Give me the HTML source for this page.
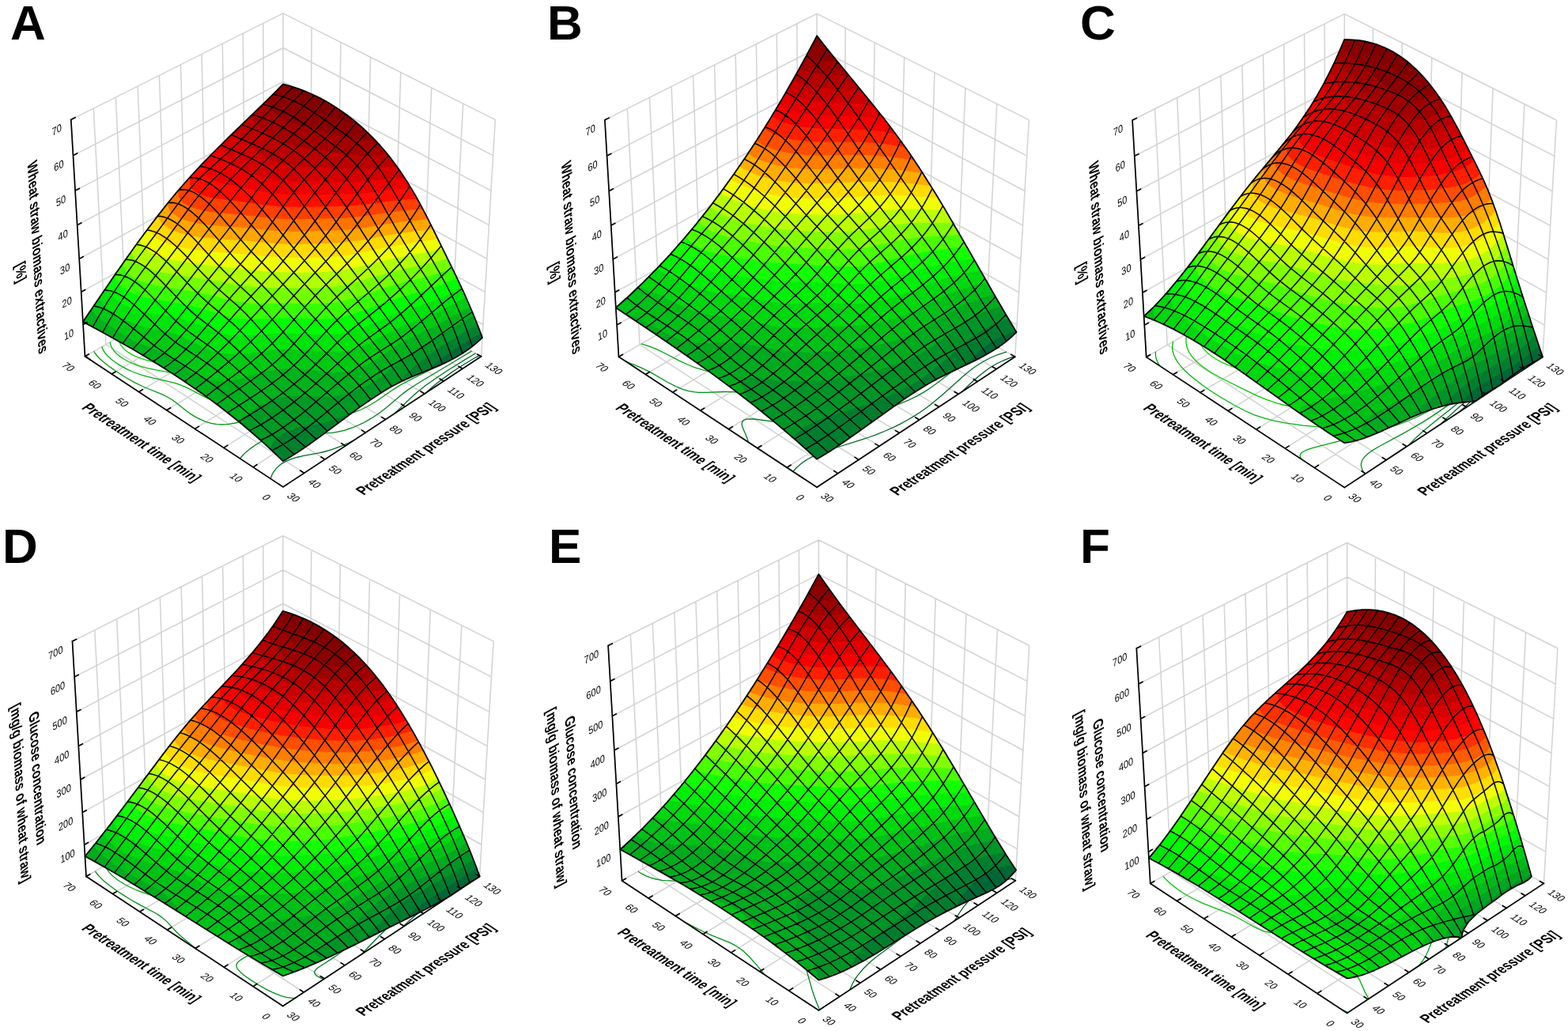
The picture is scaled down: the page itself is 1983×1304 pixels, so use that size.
<!DOCTYPE html><html><head><meta charset="utf-8"><title>Response surface plots</title><style>html,body{margin:0;padding:0;background:#fff}svg{display:block}text{font-family:"Liberation Sans",Arial,sans-serif;fill:#000}</style></head><body><svg xmlns="http://www.w3.org/2000/svg" width="1983" height="1304" viewBox="0 0 1983 1304"><rect width="1983" height="1304" fill="#fff"/><g id="panelA"><path d="M107.5 450.8L89.8 151.3M134 435.5L118.3 137M160.2 420.4L146.4 122.9M186 405.5L174.2 109M211.6 390.7L201.5 95.3M236.7 376.2L228.5 81.8M261.6 361.8L255.1 68.5M286.2 347.7L281.3 55.3M310.4 333.7L307.2 42.3M334.4 319.8L332.8 29.5M358 306.2L358 16.9M608.6 450.8L626.3 151.3M570.8 429L585.6 131M533.7 407.6L545.8 111M497.3 386.6L506.8 91.4M461.5 365.9L468.5 72.2M426.4 345.6L431 53.4M391.9 325.7L394.2 35M358 306.2L358 16.9M107.5 450.8L358 306.2M358 306.2L608.6 450.8M105.1 410.5L358 267M358 267L611 410.5M102.7 369.4L358 227.2M358 227.2L613.4 369.4M100.2 327.4L358 186.7M358 186.7L615.9 327.4M97.7 284.7L358 145.4M358 145.4L618.4 284.7M95.1 241.1L358 103.3M358 103.3L621 241.1M92.5 196.7L358 60.5M358 60.5L623.6 196.7M89.8 151.3L358 16.9M358 16.9L626.3 151.3M358 615.9L107.5 450.8M384.7 598.3L134 435.5M410.9 581L160.2 420.4M436.8 564L186 405.5M462.4 547.2L211.6 390.7M487.6 530.6L236.7 376.2M512.4 514.2L261.6 361.8M537 498L286.2 347.7M561.2 482.1L310.4 333.7M585 466.4L334.4 319.8M608.6 450.8L358 306.2M358 615.9L608.6 450.8M320.1 590.9L570.8 429M282.9 566.4L533.7 407.6M246.4 542.4L497.3 386.6M210.7 518.8L461.5 365.9M175.6 495.7L426.4 345.6M141.2 473.1L391.9 325.7M107.5 450.8L358 306.2" fill="none" stroke="#d2d2d2" stroke-width="1.5"/><g fill="none" stroke-width="1.3"><path d="M606.4 449.6L598.6 453.8L588.7 459.7L579 465.8L569.6 472.1L560.5 478.7L551.6 485.5L545.3 490.8L538.7 496.9" stroke="#00582d"/><path d="M447.9 556.7L441.1 560L431.8 564.2L418.8 568.9L409.6 571.5L403.5 572.9L383.1 576.7L375.3 578.5L368.1 580.7L361.6 583.4L356 586.6L353.5 588.5L349.2 592.6L345.7 597.3L344.3 599.8L342.1 605.4M601.6 446.8L586.8 455.6L567.3 467.8L553 477.2L539 487L530.1 493.9L523.8 499.3L498.7 523.2" stroke="#006d26"/><path d="M116.3 456.6L108.6 450.2M596.6 443.9L572.1 458.8L534.4 481.3L522 489L514.8 493.9L508.1 499.1L488.7 515.4L479.6 522.5L472.2 527.5L467 530.6L458.7 535.2L452.8 538L445.8 540.9L435.3 544.4L427.3 546.2L420.5 547.3L414.5 547.7L403.9 547.8L383.3 546.6L372.6 546.4L363.2 547.1L356.2 548.3L351.3 549.5L344.4 551.8L338 554.5L332.1 557.4L323.9 562.3L316.3 567.6L311.6 571.4L307.3 575.5L303.5 580" stroke="#00821e"/><path d="M591.3 440.9L576.8 449.8L561.5 458.5L545.6 466.9L515.5 482.1L504.8 487.9L494.9 494.2L475.8 507.5L465.5 513.8L456.9 518L447.2 521.6L442.2 523L434.9 524.4L428.7 525.1L422.1 525.3L410.7 524.6L387.5 521.6L378.8 520.8L367.9 520.4L357.9 520.8L349.4 521.7L337.4 524L326.3 526.8L305 533.1L297.5 535L289.4 536.4L285.8 536.8L280.3 537L274.1 536.6L266.9 535.4L260.2 533.4L251.1 529.4L245.6 526.4L240.5 523.1L235.8 519.7L222.4 509L217.7 505.7L212.6 502.5L204.1 498.3L185.7 491L179.8 488.5L171.4 484.4L163.5 480L155.9 475.5L146.3 469.2L139.4 464.4L132.9 459.4L126.8 454.2L123.1 450.5L120 446.5L118.8 444.3" stroke="#009716"/><path d="M585.7 437.6L578.5 442.1L568.4 447.8L552.3 456L538 462.4L508.3 474.8L496.6 479.9L485.6 485.5L466.9 495.8L458.4 500L452.2 502.5L444.5 504.9L437.9 506.3L433.8 506.9L424.8 507.7L419.7 507.8L405 507.2L374 504.8L363.3 504.5L357.7 504.6L349 505.2L340.2 506.1L310.6 510.2L301.6 510.9L296.3 511L291.1 510.8L282.5 510L278.2 509.1L271.4 507.3L262 503.6L240 492.1L234.2 489.4L228.2 486.9L221.7 484.7L214.7 482.8L192.5 477.9L181.9 475.1L175.3 473L166.1 469.5L160.5 466.8L152.6 462.6L145.4 458L141 454.6L137 451.1L133.5 447.3L130.7 443.2L129.7 440.9L128.9 438.5" stroke="#00ac0f"/><path d="M579.9 434.3L572.4 438.6L564.5 442.7L553.3 447.8L544.5 451.5L532.3 456.1L503.7 466L491.3 470.6L482.2 474.3L461.8 483.4L452.7 487.2L442.8 490.5L435.6 492.3L426 493.8L413.8 494.6L403.6 494.6L375.9 493.2L360.2 493L345.8 493.5L315.6 495.8L305.1 496L295.7 495.4L291.5 494.9L283.8 493.4L273.6 490.2L249.4 480.2L243.1 477.9L236.4 475.8L229.3 474L221.9 472.4L198.5 468.2L187.3 465.9L176.9 463.1L170.6 460.9L162.8 457.5L156.8 454.2L152.1 451.1L147.9 447.7L144.3 444L141.5 439.8L139.9 436.1L139.1 432.6" stroke="#00c108"/><path d="M573.8 430.8L560.2 437.3L545.3 443.1L532.5 447.3L495.9 458.3L480 463.9L449.1 475.7L439.1 478.9L431.1 480.8L419.9 482.6L406.6 483.5L395.8 483.5L362.1 482.7L349.2 482.9L324.7 483.9L315.3 483.9L305.1 483.4L300.8 482.9L293 481.5L282.3 478.7L256.3 469.9L245.9 467L231 463.9L195.6 458L184.9 455.4L178.3 453.4L172.2 451.1L166.7 448.4L161.8 445.4L157.6 442.1L154.1 438.3L151.5 434L149.9 429.7L149.3 426.7" stroke="#00d700"/><path d="M567.6 427.2L558.9 430.7L546.4 435L536.4 437.9L508.7 445.1L495.1 448.9L478.8 454.1L446.8 465.1L436.6 468.1L427.8 470.1L417.3 471.7L403.3 472.8L393 472.9L358.3 472.5L327.6 472.7L313.6 472L301.2 470.3L290 467.8L265.6 461.2L254.7 458.7L239.4 455.9L207.7 450.8L196.6 448.5L189.7 446.7L183.3 444.6L177.5 442.1L172.5 439.2L168.1 435.9L164.6 432.2L161.9 428L160.2 423.2L159.7 420.7" stroke="#2ed800"/><path d="M561.3 423.5L551.7 426.6L542.2 429.1L509.4 436.7L495.3 440.1L481.7 443.9L448 454.1L438 456.8L426.8 459.1L418.8 460.3L411.8 461.1L396.2 461.9L381.2 462L345.8 461.5L331.6 460.9L323.1 460.3L305.8 458.2L267.3 451.2L219.9 443.6L208.6 441.4L201.6 439.7L195 437.7L189.1 435.3L183.8 432.6L179.3 429.4L175.6 425.8L172.9 421.7L171.8 419.4L170.3 414.5" stroke="#62d800"/><path d="M554.9 419.8L537.3 423.9L511.2 429L496.5 432.1L482.4 435.4L449 444.1L440.2 446L428.6 448L415 449.7L398.4 450.6L378.2 450.9L358.5 450.5L344.6 449.9L326.9 448.4L262.2 441L235.7 437.2L224.3 435.1L217.1 433.5L210.2 431.7L203.9 429.6L198.2 427.1L193.2 424.2L188.9 421L185.5 417.2L182.9 413L181.2 408.3" stroke="#96d800"/><path d="M548.6 416.2L537.4 418.3L498.9 424.7L484.2 427.7L454.5 434.3L444 436.3L434 437.8L419.1 439.3L400.8 440.3L376.6 440.8L359.9 440.5L341.8 439.3L303.4 435.6L275.1 433.5L263.7 432.4L247.4 430.3L232.3 427.4L222 424.8L215.7 422.6L209.9 420.2L204.8 417.4L200.5 414.2L196.9 410.6L194.2 406.5L192.4 401.8" stroke="#cad800"/><path d="M542.3 412.5L502.3 418L487.1 420.7L453.5 427.2L443.7 428.7L433.3 429.9L414.9 431.1L387.1 432L368.4 432.2L354.3 431.7L341.1 430.7L310.2 427.5L280.1 425.5L267.1 424.5L252.7 422.6L239.9 420L230 417.2L223.9 414.9L218.5 412.3L213.8 409.3L209.8 405.9L206.7 402L205.5 399.9L204.7 397.5L204.1 395" stroke="#d8b900"/><path d="M535.9 408.9L502.7 412.4L490.9 414.2L457.6 420L444.9 421.7L436 422.6L417.9 423.7L380 424.7L365.7 424.8L351.8 424.2L338.8 423L309.5 419.8L270.2 416.7L258.2 415.1L246.7 412.6L240.7 410.9L234.7 408.7L229.3 406L224.6 403L220.8 399.5L219.3 397.6L218.1 395.5L217.1 393.2L216.7 390.9L216.5 387.9" stroke="#d88d00"/><path d="M529.2 405L516.1 405.9L503.4 407.2L491.4 408.7L457.3 414L445.1 415.5L435.1 416.3L421.4 416.9L376.8 418L362.2 417.9L348.7 417.1L336 415.8L307.3 412.3L273.6 408.9L262 407.1L251.6 404.5L245.5 402.3L240.2 399.7L235.8 396.5L233.9 394.8L232.3 392.9L231 390.8L230.1 388.5L229.6 386L229.5 383.7L229.9 380.1" stroke="#d86100"/><path d="M522.2 400.9L508.7 401.7L500.2 402.4L456.6 408.3L444.9 409.5L434.7 410.1L372.8 411.4L358.6 411.1L345.6 410L278 400.5L267.1 398.3L260.6 396.3L257.6 395.2L252.4 392.5L248.5 389.4L246.7 387.3L245 384.3L244 380.4L243.9 377.6L244.7 371.6" stroke="#d83500"/><path d="M514.4 396.5L505.4 396.9L496.8 397.6L460.5 402.2L450.3 403.1L439.5 403.7L371 404.4L360.3 404.1L347.6 402.9L339.8 401.7L328.5 399.6L292.5 391.9L282.4 389.3L276.3 387.1L273.5 385.9L268.9 382.9L267 381.2L265.4 379.3L264.2 377.1L263.4 374.8L262.8 372.4L261.1 362.1" stroke="#d80a00"/><path d="M505.8 391.5L492.8 392.5L461.7 396.1L450.6 396.9L442.2 397.2L430.6 397.1L401.8 396.4L368.4 396.2L359.7 395.6L349.1 394.2L337.1 391.6L324.2 387.6L312.6 382.9L304.9 378.9L300.4 375.8L296.5 372.4L293.3 368.7L284.5 356.9L279.3 351.6" stroke="#c90000"/><path d="M496 385.8L462.8 389.4L452.2 389.9L444.4 389.8L433.5 389.3L405.7 387.2L376.1 385.8L367.7 385L356.4 382.9L349.9 381.1L343.9 378.8L338.6 376.2L331.6 371.7L327.5 368.5L323.7 365L308.1 348.8L298.8 340.4" stroke="#b50000"/><path d="M484.4 379.2L471.9 380.7L461.1 381.4L451.5 381.3L442.9 380.7L431.1 379L405.1 374.1L382.2 370.5L375 369L368.4 367.2L362.3 365L354.3 361.2L347.2 356.9L340.7 352.2L332.8 345.6L325.7 338.6L321.2 332.9L318.9 328.7" stroke="#a00000"/><path d="M469.9 370.8L463.3 371.1L455.5 370.8L450.2 370.3L442.8 368.9L432.6 366.3L414.1 360.8L386.6 353.5L377.1 350.5L371.3 348.3L365.8 345.9L358.3 341.9L351.6 337.4L347.7 334.1L344.3 330.6L341.5 326.7L339.5 322.3L338.4 317.5" stroke="#8c0000"/><path d="M449.3 358.9L442.6 357.3L436.1 355.4L411.7 347.1L391.2 339.4L383 335.8L377.9 333.2L373.2 330.4L368.9 327.3L365.6 324.2L363.7 322.1L361.7 319.2L359.9 316L356.5 307.1" stroke="#780000"/></g><g fill-rule="evenodd" stroke="none"><path d="M358 583.3L344.5 570.4L331.1 558.2L317.8 546.5L304.5 535.3L291.4 524.7L275.7 512.5L262.7 502.9L247.2 491.9L231.9 481.4L216.7 471.5L201.7 462L184.3 451.4L167.1 441.3L150.1 431.7L130.9 421L104.9 406.9L128 372.9L145.9 346.8L161.2 324.9L174 307L186.8 289.7L199.6 272.9L212.3 256.7L222.5 244.3L232.7 232.5L242.9 221.1L253.1 210.1L265.7 197L288.4 174.4L335.8 128.6L348.2 116.4L358 106.4L367.9 109.1L377.8 112.3L387.8 116.2L395.3 119.5L405.4 124.4L413 128.6L423.1 134.7L430.7 139.7L440.9 147.1L448.6 153.2L456.3 159.7L464 166.8L471.7 174.4L479.4 182.6L487.2 191.5L492.3 197.9L500 208L505.1 215.1L510.2 222.7L515.3 230.6L520.4 238.9L525.5 247.5L530.6 256.6L538.1 270.9L545.7 285.8L570.7 336.6L578.2 352.1L585.6 367.9L593 384.5L597.9 396L605.2 414.2L610 427.1L602.8 433.6L598 437.6L593.3 441.2L588.5 444.6L583.7 447.7L574.2 453.3L564.6 458.2L555.1 462.6L523.5 475.4L516.2 478.6L508.8 482L501.3 485.7L496.3 488.3L483.7 495.7L471 503.9L455.6 514.6L442.7 524L408.7 549.4L390.2 562.7L374.2 573.5L366.1 578.5L358 583.3Z" fill="#006836"/><path d="M358 583.3L344.5 570.4L331.1 558.2L317.8 546.5L304.5 535.3L291.4 524.7L275.7 512.5L262.7 502.9L247.2 491.9L231.9 481.4L216.7 471.5L201.7 462L184.3 451.4L167.1 441.3L150.1 431.7L104.9 406.9L145.9 346.8L161.2 324.9L174 307L186.8 289.7L199.6 272.9L212.3 256.7L222.5 244.3L232.7 232.5L242.9 221.1L253.1 210.1L265.7 197L288.4 174.4L335.8 128.6L358 106.4L367.9 109.1L377.8 112.3L387.8 116.2L395.3 119.5L405.4 124.4L413 128.6L423.1 134.7L430.7 139.7L440.9 147.1L448.6 153.2L456.3 159.7L464 166.8L471.7 174.4L479.4 182.6L487.2 191.5L492.3 197.9L500 208L505.1 215.1L515.3 230.6L525.5 247.5L530.6 256.6L538.1 270.9L545.7 285.8L570.7 336.6L583.1 362.6L590.5 378.9L595.5 390.2L602.8 408L608 421.8L600.2 425.9L590.2 431.8L580.5 437.9L571 444.2L561.8 450.7L552.9 457.5L546.5 462.8L539.9 468.8L518.6 477.5L511.2 480.8L503.8 484.4L491.3 491.2L476.1 500.5L465.9 507.4L453.1 516.5L408.7 549.4L392.9 560.8L376.9 571.7L360.7 581.7Z" fill="#00812d"/><path d="M342 568L331.1 558.2L317.8 546.5L304.5 535.3L291.4 524.7L278.3 514.5L265.3 504.8L252.4 495.5L237 484.8L224.3 476.4L209.2 466.7L194.2 457.4L179.4 448.5L147.7 430.3L104.9 406.9L145.9 346.8L161.2 324.9L174 307L186.8 289.7L199.6 272.9L212.3 256.7L222.5 244.3L232.7 232.5L242.9 221.1L253.1 210.1L265.7 197L288.4 174.4L335.8 128.6L358 106.4L367.9 109.1L375.3 111.5L385.3 115.2L392.8 118.3L402.9 123.1L410.4 127.1L420.6 133.1L428.2 138L440.9 147.1L451.2 155.3L458.9 162L464 166.8L474.3 177.1L484.6 188.5L494.9 201.2L505.1 215.1L512.8 226.6L523 243.1L530.6 256.6L538.1 270.9L548.2 290.9L573.2 341.7L583.1 362.6L593 384.5L597.9 396L603.7 410.5L588.7 419.2L571.6 429.8L557.1 439.1L545.2 447.1L533.8 455.5L525.2 462.6L519.1 468.2L505.2 481.6L500 486.4L488.8 492.6L476.1 500.5L463.3 509.2L448.7 519.6L441.8 522.9L432.5 527L425.9 529.5L419.3 531.8L410 534.4L402 536.2L383.3 539.6L375.4 541.3L368.2 543.5L361.7 546.2L356 549.4L353.5 551.2L351.2 553.2L349.1 555.3L347.3 557.5L345.6 560L344.2 562.5L342 567.9Z" fill="#009a24"/><path d="M302.9 533.9L283.5 518.5L265.3 504.8L244.7 490.1L224.3 476.4L199.2 460.4L174.5 445.6L147.7 430.3L113.7 411.6L106 405.2L140.8 354.2L166.3 317.7L189.3 286.3L199.6 272.9L209.8 259.9L222.5 244.3L235.3 229.6L248 215.6L260.7 202.2L283.4 179.3L333.4 131L358 106.4L367.9 109.1L377.8 112.3L387.8 116.2L395.3 119.5L402.9 123.1L410.4 127.1L418 131.5L425.6 136.3L433.3 141.5L440.9 147.1L448.6 153.2L456.3 159.7L464 166.8L469.2 171.8L476.9 179.8L482 185.5L489.7 194.7L494.9 201.2L505.1 215.1L515.3 230.6L525.5 247.5L535.6 266L548.2 290.9L578.2 352.1L590.5 378.9L599.1 399L569.4 416.7L536.3 436L523.7 443.8L516.5 448.6L509.7 453.7L490.2 469.9L480.9 476.9L473.5 481.9L468.2 485L462.7 488L453.9 492.3L446.8 495.2L436.2 498.6L428 500.5L421.2 501.5L415.1 502L404.4 502.1L383.6 500.9L372.7 500.7L363.3 501.4L356.2 502.5L351.2 503.8L344.2 506L337.8 508.6L331.8 511.6L326.2 514.8L318.4 519.9L313.4 523.6L308.8 527.5L304.7 531.7Z" fill="#00b21b"/><path d="M177.9 434.7L169 430.5L158.4 424.7L148.4 418.6L136.7 410.7L127.9 404L121.9 398.8L118.5 395L117 393L115.8 390.8L143.3 350.5L166.3 317.7L186.8 289.7L204.7 266.3L222.5 244.3L237.8 226.7L255.6 207.5L275.8 186.8L293.5 169.5L335.8 128.6L358 106.4L367.9 109.1L375.3 111.5L382.8 114.2L390.3 117.2L397.8 120.6L405.4 124.4L413 128.6L420.6 133.1L428.2 138L435.8 143.4L448.6 153.2L456.3 159.7L461.5 164.4L469.2 171.8L474.3 177.1L482 185.5L487.2 191.5L497.4 204.5L507.7 218.9L515.3 230.6L523 243.1L533.1 261.3L545.7 285.8L573.2 341.7L585.6 367.9L594.2 387.4L579.5 396.2L564.1 404.8L545.2 414.5L520.2 426.8L506.7 434L496.7 440.2L474.8 455L469.6 458.1L464.1 461.1L455.1 465L448.4 467.3L441 469.2L432.7 470.5L424.1 470.9L417.4 470.8L409.7 470.1L391.6 467.8L379.1 466.5L368 466.1L358.1 466.5L349.2 467.5L337.1 469.7L325.9 472.5L304.3 478.7L299.4 479.9L291.5 481.6L284.9 482.4L279.3 482.6L274.4 482.3L270.1 481.8L265.7 480.9L259 479L255.7 477.7L249.7 475L244.1 472.1L239 468.8L234.2 465.4L220.7 454.8L215.8 451.5L210.7 448.4L205.5 445.7L202.2 444.3L180.4 435.8Z" fill="#00cb12"/><path d="M163.2 407L157.5 404.4L149.6 400.2L142.3 395.6L137.8 392.3L133.8 388.9L130.3 385.1L127.4 381L126.3 378.8L125.6 376.4L148.4 343.1L168.9 314.1L186.8 289.7L204.7 266.3L217.4 250.5L230.2 235.4L242.9 221.1L258.1 204.8L280.9 181.8L333.4 131L358 106.4L367.9 109.1L375.3 111.5L382.8 114.2L390.3 117.2L397.8 120.6L405.4 124.4L418 131.5L425.6 136.3L433.3 141.5L446.1 151.1L453.8 157.5L458.9 162L466.6 169.3L471.7 174.4L479.4 182.6L484.6 188.5L494.9 201.2L505.1 215.1L515.3 230.6L523 243.1L533.1 261.3L543.2 280.8L570.7 336.6L580.6 357.3L589.1 375.6L581.7 380L574.1 384.2L560.7 391L549.4 396.3L543.6 398.8L510.5 412.2L498.7 417.3L487.5 422.9L468.5 433.1L459.9 437.2L453.6 439.6L446.8 441.7L439.1 443.4L430.5 444.5L420.7 444.8L410.5 444.6L377.9 442.2L363.1 441.7L353.5 442L344.3 442.7L312.9 446.9L305.3 447.6L295.5 448L290.3 447.9L281.4 447L273.6 445.4L270.1 444.4L263.6 442.1L257.7 439.4L241 430.8L235.3 428L229.4 425.4L223 423.1L216.2 421L212.6 420.1L190 415.3L182.7 413.5L172.6 410.5L163.3 407Z" fill="#00e40a"/><path d="M159.6 386.5L156 384.7L151 381.7L146.4 378.5L142.5 375L139.2 371.2L137.9 369.1L136.8 366.8L136 364.4L135.4 361.9L163.8 321.3L176.6 303.5L189.3 286.3L202.1 269.6L212.3 256.7L225.1 241.3L235.3 229.6L253.1 210.1L273.3 189.3L290.9 171.9L335.8 128.6L358 106.4L367.9 109.1L377.8 112.3L387.8 116.2L395.3 119.5L402.9 123.1L410.4 127.1L423.1 134.7L435.8 143.4L448.6 153.2L456.3 159.7L461.5 164.4L471.7 174.4L479.4 182.6L484.6 188.5L494.9 201.2L505.1 215.1L512.8 226.6L523 243.1L530.6 256.6L538.1 270.9L545.7 285.8L573.2 341.7L583.6 363.6L575.9 367.8L570.6 370.5L562.3 374.4L553.7 378.2L538.4 384L506.2 394.8L493.5 399.4L484.3 403.1L463.6 412.1L454.3 415.8L444.3 419L436.9 420.8L428.7 422.1L419.7 422.9L414.8 423.1L404.3 423L376.2 421.7L361 421.5L345.6 422L320.6 423.9L309.4 424.4L299.3 424.3L290.4 423.4L282.5 421.9L275.5 419.9L265.9 416.3L247.5 408.9L241.1 406.6L234.4 404.5L227.2 402.7L219.6 401.1L195.8 397.1L184.4 394.8L172.9 391.7L167.5 389.8L161.5 387.4Z" fill="#00fd01"/><path d="M170.9 372.3L165.9 370.1L160.6 367.4L155.9 364.2L152 360.7L150.3 358.8L148.9 356.8L147.6 354.7L146.6 352.4L145.9 350L145.5 347.4L166.3 317.7L186.8 289.7L204.7 266.3L220 247.4L230.2 235.4L240.3 223.9L253.1 210.1L265.7 197L288.4 174.4L335.8 128.6L358 106.4L365.4 108.3L372.8 110.6L385.3 115.2L392.8 118.3L400.3 121.9L413 128.6L420.6 133.1L428.2 138L440.9 147.1L453.8 157.5L461.5 164.4L466.6 169.3L474.3 177.1L479.4 182.6L489.7 194.7L500 208L510.2 222.7L520.4 238.9L528 252L535.6 266L543.2 280.8L577.9 351.4L572.4 354.1L564 357.8L549 363.5L538.5 366.9L508.5 375.5L495.2 379.6L482.3 384L457.3 393.4L447.5 396.8L437 399.7L429.4 401.3L421 402.5L411.9 403.2L401.8 403.4L372.4 402.6L359.1 402.5L318.7 403.8L308.7 403.6L299.7 402.7L291.7 401.4L284.4 399.6L277.5 397.5L254.3 390L243.8 387.1L236.4 385.5L228.6 384L200.4 379.6L192.6 378.2L181.6 375.7L171.7 372.6Z" fill="#37ff00"/><path d="M178.7 355.9L173.8 353.8L168.6 351L164.2 347.8L162.3 346L160.6 344.1L159.1 342.1L157.9 340L156.9 337.7L156.2 335.3L155.6 332.8L176.6 303.5L194.4 279.5L212.3 256.7L227.6 238.3L237.8 226.7L248 215.6L268.3 194.4L288.4 174.4L335.8 128.6L358 106.4L365.4 108.3L372.8 110.6L385.3 115.2L392.8 118.3L400.3 121.9L413 128.6L425.6 136.3L438.4 145.2L451.2 155.3L458.9 162L464 166.8L471.7 174.4L476.9 179.8L487.2 191.5L497.4 204.5L507.7 218.9L517.9 234.7L525.5 247.5L533.1 261.3L540.6 275.8L571.9 339.2L563 342.6L550.3 346.9L540.1 349.7L511.8 356.8L498 360.5L481.3 365.6L452 375.4L441.8 378.4L430.8 381L422.8 382.4L414.1 383.4L404.7 383.9L394.7 384.1L357.8 383.7L327 383.8L317.2 383.5L308.3 382.7L300 381.5L292.3 379.9L285 378.2L263.7 372.6L252.6 370.1L240.9 368L208.6 363L196.9 360.9L186.2 358.3L179.7 356.3Z" fill="#74ff00"/><path d="M182.8 337.3L177.4 334.2L173.3 330.9L171.5 329L170 327.1L168.7 325L167.6 322.8L166.7 320.5L166.1 318L179.1 300L191.9 282.9L204.7 266.3L217.4 250.5L227.6 238.3L240.3 223.9L250.5 212.8L263.2 199.6L285.9 176.8L338.3 126.2L358 106.4L367.9 109.1L377.8 112.3L387.8 116.2L395.3 119.5L407.9 125.7L420.6 133.1L433.3 141.5L446.1 151.1L453.8 157.5L458.9 162L469.2 171.8L479.4 182.6L489.7 194.7L500 208L507.7 218.9L517.9 234.7L525.5 247.5L533.1 261.3L540.6 275.8L565.9 326.8L556.1 329.8L546.4 332.3L509.2 340.5L494.9 344L481.1 347.8L454 355.7L439.8 359.4L428.4 361.7L420.2 362.9L411.4 363.8L401.6 364.3L381.7 364.5L340.6 363.9L326.3 363.2L313 361.9L296 359.5L261.2 353.3L224.7 347.8L212.8 345.9L205.2 344.4L198 342.7L191.3 340.7L185.2 338.4Z" fill="#b1ff00"/><path d="M201 324.2L197.1 322.8L191.6 320.2L186.8 317.2L184.7 315.5L181.2 311.9L179.8 309.9L178.6 307.7L177.6 305.5L176.8 303.1L197 276.2L207.2 263.1L217.4 250.5L227.6 238.3L240.3 223.9L250.5 212.8L263.2 199.6L285.9 176.8L338.3 126.2L358 106.4L367.9 109.1L375.3 111.5L382.8 114.2L390.3 117.2L402.9 123.1L410.4 127.1L418 131.5L430.7 139.7L443.5 149.1L451.2 155.3L456.3 159.7L464 166.8L469.2 171.8L479.4 182.6L489.7 194.7L500 208L510.2 222.7L517.9 234.7L525.5 247.5L535.6 266L545.7 285.8L559.7 314.4L552.7 316.1L541.7 318.5L515 323.4L500 326.4L485.5 329.7L457.1 336.8L442.2 340L434.4 341.4L422.6 343L410.6 344L398.8 344.6L378.7 344.8L358.5 344.5L339.6 343.5L321.7 342L259.8 335.1L240.7 332.6L228.7 330.8L217.2 328.6L210 326.9L203.3 325Z" fill="#eeff00"/><path d="M202.3 304.1L198.4 301.8L196.3 300.2L192.6 296.6L191.1 294.6L189.8 292.6L188.8 290.4L188 288L204.7 266.3L217.4 250.5L230.2 235.4L242.9 221.1L258.1 204.8L280.9 181.8L333.4 131L358 106.4L365.4 108.3L372.8 110.6L385.3 115.2L392.8 118.3L400.3 121.9L413 128.6L423.1 134.7L433.3 141.5L443.5 149.1L453.8 157.5L464 166.8L471.7 174.4L482 185.5L489.7 194.7L497.4 204.5L505.1 215.1L512.8 226.6L520.4 238.9L528 252L535.6 266L543.2 280.8L553.7 302.1L542.2 304.1L514.4 308.4L502.7 310.4L487.6 313.3L457.1 319.8L446.3 321.7L438.2 322.9L423.7 324.5L412.1 325.2L397.1 325.8L382.2 326L364.8 325.9L345.9 325L306.2 321.4L269.9 318.7L254.6 317.2L240.4 315.2L232.7 313.8L225.3 312.2L218.4 310.4L211.9 308.4L206 306L203.3 304.7Z" fill="#ffda00"/><path d="M224.6 293.6L220.1 292L214.5 289.5L209.7 286.6L207.5 285L205.6 283.2L203.8 281.4L202.4 279.5L201.2 277.3L200.3 275.1L199.8 272.6L217.4 250.5L227.6 238.3L240.3 223.9L250.5 212.8L263.2 199.6L285.9 176.8L338.3 126.2L358 106.4L367.9 109.1L375.3 111.5L387.8 116.2L400.3 121.9L413 128.6L425.6 136.3L438.4 145.2L448.6 153.2L456.3 159.7L461.5 164.4L471.7 174.4L482 185.5L492.3 197.9L502.5 211.5L510.2 222.7L520.4 238.9L528 252L538.1 270.9L547.6 289.7L514.6 293.9L502.5 295.6L490.8 297.6L459.8 303.3L448.2 305.1L439.8 306.1L427.8 307.2L416.6 307.8L379 308.8L363.8 308.7L349.6 308.1L336.2 307L308.8 304.3L277.9 302.3L264.5 301.3L251.9 299.8L244 298.5L233 296.1L226.3 294.2Z" fill="#ffa600"/><path d="M232.9 277.8L228 275.8L222.8 273.1L218.5 269.9L216.6 268.2L215.1 266.3L213.8 264.2L212.9 262L212.3 259.5L212.2 256.8L227.6 238.3L245.4 218.3L260.7 202.2L275.8 186.8L293.5 169.5L335.8 128.6L358 106.4L370.4 109.8L382.8 114.2L395.3 119.5L405.4 124.4L418 131.5L428.2 138L440.9 147.1L451.2 155.3L461.5 164.4L471.7 174.4L482 185.5L489.7 194.7L500 208L507.7 218.9L517.9 234.7L525.5 247.5L533.1 261.3L541.3 277.2L515.5 279.7L503 281.2L460.7 288L451.3 289.3L441.5 290.3L429.8 291.2L418.8 291.6L375.7 292.7L361 292.6L347.1 291.8L305.8 287.7L276.3 285.7L267.5 284.9L255.1 283.3L247.5 281.9L240.4 280.2L233.9 278.2Z" fill="#ff7300"/><path d="M238.8 260.6L234 258L231.8 256.4L229.9 254.7L228.2 252.8L226.9 250.8L226 248.6L225.4 246.1L225.4 243.4L225.8 240.5L235.3 229.6L245.4 218.3L255.6 207.5L268.3 194.4L288.4 174.4L335.8 128.6L358 106.4L370.4 109.8L382.8 114.2L395.3 119.5L405.4 124.4L415.5 130L425.6 136.3L435.8 143.4L443.5 149.1L453.8 157.5L461.5 164.4L469.2 171.8L476.9 179.8L484.6 188.5L492.3 197.9L500 208L507.7 218.9L515.3 230.6L520.4 238.9L528 252L534.8 264.6L516.8 265.8L504 267.1L460.5 273.3L442.1 275.2L430.7 275.9L419.9 276.2L382.6 277.1L367.2 277.2L357.5 276.9L343.9 275.9L309.2 272L279.4 269.3L266.7 267.9L258.8 266.6L251.5 265L244.9 263L239 260.7Z" fill="#ff3f00"/><path d="M254.7 246.4L251.4 244.9L248.8 243.6L246.5 242.1L244.5 240.4L242.8 238.6L241.5 236.5L240.6 234.3L240.1 231.9L240 229.2L240.8 223.4L245.4 218.3L260.7 202.2L275.8 186.8L293.5 169.5L335.8 128.6L358 106.4L367.9 109.1L377.8 112.3L390.3 117.2L400.3 121.9L410.4 127.1L420.6 133.1L430.7 139.7L440.9 147.1L451.2 155.3L461.5 164.4L471.7 174.4L479.4 182.6L489.7 194.7L497.4 204.5L505.1 215.1L512.8 226.6L520.4 238.9L527.9 251.7L513.9 252.4L505.2 253.2L496.7 254.1L460 258.9L442.2 260.4L425.9 260.9L378.5 261.8L368.3 261.8L358.7 261.5L349.6 260.9L332.6 259L305.5 255.1L275.2 251.3L263.9 249.2L257.2 247.3Z" fill="#ff0c00"/><path d="M279.7 231.5L273.3 229.4L267.9 226.9L265.6 225.4L263.6 223.7L262 221.9L260.8 219.8L259.9 217.6L259.3 215.2L257.6 205.3L280.9 181.8L333.4 131L358 106.4L360.5 107L372.8 110.6L382.8 114.2L395.3 119.5L405.4 124.4L418 131.5L428.2 138L438.4 145.2L448.6 153.2L458.9 162L469.2 171.8L479.4 182.6L487.2 191.5L497.4 204.5L505.1 215.1L512.8 226.6L520.2 238.4L510.8 238.9L501.9 239.5L465.7 243.8L448 245.2L431.9 245.7L406.4 245.7L376.6 246.1L366.3 246L360.4 245.8L351.5 245.1L343.1 244.1L335.1 242.9L304.9 237.1L290.1 234.1L283 232.4Z" fill="#ed0000"/><path d="M321.1 220.3L313.8 217.6L308.1 215.2L302.9 212.6L298.2 209.6L296.1 208L292.4 204.6L289.2 200.9L283.3 193.3L280 189.7L276.3 186.3L293.5 169.5L335.8 128.6L358 106.4L367.9 109.1L375.3 111.5L385.3 115.2L395.3 119.5L405.4 124.4L413 128.6L423.1 134.7L433.3 141.5L443.5 149.1L451.2 155.3L458.9 162L466.6 169.3L474.3 177.1L482 185.5L489.7 194.7L497.4 204.5L505.1 215.1L511.5 224.7L498 225.6L465.7 229.1L459.8 229.6L448.7 230.1L433.4 230.1L403.5 229.4L373.7 229.4L359.7 228.7L355.4 228.2L347.4 227L339.9 225.6L332.8 223.9L322.9 220.9Z" fill="#d50000"/><path d="M338.3 201.2L335.3 199.6L330.5 196.7L324.3 191.9L318.7 186.8L306.1 174.7L296.5 166.6L335.8 128.6L358 106.4L367.9 109.1L377.8 112.3L387.8 116.2L397.8 120.6L405.4 124.4L413 128.6L425.6 136.3L433.3 141.5L440.9 147.1L453.8 157.5L461.5 164.4L466.6 169.3L474.3 177.1L479.4 182.6L489.7 194.7L494.9 201.2L501.6 210.2L467 213.6L456.1 214.1L441.3 213.9L407.7 211.5L381.4 210.4L368.1 209.4L360.1 208.2L352.9 206.6L346.4 204.6L340.5 202.3Z" fill="#bd0000"/><path d="M365.5 182.3L359.6 180.1L351.6 176.3L344.4 172L337.9 167.4L329.8 161L324.4 156L321.1 152.4L319.7 150.6L317.3 146.6L340.8 123.7L358 106.4L367.9 109.1L377.8 112.3L385.3 115.2L392.8 118.3L400.3 121.9L407.9 125.7L415.5 130L423.1 134.7L430.7 139.7L438.4 145.2L446.1 151.1L453.8 157.5L461.5 164.4L466.6 169.3L474.3 177.1L479.4 182.6L489.8 194.8L476.8 196.3L465.5 197L455.5 196.9L446.5 196.2L434.2 194.6L407.1 190L383.2 186.5L372.2 184.2L365.6 182.3Z" fill="#a50000"/><path d="M378.3 158.5L371.9 156.3L363.4 152.8L355.9 148.8L349.2 144.4L345.4 141.1L343.7 139.4L340.8 135.6L339.6 133.6L338.7 131.5L338 129.3L337.6 126.9L358 106.4L370.4 109.8L377.8 112.3L385.3 115.2L397.8 120.6L405.4 124.4L413 128.6L425.6 136.3L438.4 145.2L451.2 155.3L458.9 162L464 166.8L474.9 177.8L468 178.1L459.9 177.8L454.3 177.3L446.5 176L439.3 174.4L416.6 168.2L391.2 162.1L381.2 159.4Z" fill="#8e0000"/><path d="M394.2 139.3L386.9 136.5L381.4 134.1L376.3 131.6L371.6 128.8L367.4 125.7L363.9 122.3L361.8 119.6L360 116.5L356.4 108.1L358 106.4L370.4 109.8L380.3 113.2L390.3 117.2L400.3 121.9L410.4 127.1L418 131.5L428.2 138L435.8 143.4L446.1 151.1L453.6 157.4L446.5 155.9L436.5 153.1L414.2 146.1L395.7 139.8Z" fill="#820000"/></g><path d="M343.8 569.8L352.8 565.2L361.8 559.9L370.7 554.1L379.6 547.8L388.4 541.1L397.2 534.2L429.9 507.3L442.9 496.9L455.7 487.1L466.4 479.6L474.9 473.9L483.3 468.7L491.6 463.9L514.4 451.4L520.6 447.8L528.8 442.6L545.1 431.6L581.4 405.5L597.3 394.5M372.2 574.7L321 529.2L303.4 513.8L286 499.3L270.9 487.6L260.1 479.9L249.5 472.7L238.9 465.8L213.8 450.2L201.3 441.7L195.1 437.1L188.9 432.2L162.2 410.4L154 404.3L148 400L139.9 395L136 392.9L132 391L128.1 389.4L124.2 388.2L118.4 386.9M329.7 556.9L338.7 552.5L343.2 550L349.9 546L361.1 538.7L372.1 530.6L381 523.8L391.9 514.8L433.2 479.4L441.8 472.3L450.3 465.4L458.8 458.9L467.3 452.9L475.7 447.4L498.6 432.8L504.8 428.6L511 424.1L519.3 417.7L527.5 411L554.1 388.6L564.3 380.2L574.3 372.3L584.3 365.1M386.3 565.4L350.6 534.2L308.8 497.1L291.4 482.3L276.4 470.2L263.6 460.6L252.9 453.3L227.8 436.9L221.5 432.5L215.3 427.7L209 422.5L202.8 416.9L175.8 391.2L169.7 385.7L163.5 380.7L159.5 377.6L155.5 374.9L151.4 372.5L147.5 370.5L143.5 369L139.6 367.8L135.7 367.2L131.9 367.1M315.7 544.7L322.5 541.2L329.2 537.5L335.9 533.5L344.8 527.9L351.5 523.4L360.4 517.1L369.2 510.4L377.9 503.5L386.7 496.2L397.6 486.7L406.2 478.9L432.1 455L440.6 447.4L447 442L453.4 437L459.7 432.2L489 411.2L497.4 404.7L507.7 396.1L516 388.9L526.3 379.6L559 348.9L571.2 337.7M400.2 555.6L382.3 539.6L340.3 503.4L296.8 464.2L281.8 451.2L273.3 444.2L266.9 439.4L245.8 424.6L237.4 418.5L231.2 413.6L227 410.1L220.7 404.3L214.5 398.2L189.5 372.7L183.3 366.8L177.2 361.4L173.1 358.2L169 355.3L165 352.8L161 350.8L157 349.1L153.1 348L149.2 347.5L145.3 347.6M301.8 533L313 526.5L324.2 519.7L335.4 512.7L344.2 506.7L353.1 500.5L361.8 493.9L370.6 486.9L377.1 481.4L385.8 473.7L392.3 467.6L401 459.1L424.6 435.2L431.1 429L437.4 423.1L443.8 417.6L450.2 412.4L475.4 392.7L485.8 384.2L498.2 373.4L508.6 364L521 352L533.3 339.2L545.7 325.5L558 311M414.1 545.4L405.2 536.7L394 526.6L382.9 517.2L358.6 497.3L349.8 489.8L341.1 482L328.1 469.8L300 442.1L287.1 430.1L276.5 421.2L251.2 401.8L244.9 396.6L240.7 392.9L230.2 382.8L203.1 354.7L196.9 348.7L190.8 343.2L186.7 339.9L182.6 336.9L178.6 334.3L174.6 332.1L170.6 330.3L166.6 329.1L162.7 328.4L158.8 328.3M287.9 521.9L323.8 498.9L339.2 488.4L348 481.9L354.6 476.9L363.3 469.6L369.8 463.8L376.3 457.7L382.8 451.1L391.5 441.9L413 418.4L421.5 409.5L427.9 403.2L434.3 397.3L442.8 389.8L468 368.5L480.5 357.7L493 346.2L503.3 335.9L513.7 324.7L524.1 312.5L534.4 299.1L540.7 290.4L544.9 284.2M427.9 535.1L419 525.6L414.5 521.3L407.8 515.1L396.7 505.7L376.8 489.9L368 482.7L359.3 475.2L350.6 467.2L344.1 461L337.5 454.4L309.5 424.3L298.8 413.4L294.5 409.4L288.1 403.8L264.9 384.6L254.4 375.3L243.9 365L218.8 338.9L212.6 332.8L206.4 327.1L200.3 322L196.2 318.9L192.1 316.3L188.1 314L184.1 312.1L180.1 310.7L176.2 309.8L172.3 309.4M274.2 511.4L287.7 501.7L318.9 480.5L332.1 470.9L340.8 464.1L347.4 458.6L353.9 452.8L360.4 446.6L366.9 439.9L373.4 432.9L401.4 401L407.8 393.9L416.4 385L422.7 378.7L431.2 370.6L458.6 345.8L469 336L479.4 325.7L489.9 314.8L496.1 307.7L502.3 300.3L508.6 292.3L512.8 286.8L519 278L523.2 271.8L531.6 258.6M441.6 524.8L437.2 519.5L430.5 512.2L426 507.7L419.3 501.5L408.2 492L388.4 476.2L379.6 468.9L370.9 461.2L362.1 453L355.6 446.5L349.1 439.6L321.1 407.7L310.4 396.3L299.7 386.1L276.4 365.7L268 357.9L257.5 347.3L234.5 323.1L228.3 316.8L222.1 311L215.9 305.7L211.8 302.4L205.7 298.3L201.6 295.9L197.6 294L193.6 292.6L189.6 291.6L185.7 291.1M260.5 501.3L271.8 492.7L303 469.6L318.4 457.5L327.1 450.1L333.7 444.3L342.4 436.2L348.9 429.6L355.4 422.8L361.9 415.6L387.7 386L398.4 374.2L411.2 360.9L434.5 337.7L445 327L457.6 313.7L468.1 302.1L476.4 292.3L482.7 284.7L495.2 268.6L501.5 260L507.8 251.1L518.3 235.3M455.2 514.9L450.8 509.2L444.1 501.4L439.7 496.7L433 490L421.9 479.9L402 463.2L393.3 455.5L382.4 445.4L373.7 436.8L367.1 430L360.6 422.8L336.9 395.6L326.2 383.8L315.5 373L292.2 351.5L281.6 341.2L271.1 330.1L250.2 307.1L243.9 300.6L237.7 294.4L231.5 288.8L227.4 285.5L221.2 281L217.1 278.6L213.1 276.5L211.1 275.7L207.1 274.4L203.1 273.6L199.2 273.4M247 491.7L260.5 481.2L273.8 470.4L287.1 459.3L298.2 449.7L309.1 439.7L320.1 429.3L330.9 418.4L339.6 409.3L350.4 397.5L380.5 364.2L416.7 325.5L431.4 308.6L444.1 293.3L456.7 277.5L504.8 214.8M468.7 505.5L464.3 499.5L459.9 493.9L455.4 488.7L448.8 481.3L442.1 474.5L435.5 468L406.9 441.3L398.2 432.6L389.4 423.7L378.6 412.1L350.6 380.7L339.8 369.2L329.2 358.4L305.8 335.9L295.2 325L286.8 315.6L263.7 289L257.4 282.2L251.2 275.9L245 270.2L240.8 266.8L234.7 262.5L230.6 260.2L226.5 258.3L224.5 257.6L220.5 256.6L216.5 256.2L212.6 256.4M233.5 482.5L244.8 473.9L251.5 468.3L258.1 462.6L271.4 450.3L284.6 437.4L297.8 423.9L315.2 405.5L354.1 363.7L379.7 335.7L396.8 316.5L409.5 301.1L422.2 284.7L453.8 242L466.4 225.6L472.6 217.8L478.9 210.3L485.1 203.3L491.3 196.7M482.1 496.7L475.5 487.6L468.9 479.2L462.2 471.3L455.6 463.9L446.8 454.4L427 434L418.3 424.8L374.9 377.5L359.8 361.4L349.1 350.2L327.8 328.6L317.2 317.5L304.5 303.3L279.3 273.5L273 266.5L266.7 260.1L260.5 254.2L254.3 249.2L248.1 245.1L244.1 242.9L240 241.3L238 240.7L234 239.9L230 239.7L226 240.2M220.2 473.7L224.7 470.6L229.2 467.2L238.1 459.8L247 451.7L258 440.6L273.4 424L308.2 384.7L340.6 349.8L351.3 337.9L359.8 328.1L368.4 317.9L385.4 296.7L400.2 277.2L431.9 234.6L440.3 223.6L448.7 213L457.1 202.9L463.3 195.8L471.6 186.9L477.8 180.9M495.4 488.8L491 482.6L484.4 473.6L477.8 465.1L471.2 457L462.4 446.6L438.3 419.1L414.4 391.3L397 372L364.8 337.5L349.8 321.1L330.7 299.5L303.2 267.5L296.9 260.5L290.6 253.8L282.3 245.5L276.1 240L269.8 235.2L263.7 231.1L257.5 228L253.5 226.5L251.4 225.8L247.4 225L245.4 224.8L241.4 224.7L239.4 224.9M207 465.2L211.5 462.3L216 459L220.4 455.4L224.9 451.6L233.7 443.2L242.5 434L249.1 426.7L257.9 416.6L284 385.2L294.8 372.4L329.3 334L337.8 323.8L346.4 312.9L354.9 301.6L384.6 261.3L395.2 247.5L405.8 234.2L418.4 218.8L433.1 201.6L447.7 185.1L464.3 167M508.5 482.1L497.6 466.2L491 457.3L484.4 448.7L430 380.6L423.5 372.8L414.8 362.8L389 334.3L378.2 322.1L367.6 309.2L339.9 275L331.4 265L323 255.7L312.5 245L304.1 237.2L297.8 231.9L293.7 228.7L285.4 222.9L281.3 220.4L277.1 218.1L273 216.1L269 214.4L264.9 213L260.8 211.8L256.8 211L252.8 210.4M193.8 457.1L198.3 454.1L202.8 450.7L207.3 447L213.9 440.9L218.3 436.5L224.9 429.6L235.9 417.1L246.8 403.9L270.6 373.8L279.3 363.2L287.9 352.9L309.4 328L320.1 314.8L326.5 306.4L332.9 297.5L360.6 257.7L367 249.1L375.4 238.3L383.9 228.3L392.3 218.9L400.7 210L421.7 188.2L432.1 177L442.5 165.2L450.8 155M521.5 476.3L517.1 469.3L510.6 459.4L504.1 449.8L497.6 440.7L488.9 428.9L467.1 400.3L445.5 371.4L436.8 360.3L430.4 352.3L404.5 321.8L393.8 308.8L385.3 297.7L361.8 266.2L353.3 255.5L347 248.1L338.5 239.3L330.1 231.5L321.7 224.7L317.5 221.7L311.2 217.5L307.1 214.9L300.9 211.4L290.6 206.2L284.4 203.5L278.3 201L266.1 196.6M180.8 449.3L185.3 445.7L192 439.7L196.4 435.4L203 428.6L214 416.4L227 400.6L266 350.5L293.9 316.2L304.6 302.6L315.3 288L343 247.9L351.4 236.5L357.8 228.6L366.3 219L374.7 210.2L383.1 202L404 182.3L410.3 176.1L416.5 169.7L422.8 162.8L426.9 157.9L433.2 150.1L437.3 144.4M534.3 471.1L527.9 459.5L519.3 445.3L510.6 432.1L499.8 416.6L478.2 386.9L458.7 359.8L450.1 348.1L441.5 336.7L417.9 306.1L409.3 294.8L385.9 262.4L377.4 250.9L371 242.8L364.6 235.3L358.3 228.5L354 224.5L349.8 220.8L345.6 217.3L341.4 214.2L333 208.6L324.6 203.8L316.3 199.6L308 195.9L289.6 188L279.4 183.2M167.9 441.8L176.7 432.2L187.7 419.7L198.6 406.5L211.7 390.2L252.7 336.7L287.1 292.4L297.7 278.2L323.3 243.1L331.8 232L338.1 224.2L346.6 214.6L357.1 203.7L365.6 195.7L388.6 174.5L394.8 168.5L401.1 162.2L407.3 155.6L413.5 148.4L419.8 140.7L423.9 135.2M547.1 465.9L540.8 452.7L536.5 444.5L532.2 436.8L523.7 422.5L515 409.3L508.6 400L484.8 366.7L439.8 301.6L416.3 268.2L407.8 256.4L399.2 245L392.8 236.9L386.5 229.2L378 220L373.7 215.8L369.5 211.9L365.3 208.3L361 205L356.8 202L350.5 197.8L342.1 192.9L331.7 187.7L323.4 183.9L302.8 175L292.7 170.3M155.1 434.5L179 402.2L235.2 328.3L275.9 274.1L293 252.1L305.8 236.4L314.3 226.4L320.6 219.2L333.3 205.7L346 193.2L375.3 165.4L389.9 150.8L400.2 139.5L410.6 127.2M559.7 460.5L553.5 445.4L547.2 431.9L543 423.6L538.8 415.9L534.5 408.6L530.2 401.6L521.6 388.6L500.1 358L485.1 335.7L472.3 316L448.8 278.5L438.2 262.2L431.8 252.9L427.5 247L421.1 238.7L414.7 230.8L410.4 225.8L404 218.8L397.6 212.3L391.3 206.3L387 202.6L380.7 197.3L374.3 192.5L368 188.1L361.7 184L355.4 180.2L349.1 176.8L340.8 172.5L326.3 165.9L305.8 157.6M142.4 427.3L151 413.4L159.6 400.2L168.2 387.6L176.8 375.4L192 355L224.3 312.5L256.3 268.7L264.9 257.5L271.3 249.6L282 237.3L292.6 225.9L303.2 215.3L337 182.3L357.9 161.5L378.7 140.2L397.3 120.4M572.3 454.3L566.2 437.7L560 422.9L553.8 409.6L549.5 401.6L545.3 394L541 386.9L534.6 376.8L511 342L496.1 318.8L485.4 301.4L462.1 261.2L453.6 247.5L449.3 241L445.1 234.9L438.7 226.6L434.4 221.5L428 214.4L421.6 208.1L415.1 202.2L406.6 195.1L398.1 188.3L387.5 180.4L379.1 174.5L370.7 168.9L362.3 163.8L354 159.2L347.7 156L339.5 152.1L333.3 149.6L325.1 146.7L319 144.9M129.8 420.4L138.3 405.3L146.8 391.1L155.4 377.8L166.1 362.1L181.2 341.4L213.4 298.7L241.2 260.5L247.6 252.1L254 244.2L262.5 234.5L271 225.8L279.6 217.8L302.9 196.8L317.6 182.6L332.3 167.7L365.6 133.1L375.9 122.7L384.1 114.7M584.9 447L578.9 429.4L574.8 418.7L570.7 408.9L564.5 395.4L560.3 387.1L556 379.3L547.5 364.9L524.1 328L511.3 307.1L500.7 289L479.6 251.2L471.1 236.8L466.8 230L462.6 223.7L456.2 215L451.9 209.9L445.5 203L439 196.9L432.6 191.4L424.1 184.8L402.8 169.4L392.2 161.8L383.8 156L375.5 150.6L369.2 146.8L362.9 143.4L356.7 140.3L350.5 137.6L344.3 135.3L338.2 133.5L332.1 132.3M117.3 413.6L125.7 398.7L136.4 381.2L147.1 364.8L157.8 349.2L172.8 328.4L198.5 294L221.9 262.1L230.4 251L239 240.5L247.5 230.8L251.7 226.4L258.1 220.1L266.6 212.2L287.8 193.3L302.6 179.2L315.1 166.5L350.4 130L360.7 119.7L371 110M597.4 438L591.4 420.5L587.4 409.8L583.3 399.7L579.2 390.3L575.1 381.3L570.9 372.8L564.6 360.8L556.2 345.6L535 308.7L503.4 252.1L494.9 237.3L488.5 226.8L482.2 216.8L475.8 207.7L471.5 202.1L467.2 197L460.8 190.1L454.4 184L447.9 178.5L441.5 173.6L432.9 167.4L409.6 150.8L396.9 142.2L388.5 136.9L382.3 133.2L376 129.9L369.8 126.9L363.6 124.3L357.4 122.2L351.2 120.6L345.1 119.5" fill="none" stroke="#000" stroke-width="1.5"/><path d="M358 583.3L344.5 570.4L331.1 558.2L317.8 546.5L304.5 535.3L291.4 524.7L275.7 512.5L262.7 502.9L247.2 491.9L231.9 481.4L216.7 471.5L201.7 462L184.3 451.4L167.1 441.3L150.1 431.7L130.9 421L104.9 406.9L128 372.9L145.9 346.8L161.2 324.9L174 307L186.8 289.7L199.6 272.9L212.3 256.7L222.5 244.3L232.7 232.5L242.9 221.1L253.1 210.1L265.7 197L288.4 174.4L335.8 128.6L348.2 116.4L358 106.4L367.9 109.1L377.8 112.3L387.8 116.2L395.3 119.5L405.4 124.4L413 128.6L423.1 134.7L430.7 139.7L440.9 147.1L448.6 153.2L456.3 159.7L464 166.8L471.7 174.4L479.4 182.6L487.2 191.5L492.3 197.9L500 208L505.1 215.1L510.2 222.7L515.3 230.6L520.4 238.9L525.5 247.5L530.6 256.6L538.1 270.9L545.7 285.8L570.7 336.6L578.2 352.1L585.6 367.9L593 384.5L597.9 396L605.2 414.2L610 427.1L602.8 433.6L598 437.6L593.3 441.2L588.5 444.6L583.7 447.7L574.2 453.3L564.6 458.2L555.1 462.6L523.5 475.4L516.2 478.6L508.8 482L501.3 485.7L496.3 488.3L483.7 495.7L471 503.9L455.6 514.6L442.7 524L408.7 549.4L390.2 562.7L374.2 573.5L366.1 578.5L358 583.3Z" fill="none" stroke="#000" stroke-width="1.8" stroke-linejoin="round"/><path d="M107.5 450.8L89.8 151.3M107.5 450.8L358 615.9M358 615.9L608.6 450.8M105.1 410.5L109.9 407.7M102.7 369.4L107.6 366.6M100.2 327.4L105.1 324.7M97.7 284.7L102.7 282M95.1 241.1L100.2 238.5M92.5 196.7L97.6 194M89.8 151.3L95 148.7M358 615.9L362.9 612.7M320.1 590.9L324.9 587.8M282.9 566.4L287.7 563.4M246.4 542.4L251.3 539.4M210.7 518.8L215.5 515.9M175.6 495.7L180.4 492.8M141.2 473.1L146 470.2M107.5 450.8L112.3 448.1M358 615.9L353.2 612.7M384.7 598.3L379.8 595.2M410.9 581L406.1 578M436.8 564L432 560.9M462.4 547.2L457.6 544.1M487.6 530.6L482.8 527.6M512.4 514.2L507.6 511.3M537 498L532.1 495.1M561.2 482.1L556.3 479.2M585 466.4L580.2 463.5M608.6 450.8L603.8 448.1" fill="none" stroke="#000" stroke-width="1.7" stroke-linecap="square"/><g><text transform="matrix(0.8093 -0.4375 0.0589 0.9983 93.39 424.48)" font-size="13.5" text-anchor="end">10</text><text transform="matrix(0.8093 -0.4375 0.0589 0.9983 90.97 383.36)" font-size="13.5" text-anchor="end">20</text><text transform="matrix(0.8093 -0.4375 0.0589 0.9983 88.49 341.44)" font-size="13.5" text-anchor="end">30</text><text transform="matrix(0.8093 -0.4375 0.0589 0.9983 85.97 298.70)" font-size="13.5" text-anchor="end">40</text><text transform="matrix(0.8093 -0.4375 0.0589 0.9983 83.40 255.11)" font-size="13.5" text-anchor="end">50</text><text transform="matrix(0.8093 -0.4375 0.0589 0.9983 80.78 210.66)" font-size="13.5" text-anchor="end">60</text><text transform="matrix(0.8093 -0.4375 0.0589 0.9983 78.10 165.31)" font-size="13.5" text-anchor="end">70</text><text transform="matrix(0.7683 0.5061 -0.8351 0.5501 333.03 631.59)" font-size="13.5" text-anchor="middle">0</text><text transform="matrix(0.7683 0.5061 -0.8351 0.5501 295.09 606.60)" font-size="13.5" text-anchor="middle">10</text><text transform="matrix(0.7683 0.5061 -0.8351 0.5501 257.91 582.10)" font-size="13.5" text-anchor="middle">20</text><text transform="matrix(0.7683 0.5061 -0.8351 0.5501 221.45 558.08)" font-size="13.5" text-anchor="middle">30</text><text transform="matrix(0.7683 0.5061 -0.8351 0.5501 185.69 534.53)" font-size="13.5" text-anchor="middle">40</text><text transform="matrix(0.7683 0.5061 -0.8351 0.5501 150.63 511.43)" font-size="13.5" text-anchor="middle">50</text><text transform="matrix(0.7683 0.5061 -0.8351 0.5501 116.23 488.77)" font-size="13.5" text-anchor="middle">60</text><text transform="matrix(0.7683 0.5061 -0.8351 0.5501 82.47 466.53)" font-size="13.5" text-anchor="middle">70</text><text transform="matrix(0.7683 0.5061 -0.8351 0.5501 361.63 627.89)" font-size="13.5" text-anchor="start">30</text><text transform="matrix(0.7683 0.5061 -0.8351 0.5501 388.26 610.35)" font-size="13.5" text-anchor="start">40</text><text transform="matrix(0.7683 0.5061 -0.8351 0.5501 414.53 593.04)" font-size="13.5" text-anchor="start">50</text><text transform="matrix(0.7683 0.5061 -0.8351 0.5501 440.43 575.98)" font-size="13.5" text-anchor="start">60</text><text transform="matrix(0.7683 0.5061 -0.8351 0.5501 465.98 559.15)" font-size="13.5" text-anchor="start">70</text><text transform="matrix(0.7683 0.5061 -0.8351 0.5501 491.18 542.55)" font-size="13.5" text-anchor="start">80</text><text transform="matrix(0.7683 0.5061 -0.8351 0.5501 516.03 526.17)" font-size="13.5" text-anchor="start">90</text><text transform="matrix(0.7683 0.5061 -0.8351 0.5501 540.56 510.02)" font-size="13.5" text-anchor="start">100</text><text transform="matrix(0.7683 0.5061 -0.8351 0.5501 564.75 494.08)" font-size="13.5" text-anchor="start">110</text><text transform="matrix(0.7683 0.5061 -0.8351 0.5501 588.63 478.35)" font-size="13.5" text-anchor="start">120</text><text transform="matrix(0.7683 0.5061 -0.8351 0.5501 612.19 462.83)" font-size="13.5" text-anchor="start">130</text></g><g font-weight="bold"><text transform="matrix(0.6347 0.4181 -0.8351 0.5501 173.43 563.37)" font-size="20" text-anchor="middle">Pretreatment time [min]</text><text transform="matrix(0.6363 -0.4192 0.8351 0.5501 544.13 571.37)" font-size="20" text-anchor="middle">Pretreatment pressure [PSI]</text><text transform="matrix(0.0453 0.7687 -0.8797 0.4755 41.93 328.57)" font-size="20" text-anchor="middle">Wheat straw biomass extractives</text><text transform="matrix(0.0453 0.7687 -0.8797 0.4755 20.53 347.17)" font-size="20" text-anchor="middle">[%]</text><text x="13" y="50" font-size="62">A</text></g></g><g id="panelB"><path d="M782.5 451.3L764.9 151.7M809.1 435.9L793.4 137.4M835.3 420.8L821.5 123.4M861.1 405.9L849.2 109.5M886.6 391.2L876.6 95.7M911.8 376.6L903.6 82.2M936.7 362.3L930.2 68.9M961.2 348.1L956.4 55.7M985.5 334.1L982.3 42.7M1009.4 320.3L1007.9 29.9M1033.1 306.6L1033.1 17.3M1283.7 451.3L1301.3 151.7M1245.9 429.4L1260.7 131.4M1208.8 408L1220.9 111.4M1172.3 387L1181.9 91.9M1136.6 366.3L1143.6 72.7M1101.5 346.1L1106.1 53.9M1067 326.2L1069.2 35.4M1033.1 306.6L1033.1 17.3M782.5 451.3L1033.1 306.6M1033.1 306.6L1283.7 451.3M780.2 410.9L1033.1 267.5M1033.1 267.5L1286 410.9M777.7 369.8L1033.1 227.7M1033.1 227.7L1288.5 369.8M775.3 327.9L1033.1 187.1M1033.1 187.1L1290.9 327.9M772.7 285.1L1033.1 145.8M1033.1 145.8L1293.5 285.1M770.2 241.5L1033.1 103.8M1033.1 103.8L1296 241.5M767.5 197.1L1033.1 60.9M1033.1 60.9L1298.7 197.1M764.9 151.7L1033.1 17.3M1033.1 17.3L1301.3 151.7M1033.1 616.3L782.5 451.3M1059.7 598.8L809.1 435.9M1086 581.5L835.3 420.8M1111.9 564.4L861.1 405.9M1137.4 547.6L886.6 391.2M1162.6 531L911.8 376.6M1187.5 514.6L936.7 362.3M1212 498.4L961.2 348.1M1236.2 482.5L985.5 334.1M1260.1 466.8L1009.4 320.3M1283.7 451.3L1033.1 306.6M1033.1 616.3L1283.7 451.3M995.2 591.3L1245.9 429.4M958 566.8L1208.8 408M921.5 542.8L1172.3 387M885.8 519.3L1136.6 366.3M850.7 496.2L1101.5 346.1M816.3 473.5L1067 326.2M782.5 451.3L1033.1 306.6" fill="none" stroke="#d2d2d2" stroke-width="1.5"/><g fill="none" stroke-width="1.3"><path d="M1282.9 450.8L1276.5 452.9L1267.6 456.5L1259.5 460.5L1252 465L1245.2 469.9L1236.6 476.7L1226.5 485.8L1216.5 495.5" stroke="#00572d"/><path d="M1273 445.1L1263.3 448.2L1257.2 450.5L1251.6 453L1243.6 457.2L1234 463.3L1227.3 468.3L1218.8 475.2L1192.3 498.9L1177.2 511.5L1170.3 516.7L1163.1 521.7L1155.5 526.6L1147.6 531.3L1139.3 535.8L1130.7 540.1L1118.5 545.5L1109 549.4L1099.1 553L1088.8 556.4L1050 568.5L1039.8 572.1L1030.2 576.2L1021.4 580.7L1013.6 586L1006.8 592L1003 596.5" stroke="#006b27"/><path d="M1263.5 439.6L1253.4 442.4L1244.2 445.8L1235.6 449.6L1225.2 455.2L1217.9 459.8L1208.8 466.3L1186.8 483.3L1177.6 490L1167.8 496.4L1159.8 500.9L1148.4 506.4L1136 511.4L1119.6 517.2L1105.8 521.4L1087.5 526.1L1071.6 529.1L1052.5 531.9L1040.1 533.1L1028.3 534L1017.1 534.6L1006.4 534.8L991.4 534.4L977.7 533.2L953.8 530L948.3 529.8L943.9 530.2L940.6 531.5L938.6 533.6L938.2 536.7L939.2 540.8L943.8 551.2L945.7 556.6L946.3 559.2" stroke="#007e20"/><path d="M1254.1 434.2L1243.7 436.8L1234.1 439.9L1225.1 443.4L1216.6 447.2L1208.7 451.4L1201 455.7L1171.7 474.3L1161.4 480.3L1150.2 485.8L1144.2 488.3L1136.3 491.3L1128 493.9L1117.4 496.9L1106.3 499.4L1094.3 501.8L1082.4 503.7L1069.6 505.3L1056.1 506.5L1042.3 507.4L1028.3 507.9L1018 507.9L1008.2 507.6L999.1 506.9L990.4 505.9L981.2 504.5L947.1 497.9L932.3 496.1L925.2 495.6L916 495.5L893.6 496.3L883.4 496.3L878.8 495.9L870.8 494.6L863.9 492.6L854.9 488.9L844 483.3L823.5 471.4L818.2 468.6L809.8 464.6L797.9 459.8L790.2 456.3" stroke="#009119"/><path d="M1245 428.9L1237.7 430.5L1227.4 433.1L1217.6 436.1L1208.4 439.5L1199.6 443.1L1191.1 446.9L1158.4 463.3L1147 468.5L1141 471L1133 473.8L1124.7 476.4L1117.6 478.3L1110.2 480L1100.3 481.7L1090 483.1L1081.6 484L1064.5 485.1L1014.9 487.5L1005.5 487.5L1000 487.2L991.2 486.4L982.9 485.3L971.3 483L941.4 476.5L929.1 474.4L904.7 471.2L896.9 469.8L889.6 468.1L879.6 465.1L870.5 461.5L859.3 456.3L840.3 446.5L829.6 441.4L820.8 437.8L811 434.8" stroke="#00a412"/><path d="M1236 423.7L1217.5 427.4L1207.1 430L1197.2 432.9L1178.2 439.3L1145.1 452.3L1132.6 456.9L1119.2 460.9L1108.2 463.4L1096.1 465.2L1082.6 466.2L1069.3 466.2L1040.5 465.3L1030.9 465.4L1002.1 466.3L991.3 465.9L978.8 464.4L942.9 457.3L907 451.7L892.4 448.5L879.2 444.5L873.2 442.2L864.5 438.5L856.3 434.5L848.6 430.3L841.2 426L834.4 421.3" stroke="#00b80b"/><path d="M1227 418.6L1215.2 420.3L1203.8 422.3L1192.8 424.5L1178.6 427.8L1158.3 433.5L1122.6 444.8L1108.6 448.4L1101 449.9L1092.7 450.9L1083.7 451.6L1072.6 451.6L1063.1 451.2L1034.9 449.3L999 448.7L983.8 447.8L969.5 446L923.1 439.2L910.4 437.1L900.4 434.9L890.2 432.1L884 430L875.3 426.3L867.6 422.2L863 419.1L858.9 415.7L857.1 413.9L854.2 409.9" stroke="#00cb05"/><path d="M1218.1 413.4L1201.5 415.2L1185.4 417.3L1169.8 419.8L1158.5 421.9L1140.7 426L1109.9 434.6L1103.3 436.2L1095.7 437.7L1087.5 438.7L1078.5 439.3L1063.2 439.1L1031.2 437.1L998.7 435.7L985.3 434.7L972.7 433.3L956.7 431L933.1 427.3L917.9 424.6L907.2 422.1L900.6 420.2L891.6 416.8L886.3 414.2L881.5 411.2L877.5 407.8L874.1 404L871.6 399.8" stroke="#0ed800"/><path d="M1209.2 408.3L1169.6 411L1156.9 412.2L1144.8 413.8L1137.2 415.1L1126.2 417.4L1096 424.8L1082.9 426.9L1076.7 427.5L1069.3 427.8L1052.2 427.3L1002.3 424.5L985 423L965 420.1L953.6 418.1L938.9 415.1L928.3 412.6L918.3 409.9L912 407.7L906.3 405.4L901.1 402.7L896.4 399.7L892.4 396.3L887.2 390.8" stroke="#3ed800"/><path d="M1200.2 403.1L1157.1 403.7L1139.2 404.7L1130.8 405.6L1119 407.3L1084.1 413.8L1077.3 414.7L1068.6 415.4L1059.3 415.7L1049.1 415.6L1005.8 413.4L988.8 411.9L973 409.5L958.5 406.4L941.6 401.9L929.1 397.7L917.8 392.9L910.3 388.7L905.8 385.7L901.5 382.6" stroke="#6dd800"/><path d="M1191 397.8L1154.5 396.5L1134.7 396.4L1116.9 397.4L1075.9 402.1L1058.3 403.3L1044 403.6L1029 403.4L1013.6 402.9L1002.3 402.1L992.1 401L980.4 399.3L969.5 397L956 393.4L946.7 390.3L935 385.7L924.4 380.6L914.7 375" stroke="#9dd800"/><path d="M1181.7 392.4L1142.3 389.4L1131.8 388.9L1121.9 388.8L1103.3 389.4L1063.8 392L1040.9 392.9L1020.4 392.9L1002.6 391.9L993.5 390.8L982.9 389.1L972.2 386.8L962.4 384L953.2 380.8L944.6 377.3L934.1 372.1L926.9 367.9" stroke="#ccd800"/><path d="M1172.1 386.9L1136 382.8L1124.9 382.1L1114.4 381.6L1104.5 381.5L1090.3 381.8L1049.5 383.5L1035.5 383.9L1016.5 383.6L1003.5 382.7L995.4 381.7L984.2 379.7L977.2 378.1L967.5 375.3L958.5 372L950.3 368.3L942.9 364.2L938.4 361.3" stroke="#d8bb00"/><path d="M1162.1 381.1L1142.6 378.2L1130.2 376.7L1118.6 375.5L1107.7 374.9L1097.5 374.5L1082.9 374.6L1046.1 375.7L1031.8 375.9L1015.9 375.3L1003.3 374.2L995.5 373L988.3 371.6L981.4 370L971.9 367L963.4 363.6L958.2 361L953.5 358.1L949.2 355" stroke="#d89300"/><path d="M1151.6 375L1137.8 372.6L1124.7 370.7L1112.7 369.3L1101.5 368.4L1091.1 368L1081.2 367.9L1046.8 368.5L1032.3 368.4L1018.8 367.8L1006.5 366.6L998.9 365.4L991.8 363.9L985.2 362.1L979 360.1L973.4 357.8L968.2 355.2L963.5 352.3L959.5 349.1" stroke="#d86b00"/><path d="M1140.4 368.6L1119.4 364.8L1107 363.2L1095.8 362.2L1080.2 361.6L1048.6 361.7L1034.5 361.4L1021.3 360.7L1009.3 359.3L998.4 357.2L991.9 355.4L985.9 353.3L980.4 350.9L975.5 348.2L971.1 345.1L969.2 343.5" stroke="#d84200"/><path d="M1128.3 361.6L1119.2 359.8L1107.8 357.9L1091.5 356.2L1074.3 355.4L1050.1 355.1L1036.4 354.6L1023.6 353.7L1015.7 352.7L1008.4 351.3L1002.8 350L998.4 348.7L992.5 346.6L984.8 342.8L980.5 339.7L978.5 338.1" stroke="#d81a00"/><path d="M1115.3 354L1101.5 351.6L1089.4 350.2L1073.3 349.2L1042.6 348.2L1031.9 347.4L1022 346.2L1011.3 344L1001.9 341.1L994 337.5L989.4 334.6L987.4 333" stroke="#d20000"/><path d="M1101.4 346L1091.7 344.6L1082.8 343.6L1071.9 342.8L1044.4 341.4L1032.1 340.2L1024.6 339.1L1014.4 336.7L1008.3 334.6L1002.9 332.3L1000.5 330.9L996 328" stroke="#c00000"/><path d="M1086.9 337.7L1075.3 336.5L1046.6 334.5L1038.5 333.7L1030.9 332.6L1023.9 331.1L1017.5 329.3L1011.7 327.1L1004.2 323.3" stroke="#ad0000"/><path d="M1072.3 329.2L1049.1 327.5L1041.1 326.6L1033.7 325.4L1023.5 323.1L1017.5 321L1012.1 318.7" stroke="#9a0000"/><path d="M1057.8 320.9L1046.8 320L1036.1 318.5L1026.5 316.4L1019.7 314.3" stroke="#880000"/><path d="M1044 312.9L1034 311.5L1027.1 310.1" stroke="#760000"/></g><g fill-rule="evenodd" stroke="none"><path d="M1033.1 580.7L1008.9 558.9L995.5 547.3L982.2 536.1L969 525.2L953.3 512.6L940.3 502.5L924.8 490.6L896.7 469.9L864 446.7L829.5 423.1L778.9 389.2L797.4 372.5L813.2 357.4L831.5 338.9L847 322.3L865 301.9L880.3 283.6L895.6 264.4L910.7 244.4L928.3 220L943.4 198.1L958.4 175.2L973.4 151.3L988.3 126.4L1003.2 100.5L1018.2 73.5L1033.1 45.3L1043.1 58.1L1053.1 70.6L1098.3 125.5L1118.6 150.8L1128.7 164.1L1138.8 177.8L1149 192.1L1156.6 203.2L1164.2 214.8L1174.3 230.7L1184.5 247.1L1194.6 263.9L1214.8 298.5L1260.2 377.5L1272.8 399L1285.5 420.1L1278.3 427L1271.1 433L1266.3 436.6L1261.5 439.9L1252 445.8L1242.4 451.1L1232.8 456.1L1198.8 472.4L1186.4 478.6L1173.9 485.5L1158.8 494.7L1146.1 503L1133.3 511.9L1086.5 545.5L1067.9 558.5L1049.3 570.9L1033.1 580.7Z" fill="#006736"/><path d="M1033.1 580.7L1008.9 558.9L982.2 536.1L969 525.2L953.3 512.6L924.8 490.6L896.7 469.9L864 446.7L829.5 423.1L778.9 389.2L797.4 372.5L813.2 357.4L831.5 338.9L847 322.3L865 301.9L880.3 283.6L895.6 264.4L910.7 244.4L928.3 220L943.4 198.1L958.4 175.2L973.4 151.3L988.3 126.4L1003.2 100.5L1018.2 73.5L1033.1 45.3L1053.1 70.6L1098.3 125.5L1116 147.6L1126.2 160.7L1136.3 174.3L1146.5 188.4L1154.1 199.5L1164.2 214.8L1174.3 230.7L1194.6 263.9L1214.8 298.5L1260.2 377.5L1272.8 399L1284.8 418.8L1278.3 420.9L1269.3 424.5L1261.2 428.5L1253.7 433L1246.8 437.8L1238.2 444.6L1228 453.6L1217.9 463.3L1198.8 472.4L1183.9 479.9L1171.4 487L1158.8 494.7L1146.1 503L1133.3 511.9L1086.5 545.5L1067.9 558.5L1051.9 569.2L1035.8 579.2Z" fill="#007e2e"/><path d="M1002.6 553.5L979.6 533.9L955.9 514.7L932.5 496.5L906.9 477.3L881.5 459L854.1 439.9L822.2 418.1L778.9 389.2L797.4 372.5L813.2 357.4L831.5 338.9L847 322.3L865 301.9L880.3 283.6L895.6 264.4L910.7 244.4L928.3 220L943.4 198.1L958.4 175.2L973.4 151.3L988.3 126.4L1003.2 100.5L1018.2 73.5L1033.1 45.3L1053.1 70.6L1098.3 125.5L1116 147.6L1126.2 160.7L1136.3 174.3L1146.5 188.4L1154.1 199.5L1164.2 214.8L1174.3 230.7L1194.6 263.9L1214.8 298.5L1257.7 373.2L1275.4 403.3L1265.5 406.3L1256.5 409.8L1248.3 413.8L1243.2 416.7L1238.4 419.8L1231.5 424.6L1222.8 431.4L1214.5 438.5L1193.9 456.6L1185.3 463.8L1176.4 470.8L1169.3 476L1161.9 480.9L1154.2 485.7L1146 490.3L1134.6 496.1L1125.6 500.3L1116.2 504.2L1106.5 508L1089.4 513.7L1050.1 525.7L1039.9 529.3L1033.3 531.9L1024.1 536.3L1018.5 539.5L1015.9 541.3L1011 545L1006.6 549.1L1004.5 551.2Z" fill="#009526"/><path d="M945.2 506.3L929.9 494.5L912 481L894.2 468L874 453.7L834.4 426.4L778.9 389.2L797.4 372.5L813.2 357.4L831.5 338.9L847 322.3L865 301.9L880.3 283.6L895.6 264.4L910.7 244.4L928.3 220L943.4 198.1L958.4 175.2L973.4 151.3L988.3 126.4L1003.2 100.5L1018.2 73.5L1033.1 45.3L1053.1 70.6L1098.3 125.5L1116 147.6L1126.2 160.7L1136.3 174.3L1146.5 188.4L1154.1 199.5L1164.2 214.8L1174.3 230.7L1194.6 263.9L1212.3 294.1L1266.2 387.9L1256.1 390.7L1246.7 394L1238.1 397.7L1232.7 400.4L1227.6 403.3L1220.2 407.9L1210.9 414.3L1188.7 431.2L1179.4 437.8L1169.4 444.1L1161.4 448.6L1149.8 454L1137.3 459L1120.7 464.7L1106.7 468.9L1096.2 471.7L1088 473.5L1076.2 475.8L1068 477.2L1059.2 478.4L1046.4 479.9L1034.2 481L1022.5 481.7L1006 482.1L990.9 481.8L977 480.6L959.2 478.1L952.8 477.4L947.3 477.2L942.7 477.6L939.4 478.9L937.5 481L937 484L938 488.1L941.6 495.9L944.6 503.8Z" fill="#00ab1e"/><path d="M801 400.4L794.4 397.9L786.6 394.4L778.9 389.2L797.4 372.5L813.2 357.4L831.5 338.9L847 322.3L865 301.9L880.3 283.6L895.6 264.4L910.7 244.4L928.3 220L943.4 198.1L958.4 175.2L973.4 151.3L988.3 126.4L1003.2 100.5L1018.2 73.5L1033.1 45.3L1053.1 70.6L1098.3 125.5L1116 147.6L1133.8 170.8L1143.9 184.8L1151.5 195.8L1161.7 210.9L1171.8 226.7L1192.1 259.7L1212.3 294.1L1257.3 372.6L1246.8 375.2L1237 378.2L1227.9 381.6L1219.3 385.4L1211.2 389.5L1200.9 395.3L1176.3 410.6L1166 416.7L1157.8 420.9L1151.9 423.5L1139.5 428.4L1129.4 431.6L1118.7 434.5L1107.4 437L1095.6 439.3L1087.4 440.6L1074.9 442.3L1062.5 443.5L1050.6 444.4L1037.6 445.1L1027.6 445.4L1017.2 445.4L1006.1 445L994.1 444L985.6 442.8L973.4 440.8L949.9 436.2L941.6 434.9L930.8 433.7L925 433.3L914.3 433.1L886.2 434L881.1 433.9L876.5 433.6L872.3 433L868.4 432.2L861.4 430.3L852.2 426.6L841.2 421L817.8 407.9L812.3 405.2L803.6 401.4Z" fill="#00c216"/><path d="M809.4 363.7L807.3 363.2L823.7 347L841.8 327.9L859.9 307.8L875.2 289.8L890.5 270.9L903.1 254.5L915.8 237.6L928.3 220L943.4 198.1L955.9 179.1L968.4 159.4L980.8 139L995.8 113.6L1008.2 91.6L1020.7 68.9L1033.1 45.3L1043.1 58.1L1055.6 73.7L1095.8 122.4L1113.5 144.4L1131.2 167.4L1141.4 181.3L1149 192.1L1159.1 207L1169.3 222.7L1179.4 238.8L1189.5 255.5L1212.3 294.1L1248.6 357.4L1241.2 358.9L1230.6 361.5L1220.7 364.5L1211.3 367.7L1202.4 371.3L1193.8 375.1L1182.6 380.3L1160.5 391.2L1148.9 396.4L1139.6 400L1133.1 402.2L1126.2 404.2L1119 406L1111.5 407.7L1101.5 409.4L1090.9 410.8L1082.4 411.6L1065.1 412.7L1014.6 415.1L1005 415.1L999.4 414.8L990.5 414L982 412.9L970.2 410.7L948.9 406L939.9 404.3L927.3 402.2L902.5 399L894.6 397.6L887.2 396L877 393L867.7 389.5L856.3 384.3L837.3 374.8L829 370.9L820.3 367.2L810.8 364Z" fill="#00d90e"/><path d="M854.2 353.4L842.5 347.3L835.2 342.9L830.6 339.9L844.4 325.1L857.3 310.7L872.7 292.8L885.4 277.3L898.1 261.1L910.7 244.4L923.3 227.1L935.9 209.1L948.4 190.5L960.9 171.3L973.4 151.3L985.8 130.7L998.3 109.3L1010.7 87.1L1023.1 64.2L1033.1 45.3L1043.1 58.1L1055.6 73.7L1095.8 122.4L1113.5 144.4L1131.2 167.4L1141.4 181.3L1149 192.1L1156.6 203.2L1166.7 218.7L1176.9 234.7L1187 251.3L1207.2 285.4L1239.9 342.2L1228.4 344.3L1217.5 346.6L1207 349.3L1197 352.2L1187.3 355.3L1177.9 358.7L1141 372.6L1131.2 375.8L1124.4 377.8L1113.5 380.4L1103.9 382.1L1092.9 383.4L1083.6 384L1070 384L1041 383.1L1030.8 383.2L1008.3 384L1001.5 384.1L993.1 383.8L984.2 383.1L970.6 380.9L941.2 375.2L908.5 370.4L900.7 369L893.3 367.4L882.8 364.7L873.1 361.5L864.1 357.9L855.7 354.1Z" fill="#00ef06"/><path d="M881.5 338.5L871.9 334.6L866.6 332L861.6 329.1L857.2 325.9L855.2 324.2L851.7 320.6L850.4 318.5L862.4 304.9L875.2 289.8L887.9 274.1L898.1 261.1L910.7 244.4L920.8 230.6L933.4 212.8L943.4 198.1L955.9 179.1L965.9 163.4L978.3 143.1L988.3 126.4L1000.7 104.9L1010.7 87.1L1023.1 64.2L1033.1 45.3L1043.1 58.1L1055.6 73.7L1095.8 122.4L1113.5 144.4L1131.2 167.4L1146.5 188.4L1154.1 199.5L1164.2 214.8L1181.9 242.9L1202.2 276.8L1231.2 327.1L1219.1 328.8L1207.5 330.7L1196.2 332.9L1181.7 336.1L1161 341.6L1127.9 351.8L1114 355.6L1106.4 357.1L1098.3 358.3L1089.5 359.2L1084.8 359.4L1078.5 359.5L1069.3 359.4L1034.9 357.2L1024.2 356.9L998.2 356.6L991.7 356.4L981 355.5L968.1 353.9L912.7 346L904.9 344.7L897.5 343.1L890.5 341.3L883.9 339.3Z" fill="#11ff00"/><path d="M892.9 317L885.4 313.9L880.3 311.2L877.9 309.7L873.8 306.4L872 304.6L869 300.7L867.8 298.6L880.3 283.6L890.5 270.9L900.6 257.8L910.7 244.4L923.3 227.1L933.4 212.8L943.4 198.1L953.4 182.9L963.4 167.3L973.4 151.3L983.3 134.8L993.3 117.9L1003.2 100.5L1013.2 82.6L1033.1 45.3L1043.1 58.1L1055.6 73.7L1095.8 122.4L1111 141.2L1128.7 164.1L1143.9 184.8L1151.5 195.8L1161.7 210.9L1179.4 238.8L1199.6 272.5L1222.5 311.9L1205.5 313.7L1193.1 315.2L1181 316.9L1169.2 318.8L1157.8 320.9L1146.9 323.3L1136.3 326L1115.7 331.6L1104.9 334.2L1097.2 335.6L1093.1 336.2L1084.3 337L1078.5 337.2L1069.4 337.2L1063.5 337L1029.8 335L993.2 333.4L979.3 332.3L958.9 329.7L922.8 324.2L907.8 321.3L900.8 319.5L894.2 317.5Z" fill="#49ff00"/><path d="M911.6 297.1L903 293.8L897.6 291.2L895.2 289.8L892.9 288.3L888.7 285.1L886.8 283.3L883.5 279.7L893 267.7L903.1 254.5L913.2 241L923.3 227.1L933.4 212.8L943.4 198.1L960.9 171.3L970.9 155.4L980.8 139L998.3 109.3L1015.7 78.1L1033.1 45.3L1043.1 58.1L1055.6 73.7L1095.8 122.4L1111 141.2L1126.2 160.7L1141.4 181.3L1156.6 203.2L1164.2 214.8L1174.3 230.7L1192.1 259.7L1213.8 296.7L1173.1 299.3L1160.1 300.5L1151.8 301.5L1143.8 302.7L1132.3 304.8L1103.6 311.5L1092.3 313.8L1084.2 314.9L1079.8 315.3L1070.3 315.7L1054.4 315.4L1006.2 312.8L992.5 311.9L979.5 310.6L963.2 308.3L940.2 304.1L925.6 301L918.6 299.2L912 297.2Z" fill="#81ff00"/><path d="M918.2 273.1L911.9 270.2L906.9 267.5L902.2 264.6L897.8 261.5L915.8 237.6L933.4 212.8L950.9 186.7L965.9 163.4L983.3 134.8L1000.7 104.9L1018.2 73.5L1033.1 45.3L1043.1 58.1L1055.6 73.7L1095.8 122.4L1111 141.2L1126.2 160.7L1138.8 177.8L1154.1 199.5L1169.3 222.7L1187 251.3L1204.9 281.4L1160.6 282.1L1151.2 282.4L1142.2 283L1133.6 283.9L1121.4 285.5L1092.5 290.8L1079.1 292.7L1073.1 293.3L1064.9 293.7L1049.6 293.6L1016.7 292.2L1000.5 291.2L987.5 290L975.2 288.3L960 285.5L945.7 282.2L932.4 278.4L926.2 276.3L920.2 274Z" fill="#b9ff00"/><path d="M936.2 256L929.2 253.2L923.7 250.7L918.5 248.1L911.1 243.9L928.3 220L943.4 198.1L958.4 175.2L973.4 151.3L988.3 126.4L1003.2 100.5L1018.2 73.5L1033.1 45.3L1043.1 58.1L1055.6 73.7L1093.3 119.4L1108.4 138L1121.1 154.1L1133.8 170.8L1149 192.1L1164.2 214.8L1179.4 238.8L1195.9 266.1L1158.2 264.8L1147.8 264.6L1137.8 264.7L1128.4 265.1L1119.4 265.7L1106.6 267L1080.6 269.9L1063.7 271.2L1054.3 271.6L1044.4 271.7L1018.2 271.2L1007.1 270.7L995.1 269.7L986.7 268.7L974.9 266.8L964 264.5L957 262.8L947.2 259.9L937.9 256.7Z" fill="#f0ff00"/><path d="M949 238.8L941.7 236L936.2 233.5L928.3 229.6L923.5 226.9L938.4 205.5L950.9 186.7L965.9 163.4L978.3 143.1L993.3 117.9L1005.7 96.1L1020.7 68.9L1033.1 45.3L1043.1 58.1L1055.6 73.7L1105.9 134.9L1118.6 150.8L1131.2 167.4L1146.5 188.4L1159.1 207L1171.8 226.7L1186.6 250.6L1145.9 247.7L1135.1 247.2L1124.8 247.1L1105.6 247.7L1067.2 250.1L1046 251L1026.2 251.2L1010.6 250.7L1001.6 250.1L993.1 249.2L985.1 248.1L977.4 246.7L970.2 245.1L963.3 243.4L956.8 241.5L950.6 239.4Z" fill="#ffdc00"/><path d="M952.6 219.3L947.5 217.1L942.2 214.5L935.1 210.2L948.4 190.5L960.9 171.3L973.4 151.3L985.8 130.7L998.3 109.3L1010.7 87.1L1023.1 64.2L1033.1 45.3L1043.1 58.1L1055.6 73.7L1105.9 134.9L1126.2 160.7L1138.8 177.8L1151.5 195.8L1164.2 214.8L1177 234.9L1151.7 232.2L1139.6 231.1L1128.1 230.3L1117.3 229.9L1107 229.8L1092.3 230L1050.1 231.7L1035.6 232.1L1020.6 232L1006.8 231.3L994.1 230L986.2 228.7L978.8 227.3L971.8 225.6L965.2 223.8L958.9 221.7L953 219.5Z" fill="#ffad00"/><path d="M958.4 201.1L952.9 198.3L948.3 195.5L946.1 193.9L958.4 175.2L968.4 159.4L980.8 139L990.8 122.2L1003.2 100.5L1013.2 82.6L1033.1 45.3L1053.1 70.6L1100.8 128.6L1113.5 144.4L1123.6 157.4L1136.3 174.3L1146.5 188.4L1156.6 203.2L1167 219.1L1146.7 216.3L1133.8 214.8L1121.8 213.7L1110.5 213.1L1099.9 212.8L1084.8 212.8L1049.9 213.8L1034.4 214L1019.8 213.8L1010.7 213.2L998.1 211.9L990.3 210.6L983 209.2L976.1 207.4L969.7 205.5L960.8 202.2Z" fill="#ff7e00"/><path d="M966.2 184L960.8 181L956.6 178L975.9 147.2L985.8 130.7L995.8 113.6L1015.7 78.1L1033.1 45.3L1053.1 70.6L1098.3 125.5L1118.6 150.8L1128.7 164.1L1138.8 177.8L1149 192.1L1156.4 202.9L1141.9 200.6L1128.4 198.7L1115.8 197.4L1104.3 196.5L1093.4 196.1L1083.1 196L1047.3 196.6L1032.3 196.5L1018.3 196L1009.6 195.2L997.5 193.6L986.6 191.3L976.9 188.5L968.3 185.1Z" fill="#ff4e00"/><path d="M977.6 169.1L973.1 166.8L970.7 165.3L966.6 162.3L983.3 134.8L1000.7 104.9L1018.2 73.5L1033.1 45.3L1043.1 58.1L1055.6 73.7L1095.8 122.4L1113.5 144.4L1131.2 167.4L1144.9 186.3L1123 182.7L1110.1 181.1L1098.3 180.2L1087.4 179.7L1077 179.6L1039.3 179.6L1025.3 179L1016.5 178.3L1004.4 176.8L997 175.3L987 172.7L978.2 169.3Z" fill="#ff1f00"/><path d="M989.7 154.4L985.2 152.5L982.7 151.2L978.2 148.3L976.1 146.8L990.8 122.2L1005.7 96.1L1020.7 68.9L1033.1 45.3L1043.1 58.1L1055.6 73.7L1093.3 119.4L1108.4 138L1121.1 154.1L1132.5 169.2L1124.8 167.7L1110.7 165.6L1104.3 164.9L1092.4 163.9L1076.1 163.2L1041.2 162.7L1031.9 162.3L1023.2 161.6L1011 160.1L1003.7 158.7L996.9 156.9L990.8 154.9Z" fill="#f80000"/><path d="M1001.2 139.5L997.5 138.2L992.2 135.8L987.4 133L985.3 131.5L995.8 113.6L1008.2 91.6L1020.7 68.9L1033.1 45.3L1053.1 70.6L1098.3 125.5L1119.1 151.5L1104.7 149.2L1098.2 148.5L1086.2 147.5L1075.2 146.9L1043 145.9L1029.7 145L1021.5 144L1013.9 142.8L1003.6 140.3Z" fill="#e20000"/><path d="M1012 124.1L1007.1 122.6L1001.5 120.4L998.9 119.1L994.2 116.4L1013.2 82.6L1033.1 45.3L1043.1 58.1L1055.6 73.7L1104.7 133.5L1097.8 132.4L1085.2 131.1L1073.8 130.4L1049.5 129.3L1036.3 128.4L1024.2 126.8L1013.5 124.6Z" fill="#cc0000"/><path d="M1010.6 105.1L1007.9 103.9L1002.7 101.4L1018.2 73.5L1033.1 45.3L1043.1 58.1L1055.6 73.7L1089.7 115L1077.4 113.9L1047.3 112L1034.8 110.8L1027.1 109.5L1020 108L1016.7 107.1L1010.7 105.1Z" fill="#b60000"/><path d="M1023.4 90.8L1016.7 88.8L1011 86.6L1023.1 64.2L1033.1 45.3L1050.6 67.5L1074.3 96.5L1045.7 94.5L1033.7 93L1026.4 91.5Z" fill="#a00000"/><path d="M1026.1 73.9L1019 72L1033.1 45.3L1045.6 61.3L1059.2 78.1L1048.4 77.3L1041.3 76.6L1036.2 75.9L1028.9 74.5Z" fill="#8b0000"/><path d="M1031.2 58.3L1026.8 57.4L1033.1 45.3L1044.6 60L1034.1 58.8Z" fill="#820000"/></g><path d="M1018.9 567.8L1027.9 562.5L1036.9 556.9L1045.8 551.1L1056.9 543.5L1074.5 531L1107.2 507.1L1126.5 493.3L1154.1 473.9L1168.7 464.1L1179.1 457.6L1189.5 451.5L1199.7 445.9L1220 435.4L1230.1 429.9L1238.1 425.3L1246.1 420.3L1254.1 414.5L1260.1 409.6L1266.1 404.1L1272.2 397.9M1047.3 572.1L1031.6 557.9L1018.2 546.2L1002.6 533L989.4 522.2L976.3 511.8L965.4 503.5L954.6 495.6L931 478.8L918.2 469.2L907.6 460.7L884.5 441.3L874 432.9L865.7 426.7L855.4 419.6L822.9 398.5L812.9 391.8L802.9 384.6L792.9 376.7M1004.8 555.3L1016 548.7L1027.2 541.6L1038.4 534.2L1051.6 524.9L1073.6 508.8L1148.6 452.6L1157 446.5L1165.3 440.7L1173.6 435.2L1179.8 431.3L1188 426.4L1214.5 411.2L1222.5 406.2L1230.6 400.8L1238.6 394.8L1244.7 389.7L1248.7 385.9L1252.8 381.9L1258.9 375.2M1061.4 563L1047.9 550.8L1034.5 539L1021.2 527.6L1010.1 518.5L997 507.9L983.9 497.8L973 489.8L947.2 471.3L934.5 461.6L921.7 451L894.3 426.7L883.9 418.2L875.6 411.9L865.3 404.6L834.8 384.3L824.8 377.4L814.7 370L806.7 363.7M990.8 543.3L1002 536.7L1013.2 529.7L1024.4 522.3L1037.6 513L1053 501.6L1070.5 488.2L1098.5 466.2L1134.7 437.4L1149.4 426.1L1157.8 420.1L1166.1 414.4L1198.9 393.3L1207 387.7L1213.1 383.4L1219.2 378.7L1223.2 375.3L1231.3 367.9L1235.4 363.8L1239.5 359.4L1245.6 352.2M1075.3 553.4L1053 533.2L1041.8 523.6L1028.6 512.4L1015.4 501.6L1000.1 489.4L961.2 459.8L948.4 449.7L935.7 439L906.2 413.1L893.7 402.7L881.3 393.1L866.9 382.5L820.5 350.2M976.8 531.6L988.1 525.2L1001.5 516.8L1014.9 507.8L1030.3 496.5L1045.7 484.6L1060.9 472.4L1082.5 454.6L1120.9 422.4L1135.6 410.6L1150.3 399.5L1181.2 377.7L1189.4 371.6L1195.5 366.9L1205.7 358.3L1211.8 352.6L1215.9 348.5L1224.1 339.4L1228.2 334.4L1232.3 329M1089.2 543.5L1066.9 523.3L1042.5 502.2L1020.5 484L962.3 436.3L905.5 388.2L888.9 374.4L872.5 361.5L858.2 351.1L846.2 343.1L840.2 339.4L834.2 336M963 520.3L974.2 514.2L981 510.2L987.7 505.9L1001 496.7L1016.5 485.1L1029.6 474.5L1047.1 460L1070.8 439.5L1107.1 407.9L1121.9 395.4L1136.6 383.6L1163.5 363.1L1175.8 353.2L1182 347.9L1188.1 342.3L1194.3 336.3L1198.4 332L1204.6 325L1208.7 320L1214.9 311.8L1219 305.8M1103 533.6L1087.4 519.1L1069.6 503.3L1019.1 459.6L986.8 431.3L969.7 416.8L942.2 394.3L931.7 385.5L921.3 376.4L898.5 356.1L888.2 347.3L882 342.4L875.9 337.7L869.8 333.4L865.8 330.7L859.7 327.1L855.8 324.9L851.8 323L847.8 321.4M949.2 509.4L953.7 507.3L960.5 503.8L967.2 499.8L973.9 495.6L980.6 491L987.3 486.2L1000.5 475.8L1018.1 460.9L1061.4 422.8L1078.5 407.4L1101.9 386.1L1114.5 374.9L1127.1 364.3L1149.9 345.9L1160.3 337L1166.4 331.4L1172.6 325.4L1178.8 319L1185 312L1191.2 304.2L1195.3 298.7L1201.6 289.5L1205.8 282.9M1116.7 523.7L1092.2 500.9L1037.2 451.5L998.4 415.9L989.8 408.4L981.3 401.1L955.9 380.4L945.4 371.6L935 362.2L910 338.9L899.7 329.7L889.5 321.5L883.4 317.1L879.3 314.5L873.3 311L869.3 309.1L865.3 307.4L861.3 306.1M935.5 498.8L940.1 497L946.9 493.8L951.4 491.4L958.1 487.3L962.5 484.3L969.2 479.4L975.9 474.2L982.5 468.7L995.7 457.1L1026.2 429.1L1052 406.3L1062.7 396.6L1073.4 386.5L1096.7 363.5L1107.2 353.7L1117.7 344.5L1138.5 326.9L1146.7 319.5L1152.9 313.6L1159.1 307.3L1165.3 300.4L1171.6 292.7L1177.8 284.3L1182 278.1L1188.2 267.8L1192.5 260.3M1130.3 513.9L1088.1 474.2L1020.6 411.3L999.2 392L971.7 368.1L961.1 358.8L950.7 349.1L927.7 327.2L915.3 315.9L909.2 310.7L903 305.9L896.9 301.5L892.8 298.8L886.8 295.3L882.8 293.3L878.8 291.6L874.8 290.2M922 488.5L926.5 487L931 485.2L935.6 483L940 480.5L944.5 477.7L949 474.6L957.9 467.8L964.5 462.1L973.3 454.1L1001.7 426.6L1010.4 418.4L1019 410.7L1040.6 392.1L1051.2 382.2L1059.8 373.6L1083.1 348.5L1093.7 337.7L1104.1 327.9L1122.9 311.7L1131.2 304.3L1139.5 296.3L1145.7 289.6L1151.9 282.3L1156.1 277L1160.2 271.2L1164.4 264.9L1168.6 258.1L1172.8 250.7L1179.1 238.4M1143.8 504.6L1088.5 450.6L1068.8 431.7L1051.5 415.4L1021.4 387.9L1006.4 374L985.2 353.8L951.7 321.2L937.1 307.7L928.8 300.5L922.7 295.4L916.5 290.6L910.4 286.2L904.3 282.2L898.2 278.6L892.2 275.5L888.2 273.8M908.5 478.5L913 477.1L917.6 475.3L922.1 473.1L926.6 470.6L931.1 467.7L935.5 464.6L944.4 457.5L951 451.6L959.8 443.2L986 416.7L994.7 408.2L1003.3 400.3L1027 379.6L1037.7 369.5L1042 365.1L1048.4 358.1L1071.7 331.3L1082.2 320L1092.7 309.9L1109.4 295L1117.7 287.4L1126 279.1L1132.3 272.2L1138.5 264.5L1142.7 258.8L1146.8 252.6L1151 245.9L1155.2 238.6L1159.4 230.6L1165.8 217.3M1157.2 495.7L1106.4 443.8L1088.9 426.2L1069.3 407.3L1039.2 379.7L1026.4 367.5L1013.6 354.6L981.9 321.6L971.4 311.1L961 301.2L952.7 293.6L944.4 286.4L936.1 279.6L930 274.9L921.8 269L915.7 264.9L907.6 260L901.6 256.6M895.1 468.7L899.6 467L904.2 465L908.7 462.6L913.2 459.9L917.6 456.9L922.1 453.6L931 446.3L937.6 440.4L946.4 432L981.2 396.7L989.9 388.5L1011.4 368.8L1017.8 362.6L1024.2 356L1034.9 344.2L1056.1 319.1L1066.7 307.2L1070.9 302.8L1077.2 296.5L1096 278.8L1104.3 270.7L1112.6 261.9L1118.9 254.6L1123 249.3L1127.2 243.6L1131.4 237.3L1135.6 230.6L1139.8 223.3L1144 215.3L1148.2 206.6L1152.5 197.1M1170.5 487.5L1130.8 444.4L1106.7 418.9L1095.8 407.8L1085 397L1054.8 368.1L1042 355.5L1029.2 342.1L997.4 307.9L989 299.2L980.7 290.9L970.2 280.9L961.9 273.4L953.6 266.3L945.4 259.6L937.2 253.4L929 247.7L920.9 242.4L914.8 238.8M881.8 459.2L886.3 456.9L890.9 454.3L895.4 451.5L902.1 446.8L906.5 443.5L913.2 438.2L924.2 428.7L935.2 418.4L946.1 407.7L993.7 359.9L1008.7 344.2L1019.4 332.3L1040.6 307.3L1051.1 295.2L1061.7 284L1080.5 265.1L1088.9 256.4L1097.2 247.1L1103.4 239.5L1109.7 231.2L1113.9 225.1L1118 218.7L1122.2 211.8L1126.4 204.3L1130.6 196.2L1134.9 187.5L1139.1 178.1M1183.7 480.1L1170.4 464.3L1155 446.4L1139.7 429.1L1124.4 412.3L1100.5 386.9L1055.4 339.9L1010.9 292.2L992 272.6L981.5 262.2L973.2 254.3L964.9 246.8L956.6 239.8L948.4 233.4L942.3 229L934.2 223.8L928.1 220.4M868.6 449.9L875.4 445.3L882.1 440.4L895.5 430.1L908.7 418.9L924.1 405L939.4 390.3L954.6 374.8L969.6 358.8L986.8 339.8L1033.5 285.9L1042 276.5L1063 253.8L1071.4 244.5L1079.7 234.7L1086 226.9L1092.2 218.5L1096.4 212.6L1102.7 203.2L1106.8 196.4L1113.1 185.4L1117.3 177.5L1121.5 169.1L1125.8 160.2M1196.7 473.4L1183.5 456.2L1170.4 439.9L1157.3 424.3L1139.9 404.3L1081.6 338.6L1068.8 324.4L1056 310.5L1026.3 279.2L996.9 247.2L988.6 238.5L980.3 230.2L972 222.4L965.8 217.1L959.6 212.3L953.5 208L947.4 204.3L941.3 201.2M855.5 440.8L871.2 428.4L886.7 415.4L899.9 403.8L913.1 391.7L926.2 379L937 367.9L947.8 356.2L960.7 341.5L1003.3 291.2L1047.6 239.9L1058.1 227.3L1066.4 216.7L1072.7 208.3L1078.9 199.6L1085.2 190.4L1091.5 180.6L1097.7 170.2L1101.9 162.9L1108.2 151.3L1112.4 143M1209.6 467.2L1200.9 454.9L1192.2 443.1L1183.5 431.7L1174.8 420.7L1159.5 402.2L1124.9 361.3L1094.9 325.2L1084.2 312.7L1075.7 303.1L1048.1 273.5L1037.5 261.8L1001.9 220.2L993.5 211.1L987.3 204.7L981.1 198.8L974.9 193.5L968.7 188.9L964.6 186.3L958.5 183L954.4 181.3M842.5 431.9L858.1 419.1L871.4 407.5L886.8 393.4L900 380.6L913 367.3L926 353.3L938.9 338.8L953.9 321.2L994.3 272.5L1015.4 246.7L1032.2 225.5L1046.9 206.3L1061.5 186.1L1074 167.7L1086.6 147.9L1092.8 137.4L1099.1 126.5M1222.4 461.1L1211.6 445.3L1198.6 427.2L1185.6 409.9L1170.4 390.6L1114.5 321.3L1101.7 305.6L1088.9 290.6L1061.3 259.3L1050.8 246.8L1042.4 236.3L1021.4 209.4L1011 196.5L1004.7 189.3L998.5 182.6L992.2 176.5L988.1 172.9L981.9 168.1L977.8 165.4L973.7 163.1L971.7 162.2L967.6 160.6M829.6 423.2L840.8 414.3L847.4 408.7L854.1 402.7L867.3 390.1L880.4 376.7L897.8 358L917.2 336.1L938.6 311.4L957.8 288.5L972.6 270.1L989.5 248.3L1004.3 228.8L1021.1 205.8L1037.8 182.1L1054.6 157.9L1071.2 132.9L1085.8 110.4M1235.1 454.9L1222.2 435.6L1209.2 417L1194.1 396.1L1179.1 376L1155.4 345.3L1125.5 307.3L1108.5 286.1L1080.9 252.7L1070.3 239.5L1057.7 222.8L1032.5 188.1L1022.1 174.6L1015.8 167.1L1009.6 160.1L1003.4 153.9L999.2 150.2L993 145.5L988.9 142.9L984.8 140.8L980.7 139.2M816.8 414.5L825.7 407.9L830.2 404.3L836.8 398.5L847.8 387.9L858.8 376.5L874 359.6L904.1 324.4L929.8 295L940.5 282.5L949 272L957.4 261.2L965.9 249.9L976.4 235.4L986.9 220.4L1005.8 192.8L1049.7 127.6L1072.6 94.4M1247.7 448.2L1230.6 422.2L1215.6 400L1198.4 375.3L1183.4 354.3L1168.5 333.9L1155.6 316.9L1106.7 254L1089.8 231.8L1075.1 211.5L1047.9 172.1L1041.6 163.4L1035.3 155L1029 147.1L1022.8 139.9L1016.5 133.3L1012.4 129.4L1006.2 124.2L1002 121.3L997.9 118.9L993.8 117M804.1 406L808.6 402.9L813 399.6L821.9 392.1L830.7 383.8L841.6 372.4L848.1 365.2L856.8 355.2L891.2 314.1L921.1 280L929.6 269.8L936 261.8L942.3 253.5L950.7 242L965.4 220.7L982.2 195.3L1015.6 143.4L1030.2 121L1044.8 99.2L1059.4 78.4M1260.3 440.7L1213.4 368.1L1198.5 345.7L1185.7 327L1177.2 314.8L1166.6 300.1L1130.5 251.6L1109.3 222.6L1094.6 201.7L1067.3 161.8L1054.8 144L1048.5 135.5L1042.2 127.5L1036 119.9L1029.7 113L1023.5 106.7L1017.2 101.2L1011 96.6L1006.9 94M791.4 397.6L800.4 390.8L804.8 387.1L811.4 381.2L822.4 370.5L833.3 358.9L846.2 344.1L876.3 308.6L904 276.4L914.6 263.6L923.1 252.8L931.5 241.4L939.9 229.5L950.4 214.1L960.8 198.1L981.7 165.2L1027.5 91.5L1046.2 62.1M1272.9 431.6L1255.9 404.4L1215.7 338.8L1200.9 315.2L1190.3 298.8L1181.8 286L1158.5 252.1L1088.9 153.2L1076.3 135.7L1065.8 121.6L1053.3 105.6L1047 98.1L1040.8 90.9L1030.4 79.8L1024.1 73.8L1020 70.1" fill="none" stroke="#000" stroke-width="1.5"/><path d="M1033.1 580.7L1008.9 558.9L995.5 547.3L982.2 536.1L969 525.2L953.3 512.6L940.3 502.5L924.8 490.6L896.7 469.9L864 446.7L829.5 423.1L778.9 389.2L797.4 372.5L813.2 357.4L831.5 338.9L847 322.3L865 301.9L880.3 283.6L895.6 264.4L910.7 244.4L928.3 220L943.4 198.1L958.4 175.2L973.4 151.3L988.3 126.4L1003.2 100.5L1018.2 73.5L1033.1 45.3L1043.1 58.1L1053.1 70.6L1098.3 125.5L1118.6 150.8L1128.7 164.1L1138.8 177.8L1149 192.1L1156.6 203.2L1164.2 214.8L1174.3 230.7L1184.5 247.1L1194.6 263.9L1214.8 298.5L1260.2 377.5L1272.8 399L1285.5 420.1L1278.3 427L1271.1 433L1266.3 436.6L1261.5 439.9L1252 445.8L1242.4 451.1L1232.8 456.1L1198.8 472.4L1186.4 478.6L1173.9 485.5L1158.8 494.7L1146.1 503L1133.3 511.9L1086.5 545.5L1067.9 558.5L1049.3 570.9L1033.1 580.7Z" fill="none" stroke="#000" stroke-width="1.8" stroke-linejoin="round"/><path d="M782.5 451.3L764.9 151.7M782.5 451.3L1033.1 616.3M1033.1 616.3L1283.7 451.3M780.2 410.9L785 408.2M777.7 369.8L782.6 367.1M775.3 327.9L780.2 325.2M772.7 285.1L777.7 282.5M770.2 241.5L775.2 238.9M767.5 197.1L772.7 194.5M764.9 151.7L770 149.2M1033.1 616.3L1037.9 613.1M995.2 591.3L1000 588.2M958 566.8L962.8 563.8M921.5 542.8L926.3 539.8M885.8 519.3L890.6 516.3M850.7 496.2L855.5 493.3M816.3 473.5L821.1 470.7M782.5 451.3L787.3 448.5M1033.1 616.3L1028.3 613.1M1059.7 598.8L1054.9 595.6M1086 581.5L1081.2 578.4M1111.9 564.4L1107.1 561.4M1137.4 547.6L1132.6 544.6M1162.6 531L1157.8 528M1187.5 514.6L1182.7 511.7M1212 498.4L1207.2 495.6M1236.2 482.5L1231.4 479.7M1260.1 466.8L1255.3 464M1283.7 451.3L1278.9 448.5" fill="none" stroke="#000" stroke-width="1.7" stroke-linecap="square"/><g><text transform="matrix(0.8093 -0.4375 0.0589 0.9983 768.46 424.91)" font-size="13.5" text-anchor="end">10</text><text transform="matrix(0.8093 -0.4375 0.0589 0.9983 766.04 383.79)" font-size="13.5" text-anchor="end">20</text><text transform="matrix(0.8093 -0.4375 0.0589 0.9983 763.56 341.87)" font-size="13.5" text-anchor="end">30</text><text transform="matrix(0.8093 -0.4375 0.0589 0.9983 761.04 299.13)" font-size="13.5" text-anchor="end">40</text><text transform="matrix(0.8093 -0.4375 0.0589 0.9983 758.47 255.54)" font-size="13.5" text-anchor="end">50</text><text transform="matrix(0.8093 -0.4375 0.0589 0.9983 755.85 211.09)" font-size="13.5" text-anchor="end">60</text><text transform="matrix(0.8093 -0.4375 0.0589 0.9983 753.17 165.74)" font-size="13.5" text-anchor="end">70</text><text transform="matrix(0.7683 0.5061 -0.8351 0.5501 1008.10 632.02)" font-size="13.5" text-anchor="middle">0</text><text transform="matrix(0.7683 0.5061 -0.8351 0.5501 970.16 607.03)" font-size="13.5" text-anchor="middle">10</text><text transform="matrix(0.7683 0.5061 -0.8351 0.5501 932.98 582.53)" font-size="13.5" text-anchor="middle">20</text><text transform="matrix(0.7683 0.5061 -0.8351 0.5501 896.52 558.51)" font-size="13.5" text-anchor="middle">30</text><text transform="matrix(0.7683 0.5061 -0.8351 0.5501 860.76 534.96)" font-size="13.5" text-anchor="middle">40</text><text transform="matrix(0.7683 0.5061 -0.8351 0.5501 825.70 511.86)" font-size="13.5" text-anchor="middle">50</text><text transform="matrix(0.7683 0.5061 -0.8351 0.5501 791.30 489.20)" font-size="13.5" text-anchor="middle">60</text><text transform="matrix(0.7683 0.5061 -0.8351 0.5501 757.54 466.96)" font-size="13.5" text-anchor="middle">70</text><text transform="matrix(0.7683 0.5061 -0.8351 0.5501 1036.70 628.32)" font-size="13.5" text-anchor="start">30</text><text transform="matrix(0.7683 0.5061 -0.8351 0.5501 1063.33 610.78)" font-size="13.5" text-anchor="start">40</text><text transform="matrix(0.7683 0.5061 -0.8351 0.5501 1089.60 593.47)" font-size="13.5" text-anchor="start">50</text><text transform="matrix(0.7683 0.5061 -0.8351 0.5501 1115.50 576.41)" font-size="13.5" text-anchor="start">60</text><text transform="matrix(0.7683 0.5061 -0.8351 0.5501 1141.05 559.58)" font-size="13.5" text-anchor="start">70</text><text transform="matrix(0.7683 0.5061 -0.8351 0.5501 1166.25 542.98)" font-size="13.5" text-anchor="start">80</text><text transform="matrix(0.7683 0.5061 -0.8351 0.5501 1191.10 526.60)" font-size="13.5" text-anchor="start">90</text><text transform="matrix(0.7683 0.5061 -0.8351 0.5501 1215.63 510.45)" font-size="13.5" text-anchor="start">100</text><text transform="matrix(0.7683 0.5061 -0.8351 0.5501 1239.82 494.51)" font-size="13.5" text-anchor="start">110</text><text transform="matrix(0.7683 0.5061 -0.8351 0.5501 1263.70 478.78)" font-size="13.5" text-anchor="start">120</text><text transform="matrix(0.7683 0.5061 -0.8351 0.5501 1287.26 463.26)" font-size="13.5" text-anchor="start">130</text></g><g font-weight="bold"><text transform="matrix(0.6347 0.4181 -0.8351 0.5501 848.50 563.80)" font-size="20" text-anchor="middle">Pretreatment time [min]</text><text transform="matrix(0.6363 -0.4192 0.8351 0.5501 1219.20 571.80)" font-size="20" text-anchor="middle">Pretreatment pressure [PSI]</text><text transform="matrix(0.0453 0.7687 -0.8797 0.4755 717.00 329.00)" font-size="20" text-anchor="middle">Wheat straw biomass extractives</text><text transform="matrix(0.0453 0.7687 -0.8797 0.4755 695.60 347.60)" font-size="20" text-anchor="middle">[%]</text><text x="692" y="50" font-size="62">B</text></g></g><g id="panelC"><path d="M1449.7 451.6L1432.1 152M1476.3 436.2L1460.6 137.7M1502.5 421.1L1488.7 123.7M1528.3 406.2L1516.4 109.8M1553.8 391.5L1543.8 96M1579 376.9L1570.8 82.5M1603.9 362.6L1597.4 69.2M1628.4 348.4L1623.6 56M1652.7 334.4L1649.5 43M1676.6 320.6L1675.1 30.2M1700.3 306.9L1700.3 17.6M1950.9 451.6L1968.5 152M1913.1 429.7L1927.9 131.7M1876 408.3L1888.1 111.7M1839.5 387.3L1849.1 92.2M1803.8 366.6L1810.8 73M1768.7 346.4L1773.3 54.2M1734.2 326.5L1736.4 35.7M1700.3 306.9L1700.3 17.6M1449.7 451.6L1700.3 306.9M1700.3 306.9L1950.9 451.6M1447.4 411.2L1700.3 267.8M1700.3 267.8L1953.2 411.2M1444.9 370.1L1700.3 228M1700.3 228L1955.7 370.1M1442.5 328.2L1700.3 187.4M1700.3 187.4L1958.1 328.2M1439.9 285.4L1700.3 146.1M1700.3 146.1L1960.7 285.4M1437.4 241.8L1700.3 104.1M1700.3 104.1L1963.2 241.8M1434.7 197.4L1700.3 61.2M1700.3 61.2L1965.9 197.4M1432.1 152L1700.3 17.6M1700.3 17.6L1968.5 152M1700.3 616.6L1449.7 451.6M1726.9 599.1L1476.3 436.2M1753.2 581.8L1502.5 421.1M1779.1 564.7L1528.3 406.2M1804.6 547.9L1553.8 391.5M1829.8 531.3L1579 376.9M1854.7 514.9L1603.9 362.6M1879.2 498.7L1628.4 348.4M1903.4 482.8L1652.7 334.4M1927.3 467.1L1676.6 320.6M1950.9 451.6L1700.3 306.9M1700.3 616.6L1950.9 451.6M1662.4 591.6L1913.1 429.7M1625.2 567.1L1876 408.3M1588.7 543.1L1839.5 387.3M1553 519.6L1803.8 366.6M1517.9 496.5L1768.7 346.4M1483.5 473.8L1734.2 326.5M1449.7 451.6L1700.3 306.9" fill="none" stroke="#d2d2d2" stroke-width="1.5"/><g fill="none" stroke-width="1.3"><path d="M1945.6 448.5L1931.2 460.6L1924.7 465.5L1917.8 470.4L1900.8 481.3L1875.3 496.4L1868.1 501.3L1863.6 504.8L1857.2 510.2L1846.2 520.5" stroke="#00572d"/><path d="M1940.3 445.4L1935.1 451.2L1929.5 456.6L1921.3 463.5L1914.6 468.5L1907.6 473.3L1897.8 479.5L1869.5 496L1860 502.6L1853.4 507.9L1842.9 517.1L1830.3 528.4L1821.6 536.7" stroke="#006b27"/><path d="M1935 442.4L1930.7 448.4L1927.2 452.4L1921.7 457.9L1915.6 463.2L1906.6 469.7L1897 476L1886.9 482L1865.8 493.8L1860.8 496.9L1853.8 501.9L1813.6 534.1L1800.2 545.1L1789.5 554.7L1781.4 563.2" stroke="#007e20"/><path d="M1929.8 439.4L1927.3 443.7L1924.4 447.8L1921.2 451.8L1917.7 455.6L1913.9 459.2L1909.7 462.7L1900.7 469.3L1893.5 473.9L1885.9 478.4L1864.4 489.8L1856.6 494.3L1846.9 500.9L1830.8 512.9L1821.2 519.6L1808.9 527.9L1798.6 534.4L1777 546.9L1743.1 565.2L1735 570.1L1730.1 573.7L1725.8 577.7L1724 580L1722.5 582.5L1721.6 585.3L1721.3 588.5L1722 591.8L1723.2 594.6L1724.7 597.1L1726.5 599.4" stroke="#009119"/><path d="M1466.7 462.7L1463.9 457.9L1462.1 453.1L1461.4 449.3L1461.4 444.8M1924.7 436.4L1922.4 440.9L1919.7 445.1L1916.8 449.2L1913.6 453L1907.8 458.6L1899.3 465.4L1892.2 470.2L1882 476.1L1873.9 480.4L1857.2 488.6L1851.8 491.5L1844.2 496.1L1822.3 510.8L1811.9 517.1L1801.9 522.5L1792.2 527.2L1780.1 532.5L1767.2 537.5L1753.6 542L1730.3 548.7L1668.1 564.3L1660.7 566.3L1653.7 568.6L1650.5 570L1647.6 571.5L1645.3 573.5L1644.1 576.1L1644.2 577.1L1645.5 580.5" stroke="#00a412"/><path d="M1919.7 433.5L1917.4 438L1915 442.4L1912.1 446.5L1909 450.5L1905.5 454.3L1901.6 457.9L1892.8 464.6L1885.6 469.2L1877.8 473.6L1869.5 477.7L1852 485.5L1846.4 488.2L1838.5 492.7L1817.9 505L1809.6 509.4L1798.9 514.4L1785.6 519.6L1771.8 524.2L1756.8 528.3L1740.8 531.9L1722.3 535.4L1705.6 537.8L1691.8 539.1L1676.6 539.8L1661.6 539.3L1648 538.1L1626.7 535.2L1610.8 532.2L1597.9 528.7L1586.5 524.8L1574.4 519.5L1560.5 512.3L1542.3 501.5L1532.4 495.2L1522.9 488.7L1509.5 478.5L1503.3 473.2L1497.5 467.7L1492.3 461.9L1489.2 457.8L1486.6 453.4L1484.5 448.8L1483.1 443.9L1482.7 441.1L1482.7 438.3L1483 435.3L1483.6 432" stroke="#00b80b"/><path d="M1914.7 430.7L1911.3 437.4L1908.7 441.6L1905.9 445.8L1902.6 449.7L1899 453.5L1895 457L1890.6 460.4L1886 463.5L1878.4 468L1870.2 472.1L1864.5 474.7L1846.1 481.9L1840.2 484.5L1831.7 488.6L1813.9 498L1803.8 502.6L1794.4 506.3L1781.1 510.7L1768.3 514.2L1752.8 517.6L1738.7 520L1725.7 521.7L1712.8 522.8L1697.6 523.1L1683.3 522.4L1674.6 521.4L1662 519.5L1634 514.5L1622.7 512L1615.5 510.1L1602.2 505.6L1590 500.6L1578.5 495.1L1545 478.5L1531.9 471.2L1522.4 464.9L1518.1 461.5L1514 458L1510.3 454.2L1507 450.3L1504.2 446.1L1503 443.9L1501.1 439.2L1500.5 436.7L1499.9 431.2L1500 428.3L1500.5 425.1L1501.4 421.7" stroke="#00cb05"/><path d="M1909.8 427.9L1905.1 436.6L1900.9 442.9L1897.3 447.3L1892.2 452.4L1888 455.8L1881 460.6L1873.3 465L1864.8 468.9L1855.5 472.4L1832.7 480L1823.6 483.7L1809 490.2L1799.6 494.1L1790.1 497.4L1779.5 500.4L1763.8 503.9L1748.3 506.4L1732 507.8L1726.6 508L1716.5 507.9L1702.8 506.8L1686.4 504.3L1663.2 499.6L1645 495L1638.2 492.9L1628.4 489.5L1594.7 476.1L1585.1 472.6L1562.2 465.2L1553 461.7L1547.2 459.1L1541.8 456.4L1536.7 453.5L1529.8 448.7L1524 443.3L1520.8 439.3L1519.4 437.2L1517.2 432.7L1516.4 430.3L1515.4 425.1L1515.4 422.2L1515.6 419.2L1516.2 416L1517.2 412.6" stroke="#0ed800"/><path d="M1905 425.1L1900 433.7L1895.7 439.9L1890.7 445.7L1886.9 449.3L1882.7 452.7L1875.5 457.4L1870.3 460.2L1861.7 464.1L1850.4 467.9L1830.7 472.7L1820.3 475.5L1794.3 484.4L1785.1 487L1777.1 488.9L1768.6 490.4L1757.2 491.8L1746.2 492.3L1736.5 492L1723.4 490.6L1707.3 488L1687.8 484.3L1673.1 480.8L1666.1 478.8L1656.1 475.6L1630.7 466.4L1617.6 462.2L1603.7 458.4L1584.1 454.1L1574.6 451.8L1564.6 448.8L1555.5 445.3L1547.6 441.2L1540.8 436.4L1537 432.7L1535.4 430.8L1532.7 426.5L1530.9 421.8L1530 416.6L1530.1 413.7L1530.4 410.7L1531.1 407.4L1532.1 404" stroke="#3ed800"/><path d="M1900.3 422.4L1894.9 430.7L1890.4 436.8L1885.2 442.5L1881.3 446L1874.5 450.9L1869.5 453.8L1861.4 457.6L1854.8 460L1844.4 462.8L1836.8 464.3L1812.4 467.8L1788.1 472.2L1777 473.9L1769.1 474.6L1763.4 474.8L1753.9 474.6L1741.5 473.8L1726.9 472.5L1714.2 471L1702.1 469.1L1690.7 466.8L1676.6 463L1647 453.5L1633.4 449.6L1622.7 447L1595.9 442.1L1584.9 439.7L1574.7 436.9L1568.5 434.7L1560.2 430.8L1555.5 427.7L1551.5 424.2L1549.8 422.3L1547 418.2L1545.2 413.5L1544.6 411L1544.4 408.3L1544.4 405.4L1544.8 402.3L1546.6 395.6" stroke="#6dd800"/><path d="M1895.4 419.6L1889.7 427.7L1884.9 433.6L1879.5 439.1L1875.3 442.5L1868.2 447.1L1862.8 449.9L1853.7 453.4L1846.9 455.3L1843.3 456.1L1835.4 457.4L1826.7 458.2L1819.7 458.5L1781.4 458.1L1743.8 459.8L1733.5 459.6L1723.5 459L1710.9 457.4L1703.2 456L1695.8 454.3L1682 450.5L1655.5 442.2L1645.4 439.4L1631 436L1597.4 429.4L1587.1 426.6L1578 423.3L1572.7 420.6L1570.3 419.1L1566.1 415.7L1562.8 411.9L1560.4 407.6L1559.6 405.2L1559 402.6L1558.8 399.9L1558.9 397L1559.3 394L1560 390.7L1561.1 387.3" stroke="#9dd800"/><path d="M1890.4 416.7L1884.3 424.6L1879.2 430.2L1873.3 435.5L1868.9 438.8L1861.2 443L1855.4 445.5L1848.9 447.6L1841.6 449.2L1832.4 450.4L1824.2 450.7L1813.4 450.3L1795.3 448.5L1784.5 448L1774.7 448.1L1742.6 449.8L1732.4 449.7L1720 448.7L1708.2 446.7L1697.4 444.1L1687.3 441.2L1661.1 432.9L1651 430L1640.5 427.3L1615.5 421.6L1605.2 418.9L1595.7 415.7L1590 413.3L1584.9 410.5L1580.7 407.2L1577.3 403.4L1574.8 399.1L1574 396.8L1573.5 394.2L1573.3 391.5L1573.4 388.6L1574.5 383.1L1576.1 378.6" stroke="#ccd800"/><path d="M1885.1 413.6L1880.3 419.4L1875 424.9L1869 430.1L1864.4 433.2L1859.2 436L1853.4 438.5L1846.9 440.5L1839.5 442L1830.9 442.9L1824.1 443L1815.6 442.6L1797 441.2L1782.4 440.7L1741 441.8L1728.5 441.3L1718.9 440.1L1707.7 437.8L1697.3 435L1658.2 422.6L1624.6 413.2L1612.1 409L1606.3 406.6L1601.1 403.8L1596.6 400.7L1592.8 397.2L1590 393.2L1588.9 390.9L1588.2 388.5L1587.7 386L1587.6 383.2L1588 380.2L1588.8 376.9L1589.7 374.5L1592.4 369.2" stroke="#d8bb00"/><path d="M1879.4 410.3L1874.2 415.8L1868.4 421.1L1864.1 424.4L1859.4 427.4L1854 430L1847.8 432.2L1844.4 433.1L1837.7 434.4L1831.7 435L1823.1 435.3L1787.3 434.7L1747.1 435L1733.3 434.3L1721.1 432.7L1710.1 430.3L1699.8 427.4L1641.8 408.9L1632.5 405.6L1623.7 402.1L1618.4 399.5L1613.5 396.6L1609.2 393.3L1605.7 389.7L1604.3 387.7L1603.2 385.5L1602.3 383.1L1601.8 380.6L1601.7 377.9L1601.8 376L1602.9 371.5L1605.3 366.3L1609.9 359.1" stroke="#d89300"/><path d="M1872.8 406.5L1867.3 411.8L1863.2 415.2L1858.7 418.3L1853.7 421.1L1847.9 423.6L1844.7 424.6L1841.3 425.5L1833.7 426.9L1820.8 428.1L1802.3 428.8L1783.3 429.3L1761.3 429.3L1747.2 428.8L1738.5 428.1L1730.3 427L1719.1 424.7L1708.7 422L1698.8 419L1651.4 403.1L1642.5 399.7L1634.3 395.9L1629.2 393.1L1624.8 390L1620.9 386.5L1617.9 382.5L1616.8 380.3L1616 378L1615.6 375.4L1615.6 372.6L1616.1 369.5L1616.7 367.4L1618.8 362.3L1621.1 358.2L1626.9 349.3" stroke="#d86b00"/><path d="M1865.4 402.2L1859.5 407.3L1855 410.4L1850.1 413.3L1844.5 415.8L1838.3 417.9L1831.2 419.6L1823.6 420.9L1815.5 421.9L1798.2 423.4L1784.6 424.1L1774.4 424.2L1760.2 423.8L1751.3 423.2L1739 421.7L1731.4 420.2L1720.8 417.7L1710.8 414.7L1701.2 411.6L1673.1 401.9L1661 397.4L1652.5 393.8L1644.7 389.7L1640.1 386.7L1636.1 383.3L1632.8 379.5L1631.6 377.4L1630.6 375.1L1630 372.7L1629.7 370L1629.9 367.1L1630.6 363.9L1632.2 359.3L1641.8 340.7" stroke="#d84200"/><path d="M1857.3 397.5L1851.2 402.5L1846.6 405.5L1838.6 409.5L1832.6 411.7L1826 413.6L1818.8 415.2L1807.1 417L1798.8 418L1788.2 418.7L1777.8 419L1768.2 418.9L1759.2 418.3L1751 417.3L1743.3 416L1732.6 413.5L1722.6 410.6L1710.1 406.2L1685.7 397.3L1671.1 391.4L1663 387.5L1658.1 384.7L1653.7 381.5L1649.9 378L1647.1 374.1L1646 371.8L1645.3 369.4L1644.9 367L1645 363.9L1645.4 360.8L1646.3 357.5L1652 342.5L1653.5 337.7L1654.4 333.4" stroke="#d81a00"/><path d="M1849 392.7L1845.2 396.2L1838.4 400.8L1833.3 403.5L1827.6 405.9L1821.3 408L1814.5 409.8L1804.6 411.6L1795.1 412.8L1786.3 413.5L1776.9 413.7L1771.7 413.6L1763 413L1754.9 411.9L1747.6 410.4L1740.7 408.6L1731 405.5L1716.1 399.6L1693.2 389.9L1684.9 386.1L1679.8 383.4L1674.9 380.5L1670.6 377.3L1666.9 373.7L1664.2 369.8L1663.1 367.4L1662.4 365L1662 362.4L1661.9 359.7L1662.1 356.7L1665.4 339.1L1665.7 333.6L1665.1 327.2" stroke="#d20000"/><path d="M1840.6 387.9L1837 391.5L1832.8 394.7L1828 397.6L1822.7 400.2L1816.7 402.4L1810.2 404.3L1803 405.9L1795.1 407L1786.5 407.8L1781 408L1776.1 407.9L1767.3 407.3L1759.5 406.1L1752.3 404.4L1745.7 402.5L1739.5 400.3L1733.7 397.9L1725.4 394L1712.1 387.3L1702 381.7L1697.2 378.8L1692.8 375.6L1688.8 372.2L1685.5 368.5L1682.9 364.3L1681.1 359.7L1680.3 354.5L1679.6 341.8L1678.8 335.8L1677.3 329.3L1674.4 321.9" stroke="#c00000"/><path d="M1831.7 382.8L1830.2 384.7L1826.5 388.2L1822.2 391.4L1817.2 394.2L1811.5 396.6L1806.7 398.1L1801.7 399.4L1794.1 400.7L1786.9 401.3L1781.8 401.4L1775.2 401.1L1768.8 400.3L1761.6 398.8L1758.1 397.9L1751.8 395.8L1746 393.3L1740.7 390.7L1735.6 387.8L1723.8 380.3L1715.1 373.9L1711.2 370.4L1707.7 366.7L1704.3 362.1L1701.1 356.4L1699.2 351.8L1694.8 339.5L1691.5 332L1686.9 323.8L1682.5 317.2" stroke="#ad0000"/><path d="M1821.7 377L1818.6 380.8L1816.8 382.6L1814.8 384.3L1810.2 387.2L1807.3 388.7L1801.7 390.8L1794.7 392.4L1790.6 393L1785.4 393.2L1780.7 393L1776.6 392.6L1772.7 392L1765.9 390.2L1762.8 389.1L1757.1 386.6L1749.7 382.3L1743.1 377.5L1735 370.6L1729.6 365.2L1726.2 361.5L1721.7 355.6L1705.1 331.7L1697 321.4L1689.7 313" stroke="#9a0000"/><path d="M1809.7 370L1805.9 373.5L1801.5 376.5L1798.9 377.8L1796 379L1792.4 379.9L1786.6 380.5L1782.1 380.3L1778.3 379.7L1774.9 378.7L1769.1 376.4L1764.2 373.5L1759.7 370.4L1753.5 365.4L1745.7 358.5L1734.7 347.9L1696.3 309.2" stroke="#880000"/><path d="M1793.4 360.6L1789.4 361.1L1784.7 361.1L1780.8 360.5L1777.4 359.7L1774.3 358.7L1768.6 356.3L1760.9 352.3L1749.3 344.9L1736.6 335.5L1722.6 324.1L1708.2 311.5" stroke="#760000"/></g><g fill-rule="evenodd" stroke="none"><path d="M1700.3 560.2L1681.4 548.2L1659.9 533.8L1636.1 517.2L1586.7 481.9L1566.3 467.4L1546.1 453.6L1526.1 440.6L1513.8 433L1504 427.2L1494.2 421.7L1484.6 416.6L1475 411.9L1465.5 407.5L1456 403.5L1446.7 400L1457.3 390L1467.8 379L1478.2 367.4L1491.1 351.8L1501.4 338.9L1514.2 322.1L1554.9 266.9L1572.6 243.5L1587.8 224.4L1613.1 194.2L1623.1 181.9L1633.2 169.2L1640.7 159.1L1650.6 144.8L1658.1 133.4L1665.5 121.1L1673 107.9L1680.4 93.6L1687.9 78.3L1695.3 61.7L1700.3 49.9L1710.3 50.3L1717.8 51L1722.9 51.7L1727.9 52.7L1735.6 54.6L1740.7 56.2L1745.8 58L1753.5 61.3L1761.2 65.2L1768.9 69.9L1776.7 75.4L1784.4 81.8L1792.2 89L1800 97.1L1807.7 106.2L1815.5 116.3L1823.2 127.5L1828.4 135.6L1836 148.6L1843.7 162.7L1851.3 177.5L1866.6 207.9L1871.6 218.2L1876.7 228.9L1881.7 240.4L1886.6 252.9L1891.5 266.3L1896.4 280.7L1901.2 295.7L1917.8 349.7L1927.3 379.7L1939.1 416L1950.9 451.2L1943.8 455.9L1927.4 465L1920.3 469.4L1910.7 476.2L1903.5 481.8L1897.4 486.8L1878.5 498.2L1871.4 503.2L1866.8 506.9L1862.2 507.8L1847.7 509.2L1837.9 510.6L1832.9 511.6L1825.5 513.3L1812.9 517L1800.3 521.5L1787.5 526.7L1777.2 531.4L1748.4 544.8L1740.5 548.2L1732.6 551.4L1724.6 554.3L1716.5 556.8L1708.4 558.8L1703 559.8Z" fill="#006736"/><path d="M1700.3 560.2L1681.4 548.2L1659.9 533.8L1636.1 517.2L1566.3 467.4L1546.1 453.6L1526.1 440.6L1513.8 433L1504 427.2L1494.2 421.7L1484.6 416.6L1475 411.9L1465.5 407.5L1456 403.5L1446.7 400L1457.3 390L1467.8 379L1478.2 367.4L1491.1 351.8L1501.4 338.9L1514.2 322.1L1554.9 266.9L1572.6 243.5L1587.8 224.4L1623.1 181.9L1633.2 169.2L1640.7 159.1L1650.6 144.8L1658.1 133.4L1665.5 121.1L1673 107.9L1680.4 93.6L1687.9 78.3L1695.3 61.7L1700.3 49.9L1710.3 50.3L1717.8 51L1727.9 52.7L1735.6 54.6L1740.7 56.2L1745.8 58L1753.5 61.3L1761.2 65.2L1768.9 69.9L1776.7 75.4L1784.4 81.8L1792.2 89L1797.4 94.3L1805.1 103.1L1812.9 112.8L1820.6 123.7L1825.8 131.5L1830.9 139.8L1838.6 153.2L1851.3 177.5L1866.6 207.9L1874.1 223.5L1879.2 234.6L1884.2 246.5L1889.1 259.5L1896.4 280.7L1903.6 303.3L1924.9 372.3L1934.4 401.6L1946.2 437.5L1940.2 442.7L1931.8 449.4L1925.3 454.4L1918.3 459.2L1908.8 465.5L1899.4 471.3L1875.8 485.2L1868.6 490.1L1864.1 493.5L1857.6 499L1853.5 502.7L1846.6 509.3L1837.9 510.6L1828 512.7L1818 515.4L1807.9 518.7L1797.7 522.5L1787.5 526.7L1777.2 531.4L1751.1 543.6L1735.2 550.4L1727.2 553.4L1719.2 556L1711.1 558.2L1703 559.8Z" fill="#007e2e"/><path d="M1700.3 560.2L1681.4 548.2L1659.9 533.8L1636.1 517.2L1566.3 467.4L1546.1 453.6L1526.1 440.6L1513.8 433L1504 427.2L1494.2 421.7L1484.6 416.6L1475 411.9L1465.5 407.5L1456 403.5L1446.7 400L1457.3 390L1467.8 379L1478.2 367.4L1491.1 351.8L1501.4 338.9L1514.2 322.1L1554.9 266.9L1572.6 243.5L1587.8 224.4L1623.1 181.9L1633.2 169.2L1640.7 159.1L1650.6 144.8L1658.1 133.4L1665.5 121.1L1673 107.9L1680.4 93.6L1687.9 78.3L1695.3 61.7L1700.3 49.9L1710.3 50.3L1717.8 51L1727.9 52.7L1735.6 54.6L1740.7 56.2L1745.8 58L1753.5 61.3L1761.2 65.2L1768.9 69.9L1776.7 75.4L1784.4 81.8L1792.2 89L1797.4 94.3L1805.1 103.1L1812.9 112.8L1820.6 123.7L1825.8 131.5L1830.9 139.8L1838.6 153.2L1851.3 177.5L1866.6 207.9L1874.1 223.5L1879.2 234.6L1884.2 246.5L1889.1 259.5L1896.4 280.7L1903.6 303.3L1922.6 364.8L1941.5 423.3L1936.4 428.9L1930.7 434.4L1922.4 441.3L1915.7 446.2L1908.7 451L1898.8 457.1L1870.4 473.5L1865.5 476.7L1860.9 480.1L1854.2 485.4L1841.5 496.4L1829 507.8L1822.2 514.2L1815.5 516.2L1807.9 518.7L1792.6 524.6L1779.8 530.2L1748.4 544.8L1732.6 551.4L1724.6 554.3L1716.5 556.8L1708.4 558.8L1703 559.8Z" fill="#009526"/><path d="M1700.3 560.2L1681.4 548.2L1659.9 533.8L1636.1 517.2L1566.3 467.4L1546.1 453.6L1526.1 440.6L1513.8 433L1504 427.2L1494.2 421.7L1484.6 416.6L1475 411.9L1465.5 407.5L1456 403.5L1446.7 400L1457.3 390L1467.8 379L1478.2 367.4L1491.1 351.8L1501.4 338.9L1514.2 322.1L1554.9 266.9L1572.6 243.5L1587.8 224.4L1623.1 181.9L1633.2 169.2L1640.7 159.1L1650.6 144.8L1658.1 133.4L1665.5 121.1L1673 107.9L1680.4 93.6L1687.9 78.3L1695.3 61.7L1700.3 49.9L1710.3 50.3L1717.8 51L1727.9 52.7L1735.6 54.6L1743.2 57L1750.9 60.1L1758.6 63.8L1766.3 68.3L1774.1 73.5L1781.8 79.6L1789.6 86.5L1794.8 91.6L1802.5 100L1810.3 109.5L1818.1 119.9L1823.2 127.5L1830.9 139.8L1836 148.6L1841.2 157.9L1848.8 172.5L1871.6 218.2L1879.2 234.6L1884.2 246.5L1891.5 266.3L1898.8 288.1L1920.2 357.3L1936.8 409.1L1932.5 415L1929 419L1923.4 424.5L1917.3 429.7L1910.6 434.6L1901 440.9L1888.4 448.4L1867.1 460.1L1862.1 463.2L1855 468.2L1848.2 473.4L1816.8 498.3L1801 511.1L1790.2 520.7L1786.1 524.7L1782 529.1L1748.4 544.8L1732.6 551.4L1724.6 554.3L1716.5 556.8L1708.4 558.8L1703 559.8Z" fill="#00ab1e"/><path d="M1700.3 560.2L1681.4 548.2L1659.9 533.8L1636.1 517.2L1566.3 467.4L1546.1 453.6L1526.1 440.6L1513.8 433L1504 427.2L1494.2 421.7L1484.6 416.6L1475 411.9L1465.5 407.5L1456 403.5L1446.7 400L1457.3 390L1467.8 379L1478.2 367.4L1491.1 351.8L1501.4 338.9L1514.2 322.1L1554.9 266.9L1572.6 243.5L1587.8 224.4L1623.1 181.9L1633.2 169.2L1640.7 159.1L1650.6 144.8L1658.1 133.4L1665.5 121.1L1673 107.9L1680.4 93.6L1687.9 78.3L1695.3 61.7L1700.3 49.9L1710.3 50.3L1717.8 51L1727.9 52.7L1735.6 54.6L1743.2 57L1750.9 60.1L1758.6 63.8L1766.3 68.3L1774.1 73.5L1781.8 79.6L1789.6 86.5L1794.8 91.6L1802.5 100L1807.7 106.2L1815.5 116.3L1820.6 123.7L1828.4 135.6L1833.5 144.1L1838.6 153.2L1846.3 167.5L1856.4 187.5L1871.6 218.2L1876.7 228.9L1881.7 240.4L1889.1 259.5L1896.4 280.7L1903.6 303.3L1920.2 357.3L1932.2 394.9L1929.6 399.1L1926.7 403.2L1923.5 407.1L1920 410.9L1916.1 414.5L1911.9 417.9L1902.9 424.4L1895.6 429.1L1887.9 433.5L1879.9 437.9L1866.1 444.8L1858.2 449.3L1848.5 455.8L1832.2 467.7L1822.6 474.4L1810 482.6L1799.6 489.1L1788.9 495.3L1777.9 501.5L1743.5 519.6L1738 522.8L1732.8 526.3L1728.1 530L1726 532.1L1724.2 534.3L1722.8 536.8L1721.8 539.5L1721.6 542.8L1722.2 546.1L1723.4 548.8L1725 551.2L1726.8 553.5L1719.2 556L1713.8 557.5L1708.4 558.8L1703 559.8Z" fill="#00c216"/><path d="M1644.7 523.2L1568.8 469.2L1548.6 455.3L1531.1 443.8L1511.3 431.5L1494.2 421.7L1477.4 413L1463.6 406.7L1460.8 401.9L1459.7 399.6L1458.9 397.2L1458.2 393.4L1458.1 391.9L1458.3 389L1467.8 379L1475.6 370.3L1485.9 358.2L1496.2 345.4L1514.2 322.1L1554.9 266.9L1572.6 243.5L1587.8 224.4L1623.1 181.9L1633.2 169.2L1643.2 155.6L1650.6 144.8L1658.1 133.4L1665.5 121.1L1673 107.9L1680.4 93.6L1687.9 78.3L1695.3 61.7L1700.3 49.9L1710.3 50.3L1720.3 51.3L1730.5 53.3L1740.7 56.2L1745.8 58L1750.9 60.1L1758.6 63.8L1766.3 68.3L1774.1 73.5L1781.8 79.6L1789.6 86.5L1797.4 94.3L1805.1 103.1L1812.9 112.8L1820.6 123.7L1828.4 135.6L1836 148.6L1841.2 157.9L1848.8 172.5L1871.6 218.2L1879.2 234.6L1886.6 252.9L1891.5 266.3L1898.8 288.1L1917.8 349.7L1927.6 380.7L1926.5 382.9L1924 387.2L1921.9 390.3L1919.6 393.3L1916.3 397.2L1912.6 400.8L1908.5 404.3L1904.2 407.7L1899.6 410.9L1892.2 415.5L1884.5 419.9L1876.3 424.1L1859.3 432.2L1853.9 435.1L1846.2 439.7L1829 451L1821.4 455.8L1810.7 461.9L1802.3 466.3L1790.5 471.8L1777.9 477L1764.7 481.8L1750.8 486.2L1736.3 490.3L1721.8 494.1L1667.6 507.2L1660.2 509.2L1653.1 511.5L1649.8 512.8L1646.9 514.3L1644.6 516.3L1643.3 518.9L1643.4 519.8L1644.3 522.6Z" fill="#00d90e"/><path d="M1568.7 449.6L1561 445.7L1550.1 439.7L1539.7 433.6L1527.2 425.7L1517.7 419.3L1510.8 414.3L1502.2 407.4L1496.2 402L1490.7 396.4L1487.4 392.4L1484.5 388.3L1482.1 383.9L1480.3 379.2L1479.7 376.6L1479.3 374L1479.3 370.1L1479.5 368.2L1480.2 365L1493.7 348.6L1509.1 328.9L1521.8 311.8L1557.4 263.5L1572.6 243.5L1587.8 224.4L1615.6 191.1L1625.6 178.8L1635.7 165.9L1645.6 152.1L1653.1 141.1L1660.6 129.4L1668 116.8L1675.5 103.2L1682.9 88.7L1687.9 78.3L1695.3 61.7L1700.3 49.9L1707.8 50.1L1715.3 50.7L1722.9 51.7L1730.5 53.3L1738.1 55.3L1743.2 57L1750.9 60.1L1756 62.5L1763.8 66.7L1768.9 69.9L1774.1 73.5L1779.2 77.5L1784.4 81.8L1789.6 86.5L1794.8 91.6L1800 97.1L1805.1 103.1L1810.3 109.5L1815.5 116.3L1820.6 123.7L1825.8 131.5L1830.9 139.8L1838.6 153.2L1848.8 172.5L1869.1 213L1876.7 228.9L1884.2 246.5L1889.1 259.5L1896.4 280.7L1903.6 303.3L1923.1 366.5L1919.6 373.1L1917 377.2L1913.9 381.3L1908.7 387L1904.8 390.5L1898.2 395.5L1893.5 398.6L1885.9 403.1L1875.1 408.7L1854.4 417.7L1848.8 420.4L1840.7 424.8L1825.2 434L1819.8 437L1811.4 441.3L1802.6 445.4L1790 450.4L1780 453.8L1769.4 457L1757.7 460L1746.9 462.4L1733.8 465.1L1719.2 467.6L1705.7 469.4L1693.2 470.6L1681.6 471.2L1671 471.3L1661 470.9L1647.1 469.7L1633.9 468.1L1621.3 466.1L1609.3 463.8L1598.2 461L1587.9 457.7L1578.4 454L1569.4 449.9Z" fill="#00ef06"/><path d="M1548.3 402.4L1534 395.1L1526.3 390.7L1521.5 387.5L1516.9 384.3L1512.6 380.9L1508.6 377.3L1505.1 373.6L1502 369.6L1499.4 365.3L1497.4 360.6L1496.8 358.2L1496.4 355.6L1496.2 352.8L1496.4 349.9L1496.9 346.8L1497.7 343.5L1516.7 318.7L1554.9 266.9L1570.1 246.7L1587.8 224.4L1615.6 191.1L1625.6 178.8L1638.2 162.5L1648.1 148.5L1655.6 137.3L1663.1 125.3L1670.5 112.4L1675.5 103.2L1682.9 88.7L1687.9 78.3L1695.3 61.7L1700.3 49.9L1707.8 50.1L1715.3 50.7L1722.9 51.7L1727.9 52.7L1735.6 54.6L1740.7 56.2L1748.3 59L1753.5 61.3L1761.2 65.2L1766.3 68.3L1771.5 71.7L1776.7 75.4L1784.4 81.8L1789.6 86.5L1794.8 91.6L1800 97.1L1805.1 103.1L1810.3 109.5L1815.5 116.3L1820.6 123.7L1825.8 131.5L1830.9 139.8L1836 148.6L1841.2 157.9L1853.9 182.5L1866.6 207.9L1874.1 223.5L1881.7 240.4L1889.1 259.5L1894 273.4L1898.8 288.1L1918.6 352.3L1915.2 358.8L1911.2 365.1L1908.1 369.1L1904.6 372.9L1898.6 378.2L1894.2 381.5L1886.9 386.1L1879 390.4L1870.5 394.4L1845.8 403.9L1834.2 409.2L1817.6 417.8L1811.8 420.5L1802.6 424.4L1792.9 427.9L1778.4 432.3L1764.1 435.7L1746.4 439.1L1732.6 441.2L1719.9 442.5L1708.2 443.2L1697.5 443.3L1687.7 442.9L1678.5 442.1L1665.5 440.4L1644.8 437.1L1628.9 434L1617.5 431.4L1610.4 429.4L1603.6 427.3L1597.1 424.9L1590.9 422.4L1582 418.4L1550.6 403.4Z" fill="#11ff00"/><path d="M1541.9 367.8L1538.4 366.1L1533.2 363.2L1526.2 358.5L1522.1 355L1520.3 353.2L1517 349.3L1515.6 347.3L1513.3 342.9L1512.5 340.5L1511.9 338L1511.5 335.4L1511.5 332.6L1511.8 329.6L1512.4 326.5L1513.4 323.1L1554.9 266.9L1572.6 243.5L1587.8 224.4L1615.6 191.1L1625.6 178.8L1638.2 162.5L1648.1 148.5L1655.6 137.3L1663.1 125.3L1670.5 112.4L1675.5 103.2L1682.9 88.7L1687.9 78.3L1695.3 61.7L1700.3 49.9L1707.8 50.1L1715.3 50.7L1722.9 51.7L1727.9 52.7L1735.6 54.6L1740.7 56.2L1748.3 59L1753.5 61.3L1761.2 65.2L1766.3 68.3L1771.5 71.7L1776.7 75.4L1784.4 81.8L1789.6 86.5L1794.8 91.6L1800 97.1L1805.1 103.1L1810.3 109.5L1815.5 116.3L1820.6 123.7L1825.8 131.5L1830.9 139.8L1836 148.6L1841.2 157.9L1853.9 182.5L1866.6 207.9L1874.1 223.5L1879.2 234.6L1884.2 246.5L1891.5 266.3L1896.4 280.7L1901.2 295.7L1914.2 338.1L1910.7 344.6L1908 348.8L1903.6 354.8L1900.1 358.6L1896.2 362.1L1892 365.5L1887.3 368.7L1879.7 373.1L1874.2 375.8L1865.3 379.6L1854.5 383.3L1842 387L1835.5 389.2L1826.2 392.8L1805.2 401.8L1798.7 404.1L1788.5 407.4L1781.2 409.3L1772.9 411.3L1757.9 414L1744.7 415.7L1732.7 416.6L1727.2 416.8L1716.8 416.7L1707.3 416.1L1698.5 415.1L1686.1 413.1L1670.1 410.1L1658.6 407.7L1647.4 405L1636.8 402L1630.1 399.8L1620.5 396.3L1592.4 385.4L1582.7 382.1L1559.3 374.7L1549.9 371.3L1544 368.8Z" fill="#49ff00"/><path d="M1550.8 343.1L1543.9 339.6L1539.2 336.6L1537 334.9L1533.2 331.4L1531.5 329.4L1528.8 325.3L1527.7 323.1L1526.9 320.7L1526.3 318.2L1526 315.6L1526 312.8L1526.4 309.8L1527.1 306.6L1528.2 303.2L1554.9 266.9L1572.6 243.5L1587.8 224.4L1615.6 191.1L1625.6 178.8L1638.2 162.5L1648.1 148.5L1655.6 137.3L1663.1 125.3L1670.5 112.4L1675.5 103.2L1682.9 88.7L1687.9 78.3L1695.3 61.7L1700.3 49.9L1707.8 50.1L1715.3 50.7L1722.9 51.7L1727.9 52.7L1735.6 54.6L1740.7 56.2L1748.3 59L1753.5 61.3L1761.2 65.2L1766.3 68.3L1771.5 71.7L1776.7 75.4L1781.8 79.6L1787 84.1L1792.2 89L1797.4 94.3L1802.5 100L1807.7 106.2L1812.9 112.8L1818.1 119.9L1823.2 127.5L1828.4 135.6L1833.5 144.1L1838.6 153.2L1851.3 177.5L1866.6 207.9L1874.1 223.5L1881.7 240.4L1889.1 259.5L1894 273.4L1898.8 288.1L1909.9 323.9L1906.1 330.2L1903.4 334.3L1898.8 340.3L1895.3 344.1L1891.4 347.6L1887 350.9L1882.3 354L1877.1 356.9L1871.5 359.6L1865.6 362L1854.1 365.8L1845.4 367.9L1833.9 370.5L1823.2 373.3L1813.1 376.4L1796.7 381.9L1787.2 384.5L1779 386.4L1771.6 387.7L1764.8 388.6L1752.8 389.6L1747.4 389.7L1737.4 389.5L1724 388.1L1699.4 384.1L1679.9 380.2L1668.8 377.5L1658.4 374.5L1629 364.4L1615.6 360.2L1601.4 356.5L1581.3 352.3L1571.6 350.1L1561.3 347.1L1552.1 343.7Z" fill="#81ff00"/><path d="M1564.9 321.7L1559.2 319.3L1556.5 317.9L1551.7 314.9L1547.6 311.5L1545.9 309.7L1544.3 307.7L1543 305.6L1541.9 303.4L1541.1 301.1L1540.6 298.6L1540.3 295.9L1540.4 293.1L1540.8 290.1L1541.5 287L1542.6 283.6L1562.5 256.7L1577.7 237L1590.4 221.3L1618.1 188.1L1630.7 172.4L1640.7 159.1L1650.6 144.8L1658.1 133.4L1665.5 121.1L1673 107.9L1678 98.5L1685.4 83.5L1690.4 72.9L1700.3 49.9L1707.8 50.1L1712.8 50.5L1720.3 51.3L1725.4 52.2L1733 53.9L1738.1 55.3L1743.2 57L1748.3 59L1756 62.5L1761.2 65.2L1766.3 68.3L1771.5 71.7L1776.7 75.4L1781.8 79.6L1787 84.1L1792.2 89L1797.4 94.3L1802.5 100L1807.7 106.2L1812.9 112.8L1818.1 119.9L1823.2 127.5L1830.9 139.8L1836 148.6L1843.7 162.7L1851.3 177.5L1864 202.8L1871.6 218.2L1876.7 228.9L1884.2 246.5L1889.1 259.5L1894 273.4L1898.8 288.1L1905.5 309.7L1901.5 315.8L1897 321.8L1893.8 325.7L1890.2 329.3L1886.1 332.8L1879.2 337.5L1874 340.4L1868.3 343L1862.2 345.3L1855.5 347.4L1852 348.3L1846.3 349.6L1839.1 350.8L1815.4 354L1783.4 359.5L1774.7 360.4L1765.5 360.9L1759.8 360.9L1748.5 360.4L1727.7 358.7L1710.3 356.6L1702.1 355.4L1694.2 353.9L1686.7 352.2L1676 349.4L1645.6 340.1L1631.7 336.3L1620.6 333.8L1593.2 328.9L1581.8 326.7L1571.3 323.9L1565 321.7Z" fill="#b9ff00"/><path d="M1580.2 301.1L1574.4 299L1571.6 297.7L1566.5 294.9L1562.2 291.6L1560.4 289.8L1558.8 287.9L1557.4 285.9L1556.3 283.7L1555.5 281.3L1555 278.9L1554.7 276.2L1554.8 273.4L1555.2 270.5L1556 267.3L1557.1 263.9L1570.1 246.7L1582.8 230.6L1615.6 191.1L1628.2 175.6L1640.7 159.1L1650.6 144.8L1658.1 133.4L1665.5 121.1L1673 107.9L1678 98.5L1685.4 83.5L1690.4 72.9L1700.3 49.9L1707.8 50.1L1712.8 50.5L1722.9 51.7L1733 53.9L1738.1 55.3L1743.2 57L1748.3 59L1753.5 61.3L1758.6 63.8L1763.8 66.7L1768.9 69.9L1774.1 73.5L1779.2 77.5L1784.4 81.8L1789.6 86.5L1794.8 91.6L1800 97.1L1805.1 103.1L1810.3 109.5L1815.5 116.3L1823.2 127.5L1828.4 135.6L1833.5 144.1L1843.7 162.7L1856.4 187.5L1874.1 223.5L1881.7 240.4L1886.6 252.9L1894 273.4L1901.1 295.4L1896.7 301.3L1893.6 305.2L1890.3 309L1886.7 312.6L1882.6 316.1L1880.4 317.7L1875.7 320.8L1870.4 323.6L1864.6 326.1L1858.2 328.3L1854.8 329.3L1847.9 330.9L1840.8 332L1834.5 332.7L1823.2 333.3L1812.8 333.3L1794.1 333L1783.8 333L1776.9 333.1L1750.1 334.4L1739.9 334.5L1728.7 334.1L1715.4 332.8L1703.2 330.8L1692 328.3L1681.4 325.5L1653.6 317.3L1640.2 313.8L1627.7 311.1L1601.9 306.4L1594.4 304.9L1587.2 303.2L1580.5 301.2Z" fill="#f0ff00"/><path d="M1597.2 281.6L1589.3 278.9L1583.8 276.3L1581.3 274.9L1576.9 271.7L1575 269.9L1573.4 268.1L1572 266L1570.9 263.9L1570 261.6L1569.5 259.1L1569.3 256.5L1569.4 253.7L1569.9 250.7L1570.8 247.4L1572.3 243.9L1587.8 224.4L1615.6 191.1L1628.2 175.6L1640.7 159.1L1648.1 148.5L1653.1 141.1L1660.6 129.4L1665.5 121.1L1673 107.9L1678 98.5L1685.4 83.5L1690.4 72.9L1700.3 49.9L1710.3 50.3L1720.3 51.3L1730.5 53.3L1740.7 56.2L1745.8 58L1750.9 60.1L1756 62.5L1761.2 65.2L1766.3 68.3L1771.5 71.7L1776.7 75.4L1781.8 79.6L1787 84.1L1792.2 89L1800 97.1L1805.1 103.1L1810.3 109.5L1818.1 119.9L1823.2 127.5L1828.4 135.6L1833.5 144.1L1838.6 153.2L1848.8 172.5L1869.1 213L1876.7 228.9L1884.2 246.5L1889.1 259.5L1896.5 280.9L1890.1 288.5L1886.7 292.3L1883 295.8L1876.6 300.8L1871.8 303.8L1869.2 305.2L1866.4 306.5L1860.4 308.9L1857.1 309.9L1850 311.8L1843 313L1837.7 313.5L1828.1 313.9L1816.3 313.5L1798.6 311.9L1788.9 311.4L1777.1 311.4L1750 312.9L1739.3 313.1L1729.6 312.8L1725 312.5L1716.4 311.5L1704.6 309.3L1693.8 306.6L1659.8 296.6L1648.1 293.5L1639.5 291.4L1612.8 285.7L1598.8 282.1Z" fill="#ffdc00"/><path d="M1607.2 261L1600.3 258.1L1595.3 255.3L1593 253.8L1589.1 250.4L1587.5 248.5L1586.2 246.5L1585.1 244.3L1584.4 242L1583.9 239.5L1583.8 236.8L1584.3 233.2L1585 230.7L1585.9 228.4L1588.8 223.3L1618.1 188.1L1633.2 169.2L1645.6 152.1L1655.6 137.3L1663.1 125.3L1668 116.8L1678 98.5L1685.4 83.5L1690.4 72.9L1700.3 49.9L1707.8 50.1L1712.8 50.5L1722.9 51.7L1730.5 53.3L1735.6 54.6L1740.7 56.2L1745.8 58L1750.9 60.1L1756 62.5L1761.2 65.2L1766.3 68.3L1771.5 71.7L1776.7 75.4L1784.4 81.8L1789.6 86.5L1794.8 91.6L1802.5 100L1810.3 109.5L1818.1 119.9L1823.2 127.5L1828.4 135.6L1836 148.6L1846.3 167.5L1856.4 187.5L1869.1 213L1876.7 228.9L1884.2 246.5L1891.5 266.2L1886.5 271.8L1881 277.1L1877 280.5L1872.5 283.7L1867.5 286.6L1861.8 289.1L1855.5 291.3L1848.3 293L1839.4 294.3L1830.6 294.7L1819.6 294.4L1800.3 292.9L1785.6 292.5L1775.2 292.6L1753 293.5L1742.5 293.6L1732.7 293.3L1723.8 292.5L1715.6 291.2L1704.3 288.8L1690.3 285L1656.8 275L1622 265.8L1615.4 263.9L1609 261.8Z" fill="#ffad00"/><path d="M1624.5 244.8L1618.1 242.1L1612.7 239.5L1610.3 238L1605.9 234.9L1602.2 231.4L1600.8 229.4L1599.6 227.3L1598.7 225.1L1598.2 222.6L1598.1 220L1598.2 218.2L1599.3 213.9L1601.8 208.8L1606 202.7L1625.6 178.8L1633.2 169.2L1640.7 159.1L1650.6 144.8L1660.6 129.4L1670.5 112.4L1680.4 93.6L1690.4 72.9L1700.3 49.9L1707.8 50.1L1712.8 50.5L1722.9 51.7L1730.5 53.3L1735.6 54.6L1740.7 56.2L1745.8 58L1750.9 60.1L1756 62.5L1763.8 66.7L1768.9 69.9L1774.1 73.5L1781.8 79.6L1787 84.1L1792.2 89L1800 97.1L1807.7 106.2L1815.5 116.3L1823.2 127.5L1830.9 139.8L1838.6 153.2L1846.3 167.5L1864 202.8L1874.1 223.5L1879.2 234.6L1886 251.2L1882.5 254.8L1876.7 260L1872.5 263.3L1867.9 266.3L1862.6 269.1L1856.6 271.4L1849.8 273.3L1845.9 274L1837.5 275.1L1827.8 275.4L1790.6 274.9L1748.8 275.2L1739.1 274.8L1730.1 274.1L1721.8 272.9L1710.4 270.6L1703.3 268.8L1693 265.9L1669.7 258.7L1642.9 250.9L1633.1 247.8L1626.9 245.7Z" fill="#ff7e00"/><path d="M1631.6 225.6L1626.4 222.9L1621.8 219.9L1617.8 216.5L1616.1 214.7L1614.7 212.8L1613.6 210.6L1613.1 209.3L1612.3 205.9L1612.3 203.2L1612.7 200.6L1613.9 196.9L1616.6 191.5L1620.9 185.2L1624 180.8L1638.2 162.5L1648.1 148.5L1658.1 133.4L1665.5 121.1L1675.5 103.2L1682.9 88.7L1692.8 67.4L1700.3 49.9L1707.8 50.1L1715.3 50.7L1722.9 51.7L1730.5 53.3L1738.1 55.3L1745.8 58L1753.5 61.3L1758.6 63.8L1766.3 68.3L1774.1 73.5L1781.8 79.6L1789.6 86.5L1797.4 94.3L1805.1 103.1L1812.9 112.8L1818.1 119.9L1825.8 131.5L1830.9 139.8L1836 148.6L1843.7 162.7L1853.9 182.5L1869.1 213L1874.1 223.5L1879.7 235.8L1875.9 239.3L1871.9 242.6L1867.4 245.7L1862.5 248.6L1856.9 251.1L1853.8 252.2L1847 254.1L1843.2 254.8L1839.1 255.4L1830.3 256.3L1820.9 256.8L1801.5 257.5L1773.9 257.9L1753.9 257.5L1740 256.6L1731.5 255.5L1719.9 253.4L1709 250.8L1695.4 246.8L1652.6 233.6L1640.2 229.2L1631.6 225.6Z" fill="#ff4e00"/><path d="M1660.1 215.5L1653.3 212.9L1647.7 210.5L1639.9 206.4L1635.4 203.4L1633.4 201.7L1631.6 199.9L1630 198.1L1628.7 196L1627.7 193.9L1627 191.5L1626.8 188.4L1627 186.1L1627.7 183.1L1628.9 179.7L1630.7 176.1L1636.6 166.1L1639.4 160.9L1648.1 148.5L1655.6 137.3L1663.1 125.3L1670.5 112.4L1678 98.5L1685.4 83.5L1692.8 67.4L1700.3 49.9L1707.8 50.1L1712.8 50.5L1722.9 51.7L1733 53.9L1738.1 55.3L1743.2 57L1748.3 59L1753.5 61.3L1761.2 65.2L1768.9 69.9L1776.7 75.4L1784.4 81.8L1792.2 89L1800 97.1L1807.7 106.2L1815.5 116.3L1823.2 127.5L1830.9 139.8L1836 148.6L1841.2 157.9L1848.8 172.5L1872.4 219.8L1868.4 223.1L1864 226.3L1859.1 229.1L1856.5 230.5L1850.7 232.9L1847.5 234L1840.6 235.8L1832.9 237.2L1824.7 238.3L1807 239.9L1788 240.8L1772.5 240.9L1758.1 240.3L1749.1 239.6L1736.7 237.8L1725.3 235.5L1714.7 232.8L1704.6 229.9L1671.9 219.5L1662.4 216.3Z" fill="#ff1f00"/><path d="M1669 197.3L1661.3 193.9L1656.2 191.1L1651.6 188.1L1647.7 184.8L1646 182.9L1644.6 181L1643.6 178.8L1642.8 176.5L1642.4 174L1642.5 171.5L1643 168.4L1643.9 165.2L1645.2 161.8L1649 153.1L1650.7 148.6L1651.5 146.3L1652.4 142.2L1658.1 133.4L1665.5 121.1L1673 107.9L1678 98.5L1685.4 83.5L1690.4 72.9L1700.3 49.9L1707.8 50.1L1712.8 50.5L1720.3 51.3L1725.4 52.2L1733 53.9L1738.1 55.3L1743.2 57L1748.3 59L1756 62.5L1763.8 66.7L1771.5 71.7L1779.2 77.5L1787 84.1L1794.8 91.6L1802.5 100L1807.7 106.2L1815.5 116.3L1820.6 123.7L1828.4 135.6L1833.5 144.1L1838.6 153.2L1846.3 167.5L1864.4 203.4L1858 208.2L1853.2 211.1L1850.6 212.4L1844.9 214.9L1841.8 216L1835.2 218L1831.7 218.8L1820.2 221L1812 222.1L1803.3 223L1794.1 223.6L1786.7 223.9L1771.3 223.9L1761.9 223.3L1749.2 221.8L1741.4 220.4L1730.5 217.8L1720.3 214.9L1710.5 211.8L1681.9 202.1L1669.8 197.6Z" fill="#f80000"/><path d="M1691.3 183.5L1684.2 180.6L1678.8 178L1671.4 173.7L1667.2 170.5L1665.4 168.8L1663.8 166.9L1662.5 165.1L1661.4 162.8L1660.6 160.5L1660.2 158.3L1660.1 155.4L1660.3 152.6L1660.8 149.7L1662.9 140.7L1663.8 135.8L1664.1 130.6L1664 127.9L1663.5 124.5L1673 107.9L1682.9 88.7L1692.8 67.4L1700.3 49.9L1707.8 50.1L1712.8 50.5L1720.3 51.3L1725.4 52.2L1733 53.9L1738.1 55.3L1743.2 57L1748.3 59L1756 62.5L1763.8 66.7L1771.5 71.7L1776.7 75.4L1784.4 81.8L1792.2 89L1800 97.1L1805.1 103.1L1812.9 112.8L1818.1 119.9L1825.8 131.5L1830.9 139.8L1836 148.6L1841.2 157.9L1856.1 186.9L1854.2 188.6L1849.9 191.7L1845.1 194.6L1842.5 195.9L1839.7 197.2L1833.7 199.5L1827.2 201.5L1816.2 203.9L1804 205.6L1791 206.7L1780.3 206.9L1770.5 206.6L1761.7 205.7L1753.6 204.5L1742.6 202L1735.8 200.1L1726.1 196.9L1692.8 184.2Z" fill="#e20000"/><path d="M1718.1 172.2L1704.7 165.8L1699.5 163L1694.7 160.1L1690.3 157.1L1688.2 155.4L1684.7 151.9L1683.2 149.9L1682 147.9L1681 145.7L1680.2 143.5L1679.6 141.1L1679 136.1L1678.7 129.3L1678.3 123.7L1677.1 117.8L1676.1 114.6L1674.9 111.3L1673.1 107.7L1680.4 93.6L1687.9 78.3L1695.3 61.7L1700.3 49.9L1707.8 50.1L1715.3 50.7L1722.9 51.7L1727.9 52.7L1735.6 54.6L1740.7 56.2L1748.3 59L1753.5 61.3L1761.2 65.2L1766.3 68.3L1774.1 73.5L1779.2 77.5L1787 84.1L1792.2 89L1797.4 94.3L1802.5 100L1810.3 109.5L1815.5 116.3L1820.6 123.7L1825.8 131.5L1830.9 139.8L1836 148.6L1847.7 170.3L1843.9 173.7L1841.8 175.3L1837.1 178.2L1831.8 180.8L1828.9 182L1822.6 184.1L1815.7 185.9L1804.1 188L1795.5 188.9L1785.1 189.4L1775.2 189.1L1766.5 188.2L1758.6 186.8L1751.4 185.1L1741.5 182.1L1735.4 179.8L1726.6 176.1L1718.2 172.3Z" fill="#cc0000"/><path d="M1753.5 165.3L1745.6 162.1L1740.1 159.5L1734.9 156.8L1727.4 152.5L1720.3 148.1L1715.9 145L1711.8 141.7L1708.1 138.2L1705 134.5L1703.6 132.5L1701.2 128.4L1699.2 124.1L1694.5 112.5L1691.1 105.4L1688.9 101.6L1686.3 97.6L1681.6 91.4L1690.4 72.9L1700.3 49.9L1707.8 50.1L1712.8 50.5L1722.9 51.7L1733 53.9L1738.1 55.3L1743.2 57L1750.9 60.1L1756 62.5L1763.8 66.7L1768.9 69.9L1776.7 75.4L1781.8 79.6L1789.6 86.5L1794.8 91.6L1802.5 100L1807.7 106.2L1812.9 112.8L1818.1 119.9L1823.2 127.5L1828.4 135.6L1833.5 144.1L1838.7 153.4L1835.2 156.9L1831.1 160.1L1826.2 162.9L1823.5 164.1L1820.6 165.3L1814.2 167.4L1810.8 168.3L1803.2 169.8L1797.4 170.5L1791.5 170.9L1786.1 171L1776.7 170.5L1772.5 170L1764.8 168.6L1754.6 165.7Z" fill="#b60000"/><path d="M1770.8 148.5L1766.3 147.2L1760.3 144.9L1752.4 140.8L1747.7 137.8L1741.1 133.1L1733.1 126.5L1729.4 123L1724.4 117.5L1719.9 111.9L1709.1 97.6L1701.3 88.4L1696.8 83.4L1689.1 75.6L1695.3 61.7L1700.3 49.9L1710.3 50.3L1717.8 51L1725.4 52.2L1733 53.9L1740.7 56.2L1745.8 58L1753.5 61.3L1758.6 63.8L1766.3 68.3L1771.5 71.7L1779.2 77.5L1784.4 81.8L1792.2 89L1797.4 94.3L1802.5 100L1807.7 106.2L1812.9 112.8L1818.1 119.9L1823.2 127.5L1828.5 135.8L1825.3 139.4L1823.4 141.1L1818.9 144.1L1813.6 146.7L1810.6 147.8L1803.9 149.7L1795.8 150.9L1790.1 151.1L1785.2 151L1780.8 150.5L1773.1 149.1Z" fill="#a00000"/><path d="M1781.9 125.9L1776.1 124.2L1770.4 121.8L1763.2 117.4L1754.5 111.1L1742.4 101.3L1696 60.1L1700.3 49.9L1707.8 50.1L1715.3 50.7L1722.9 51.7L1730.5 53.3L1738.1 55.3L1743.2 57L1748.3 59L1753.5 61.3L1761.2 65.2L1766.3 68.3L1771.5 71.7L1776.7 75.4L1781.8 79.6L1787 84.1L1792.2 89L1797.4 94.3L1802.5 100L1807.7 106.2L1816 117.1L1812.1 120.3L1809.9 121.8L1807.4 123.2L1804.7 124.4L1801.6 125.5L1797.8 126.4L1791.7 127L1786.9 126.7L1782.8 126.2Z" fill="#8b0000"/><path d="M1781.8 95.1L1775.7 93.2L1767.2 89.6L1759.5 85.6L1752.3 81.4L1745.4 77L1732.3 68.1L1721.9 60.5L1708.7 50.2L1715.3 50.7L1722.9 51.7L1730.5 53.3L1735.6 54.6L1743.2 57L1748.3 59L1756 62.5L1761.2 65.2L1768.9 69.9L1774.1 73.5L1779.2 77.5L1784.4 81.8L1792.2 89L1799.1 96.1L1794.9 96.6L1789.9 96.5L1785.7 96L1782.1 95.2Z" fill="#820000"/></g><path d="M1686 551.2L1692.8 549.7L1699.6 547.7L1706.3 545.3L1713 542.6L1719.7 539.5L1728.5 535L1735.2 531.3L1743.9 526.1L1752.7 520.5L1761.4 514.7L1800.1 487.7L1808.6 482L1817.1 476.5L1825.5 471.3L1831.7 467.8L1838 464.6L1850.4 458.7L1854.5 456.5L1858.6 454L1862.7 451L1866.9 447.6L1881.4 433.6L1889.6 426.3L1893.7 423.2L1897.7 420.3L1903.7 416.7L1907.7 414.9L1911.7 413.5L1915.6 412.5L1919.5 412.1L1923.3 412L1927.2 412.3L1932.8 413.1L1938.5 414.1M1714.5 557.3L1705.5 551.1L1696.5 544.7L1687.6 538L1676.4 529.4L1663.1 518.7L1610.8 475.7L1589.3 458.6L1574.4 447.5L1555.5 434.4L1534.7 420.7L1520.3 411.6L1508.1 404.4L1498 399L1488 394.4L1482 392L1478.1 390.6L1472.2 388.9L1468.3 387.9L1460.6 386.6M1671.9 541.9L1678.7 539.8L1685.5 537.3L1692.2 534.3L1701.1 529.7L1707.8 525.9L1716.7 520.2L1725.5 514.1L1734.3 507.5L1745.2 498.8L1758.3 487.6L1794.9 454.6L1809.9 441.7L1820.4 433.4L1837.2 421.4L1841.4 418.3L1845.6 414.9L1849.7 411.1L1853.9 406.8L1866.5 392.7L1872.8 386.2L1876.9 382.3L1881.1 378.8L1887.2 374.4L1891.3 372L1893.3 371L1897.3 369.5L1901.2 368.6L1905.2 368.4L1909.1 368.7L1911 369.1L1914.8 370.2L1920.5 372.6L1926.1 375.8M1728.6 552.9L1721.9 547.8L1712.9 540.7L1697.3 527.5L1683.9 515.5L1661.9 494.8L1650.9 484.7L1637.8 473.1L1620.5 458.1L1609.8 449L1601.2 442.1L1592.7 435.6L1584.2 429.4L1532.1 393.5L1521.9 387L1511.7 381.3L1505.7 378.4L1501.7 376.7L1495.7 374.5L1491.8 373.4L1485.9 372.2L1482 371.7L1478.2 371.6L1474.3 371.7M1657.8 532.4L1664.6 529.6L1671.4 526.3L1678.1 522.6L1687.1 517.1L1696 510.9L1704.8 504.1L1713.7 496.8L1722.5 489.1L1733.4 478.9L1744.3 468.3L1779 433.2L1794 418.4L1804.7 408.7L1823.7 392.7L1827.9 389L1832.1 385L1836.4 380.6L1840.6 375.7L1853.3 359.7L1859.6 352.3L1863.8 347.7L1868 343.6L1874.2 338.2L1878.3 335.3L1880.4 334L1884.4 332L1888.4 330.6L1890.4 330.1L1894.4 329.7L1898.3 330L1900.3 330.3L1904.1 331.4L1907.9 332.9L1913.6 336M1742.6 547.3L1735.9 541.6L1729.1 535.7L1722.4 529.5L1713.5 521L1700.2 507.5L1673.7 479.9L1667.1 473.4L1658.4 465.1L1645.3 453.2L1630.2 440L1619.5 431L1608.8 422.6L1598.2 414.8L1570.8 395.6L1541.8 373.9L1533.6 368.3L1525.4 363.4L1519.3 360.2L1515.3 358.5L1509.3 356.4L1505.4 355.4L1499.5 354.6L1495.6 354.5L1491.8 354.9L1488 355.7M1643.9 522.7L1650.7 519.1L1657.4 515L1664.2 510.5L1673.1 504L1679.8 498.6L1688.7 490.9L1697.5 482.8L1706.3 474.3L1723.9 456.4L1760.8 417L1775.9 401.4L1788.8 388.9L1807.9 371.6L1816.4 363.3L1822.8 356.1L1827 350.7L1841.9 330.1L1850.4 319.1L1854.6 314.2L1858.8 309.6L1865.1 303.6L1869.2 300.3L1871.3 298.9L1875.4 296.5L1879.4 294.7L1883.4 293.6L1887.4 293.1L1891.4 293.2L1895.3 293.7L1897.2 294.1L1901.1 295.3M1756.5 541.1L1745.3 530.1L1731.9 516L1718.6 501.2L1692.1 470.8L1685.5 463.7L1678.9 456.9L1670.2 448.4L1657.1 436.6L1644.1 425.4L1631.2 414.8L1618.4 405.1L1597.3 390L1586.8 382.3L1578.4 375.7L1559.6 360.3L1551.4 353.8L1543.2 347.9L1537 344.1L1531 340.9L1526.9 339.2L1520.9 337.4L1517 336.6L1513.1 336.4L1509.2 336.6L1505.3 337.4L1501.5 338.7M1630 512.9L1639.1 506.9L1643.6 503.6L1650.3 498.4L1661.5 488.9L1668.1 482.7L1674.8 476.4L1683.6 467.5L1694.6 456L1736.1 411.1L1755.6 390.5L1770.7 375.4L1792 355.1L1798.4 348.7L1804.8 341.6L1811.2 333.4L1817.6 324.1L1832.6 301.5L1841.1 289.6L1845.3 284.1L1849.5 279.1L1855.8 272.3L1860 268.5L1864.1 265.3L1868.2 262.7L1872.3 260.6L1876.4 259.1L1880.4 258.1L1884.4 257.5L1888.3 257.4M1770.2 534.6L1761.3 524.3L1750.2 511.1L1736.8 494.8L1712.6 464.4L1706 456.4L1699.4 448.9L1692.8 442L1684.1 433.4L1673.2 423.6L1660.2 412.5L1649.4 403.7L1640.8 397L1613.2 377L1602.7 369L1592.2 360.3L1573.4 343.5L1565 336.4L1556.8 330L1550.6 325.8L1544.5 322.4L1540.5 320.6L1536.5 319.2L1534.5 318.7L1530.5 318L1526.6 317.9L1522.7 318.3L1518.8 319.3L1515 321M1616.3 503L1625.3 496.1L1634.3 488.5L1645.4 478.3L1656.5 467.4L1674.2 449L1707.1 413.3L1726.6 392.5L1750.4 367.9L1776.1 342.1L1784.6 332.9L1791 325.2L1797.4 316.3L1803.8 306.3L1821 278.4L1829.6 265.4L1833.8 259.4L1838.1 253.7L1842.3 248.5L1846.5 243.8L1850.7 239.7L1852.7 237.8L1856.9 234.5L1861 231.8L1863.1 230.6L1867.1 228.5L1871.2 226.9L1875.2 225.8M1783.8 528.3L1741.8 470.5L1730.8 455.7L1724.2 447.1L1715.4 436.4L1708.8 429.1L1702.3 422.5L1693.5 414.5L1678.3 401.4L1663.2 389.1L1652.5 380.9L1629.1 363.6L1616.4 353.6L1605.9 344.4L1587 326.5L1578.7 318.9L1570.4 312L1564.2 307.6L1558.1 303.9L1554 302L1550 300.6L1548 300L1544 299.4L1540 299.3L1536.1 299.8L1532.2 301L1528.4 302.9M1602.6 493.2L1611.6 485.3L1622.8 474.9L1633.9 464L1647.2 450.4L1691.1 403.5L1725.8 366.7L1738.8 352.7L1755.9 333.4L1762.3 326L1768.7 318.2L1775.2 309.8L1779.4 303.6L1783.7 297L1788 289.8L1803.1 263.4L1811.7 248.9L1820.2 235.6L1824.5 229.5L1828.7 223.9L1833 218.7L1837.2 214.2L1841.4 210.2L1845.5 206.8L1849.7 204L1853.8 201.7L1857.8 199.8L1861.9 198.5M1797.3 522.7L1786.3 504.1L1773.1 483.1L1759.9 463.2L1746.8 444.2L1738 432.3L1729.2 421.4L1722.6 414.2L1718.2 409.8L1713.8 405.6L1702.9 396L1679.1 376.1L1668.4 367.5L1644.9 349.5L1632.2 339.2L1625.8 333.6L1619.5 327.7L1600.6 309.1L1592.3 301.2L1584 294L1577.8 289.4L1571.6 285.7L1567.5 283.7L1563.5 282.2L1561.5 281.6L1557.5 280.9L1553.5 280.9L1549.6 281.4L1545.7 282.7L1541.8 284.7M1589 483.5L1602.5 470.2L1615.8 456.7L1631.3 440.7L1651.2 419.9L1694.8 373.4L1705.6 361.4L1716.4 348.8L1727.2 335.4L1740.1 318.4L1750.8 303.7L1759.4 291L1765.8 280.7L1770.1 273.3L1789.6 237.3L1798.2 222.1L1806.8 208.2L1813.2 199L1817.4 193.5L1821.6 188.6L1825.8 184.3L1830 180.7L1834.2 177.7L1838.3 175.4L1842.4 173.6L1844.5 172.9L1848.5 172M1810.7 517.7L1802 499.7L1793.3 483L1784.6 467.6L1773.6 449.6L1762.6 432.9L1756.1 423.5L1751.7 417.5L1747.3 411.9L1742.9 406.7L1738.5 401.8L1734.1 397.3L1725.4 389.2L1688.5 357.2L1679.9 349.9L1656.4 330.6L1645.8 321.5L1635.2 311.7L1616.3 292.8L1607.9 284.7L1599.6 277.3L1593.3 272.4L1587.2 268.4L1583.1 266.2L1579 264.5L1577 263.8L1572.9 262.9L1568.9 262.6L1566.9 262.6L1563 263.2L1559 264.5L1555.2 266.6M1575.5 473.9L1597.8 450.2L1644.2 401.9L1663.8 381.1L1672.5 371.7L1681.2 362L1687.7 354.4L1694.2 346.5L1704.9 332.4L1713.6 320L1726.5 300.3L1739.4 279.6L1748 264.9L1754.4 253.2L1771.7 219.6L1780.3 203.4L1788.9 188.6L1793.2 181.8L1797.5 175.5L1803.9 167.1L1808.1 162.3L1812.4 158.1L1816.6 154.6L1820.7 151.8L1824.9 149.7L1829 148.1L1831 147.6L1835.1 146.9M1823.9 513.7L1817.5 497.3L1813.2 487.2L1808.9 477.5L1804.6 468.4L1800.3 459.8L1791.6 443.7L1782.8 429L1776.3 418.7L1771.9 412.3L1765.3 403.2L1760.9 397.5L1756.6 392.3L1752.2 387.5L1747.8 383L1743.4 378.9L1723.8 361.2L1702.1 340.3L1693.5 332.3L1665.7 307.5L1655.1 297.8L1646.6 289.6L1629.8 272.7L1623.5 266.7L1617.2 261.1L1610.9 256L1604.7 251.7L1598.6 248.2L1594.5 246.4L1592.4 245.7L1588.4 244.7L1584.3 244.2L1582.3 244.2L1578.3 244.7L1574.4 245.8L1572.4 246.6L1568.5 248.8M1562.1 464.6L1573.3 452L1586.6 437.6L1632.9 389.5L1650.3 370.9L1659 361.2L1665.5 353.7L1672 345.8L1678.4 337.5L1687.1 325.6L1693.5 316L1702.1 302.2L1712.8 283.9L1723.6 264.9L1734.3 245.2L1743 228.7L1758 198.9L1764.5 186.8L1773.1 171.7L1779.6 161.5L1786 152.4L1790.2 146.9L1794.5 142.1L1796.6 139.9L1800.8 136L1805 132.7L1807.1 131.3L1811.3 128.8L1815.4 126.9L1817.5 126.2L1821.6 125.1M1836.9 510.7L1830.7 491.5L1826.5 479.7L1822.3 468.7L1815.8 453.6L1811.5 444.3L1807.2 435.6L1802.9 427.4L1798.5 419.6L1792 408.8L1787.6 401.9L1781.1 392.4L1776.7 386.6L1772.3 381.2L1767.9 376.1L1761.4 369.3L1748.2 356.8L1739.5 348.1L1730.9 338.7L1711.4 316.8L1704.9 309.9L1698.5 303.4L1687.8 293L1666.5 272.9L1645.3 252.3L1636.9 244.6L1630.6 239.4L1626.4 236.2L1622.3 233.4L1616.1 229.8L1612 227.9L1609.9 227.2L1605.8 226L1603.8 225.7L1599.7 225.3L1597.7 225.4L1593.7 226L1591.7 226.5L1587.7 228.1L1585.8 229.1L1581.8 231.8M1548.9 455.5L1560 442.7L1573.3 428.1L1586.5 414.1L1615.1 384.5L1632.5 365.7L1641.2 356L1647.7 348.3L1654.2 340.4L1660.7 332L1669.3 320L1675.7 310.3L1682.1 299.9L1688.6 288.9L1699.3 269.6L1714.3 241.8L1727.2 217.4L1740.1 192.6L1746.5 180.5L1755.1 165.5L1763.7 151.7L1770.1 142.4L1774.4 136.7L1780.7 129L1785 124.4L1789.2 120.3L1795.5 114.9L1801.8 110.4L1808 106.5M1849.8 508.9L1845.8 493.9L1839.6 473.4L1835.5 461L1829.1 444.3L1824.9 434.1L1818.5 420.3L1812 407.8L1805.5 396.5L1801.1 389.5L1796.8 382.9L1792.4 376.7L1788 371L1783.6 365.6L1779.3 360.7L1764 345L1759.6 340.2L1755.3 335.2L1746.6 324.3L1727.1 298.3L1720.7 290.1L1716.4 284.9L1707.8 275.4L1699.2 266.6L1688.5 256.2L1663 232.2L1654.5 224.7L1648.2 219.6L1641.9 215.2L1637.8 212.6L1631.5 209.4L1627.4 207.8L1625.3 207.2L1621.2 206.4L1619.2 206.1L1615.1 206.1L1611.1 206.6L1609 207.1L1605 208.7L1601.1 210.9L1599.1 212.2L1595.2 215.5M1535.7 446.7L1546.7 433.8L1557.8 421.5L1571.1 407.2L1599.6 377L1617 357.9L1625.7 347.9L1634.3 337.4L1640.8 329.2L1647.2 320.5L1653.7 311.3L1660.1 301.6L1664.4 294.7L1670.8 283.8L1679.4 268.4L1705 220.7L1724.3 185.6L1735 167L1743.6 153.2L1750 143.6L1756.4 134.5L1762.7 126.1L1767 120.8L1771.2 115.8L1777.6 108.7L1783.9 101.9L1794.4 91.2M1862.6 507.8L1858.6 490.9L1854.6 475.3L1850.6 461.1L1844.4 441.9L1840.2 430.4L1833.9 414.9L1827.5 401.2L1821 388.9L1816.7 381.3L1812.3 374.2L1808 367.6L1801.4 358.5L1797.1 352.9L1792.7 347.7L1777.4 330.6L1773.1 325.2L1768.8 319.4L1760.1 306.7L1745 282.8L1738.6 273L1732.1 263.9L1725.6 255.7L1717 245.9L1708.4 237.2L1697.7 227.1L1680.7 211.9L1672.2 204.9L1663.7 198.6L1657.4 194.5L1651.2 191.2L1644.9 188.8L1640.8 187.7L1638.7 187.4L1634.6 187.1L1632.5 187.1L1628.5 187.6L1624.4 188.7L1622.4 189.5L1618.4 191.5L1614.4 194.3L1612.4 195.9L1608.4 199.7M1522.6 438.4L1533.6 425.3L1544.7 412.7L1584.2 368.9L1601.5 349L1610.2 338.7L1618.8 328.1L1625.3 319.7L1631.8 311L1638.2 301.9L1642.5 295.5L1648.9 285.4L1653.1 278.3L1661.7 263.3L1683 224.2L1693.7 205.2L1708.6 179.8L1719.3 162.7L1727.8 149.9L1738.4 134.8L1749 120.7L1770.2 93.3L1776.5 84.7L1780.7 78.7M1874.7 500.9L1869.5 476.9L1865.6 460.7L1861.6 446L1857.5 432.5L1853.4 420.1L1847.1 403.6L1842.9 393.6L1836.5 380.1L1832.2 371.8L1827.9 364L1823.6 356.7L1817 346.7L1812.7 340.6L1808.3 334.8L1795.3 318.8L1790.9 313.3L1784.4 304L1780.1 297.3L1775.8 290L1758.6 259.5L1752.1 248.7L1745.7 238.8L1739.2 230.2L1732.7 222.6L1728.4 218L1724.1 213.8L1715.5 206.1L1704.8 197.3L1692 187.5L1683.5 181.6L1679.3 179L1675.1 176.6L1670.9 174.5L1666.7 172.7L1660.4 170.7L1656.2 169.8L1654.1 169.6L1650 169.4L1647.9 169.5L1643.8 170.1L1641.8 170.6L1637.7 172L1635.7 172.9L1631.7 175.2L1627.6 178.1L1625.6 179.8L1621.7 183.7M1509.6 430.5L1529.4 406.6L1568.8 360.2L1586.1 339.3L1603.4 317.8L1612 306.5L1618.5 297.7L1629.2 282.1L1637.7 268.6L1646.2 254.1L1665.3 219.9L1673.9 205.1L1682.4 191L1690.9 177.6L1701.5 161.7L1710 149.8L1718.5 138.5L1737.6 113.5L1748.1 99.1L1754.5 89.9L1758.7 83.3L1762.9 76.3L1767.1 68.8M1887.7 492.6L1884.4 475.3L1880.6 457.5L1876.7 441.2L1874.7 433.6L1870.7 419.3L1866.6 406.3L1860.4 388.7L1856.2 378.1L1849.9 363.7L1845.6 354.8L1841.3 346.5L1837 338.7L1830.5 327.8L1826.2 321.2L1821.9 314.9L1808.8 297.5L1804.5 291.4L1798 281.4L1793.7 274L1789.4 266.1L1774.4 237.3L1767.9 225.6L1761.5 215.1L1755 206L1748.5 198.3L1742 191.8L1735.5 186.2L1729 181.3L1722.6 177L1716.1 172.8L1703.3 165.2L1696.9 161.8L1692.7 159.8L1688.5 158L1684.3 156.4L1680 155.1L1675.9 154.2L1669.6 153.3L1663.4 153.3L1659.2 153.8L1657.2 154.3L1653.1 155.4L1651 156.2L1646.9 158.1L1644.9 159.2L1640.9 161.9L1638.9 163.4L1634.9 166.9M1496.8 423.1L1542.7 365.8L1568.7 332.9L1592.4 302.2L1600.9 290.7L1607.4 281.8L1618 266.1L1626.6 252.7L1654.2 205.8L1660.5 195.4L1666.9 185.5L1675.4 173.1L1686 158.5L1694.5 147.6L1717.8 118.7L1724.1 110.3L1730.4 101.5L1736.7 92L1743 81.5L1749.4 69.9L1753.6 61.3M1900.9 483.9L1897.3 464.2L1893.5 446L1889.7 429.3L1883.7 406.7L1879.7 393.1L1873.6 374.7L1869.4 363.5L1863.2 348L1858.9 338.5L1854.7 329.4L1850.4 320.9L1844 309L1839.7 301.6L1835.4 294.7L1820.2 272.3L1813.7 261.9L1809.4 254.2L1805.1 246.1L1790.2 216.1L1783.7 203.8L1777.3 192.7L1775.1 189.3L1770.8 183.2L1768.6 180.5L1764.3 175.5L1762.1 173.2L1757.7 169.1L1751.2 163.9L1744.7 159.7L1736.1 154.9L1727.5 150.8L1721 147.9L1710.4 143.6L1701.9 140.8L1697.6 139.8L1693.4 138.9L1687.1 138L1682.9 137.8L1678.8 137.8L1672.5 138.4L1666.3 139.7L1660.2 141.9L1654.1 144.8L1648 148.7M1484.1 416.4L1503.7 391.5L1527.6 360.3L1579.3 291.4L1594.2 270.9L1602.8 258.8L1611.3 246L1617.6 236L1634.6 208.5L1643.1 195.2L1651.6 182.6L1657.9 173.8L1664.3 165.4L1672.8 154.9L1693.9 129.9L1700.2 122.2L1706.5 114L1710.7 108.3L1714.9 102.3L1719.1 95.9L1723.3 89.1L1727.5 81.7L1733.8 69.6L1740.1 56M1913.6 474L1910 454.8L1906.3 436.9L1902.5 420.3L1896.6 397.5L1890.6 377.1L1884.5 358.6L1878.3 341.7L1872.1 326L1865.8 311.3L1861.6 302.1L1857.3 293.3L1853 285.1L1846.6 273.6L1833.7 252.4L1827.2 241.2L1818.7 224.8L1805.9 198.4L1799.4 185.7L1793 174.1L1788.7 167.3L1786.5 164.2L1782.2 158.6L1780 156.1L1775.6 151.6L1773.5 149.6L1769.1 146L1762.6 141.6L1756.1 138.1L1747.4 134.4L1736.6 130.3L1725.9 126.9L1717.3 124.7L1708.8 123L1700.4 122L1692 121.8L1687.9 121.9L1683.7 122.3L1679.5 122.9L1675.4 123.7L1671.3 124.7L1667.2 126.1L1661.1 128.5M1471.5 410.2L1480.2 399.6L1488.9 388.6L1506.2 366L1521.3 345.6L1553.5 301.4L1579.2 266.5L1596.2 242.6L1623.7 201.5L1632.2 189.4L1638.5 180.7L1644.9 172.5L1651.2 164.7L1680.7 130L1687 122.1L1693.3 113.7L1699.5 104.5L1703.7 98L1707.9 91L1712.1 83.5L1716.3 75.5L1720.4 66.8L1726.7 52.5M1926.2 465.7L1922.5 447.9L1916.9 423L1911.1 400.2L1905.2 379.3L1899.2 359.8L1893.2 341.7L1885 318.8L1878.7 302.7L1872.5 287.4L1868.3 277.8L1864.1 268.8L1859.8 260.2L1855.5 252.1L1844.8 232.8L1838.4 220.7L1832 207.8L1819.3 181.3L1812.9 168.7L1806.4 157.2L1802.1 150.4L1799.9 147.3L1795.6 141.7L1793.4 139.2L1789.1 134.6L1784.7 130.7L1778.2 125.8L1771.7 121.8L1765.1 118.6L1756.5 115.1L1747.8 112L1737.1 108.7L1728.5 106.7L1717.9 104.8L1709.5 103.8L1699 103.4L1690.7 103.6L1682.4 104.4L1674.2 105.7M1459 404.7L1467.8 394.9L1476.5 384.7L1485.1 374L1495.9 360.1L1515.3 334.2L1547.3 290.2L1610.9 203.3L1619.3 192.2L1627.8 181.6L1659.3 143.5L1665.6 135.5L1671.8 127.1L1678.1 118.1L1684.3 108.5L1690.6 98.1L1694.7 90.6L1701 78.5L1705.1 69.8L1709.3 60.5L1713.5 50.5M1938.5 459L1932.9 436.1L1927.2 414.5L1921.3 393.8L1913.5 367.6L1905.5 342.5L1895.4 312.2L1887.3 288.9L1881.1 272.5L1876.9 262.2L1872.7 252.5L1868.5 243.4L1864.3 234.7L1851.6 209.6L1834.6 174.8L1828.2 162.2L1821.8 150.4L1815.4 139.9L1811 133.7L1804.5 125.5L1800.2 120.7L1793.7 114.4L1787.2 109.1L1780.6 104.6L1772 99.4L1763.3 95L1754.7 91.2L1746.1 88.1L1737.6 85.5L1726.9 83L1718.5 81.5L1708 80.3L1697.6 79.7L1687.2 79.7" fill="none" stroke="#000" stroke-width="1.5"/><path d="M1700.3 560.2L1681.4 548.2L1659.9 533.8L1636.1 517.2L1586.7 481.9L1566.3 467.4L1546.1 453.6L1526.1 440.6L1513.8 433L1504 427.2L1494.2 421.7L1484.6 416.6L1475 411.9L1465.5 407.5L1456 403.5L1446.7 400L1457.3 390L1467.8 379L1478.2 367.4L1491.1 351.8L1501.4 338.9L1514.2 322.1L1554.9 266.9L1572.6 243.5L1587.8 224.4L1613.1 194.2L1623.1 181.9L1633.2 169.2L1640.7 159.1L1650.6 144.8L1658.1 133.4L1665.5 121.1L1673 107.9L1680.4 93.6L1687.9 78.3L1695.3 61.7L1700.3 49.9L1710.3 50.3L1717.8 51L1722.9 51.7L1727.9 52.7L1735.6 54.6L1740.7 56.2L1745.8 58L1753.5 61.3L1761.2 65.2L1768.9 69.9L1776.7 75.4L1784.4 81.8L1792.2 89L1800 97.1L1807.7 106.2L1815.5 116.3L1823.2 127.5L1828.4 135.6L1836 148.6L1843.7 162.7L1851.3 177.5L1866.6 207.9L1871.6 218.2L1876.7 228.9L1881.7 240.4L1886.6 252.9L1891.5 266.3L1896.4 280.7L1901.2 295.7L1917.8 349.7L1927.3 379.7L1939.1 416L1950.9 451.2L1943.8 455.9L1927.4 465L1920.3 469.4L1910.7 476.2L1903.5 481.8L1897.4 486.8L1878.5 498.2L1871.4 503.2L1866.8 506.9L1862.2 507.8L1847.7 509.2L1837.9 510.6L1832.9 511.6L1825.5 513.3L1812.9 517L1800.3 521.5L1787.5 526.7L1777.2 531.4L1748.4 544.8L1740.5 548.2L1732.6 551.4L1724.6 554.3L1716.5 556.8L1708.4 558.8L1703 559.8Z" fill="none" stroke="#000" stroke-width="1.8" stroke-linejoin="round"/><path d="M1449.7 451.6L1432.1 152M1449.7 451.6L1700.3 616.6M1700.3 616.6L1950.9 451.6M1447.4 411.2L1452.2 408.5M1444.9 370.1L1449.8 367.4M1442.5 328.2L1447.4 325.5M1439.9 285.4L1444.9 282.8M1437.4 241.8L1442.4 239.2M1434.7 197.4L1439.9 194.8M1432.1 152L1437.2 149.5M1700.3 616.6L1705.1 613.4M1662.4 591.6L1667.2 588.5M1625.2 567.1L1630 564.1M1588.7 543.1L1593.5 540.1M1553 519.6L1557.8 516.6M1517.9 496.5L1522.7 493.6M1483.5 473.8L1488.3 471M1449.7 451.6L1454.5 448.8M1700.3 616.6L1695.5 613.4M1726.9 599.1L1722.1 595.9M1753.2 581.8L1748.4 578.7M1779.1 564.7L1774.3 561.7M1804.6 547.9L1799.8 544.9M1829.8 531.3L1825 528.3M1854.7 514.9L1849.9 512M1879.2 498.7L1874.4 495.9M1903.4 482.8L1898.6 480M1927.3 467.1L1922.5 464.3M1950.9 451.6L1946.1 448.8" fill="none" stroke="#000" stroke-width="1.7" stroke-linecap="square"/><g><text transform="matrix(0.8093 -0.4375 0.0589 0.9983 1435.66 425.21)" font-size="13.5" text-anchor="end">10</text><text transform="matrix(0.8093 -0.4375 0.0589 0.9983 1433.24 384.09)" font-size="13.5" text-anchor="end">20</text><text transform="matrix(0.8093 -0.4375 0.0589 0.9983 1430.76 342.17)" font-size="13.5" text-anchor="end">30</text><text transform="matrix(0.8093 -0.4375 0.0589 0.9983 1428.24 299.43)" font-size="13.5" text-anchor="end">40</text><text transform="matrix(0.8093 -0.4375 0.0589 0.9983 1425.67 255.84)" font-size="13.5" text-anchor="end">50</text><text transform="matrix(0.8093 -0.4375 0.0589 0.9983 1423.05 211.39)" font-size="13.5" text-anchor="end">60</text><text transform="matrix(0.8093 -0.4375 0.0589 0.9983 1420.37 166.04)" font-size="13.5" text-anchor="end">70</text><text transform="matrix(0.7683 0.5061 -0.8351 0.5501 1675.30 632.32)" font-size="13.5" text-anchor="middle">0</text><text transform="matrix(0.7683 0.5061 -0.8351 0.5501 1637.36 607.33)" font-size="13.5" text-anchor="middle">10</text><text transform="matrix(0.7683 0.5061 -0.8351 0.5501 1600.18 582.83)" font-size="13.5" text-anchor="middle">20</text><text transform="matrix(0.7683 0.5061 -0.8351 0.5501 1563.72 558.81)" font-size="13.5" text-anchor="middle">30</text><text transform="matrix(0.7683 0.5061 -0.8351 0.5501 1527.96 535.26)" font-size="13.5" text-anchor="middle">40</text><text transform="matrix(0.7683 0.5061 -0.8351 0.5501 1492.90 512.16)" font-size="13.5" text-anchor="middle">50</text><text transform="matrix(0.7683 0.5061 -0.8351 0.5501 1458.50 489.50)" font-size="13.5" text-anchor="middle">60</text><text transform="matrix(0.7683 0.5061 -0.8351 0.5501 1424.74 467.26)" font-size="13.5" text-anchor="middle">70</text><text transform="matrix(0.7683 0.5061 -0.8351 0.5501 1703.90 628.62)" font-size="13.5" text-anchor="start">30</text><text transform="matrix(0.7683 0.5061 -0.8351 0.5501 1730.53 611.08)" font-size="13.5" text-anchor="start">40</text><text transform="matrix(0.7683 0.5061 -0.8351 0.5501 1756.80 593.77)" font-size="13.5" text-anchor="start">50</text><text transform="matrix(0.7683 0.5061 -0.8351 0.5501 1782.70 576.71)" font-size="13.5" text-anchor="start">60</text><text transform="matrix(0.7683 0.5061 -0.8351 0.5501 1808.25 559.88)" font-size="13.5" text-anchor="start">70</text><text transform="matrix(0.7683 0.5061 -0.8351 0.5501 1833.45 543.28)" font-size="13.5" text-anchor="start">80</text><text transform="matrix(0.7683 0.5061 -0.8351 0.5501 1858.30 526.90)" font-size="13.5" text-anchor="start">90</text><text transform="matrix(0.7683 0.5061 -0.8351 0.5501 1882.83 510.75)" font-size="13.5" text-anchor="start">100</text><text transform="matrix(0.7683 0.5061 -0.8351 0.5501 1907.02 494.81)" font-size="13.5" text-anchor="start">110</text><text transform="matrix(0.7683 0.5061 -0.8351 0.5501 1930.90 479.08)" font-size="13.5" text-anchor="start">120</text><text transform="matrix(0.7683 0.5061 -0.8351 0.5501 1954.46 463.56)" font-size="13.5" text-anchor="start">130</text></g><g font-weight="bold"><text transform="matrix(0.6347 0.4181 -0.8351 0.5501 1515.70 564.10)" font-size="20" text-anchor="middle">Pretreatment time [min]</text><text transform="matrix(0.6363 -0.4192 0.8351 0.5501 1886.40 572.10)" font-size="20" text-anchor="middle">Pretreatment pressure [PSI]</text><text transform="matrix(0.0453 0.7687 -0.8797 0.4755 1384.20 329.30)" font-size="20" text-anchor="middle">Wheat straw biomass extractives</text><text transform="matrix(0.0453 0.7687 -0.8797 0.4755 1362.80 347.90)" font-size="20" text-anchor="middle">[%]</text><text x="1366" y="50" font-size="62">C</text></g></g><g id="panelD"><path d="M109 1108.5L91.5 811.1M135.3 1093.3L119.8 796.9M161.3 1078.3L147.7 782.9M187 1063.5L175.2 769.1M212.3 1048.9L202.4 755.5M237.4 1034.4L229.2 742.1M262.1 1020.2L255.6 728.8M286.4 1006.1L281.7 715.8M310.5 992.2L307.4 702.9M334.3 978.5L332.8 690.2M357.8 964.9L357.8 677.6M606.6 1108.5L624.1 811.1M569.1 1086.9L583.8 790.9M532.2 1065.6L544.3 771.1M496.1 1044.7L505.5 751.7M460.6 1024.2L467.5 732.6M425.7 1004.1L430.3 713.9M391.4 984.3L393.7 695.6M357.8 964.9L357.8 677.6M109 1108.5L357.8 964.9M357.8 964.9L606.6 1108.5M106.6 1068.5L357.8 926.1M357.8 926.1L609 1068.5M104.2 1027.6L357.8 886.5M357.8 886.5L611.4 1027.6M101.8 986L357.8 846.2M357.8 846.2L613.8 986M99.3 943.6L357.8 805.2M357.8 805.2L616.3 943.6M96.7 900.3L357.8 763.5M357.8 763.5L618.9 900.3M94.1 856.2L357.8 720.9M357.8 720.9L621.5 856.2M91.5 811.1L357.8 677.6M357.8 677.6L624.1 811.1M357.8 1272.5L109 1108.5M384.2 1255L135.3 1093.3M410.3 1237.8L161.3 1078.3M436 1220.9L187 1063.5M461.4 1204.2L212.3 1048.9M486.4 1187.7L237.4 1034.4M511.1 1171.4L262.1 1020.2M535.5 1155.4L286.4 1006.1M559.5 1139.6L310.5 992.2M583.2 1124L334.3 978.5M606.6 1108.5L357.8 964.9M357.8 1272.5L606.6 1108.5M320.1 1247.6L569.1 1086.9M283.2 1223.3L532.2 1065.6M247 1199.5L496.1 1044.7M211.5 1176.1L460.6 1024.2M176.7 1153.1L425.7 1004.1M142.5 1130.6L391.4 984.3M109 1108.5L357.8 964.9" fill="none" stroke="#d2d2d2" stroke-width="1.5"/><g fill="none" stroke-width="1.3"><path d="M602.3 1106.1L554.8 1136.8L535.9 1149.6L529.1 1154.7L522.7 1159.9L516.5 1165.4L509 1172.8" stroke="#00572d"/><path d="M597.8 1103.5L586.2 1111.2L571.8 1120.2L554.3 1130.6L520.8 1149.6L513.3 1154.3L506.3 1159.3L497.6 1166.3L489.5 1173.8L470.1 1193.5L457.5 1206.8" stroke="#006b27"/><path d="M593 1100.7L586.3 1105.4L579.3 1110L561.9 1120.3L543.3 1130L512.1 1144.4L503.8 1148.5L493.3 1154.5L488.3 1157.6L481.3 1162.6L470.2 1171.4L446.8 1191.9L435.7 1201.1L423.8 1209.9L403.1 1223.2L400.8 1225L398.8 1227.1L397.8 1228.9L397.7 1229.7L398.3 1231.9L400.4 1234L403.1 1235.7L409 1238.7" stroke="#007e20"/><path d="M249 1200.8L235.7 1190L229.3 1184.5L223.2 1178.7L211 1165.6L206 1161.3L201.4 1157.9L196.4 1154.8L174.9 1143.4L164.6 1137.5L157.3 1132.9L147.8 1126.7L138.9 1120.2L130.5 1113.4L125 1107.9L121.8 1104L120.5 1101.9M588.1 1097.8L581.5 1102.6L574.4 1107.2L567 1111.6L556.6 1117.2L545.6 1122.5L537 1126.2L525 1131L497.3 1141.6L482.7 1148L474.4 1152.2L466.3 1156.6L432.4 1176.5L424 1180.9L415 1184.9L405 1188.3L397.6 1190.1L387.3 1191.9L355.7 1196.2L346.9 1197.9L336.5 1200.5L326 1203.7L316.3 1207.5L307.5 1211.9L302.5 1215.4L300.4 1217.5L299.1 1220L299 1221.8L299.4 1223.6L299.8 1224.6L301.5 1226.9L305.6 1231L310.2 1234.7L317.8 1239.9L325.7 1245L334 1249.9L342.9 1254.4L349.1 1257.2L355.9 1259.7L362.1 1261.3L368 1262.2L372.9 1262.5" stroke="#009119"/><path d="M582.9 1094.9L574.1 1101.2L564.3 1107.1L553.7 1112.5L542.4 1117.6L533.4 1121.2L524 1124.5L481.8 1138.3L469.3 1143L438.7 1155.2L428.4 1159L418.2 1162.3L409.3 1164.7L401.5 1166.4L393.1 1167.9L384.7 1169.1L371.4 1170.4L328.9 1173.5L312.4 1174.3L302.6 1174L293.8 1173.1L286.1 1171.6L279.1 1169.5L272.9 1167.1L267.1 1164.4L243.3 1151L235 1146.8L229.1 1144.2L216.5 1139.7L186.1 1130.7L176.7 1127.4L170.8 1125L162.4 1121L157.2 1118.2L150 1113.7L145.6 1110.4L141.6 1107L138 1103.2L135.1 1099.2L133.1 1094.6" stroke="#00a412"/><path d="M577.6 1091.8L568.7 1098.1L558.8 1103.9L547.8 1109.1L532.9 1115L523.4 1118.2L513.5 1121.2L479.2 1130.7L447.6 1140.2L435.1 1143.7L424.3 1146.3L414.6 1148.3L404.9 1150L392.2 1151.5L383 1152.3L369.3 1153.1L355.8 1153.5L340.5 1153.5L325.9 1153.2L312.3 1152.2L303.8 1151.1L292.2 1148.9L278.2 1145.1L252.3 1136.3L239 1132.2L228.5 1129.4L199.9 1122.6L186.4 1118.7L177.1 1115.3L168.6 1111.5L161.1 1107.2L156.6 1104L152.6 1100.5L149.3 1096.7L146.7 1092.5L145.1 1087.7" stroke="#00b80b"/><path d="M572.2 1088.7L565.5 1093.4L555.6 1099.1L544.6 1104.3L532.6 1108.9L520.3 1112.9L506 1116.8L455 1129L430.1 1134.5L418.1 1136.5L405.4 1138.2L392.7 1139.3L378.9 1140.1L366.5 1140.5L354.1 1140.4L337.3 1139.8L323.9 1138.7L311.3 1137.2L300.7 1135.4L284.7 1131.9L249.1 1123L212.4 1115.1L201.8 1112.5L195.1 1110.6L185.7 1107.3L179.9 1104.9L172.1 1100.7L167.6 1097.6L163.7 1094.1L160.5 1090.2L158.1 1085.9L156.6 1081.1" stroke="#00cb05"/><path d="M566.7 1085.5L559.9 1090.1L552.3 1094.4L544.1 1098.2L535.3 1101.8L525.9 1105L515.9 1107.9L503.1 1111.1L487.8 1114.5L444.2 1123.1L430.7 1125.4L417.9 1127.1L405.2 1128.4L389 1129.5L373.1 1130L358.3 1129.9L346.3 1129.3L335.5 1128.4L322.9 1127L310.8 1125.1L295.4 1122.3L261.8 1115.4L227.9 1108.8L217.1 1106.4L206.7 1103.7L197.1 1100.6L191.2 1098.3L183.3 1094.2L178.7 1091.1L174.8 1087.6L171.7 1083.7L169.3 1079.4L167.8 1074.6" stroke="#0ed800"/><path d="M561.1 1082.3L556.5 1085.3L548.9 1089.5L540.7 1093.3L531.8 1096.8L522.2 1099.9L512 1102.7L501.4 1105.2L486.7 1108.3L453.6 1114.1L435.8 1116.6L422 1118.2L405.8 1119.6L392 1120.4L378 1120.7L363.3 1120.5L351.2 1119.9L340.9 1118.9L320.6 1116.1L243.5 1102.5L228.7 1099.5L218.2 1096.9L208.5 1093.9L202.6 1091.6L194.6 1087.6L190 1084.5L186.1 1081.1L182.9 1077.2L180.5 1072.9L178.9 1068.2" stroke="#3ed800"/><path d="M555.4 1079L548 1083.3L541.6 1086.4L534.2 1089.5L524.9 1092.8L515 1095.7L504.5 1098.2L481.2 1102.9L466.7 1105.2L450.6 1107.5L424.9 1110.2L408.2 1111.3L393.1 1111.9L378.4 1112L367.5 1111.8L349.7 1110.5L333.4 1108.3L291 1100.8L250.9 1094.5L236.9 1091.7L226.6 1089.1L217.1 1086L211.3 1083.6L206.1 1080.9L201.5 1077.8L197.5 1074.4L194.2 1070.7L191.6 1066.5L189.8 1061.9" stroke="#6dd800"/><path d="M549.5 1075.6L544.2 1078.5L536.3 1082.2L527.4 1085.6L519 1088.2L510.4 1090.6L500.4 1092.9L488.2 1095.3L474.7 1097.5L462 1099.3L449.8 1100.8L438.2 1101.8L421.6 1102.9L405.7 1103.5L390.5 1103.7L380.7 1103.6L368.9 1103.1L353.8 1101.9L337.7 1099.6L299.6 1092.6L256.7 1085.8L245.7 1083.6L235.4 1081L229.1 1078.9L223.2 1076.6L217.9 1074L213.2 1071L209.1 1067.7L205.7 1064L202.9 1060L200.8 1055.6" stroke="#9dd800"/><path d="M543.4 1072.1L538.1 1074.7L529.6 1078.3L520.4 1081.5L513.8 1083.4L503.4 1086L492.5 1088.2L481.1 1090.2L468.6 1092.1L456.4 1093.5L444.9 1094.5L423.3 1095.6L408.1 1095.9L393.4 1095.8L379.2 1095.4L370.2 1094.8L357.4 1093.6L341.5 1091.2L303.9 1084.2L265.8 1077.5L255 1075.2L248.1 1073.5L241.7 1071.5L235.7 1069.3L230.2 1066.8L225.4 1063.9L221.1 1060.7L217.4 1057.2L214.4 1053.3L211.9 1049.1" stroke="#ccd800"/><path d="M537.1 1068.4L531.5 1070.9L522.7 1074.3L516.4 1076.3L506.3 1079L495.6 1081.4L484.4 1083.5L472.7 1085.3L462.6 1086.5L445.4 1088L424.3 1088.7L409.8 1088.7L395.6 1088.3L373.1 1087L356.4 1085.2L337 1082L278.1 1070.3L267.5 1067.8L257.5 1065.1L251.3 1063L245.5 1060.7L240.2 1058.1L235.4 1055.2L231.3 1052L227.7 1048.4L224.8 1044.5L223.5 1042.4" stroke="#d8bb00"/><path d="M530.6 1064.7L521.8 1068.1L515.5 1070.1L509 1072L498.6 1074.5L480.1 1078L468.7 1079.6L459.9 1080.6L440.5 1081.9L420.4 1082.1L397.2 1081.3L375.3 1079.6L354.9 1077.1L343.4 1075.2L328.5 1072.3L296.2 1065.3L282.5 1061.9L272.7 1059L263.5 1055.9L257.8 1053.5L252.5 1050.9L247.7 1048L243.5 1044.9L239.9 1041.3L237 1037.4L235.9 1035.3" stroke="#d89300"/><path d="M523.8 1060.7L517.8 1062.9L508.2 1065.8L501.4 1067.6L490.8 1069.9L481.4 1071.7L471.7 1073.1L455.1 1074.9L445.9 1075.5L435.6 1075.8L416.3 1075.6L393.9 1074.3L372.8 1072.2L360.8 1070.6L349.3 1068.7L323.6 1063.5L309.6 1060.2L299.5 1057.6L289.8 1054.7L280.5 1051.6L274.7 1049.3L269.3 1046.8L264.2 1044.1L259.7 1041.1L255.8 1037.7L252.5 1034L250.6 1030.8L249.4 1027.5" stroke="#d86b00"/><path d="M516.7 1056.6L510.5 1058.7L500.6 1061.4L490.2 1063.9L482.8 1065.3L474.8 1066.6L463.2 1068.1L445.9 1069.4L426.6 1069.6L407.7 1068.8L386.4 1066.9L366.3 1064.2L343.8 1060.2L322.6 1055.4L312.6 1052.7L303 1049.7L294 1046.5L288.3 1044.1L283 1041.6L278.1 1038.8L273.7 1035.7L270 1032.3L267.8 1029.5L266 1026.2L265.2 1023.9L264.8 1021.8L264.7 1018.7" stroke="#d84200"/><path d="M509.1 1052.3L499.5 1055.1L492.8 1056.9L482.1 1059.2L475 1060.4L458.5 1062.4L440.9 1063.4L421.6 1063.3L403.9 1062.1L383.4 1059.8L364.2 1056.7L342.6 1052.2L332.3 1049.6L322.5 1046.8L313.2 1043.7L307.4 1041.4L301.9 1039L296.7 1036.3L292.1 1033.4L288 1030.2L284.7 1026.5L283.3 1024.5L281.4 1020.3L280.8 1017.6L280.6 1014.1L281 1009.2" stroke="#d81a00"/><path d="M501 1047.6L491.4 1050.4L484.5 1052.1L469.8 1054.8L461.9 1055.9L453.5 1056.6L436.2 1057.3L417.6 1056.8L408.8 1056.1L396.9 1054.8L377.2 1051.8L359.3 1048L342.5 1043.5L333.1 1040.5L327.1 1038.3L321.4 1036L316.1 1033.4L311.3 1030.6L307 1027.5L305.1 1025.8L301.9 1022.1L300.5 1020.1L299 1016.5L298.1 1013.1L297.7 1010.6L297.2 999.9" stroke="#d20000"/><path d="M492.3 1042.5L486 1044.5L479.2 1046.2L472.1 1047.7L464.5 1048.9L456.5 1049.9L447.9 1050.5L432.2 1050.8L423 1050.5L414.3 1049.9L398.1 1048L383.1 1045.3L376.1 1043.7L366 1041L353.5 1037L342 1032.4L336.8 1029.8L332 1026.9L327.7 1023.8L325.8 1022.1L322.5 1018.4L320.2 1014.9L318.9 1012.2L317.3 1007.5L314.6 997.4L312 991.3" stroke="#c00000"/><path d="M482.6 1036.9L476.3 1038.9L469.5 1040.6L458.3 1042.5L445.8 1043.6L431.6 1043.8L416.2 1042.9L404.2 1041.3L396.8 1040L389.8 1038.4L376.9 1034.5L368.1 1031.1L360.2 1027.3L353.2 1022.9L347.2 1017.9L344 1014.2L341.2 1010.2L338.9 1006L334.7 997.4L331.1 991.2L328.3 987.4L325 983.8" stroke="#ad0000"/><path d="M471.5 1030.5L468.4 1031.6L461.9 1033.3L454.6 1034.7L442.2 1035.9L432.4 1036L422 1035.3L411.6 1034L400.9 1031.7L391.5 1028.7L383.2 1025L378.2 1022.3L373.7 1019.3L369.6 1016L366 1012.5L362.8 1008.7L353.3 995.1L348.7 989.2L343.8 983.9L336.2 977.3" stroke="#9a0000"/><path d="M458.1 1022.8L451.6 1024.6L444.1 1025.8L435.3 1026.3L429.3 1026.1L421.2 1025.3L413.9 1023.8L407.5 1022L401.7 1019.7L394.1 1015.7L389.7 1012.6L385.6 1009.3L380.2 1004.1L370.1 993.3L363.2 986.3L355.9 979.6L346 971.7" stroke="#880000"/><path d="M440.1 1012.4L436.1 1012.9L432 1013L427.7 1012.7L423.9 1012.1L418.1 1010.7L414.1 1009.4L406.1 1005.7L399.1 1001.4L392.6 996.8L354.6 966.7" stroke="#760000"/></g><g fill-rule="evenodd" stroke="none"><path d="M357.8 1234.4L331.1 1218.8L299.6 1199.7L271.2 1182L205.8 1141L171.5 1119.9L154.7 1109.8L138 1100L121.5 1090.6L107.5 1083L122.9 1064L140.8 1041.1L158.5 1017.7L204 956.9L216.5 940.5L226.6 927.9L239.1 912.8L251.7 898.5L264.2 885L299 848.3L308.8 837.4L318.7 826.1L328.5 814.1L338.3 801.4L348 787.7L357.8 772.8L367.6 775.9L374.9 778.6L384.8 782.6L392.3 786.1L402.2 791.4L409.7 795.8L417.3 800.7L424.8 806L432.4 811.8L439.9 818.2L447.5 825.1L455.1 832.5L462.7 840.6L470.3 849.2L477.9 858.5L485.5 868.4L493.1 879L500.7 890.2L508.2 902L515.8 914.4L523.3 927.4L530.8 940.9L538.3 954.9L545.8 969.4L553.2 984.4L563.1 1005.1L572.9 1026.4L582.6 1048.4L589.9 1065.4L594.7 1077.1L601.9 1095.5L606.6 1108.4L604.9 1109.7L594.6 1116L585.2 1122.2L568 1134L552.4 1142.8L535.6 1151.5L489.3 1174.5L444.1 1197.1L418.4 1209.5L402.8 1216.6L387.1 1223.3L373.8 1228.6L360.5 1233.5Z" fill="#006736"/><path d="M357.8 1234.4L331.1 1218.8L299.6 1199.7L205.8 1141L171.5 1119.9L138 1100L121.5 1090.6L107.5 1083L122.9 1064L140.8 1041.1L158.5 1017.7L204 956.9L216.5 940.5L226.6 927.9L239.1 912.8L251.7 898.5L264.2 885L299 848.3L308.8 837.4L318.7 826.1L328.5 814.1L338.3 801.4L348 787.7L357.8 772.8L367.6 775.9L374.9 778.6L384.8 782.6L392.3 786.1L402.2 791.4L409.7 795.8L417.3 800.7L424.8 806L432.4 811.8L439.9 818.2L447.5 825.1L455.1 832.5L462.7 840.6L470.3 849.2L477.9 858.5L483 865.1L488 871.9L495.6 882.7L503.2 894.1L510.8 906.1L518.3 918.7L525.8 931.8L533.3 945.5L540.8 959.6L548.2 974.3L558.1 994.6L575.3 1031.9L589.9 1065.4L597.1 1083.1L602.8 1097.9L555.1 1128.6L536.3 1141.4L529.5 1146.5L523 1151.7L516.8 1157.2L509.3 1164.6L441.5 1198.4L415.8 1210.7L400.2 1217.8L387.1 1223.3L373.8 1228.6L360.5 1233.5Z" fill="#007e2e"/><path d="M357.8 1234.4L331.1 1218.8L299.6 1199.7L205.8 1141L171.5 1119.9L138 1100L121.5 1090.6L107.5 1083L122.9 1064L140.8 1041.1L158.5 1017.7L204 956.9L216.5 940.5L226.6 927.9L239.1 912.8L251.7 898.5L264.2 885L299 848.3L308.8 837.4L318.7 826.1L328.5 814.1L338.3 801.4L348 787.7L357.8 772.8L367.6 775.9L374.9 778.6L384.8 782.6L392.3 786.1L399.7 790L407.2 794.3L414.7 799L422.3 804.2L429.8 809.8L437.4 816L445 822.7L452.6 830L460.2 837.8L467.8 846.3L475.4 855.4L480.5 861.8L485.5 868.4L493.1 879L500.7 890.2L508.2 902L515.8 914.4L523.3 927.4L530.8 940.9L538.3 954.9L553.2 984.4L560.6 999.8L570.4 1021L580.2 1042.8L587.5 1059.6L598.7 1087.2L587.1 1094.9L572.6 1103.9L555.1 1114.2L521.4 1133.2L513.9 1137.9L506.9 1142.8L498.1 1149.9L490 1157.4L470.5 1177L457.9 1190.2L426.2 1205.8L402.8 1216.6L381.8 1225.5L371.2 1229.6L360.5 1233.5Z" fill="#009526"/><path d="M357.8 1234.4L331.1 1218.8L299.6 1199.7L205.8 1141L171.5 1119.9L138 1100L121.5 1090.6L107.5 1083L122.9 1064L140.8 1041.1L158.5 1017.7L204 956.9L216.5 940.5L226.6 927.9L239.1 912.8L251.7 898.5L264.2 885L299 848.3L308.8 837.4L318.7 826.1L328.5 814.1L338.3 801.4L348 787.7L357.8 772.8L367.6 775.9L374.9 778.6L384.8 782.6L392.3 786.1L399.7 790L407.2 794.3L414.7 799L422.3 804.2L429.8 809.8L437.4 816L445 822.7L452.6 830L460.2 837.8L467.8 846.3L475.4 855.4L480.5 861.8L485.5 868.4L493.1 879L500.7 890.2L508.2 902L520.8 923L528.3 936.3L535.8 950.1L543.3 964.5L550.7 979.3L565.5 1010.3L582.6 1048.4L594.4 1076.3L587.6 1081L578.2 1087.1L570.7 1091.5L560.5 1097.2L549.8 1102.7L541.6 1106.7L513 1119.8L504.6 1123.9L496.7 1128.3L486.7 1134.5L479.7 1139.6L473 1144.9L445.1 1168.9L433.9 1178L424.2 1185L403.4 1198.2L401.1 1200.1L399 1202.1L398 1203.9L397.9 1204.7L398.6 1206.9L400.7 1209L403.4 1210.7L409.4 1213.7L397.6 1218.9L384.4 1224.4L371.2 1229.6L360.5 1233.5Z" fill="#00ab1e"/><path d="M357.8 1234.4L333.8 1220.4L310.1 1206.1L284.1 1190.1L248.1 1167.6L234.7 1156.9L226.2 1149.5L220.3 1143.7L209.8 1132.6L204.8 1128.3L200.2 1124.9L195.1 1121.8L173.5 1110.5L163.1 1104.7L155.7 1100.1L146.2 1093.9L137.1 1087.4L128.8 1080.7L123.2 1075.3L120 1071.4L118.7 1069.3L130.6 1054.3L145.9 1034.5L204 956.9L216.5 940.5L226.6 927.9L239.1 912.8L251.7 898.5L264.2 885L299 848.3L308.8 837.4L318.7 826.1L328.5 814.1L338.3 801.4L348 787.7L357.8 772.8L367.6 775.9L374.9 778.6L384.8 782.6L392.3 786.1L399.7 790L407.2 794.3L414.7 799L422.3 804.2L429.8 809.8L437.4 816L445 822.7L450.1 827.5L457.7 835.2L465.3 843.4L472.9 852.3L477.9 858.5L483 865.1L490.6 875.4L503.2 894.1L515.8 914.4L523.3 927.4L530.8 940.9L543.3 964.5L558.1 994.6L575.3 1031.9L589.8 1065.2L583.2 1070L576.1 1074.5L568.6 1078.9L558.1 1084.4L547.1 1089.7L535.4 1094.7L498.4 1108.7L492.3 1111.2L483.6 1115.1L475.3 1119.3L467.2 1123.6L432.9 1143.4L424.5 1147.7L415.5 1151.7L408.9 1154.1L405.4 1155.1L401.8 1156.1L394.5 1157.6L385.7 1159L359.9 1162.4L347.7 1164.5L340 1166.3L329.2 1169.3L319.1 1172.9L309.9 1177.1L304.5 1180.3L302 1182.1L300 1184.2L298.6 1186.7L298.5 1188.5L298.9 1190.3L301 1193.5L303 1195.6L306.1 1198.3L309.9 1201.2L320.1 1208.2L331 1214.8L336.7 1217.9L342.7 1220.9L352.4 1225L359.6 1227.2L363.7 1228.1L368.1 1228.7L373 1228.9L360.5 1233.5Z" fill="#00c216"/><path d="M162.9 1081.2L155.3 1077.2L150.3 1074.3L145.7 1071.1L141.4 1067.8L137.6 1064.3L134.4 1060.4L131.8 1056.2L130.9 1053.9L153.5 1024.4L196.4 966.9L214 943.8L231.6 921.7L246.7 904.1L261.7 887.7L299 848.3L308.8 837.4L318.7 826.1L328.5 814.1L338.3 801.4L348 787.7L357.8 772.8L367.6 775.9L374.9 778.6L384.8 782.6L392.3 786.1L404.7 792.8L412.2 797.4L417.3 800.7L424.8 806L429.8 809.8L437.4 816L442.5 820.4L450.1 827.5L455.1 832.5L465.3 843.4L472.9 852.3L477.9 858.5L488 871.9L498.2 886.4L510.8 906.1L523.3 927.4L535.8 950.1L545.8 969.4L558.1 994.6L570.4 1021L585.1 1054.1L580.7 1057.3L576.1 1060.4L566.3 1066.2L555.6 1071.6L544.2 1076.6L535.1 1080.1L525.7 1083.5L492.7 1093.9L483 1097.2L470.4 1101.8L441 1113.4L433.1 1116.3L423.2 1119.6L412.7 1122.6L405.3 1124.4L397.5 1125.9L388 1127.3L371.5 1129L328.7 1132.1L312 1132.8L302 1132.6L293.2 1131.7L289.1 1131L281.8 1129.2L275.1 1127L266.2 1123L242.1 1109.7L233.7 1105.6L227.8 1103L221.6 1100.7L215.1 1098.5L191.1 1091.7L181.2 1088.6L171.9 1085.2L163.2 1081.4Z" fill="#00d90e"/><path d="M164.7 1061.4L161.2 1059.5L156.4 1056.5L152.2 1053.2L150.2 1051.4L146.9 1047.6L145.5 1045.6L144.3 1043.5L143.3 1041.2L142.6 1038.7L158.5 1017.7L206.5 953.6L221.6 934.2L236.6 915.7L244.2 907L254.2 895.8L299 848.3L308.8 837.4L318.7 826.1L328.5 814.1L338.3 801.4L348 787.7L357.8 772.8L367.6 775.9L377.4 779.5L387.3 783.7L394.8 787.3L407.2 794.3L414.7 799L419.8 802.4L427.3 807.9L432.4 811.8L442.5 820.4L450.1 827.5L455.1 832.5L465.3 843.4L472.9 852.3L477.9 858.5L488 871.9L498.2 886.4L510.8 906.1L520.8 923L533.3 945.5L543.3 964.5L555.7 989.5L568 1015.7L580.2 1042.8L575.8 1046L568.7 1050.5L561.1 1054.7L552.9 1058.6L544.8 1062.1L538.1 1064.6L528.6 1067.9L518.7 1070.9L477.2 1082.3L443.1 1092.3L432.4 1095.1L425.1 1096.8L413.5 1099.1L401.6 1100.9L389.1 1102.3L374.2 1103.3L350.6 1103.9L335.3 1103.8L325.5 1103.5L316.2 1103L307.4 1102.1L295.2 1100.2L287.7 1098.5L277.2 1095.6L251 1086.9L237.6 1082.8L227 1080L201.5 1074.1L187.7 1070.4L181.2 1068.3L175 1066.1L166.4 1062.3Z" fill="#00ef06"/><path d="M185.8 1050.8L177.5 1047.4L172.1 1044.8L167.3 1041.8L163 1038.5L159.4 1034.9L156.5 1030.9L155.4 1028.7L154.5 1026.3L153.9 1023.9L204 956.9L216.5 940.5L229.1 924.8L239.1 912.8L251.7 898.5L264.2 885L299 848.3L308.8 837.4L318.7 826.1L328.5 814.1L338.3 801.4L348 787.7L357.8 772.8L365.1 775.1L372.5 777.6L379.9 780.5L387.3 783.7L399.7 790L407.2 794.3L414.7 799L422.3 804.2L427.3 807.9L434.9 813.9L439.9 818.2L447.5 825.1L452.6 830L460.2 837.8L465.3 843.4L472.9 852.3L477.9 858.5L488 871.9L493.1 879L500.7 890.2L513.3 910.2L525.8 931.8L538.3 954.9L550.7 979.3L563.1 1005.1L575.1 1031.4L570.7 1034.6L563.5 1039L558.3 1041.7L550 1045.6L541.2 1049.2L532.4 1052.3L522.5 1055.3L513.5 1057.8L496.8 1061.9L456.4 1071.3L433 1076.3L423.2 1078L410.8 1079.8L397.7 1081.1L382.7 1082.1L371.8 1082.5L361.4 1082.6L341.7 1082.2L323.5 1080.9L314.8 1079.9L306.6 1078.7L298.7 1077.4L287.3 1075L247.7 1065.4L206.7 1056.7L196.2 1054L186.4 1051Z" fill="#11ff00"/><path d="M192.3 1034L188.6 1032.6L183.1 1030L178.2 1027.1L173.9 1023.8L170.3 1020.2L167.5 1016.1L166.4 1013.9L165.6 1011.6L164.9 1009.2L204 956.9L216.5 940.5L229.1 924.8L239.1 912.8L251.7 898.5L264.2 885L299 848.3L308.8 837.4L318.7 826.1L328.5 814.1L338.3 801.4L348 787.7L357.8 772.8L367.6 775.9L374.9 778.6L382.4 781.6L389.8 784.9L402.2 791.4L409.7 795.8L414.7 799L422.3 804.2L427.3 807.9L434.9 813.9L439.9 818.2L447.5 825.1L452.6 830L460.2 837.8L465.3 843.4L475.4 855.4L485.5 868.4L490.6 875.4L498.2 886.4L508.2 902L520.8 923L533.3 945.5L545.8 969.4L558.1 994.6L569.9 1020L565.4 1023L558 1027.3L552.7 1030L544.1 1033.7L534.9 1037.1L528.5 1039.2L518.4 1042L507.8 1044.7L493.1 1047.9L474.8 1051.6L452.8 1055.8L435.6 1058.8L425.2 1060.3L410.4 1061.9L396.9 1063L384 1063.7L368.3 1063.9L358.3 1063.8L348.8 1063.4L330.8 1061.9L314.1 1059.7L294.4 1056.3L260.3 1049.5L222.2 1042.2L207.8 1038.9L201 1037L194.6 1034.9Z" fill="#49ff00"/><path d="M197.3 1016.6L194.3 1015.1L189.3 1012.2L185 1009L183.1 1007.3L179.9 1003.5L178.5 1001.4L177.4 999.2L175.8 994.6L204 956.9L224.1 931L239.1 912.8L251.7 898.5L264.2 885L299 848.3L308.8 837.4L318.7 826.1L328.5 814.1L338.3 801.4L348 787.7L357.8 772.8L365.1 775.1L372.5 777.6L384.8 782.6L397.2 788.6L404.7 792.8L409.7 795.8L417.3 800.7L422.3 804.2L432.4 811.8L439.9 818.2L445 822.7L455.1 832.5L462.7 840.6L467.8 846.3L477.9 858.5L488 871.9L498.2 886.4L508.2 902L520.8 923L530.8 940.9L543.3 964.5L553.2 984.4L564.6 1008.4L559.9 1011.4L552.3 1015.6L543.9 1019.3L537.9 1021.6L531.6 1023.8L521.7 1026.7L513.5 1028.8L503.9 1031L490.4 1033.8L476 1036.4L455.3 1039.8L442 1041.7L429.3 1043.2L417.1 1044.4L399.9 1045.7L387.8 1046.2L378.4 1046.3L368.3 1046.3L354 1045.7L340.6 1044.6L323.9 1042.4L249 1029.7L233.9 1027L222.8 1024.6L215.8 1022.9L205.9 1019.9L199.8 1017.6Z" fill="#81ff00"/><path d="M215.7 1004.2L211.3 1002.6L205.7 1000.1L200.7 997.3L196.3 994.1L192.6 990.6L191.1 988.7L188.5 984.6L186.6 980.1L204 956.9L216.5 940.5L229.1 924.8L239.1 912.8L249.2 901.3L259.2 890.3L291.5 856.2L303.9 842.9L313.8 831.8L323.6 820.2L333.4 807.9L340.7 798L350.5 784.1L357.8 772.8L370 776.8L377.4 779.5L384.8 782.6L397.2 788.6L404.7 792.8L409.7 795.8L417.3 800.7L422.3 804.2L429.8 809.8L434.9 813.9L445 822.7L452.6 830L457.7 835.2L467.8 846.3L475.4 855.4L480.5 861.8L490.6 875.4L500.7 890.2L513.3 910.2L523.3 927.4L535.8 950.1L548.2 974.3L559.2 996.8L554.3 999.7L546.3 1003.7L540.6 1006.1L534.5 1008.3L528.2 1010.4L518.1 1013.3L507.4 1015.8L498 1017.7L483.6 1020.3L470 1022.5L456.8 1024.3L444.2 1025.8L432.1 1027L420.4 1027.9L409.2 1028.6L392.9 1029.2L377.5 1029.3L363 1028.9L349.5 1027.8L337 1026.3L324.9 1024.4L289.7 1018.3L257.6 1013.5L245.8 1011.6L231 1008.6L224 1006.8L217.5 1004.8Z" fill="#b9ff00"/><path d="M217.1 984.6L212.5 982.1L210.1 980.6L208 979.1L204.1 975.6L201 971.8L198.5 967.7L197.5 965.5L211.5 947L221.6 934.2L231.6 921.7L241.6 909.8L259.2 890.3L301.4 845.6L311.3 834.6L321.1 823.2L330.9 811L340.7 798L350.5 784.1L357.8 772.8L367.6 775.9L377.4 779.5L387.3 783.7L394.8 787.3L407.2 794.3L417.3 800.7L427.3 807.9L437.4 816L447.5 825.1L457.7 835.2L467.8 846.3L475.4 855.4L483 865.1L493.1 879L503.2 894.1L513.3 910.2L523.3 927.4L533.3 945.5L543.3 964.5L553.6 985.1L548.4 987.8L543 990.4L534.1 993.9L527.8 996L521.2 997.9L510.8 1000.5L499.7 1002.9L491 1004.5L470.7 1007.6L457.9 1009.2L445.8 1010.4L434.2 1011.3L417.5 1012.2L406.8 1012.5L391.2 1012.7L376.4 1012.5L362.4 1011.7L349.5 1010.4L337.3 1008.7L302.1 1002.5L262.4 996.5L247 993.8L236.2 991.3L229.5 989.5L223.3 987.3L217.6 984.9Z" fill="#f0ff00"/><path d="M231.5 970L224.7 966.7L220 963.8L217.9 962.2L216 960.5L212.5 956.9L211.1 954.9L208.6 950.8L224.1 931L239.1 912.8L251.7 898.5L264.2 885L299 848.3L308.8 837.4L318.7 826.1L328.5 814.1L338.3 801.4L348 787.7L357.8 772.8L370 776.8L382.4 781.6L394.8 787.3L404.7 792.8L412.2 797.4L417.3 800.7L427.3 807.9L437.4 816L447.5 825.1L457.7 835.2L467.8 846.3L477.9 858.5L488 871.9L498.2 886.4L508.2 902L518.3 918.7L528.3 936.3L538.3 954.9L547.7 973.3L542.3 975.8L533.6 979.4L527.4 981.5L520.8 983.4L514 985.2L503.2 987.7L484.3 991L463.5 993.8L452.7 994.8L441.2 995.7L419.6 996.5L399.2 996.6L384.5 996.3L370.5 995.6L357.4 994.3L345.1 992.7L333.3 990.7L302 985L271.3 980L259.9 977.9L252.6 976.4L245.6 974.7L239 972.7L232.9 970.6Z" fill="#ffdc00"/><path d="M244 954.2L237.2 951.2L232.4 948.4L230.2 946.8L226.2 943.5L224.5 941.7L221.5 937.9L220.2 935.9L234.1 918.7L249.2 901.3L264.2 885L299 848.3L308.8 837.4L318.7 826.1L328.5 814.1L338.3 801.4L348 787.7L357.8 772.8L370 776.8L379.9 780.5L392.3 786.1L402.2 791.4L409.7 795.8L414.7 799L424.8 806L434.9 813.9L445 822.7L455.1 832.5L465.3 843.4L475.4 855.4L483 865.1L493.1 879L503.2 894.1L513.3 910.2L523.3 927.4L533.3 945.5L541.6 961.3L536 963.7L530 965.9L523.7 968L513.6 970.8L499.1 973.9L491.5 975.3L479.7 977.2L471.5 978.3L459.2 979.5L442.1 980.7L426.2 981.1L406.2 981L387.1 980.3L373.5 979.4L360.5 978.2L344.3 975.9L328.8 973.1L283.5 964.6L272.4 962.3L258.3 959L251.8 957L245.6 954.9Z" fill="#ffad00"/><path d="M258.1 939.5L249.6 935.8L244.7 933L242.5 931.4L238.5 928.2L236.7 926.4L233.8 922.6L232.6 920.5L244.2 907L254.2 895.8L299 848.3L308.8 837.4L318.7 826.1L328.5 814.1L338.3 801.4L348 787.7L357.8 772.8L367.6 775.9L374.9 778.6L387.3 783.7L397.2 788.6L404.7 792.8L409.7 795.8L419.8 802.4L429.8 809.8L439.9 818.2L450.1 827.5L460.2 837.8L470.3 849.2L480.5 861.8L488 871.9L498.2 886.4L505.7 898L515.8 914.4L525.8 931.8L535.3 949.2L529.3 951.4L523.1 953.5L509.6 957.1L495 960.2L479.4 962.7L465.5 964.4L448.2 965.7L432.2 966.2L412.4 966L393.7 965.1L375.8 963.8L363 962.4L346.9 960.1L323.9 955.9L294.5 949.8L283.9 947.3L273.7 944.6L267.1 942.7L260.9 940.6Z" fill="#ff7e00"/><path d="M276.1 927.1L269.5 924.5L264.1 922L259.1 919.2L254.8 916.1L251.1 912.7L249.5 910.9L247.5 907.7L246.3 904.5L261.7 887.7L299 848.3L308.8 837.4L318.7 826.1L328.5 814.1L338.3 801.4L348 787.7L357.8 772.8L365.1 775.1L372.5 777.6L384.8 782.6L394.8 787.3L404.7 792.8L414.7 799L424.8 806L434.9 813.9L445 822.7L455.1 832.5L465.3 843.4L472.9 852.3L483 865.1L490.6 875.4L498.2 886.4L508.2 902L518.3 918.7L528.6 936.8L515.9 940.9L505.6 943.5L490.9 946.5L475.1 948.9L462.4 950.3L448.5 951.2L432.7 951.5L418 951.3L399.4 950.3L381.8 948.9L364.9 947L349 944.6L326.3 940.3L308.2 936.4L291.1 931.9L278.3 927.9Z" fill="#ff4e00"/><path d="M278.9 908.8L275.6 907L271.2 904L267.3 900.7L265.7 898.9L264.3 896.9L263.2 894.8L262.4 892.6L261.9 890.1L261.8 887.5L299 848.3L311.3 834.6L321.1 823.2L330.9 811L340.7 798L350.5 784.1L357.8 772.8L367.6 775.9L377.4 779.5L387.3 783.7L397.2 788.6L407.2 794.3L414.7 799L422.3 804.2L429.8 809.8L439.9 818.2L447.5 825.1L455.1 832.5L462.7 840.6L470.3 849.2L477.9 858.5L485.5 868.4L493.1 879L500.7 890.2L508.2 902L521.6 924.3L508.5 928.1L494.3 931.4L478.9 934L466.5 935.5L453.2 936.5L438.1 937L423.3 936.8L409.3 936.2L391.5 934.8L374.7 932.8L354.8 929.9L335.9 926.3L318.1 922.3L304.6 918.6L292 914.5L286.2 912.2L280.7 909.7Z" fill="#ff1f00"/><path d="M303.5 900.2L297.3 897.4L292.3 894.8L289.9 893.3L285.7 890.2L282.3 886.6L280.9 884.7L279.7 882.6L278.9 880.4L278.3 878L278.1 874.6L278.5 869.9L294 853.6L303.9 842.9L313.8 831.8L323.6 820.2L333.4 807.9L340.7 798L350.5 784.1L357.8 772.8L367.6 775.9L377.4 779.5L387.3 783.7L397.2 788.6L407.2 794.3L414.7 799L424.8 806L432.4 811.8L442.5 820.4L450.1 827.5L460.2 837.8L467.8 846.3L475.4 855.4L483 865.1L490.6 875.4L498.2 886.4L505.7 898L514.1 911.5L500.8 915.2L490 917.5L478.4 919.5L466.1 921L454.4 922L443.6 922.4L433.4 922.5L419 922L405.5 921.1L388.4 919.4L376.1 917.8L360.6 915.2L342.1 911.5L328.1 908.1L314.9 904.3L305.7 901.1Z" fill="#f80000"/><path d="M321.7 887.9L314.7 884.8L309.7 882.1L307.4 880.6L303.3 877.4L299.9 873.8L298.6 871.9L297.5 869.8L296.6 867.5L296.1 865.2L295.5 860.2L295.2 852.4L303.9 842.9L313.8 831.8L323.6 820.2L330.9 811L338.3 801.4L345.6 791.2L352.9 780.4L357.8 772.8L370 776.8L379.9 780.5L389.8 784.9L397.2 788.6L407.2 794.3L414.7 799L424.8 806L432.4 811.8L439.9 818.2L447.5 825.1L455.1 832.5L462.7 840.6L470.3 849.2L477.9 858.5L485.5 868.4L493.1 879L500.7 890.2L506 898.5L496.1 901.2L485.3 903.6L473.7 905.5L465.5 906.5L455 907.3L444.1 907.8L432.7 907.8L419.7 907.3L406.4 906.3L393.8 904.9L381.8 903.2L370.3 901.2L355.8 898.1L345.3 895.5L332.2 891.7L323.1 888.4Z" fill="#e20000"/><path d="M350.5 878.7L341.5 875.2L333.5 871.4L328.8 868.5L326.6 866.9L322.8 863.6L319.8 859.9L317.5 855.7L315.8 851.3L313 841.5L311.6 838L310.4 835.7L323.6 820.2L335.8 804.7L348 787.7L357.8 772.8L367.6 775.9L377.4 779.5L387.3 783.7L397.2 788.6L404.7 792.8L414.7 799L422.3 804.2L429.8 809.8L437.4 816L445 822.7L452.6 830L460.2 837.8L467.8 846.3L475.4 855.4L483 865.1L490.6 875.4L497.2 885L490.7 886.9L480.1 889.3L472.4 890.6L464.3 891.6L455.7 892.4L446.5 892.9L439.9 893L430.1 892.9L420.8 892.4L412 891.7L403.6 890.8L391.6 889.1L380.4 886.9L373.2 885.3L363 882.6L353.3 879.7Z" fill="#cc0000"/><path d="M360.8 862L355.3 859L350.8 856L346.8 852.7L343.4 849.2L342 847.3L339.4 843.3L334.4 834L331.4 829L328.7 825.2L323.8 820L333.4 807.9L340.7 798L350.5 784.1L357.8 772.8L367.6 775.9L374.9 778.6L384.8 782.6L392.3 786.1L404.7 792.8L412.2 797.4L417.3 800.7L424.8 806L429.8 809.8L437.4 816L442.5 820.4L450.1 827.5L455.1 832.5L465.3 843.4L475.4 855.4L480.5 861.8L487.4 871L480.9 872.9L473.9 874.5L466.3 875.8L458.1 876.8L449.2 877.4L441.9 877.7L432 877.6L423.5 877.1L414.2 876.3L406 875.2L398.3 873.9L391 872.4L384.1 870.7L377.6 868.7L368.5 865.4L362.9 863Z" fill="#b60000"/><path d="M392.5 854.3L384.2 851L379 848.3L374.3 845.4L370.1 842.3L366.4 838.9L363 835.3L360 831.6L353.1 822.2L348.4 816.6L343.2 811.5L339.4 808.3L335.4 805.2L340.7 798L348 787.7L357.8 772.8L367.6 775.9L374.9 778.6L382.4 781.6L389.8 784.9L402.2 791.4L409.7 795.8L414.7 799L422.3 804.2L427.3 807.9L434.9 813.9L439.9 818.2L447.5 825.1L452.6 830L460.2 837.8L465.3 843.4L476.1 856.2L473 857.2L466.1 858.9L458.5 860.2L451.3 861L445.6 861.3L435.4 861.4L424.6 860.8L413.8 859.5L402.7 857.3L392.9 854.4Z" fill="#a00000"/><path d="M412.5 840.2L406.5 838.3L400.8 836L395.6 833.3L388.9 828.9L384.9 825.7L381.1 822.3L372 813.2L363.4 805.2L355.8 798.8L345.5 791.3L352.9 780.4L357.8 772.8L360.2 773.6L367.6 775.9L374.9 778.6L387.3 783.7L394.8 787.3L402.2 791.4L409.7 795.8L414.7 799L422.3 804.2L427.3 807.9L434.9 813.9L439.9 818.2L450.1 827.5L455.1 832.5L462.3 840.2L455.6 841.9L451.8 842.6L447.8 843.1L438.6 843.5L432.4 843.4L423.9 842.5L420 841.9L412.8 840.3Z" fill="#8b0000"/><path d="M420.7 819.9L416.6 818.7L410.9 816.4L405.7 813.8L398.6 809.6L385.6 800.6L356.5 779.5L354.5 778L357.8 772.8L367.6 775.9L374.9 778.6L384.8 782.6L392.3 786.1L402.2 791.4L409.7 795.8L417.3 800.7L424.8 806L434.9 813.9L443.7 821.6L439.6 822L434.7 822.1L428.8 821.6L423.2 820.6Z" fill="#820000"/></g><path d="M343.7 1226.2L348.2 1225.4L352.6 1224.4L357.1 1223.1L361.5 1221.6L370.4 1218L374.8 1215.9L381.3 1212.6L387.9 1209L396.6 1203.8L428.9 1183.3L443.7 1174.4L460.6 1164.9L491.6 1148.2L503.9 1141.1L514.1 1134.6L526.3 1125.9L536.4 1118L562.6 1097.1L574.5 1088.1L584.3 1081.3L590.2 1077.7L594.1 1075.5M371.9 1229.4L362.9 1225.4L354.1 1220.8L345.2 1215.6L336.4 1210L321.1 1199.2L288.7 1174.8L273.7 1164.1L263.1 1156.9L250.5 1148.8L217.3 1128.7L202.9 1119.5L190.7 1110.9L162.3 1089.7L154.3 1084.1L148.4 1080.1L140.4 1075.2L134.6 1072L126.8 1068.5L121 1066.4M329.7 1218L334.2 1217.3L338.7 1216.3L343.1 1215L347.6 1213.4L352 1211.6L356.4 1209.6L360.8 1207.3L367.4 1203.6L373.9 1199.5L382.7 1193.7L412.9 1171.8L425.7 1162.9L442.6 1152.1L473.9 1132.9L486.2 1124.8L492.4 1120.5L498.6 1115.7L508.8 1107.1L519.1 1097.7L545.5 1072.2L551.6 1066.7L557.6 1061.5L563.6 1056.7L569.6 1052.4L575.5 1048.6L581.3 1045.5M385.8 1223.9L381.4 1222L376.9 1220L368 1215.3L359.2 1209.8L350.4 1203.7L343.8 1198.8L335.1 1192L300.5 1163.4L291.9 1156.7L283.4 1150.4L272.8 1143L262.3 1135.9L235.3 1119L227 1113.7L220.8 1109.5L214.7 1105L202.4 1095.1L175.9 1072.6L167.8 1066.2L161.8 1061.9L153.9 1056.9L148 1053.7L144.1 1052L140.2 1050.7L134.5 1049.3M315.8 1209.6L320.3 1208.6L324.8 1207.3L329.3 1205.8L333.7 1204L338.1 1201.9L344.8 1198.5L349.2 1195.9L355.7 1191.8L362.3 1187.3L371 1181L401.2 1157.7L411.9 1149.7L424.6 1140.6L451.9 1121.5L466.5 1110.8L472.7 1105.9L478.9 1100.8L485.1 1095.4L491.3 1089.5L503.7 1077L530.4 1048.6L538.5 1040.4L544.6 1034.6L550.6 1029.3L556.6 1024.5L562.6 1020.3L568.5 1016.8M399.7 1218L393 1214.5L384.1 1209.3L377.5 1205L368.6 1198.8L362.1 1193.8L353.3 1186.7L314.4 1153.4L305.8 1146.4L297.3 1139.7L288.8 1133.3L278.2 1125.6L246.9 1104.2L234.5 1095.1L228.3 1090.1L220.1 1083L197.6 1062.2L189.4 1055L183.3 1049.9L177.3 1045.2L173.3 1042.4L169.3 1039.8L165.4 1037.5L161.4 1035.6L157.5 1034L153.6 1032.8L149.8 1032.1L147.9 1031.9M302.1 1201.2L306.6 1199.6L311 1197.8L315.5 1195.8L322.1 1192.5L326.6 1190L333.2 1186.1L339.8 1181.8L346.3 1177.3L357.2 1169.3L368.1 1160.9L391.7 1142L423.6 1116.8L440.4 1103.1L450.8 1094.2L459.2 1086.8L467.5 1078.9L473.7 1072.7L479.9 1066.1L488.2 1057.1L517.1 1024.5L525.3 1015.7L531.4 1009.4L537.5 1003.6L543.6 998.2L549.6 993.4L555.5 989.2M413.4 1211.8L404.5 1205.8L395.6 1199.5L380.2 1187.7L364.9 1175L328.1 1143.1L311 1128.7L292 1113.5L262.7 1091.2L250.2 1081.3L241.9 1074.2L235.7 1068.5L207 1040.9L198.8 1033.7L192.8 1028.7L188.7 1025.7L184.7 1023L180.7 1020.6L176.8 1018.5L172.8 1016.8L168.9 1015.5L165.1 1014.6L161.2 1014.2M288.4 1192.8L299.6 1186.8L312.9 1178.9L326.1 1170.1L339.2 1160.7L354.4 1149L371.6 1135L393 1116.9L410 1102L420.5 1092.3L431 1082.3L441.5 1071.9L449.8 1063.4L458.2 1054.4L466.5 1045.1L499.7 1006.3L514.1 990.1L522.3 981.4L528.4 975.4L536.5 967.9L542.5 963M427 1205.4L382.9 1168.1L312 1106.2L276.2 1075.9L265.8 1066.9L257.5 1059.4L251.3 1053.5L230.7 1033L222.5 1025.1L216.3 1019.5L210.2 1014.2L204.2 1009.5L200.1 1006.6L194.1 1002.9L190.2 1000.8L186.2 999L182.3 997.7L178.4 996.8L174.5 996.3M274.8 1184.3L292.6 1172.4L308.1 1161.7L323.4 1150.5L336.5 1140.5L349.4 1130L362.3 1119L373 1109.4L385.8 1097.4L396.4 1086.9L407 1076.1L419.6 1062.8L430.1 1051.3L440.6 1039.5L448.9 1029.8L486.4 984.5L500.8 967.5L509 958.4L515.2 951.9L523.3 943.8L529.4 938.2M440.5 1198.9L429.4 1187.6L418.4 1177.2L405.3 1165.3L355.4 1120.8L312.9 1081.2L281.4 1052.4L266.9 1038.4L240 1011.6L233.8 1005.8L227.7 1000.3L221.6 995.2L215.5 990.7L209.5 986.7L205.5 984.4L199.6 981.5L195.6 980.1L191.7 979.1L187.8 978.4M261.4 1175.9L305.5 1142.6L316.4 1134.1L325.1 1127.1L335.9 1118L346.6 1108.4L355.2 1100.2L365.9 1089.6L376.5 1078.4L387.1 1066.9L399.8 1052.8L412.4 1038.3L425 1023.5L435.5 1010.7L471 965.8L485.5 948L493.7 938.4L501.9 929.3L510.1 920.9L516.2 915.1M453.8 1192.2L447.2 1184.6L440.7 1177.3L427.5 1164L412.2 1149.3L381.9 1121L369 1108.7L358.2 1098.1L324.3 1064L286.5 1027.8L259.6 1000.9L247.2 989L241.1 983.6L235 978.5L228.9 973.9L222.9 969.8L216.9 966.3L210.9 963.6L205 961.6L201.1 960.7M248 1167.5L289.9 1133.9L300.8 1125L309.5 1117.6L320.3 1107.9L328.9 1099.8L337.5 1091.3L346 1082.3L358.8 1068.3L371.5 1053.7L392.7 1028.9L407.4 1011.1L415.8 1000.6L424.2 989.9L461.8 940L470.1 929.4L476.3 921.8L484.5 912.2L490.7 905.5L496.8 899.3L502.9 893.7M467.1 1185.6L462.7 1180.1L456.2 1172.2L449.6 1164.8L443 1157.8L427.8 1142L397.5 1111.3L384.6 1098.1L339.8 1050.3L327.2 1037.5L297.9 1009.1L268.8 980.3L260.6 972.6L252.4 965.4L244.3 958.9L238.2 954.6L232.2 950.8L226.2 947.6L220.2 945.2L214.3 943.4M234.7 1159.1L254.7 1142.8L267.8 1131.8L278.8 1122.3L289.6 1112.6L300.4 1102.5L309.1 1094L319.8 1082.9L328.4 1073.5L339 1061.4L353.9 1043.7L381.4 1010.2L396.1 991.8L404.5 980.9L412.9 969.6L446.3 923.1L454.7 912.1L460.9 904.2L469.2 894.3L475.3 887.5L483.5 879.4L489.6 874.1M480.3 1179L469.4 1165.1L462.8 1157.4L454.1 1147.4L402.2 1089.7L359.6 1040.9L349 1029.5L336.3 1016.5L284.2 965.5L273.9 955.9L265.7 948.8L259.6 943.9L255.6 940.9L249.5 936.7L245.4 934.3L239.4 931.1L235.4 929.3L231.5 927.9L227.5 926.7M221.6 1150.9L234.9 1140.2L245.9 1130.9L256.8 1121.2L267.7 1111L278.5 1100.4L289.3 1089.3L300.1 1077.7L310.8 1065.6L323.6 1050.5L338.4 1032.2L363.8 1000.3L378.5 981.3L386.9 970.1L395.3 958.6L430.9 907.7L439.3 896.4L445.5 888.3L453.8 878.3L462 869.2L466.1 865.2L470.2 861.4L476.3 856.5M493.3 1172.5L484.6 1161L475.9 1150.1L385.7 1039.8L375.1 1027.2L366.6 1017.5L358.1 1008.3L349.7 999.4L335 984.5L303.7 953.5L291.3 941.8L281.1 933L274.9 928.1L268.8 923.7L262.7 919.9L258.7 917.6L252.7 914.7L248.7 913.1L244.7 911.8L240.7 910.9M208.5 1142.7L217.4 1136L226.2 1128.8L235 1121L245.9 1110.6L256.7 1099.6L267.5 1087.9L278.2 1075.8L291.1 1060.8L308.2 1040.2L323 1021.7L337.8 1002.8L354.7 980.5L367.3 963.4L377.8 948.6L405 909L415.5 894L423.8 882.6L430.1 874.5L438.4 864.4L446.6 855.3L450.7 851.2L454.8 847.4L458.9 843.9L463 840.9M506.3 1166.1L495.5 1151.4L467.4 1114.4L431 1065.4L409.6 1037.4L394.8 1018.8L382 1003.5L369.3 989L356.7 975.2L337.8 955.4L319.1 936.6L306.6 925.1L300.4 919.8L294.3 914.9L288.1 910.4L284.1 907.7L278 904.1L273.9 902L267.9 899.4L263.9 898L257.9 896.6L253.9 896.1M195.5 1134.6L202.2 1129.8L211 1122.6L217.6 1116.7L226.3 1108.2L235 1099.2L243.6 1089.7L252.2 1079.8L263 1067L303.4 1017L316.1 1000.8L326.7 986.9L339.3 969.6L351.9 951.9L385.5 903.1L395.9 888.2L404.3 876.7L412.6 865.7L422.9 853L431.2 843.8L437.4 837.6L441.5 833.8L445.6 830.3L449.7 827.1M519.1 1159.8L508.4 1144.2L484.8 1110.4L448.5 1057.2L437.8 1042.1L427.2 1027.5L412.3 1007.9L395.3 986.6L378.4 966.5L363.7 949.9L349 934.1L340.6 925.6L334.4 919.5L328.1 913.7L321.9 908.3L315.7 903.2L309.5 898.6L303.4 894.4L297.2 890.7L291.1 887.7L287.1 886L281 883.9L277 883L271 882.1L267.1 881.9M182.6 1126.7L187.1 1123.3L193.7 1117.7L200.3 1111.7L206.8 1105.3L213.3 1098.4L222 1088.8L228.4 1081.3L237 1070.9L269 1030.5L294.5 998.8L309.3 979.6L317.7 968.1L326.1 956.3L357.6 910.8L370.1 892.9L382.6 875.8L393 862.1L405.5 846.8L415.8 835.1L426.1 824.5L432.3 818.7L436.3 815.1M531.8 1153.5L516.9 1129.3L472.3 1059L457.4 1036.2L444.6 1017.5L429.8 996.8L412.8 974.4L393.8 950.6L385.3 940.5L376.9 930.7L368.5 921.5L362.2 914.9L355.9 908.6L349.7 902.7L343.4 897.2L337.2 892.1L331 887.4L324.8 883.1L318.6 879.4L312.5 876.1L306.3 873.4L302.3 871.9L296.2 870.1L290.2 868.9L284.2 868.2L280.2 868.2M169.9 1118.9L178.7 1110.8L189.5 1099.6L200.4 1087.5L213.3 1072L226.1 1055.7L253.8 1020L281.4 985.7L294.1 969.5L306.7 952.2L331.9 916.1L342.3 901.4L352.8 887.3L363.2 873.7L377.7 855.6L392.2 838.5L406.7 822.3L423.1 804.7M544.5 1147L538.2 1134.9L529.8 1119.5L521.3 1104.7L510.8 1086.6L487.5 1047.7L476.9 1030.7L466.3 1014.1L457.8 1001.2L449.3 988.7L440.9 976.6L430.3 961.9L419.7 947.7L411.2 936.8L402.8 926.2L394.3 916.1L388 909L381.7 902.2L375.4 895.9L369.1 890L362.9 884.6L356.6 879.7L350.4 875.3L344.1 871.2L337.9 867.7L331.8 864.6L325.6 861.9L319.5 859.6L313.4 857.7L307.3 856.3L301.2 855.2L293.2 854.4M157.2 1111.3L163.7 1104.2L172.4 1094.4L187.5 1076.2L202.5 1057.1L238.7 1009.9L276.8 962.4L289.4 945.7L320.9 901.8L327.1 893.4L335.5 882.8L343.8 872.6L352.1 862.9L391.4 818.3L401.7 806.1L409.9 795.9M557 1140.2L550.9 1126.4L544.6 1113.3L538.4 1100.8L532.1 1088.8L521.6 1069.5L511.1 1050.8L502.7 1036.3L492.1 1018.6L481.5 1001.5L468.9 981.6L458.3 965.4L447.7 949.8L437.1 934.8L428.7 923.3L420.2 912.3L411.8 901.9L405.4 894.6L399.1 887.8L392.8 881.4L388.6 877.5L384.4 873.9L378.1 868.9L371.8 864.5L365.6 860.6L359.3 857.1L353.1 854.1L346.9 851.4L338.7 848.4L332.6 846.5L324.4 844.2L316.3 842.4L306.2 840.3M144.6 1103.9L155.4 1090.4L168.3 1073.8L208.8 1020.2L223.7 1000.9L234.3 987.5L257.5 958.9L268.1 945.6L276.5 934.5L299.5 903.3L309.9 889.7L318.3 879.6L326.6 870L334.9 861L359.8 834.6L372.1 820.8L378.3 813.4L384.4 805.6L390.6 797.3L396.7 788.4M569.5 1132.9L565.5 1122.7L559.4 1107.9L553.2 1094L547 1080.9L538.7 1064.3L530.3 1048.3L522 1032.8L513.6 1017.9L503 999.9L490.4 979L475.6 955.3L465.1 938.8L454.5 923L446.1 910.9L437.6 899.5L429.2 888.7L422.8 881.2L416.5 874.2L410.2 867.8L405.9 863.9L401.7 860.3L395.4 855.4L391.2 852.5L384.9 848.6L380.8 846.3L374.5 843.2L368.3 840.5L362 838.2L351.7 834.8L329.3 828.5L319.2 825.5M132.1 1096.7L179.1 1033.1L204.5 999.4L221.5 977.8L255.2 935.8L286.6 895.4L297 882.8L307.4 871.1L317.8 860.2L340.6 837.3L348.8 828.5L355 821.6L363.2 811.7L369.3 803.6L377.5 791.8L383.7 782.1M581.6 1124.6L576 1108.9L571.9 1098.5L565.9 1083.7L559.7 1069.8L553.5 1056.6L545.3 1039.7L536.9 1023.5L528.6 1007.9L518.1 989.2L507.6 971.1L492.9 946.5L480.3 926L471.8 912.8L463.4 900.2L455 888.3L446.5 877.2L440.2 869.5L433.8 862.3L427.5 855.7L423.3 851.7L416.9 846.1L412.7 842.8L408.5 839.8L402.2 835.8L398 833.4L391.7 830.3L387.5 828.4L381.3 825.9L370.9 822.3L344.3 814.1L338.2 811.9L332.1 809.5M119.8 1089.7L160.2 1034.9L187.7 998.1L208.8 970.6L234.1 938.8L261.3 905.1L271.8 892.6L280.1 883.1L286.3 876.2L294.7 867.4L325.7 836L333.9 827.2L340.1 820.1L348.2 810.1L356.4 799.1L364.6 787L370.7 777M594 1116.4L588.4 1100.4L584.4 1089.8L578.4 1074.6L572.3 1060.3L564.1 1042.1L555.9 1024.7L547.6 1008L539.3 991.8L531 976.2L520.5 957.5L508 935.7L497.5 918.1L489.1 904.7L480.6 891.8L472.2 879.6L463.8 868.2L457.4 860.3L451.1 852.9L444.7 846.1L440.5 841.8L434.2 835.9L430 832.3L423.6 827.3L417.3 822.9L411 819.1L404.7 815.6L398.4 812.5L392.2 809.8L379.7 804.9L355.1 796.1L345 792.1" fill="none" stroke="#000" stroke-width="1.5"/><path d="M357.8 1234.4L331.1 1218.8L299.6 1199.7L271.2 1182L205.8 1141L171.5 1119.9L154.7 1109.8L138 1100L121.5 1090.6L107.5 1083L122.9 1064L140.8 1041.1L158.5 1017.7L204 956.9L216.5 940.5L226.6 927.9L239.1 912.8L251.7 898.5L264.2 885L299 848.3L308.8 837.4L318.7 826.1L328.5 814.1L338.3 801.4L348 787.7L357.8 772.8L367.6 775.9L374.9 778.6L384.8 782.6L392.3 786.1L402.2 791.4L409.7 795.8L417.3 800.7L424.8 806L432.4 811.8L439.9 818.2L447.5 825.1L455.1 832.5L462.7 840.6L470.3 849.2L477.9 858.5L485.5 868.4L493.1 879L500.7 890.2L508.2 902L515.8 914.4L523.3 927.4L530.8 940.9L538.3 954.9L545.8 969.4L553.2 984.4L563.1 1005.1L572.9 1026.4L582.6 1048.4L589.9 1065.4L594.7 1077.1L601.9 1095.5L606.6 1108.4L604.9 1109.7L594.6 1116L585.2 1122.2L568 1134L552.4 1142.8L535.6 1151.5L489.3 1174.5L444.1 1197.1L418.4 1209.5L402.8 1216.6L387.1 1223.3L373.8 1228.6L360.5 1233.5Z" fill="none" stroke="#000" stroke-width="1.8" stroke-linejoin="round"/><path d="M109 1108.5L91.5 811.1M109 1108.5L357.8 1272.5M357.8 1272.5L606.6 1108.5M106.6 1068.5L111.4 1065.7M104.2 1027.6L109.1 1024.9M101.8 986L106.7 983.3M99.3 943.6L104.2 940.9M96.7 900.3L101.7 897.7M94.1 856.2L99.2 853.6M91.5 811.1L96.6 808.6M357.8 1272.5L362.6 1269.3M320.1 1247.6L324.9 1244.5M283.2 1223.3L288 1220.3M247 1199.5L251.8 1196.5M211.5 1176.1L216.3 1173.2M176.7 1153.1L181.5 1150.3M142.5 1130.6L147.3 1127.8M109 1108.5L113.8 1105.8M357.8 1272.5L353 1269.3M384.2 1255L379.5 1251.9M410.3 1237.8L405.5 1234.8M436 1220.9L431.3 1217.9M461.4 1204.2L456.6 1201.2M486.4 1187.7L481.7 1184.8M511.1 1171.4L506.3 1168.5M535.5 1155.4L530.7 1152.5M559.5 1139.6L554.7 1136.8M583.2 1124L578.4 1121.2M606.6 1108.5L601.8 1105.8" fill="none" stroke="#000" stroke-width="1.7" stroke-linecap="square"/><g><text transform="matrix(0.8093 -0.4375 0.0589 0.9983 94.93 1082.48)" font-size="13.5" text-anchor="end">100</text><text transform="matrix(0.8093 -0.4375 0.0589 0.9983 92.52 1041.64)" font-size="13.5" text-anchor="end">200</text><text transform="matrix(0.8093 -0.4375 0.0589 0.9983 90.07 1000.02)" font-size="13.5" text-anchor="end">300</text><text transform="matrix(0.8093 -0.4375 0.0589 0.9983 87.56 957.58)" font-size="13.5" text-anchor="end">400</text><text transform="matrix(0.8093 -0.4375 0.0589 0.9983 85.01 914.30)" font-size="13.5" text-anchor="end">500</text><text transform="matrix(0.8093 -0.4375 0.0589 0.9983 82.41 870.15)" font-size="13.5" text-anchor="end">600</text><text transform="matrix(0.8093 -0.4375 0.0589 0.9983 79.75 825.12)" font-size="13.5" text-anchor="end">700</text><text transform="matrix(0.7683 0.5061 -0.8351 0.5501 332.80 1288.15)" font-size="13.5" text-anchor="middle">0</text><text transform="matrix(0.7683 0.5061 -0.8351 0.5501 295.13 1263.34)" font-size="13.5" text-anchor="middle">10</text><text transform="matrix(0.7683 0.5061 -0.8351 0.5501 258.20 1239.01)" font-size="13.5" text-anchor="middle">20</text><text transform="matrix(0.7683 0.5061 -0.8351 0.5501 222.00 1215.16)" font-size="13.5" text-anchor="middle">30</text><text transform="matrix(0.7683 0.5061 -0.8351 0.5501 186.50 1191.77)" font-size="13.5" text-anchor="middle">40</text><text transform="matrix(0.7683 0.5061 -0.8351 0.5501 151.67 1168.83)" font-size="13.5" text-anchor="middle">50</text><text transform="matrix(0.7683 0.5061 -0.8351 0.5501 117.51 1146.33)" font-size="13.5" text-anchor="middle">60</text><text transform="matrix(0.7683 0.5061 -0.8351 0.5501 84.00 1124.25)" font-size="13.5" text-anchor="middle">70</text><text transform="matrix(0.7683 0.5061 -0.8351 0.5501 361.40 1284.45)" font-size="13.5" text-anchor="start">30</text><text transform="matrix(0.7683 0.5061 -0.8351 0.5501 387.85 1267.03)" font-size="13.5" text-anchor="start">40</text><text transform="matrix(0.7683 0.5061 -0.8351 0.5501 413.93 1249.85)" font-size="13.5" text-anchor="start">50</text><text transform="matrix(0.7683 0.5061 -0.8351 0.5501 439.65 1232.90)" font-size="13.5" text-anchor="start">60</text><text transform="matrix(0.7683 0.5061 -0.8351 0.5501 465.02 1216.19)" font-size="13.5" text-anchor="start">70</text><text transform="matrix(0.7683 0.5061 -0.8351 0.5501 490.04 1199.71)" font-size="13.5" text-anchor="start">80</text><text transform="matrix(0.7683 0.5061 -0.8351 0.5501 514.72 1183.45)" font-size="13.5" text-anchor="start">90</text><text transform="matrix(0.7683 0.5061 -0.8351 0.5501 539.07 1167.41)" font-size="13.5" text-anchor="start">100</text><text transform="matrix(0.7683 0.5061 -0.8351 0.5501 563.10 1151.58)" font-size="13.5" text-anchor="start">110</text><text transform="matrix(0.7683 0.5061 -0.8351 0.5501 586.81 1135.96)" font-size="13.5" text-anchor="start">120</text><text transform="matrix(0.7683 0.5061 -0.8351 0.5501 610.20 1120.55)" font-size="13.5" text-anchor="start">130</text></g><g font-weight="bold"><text transform="matrix(0.6347 0.4181 -0.8351 0.5501 173.20 1222.10)" font-size="20" text-anchor="middle">Pretreatment time [min]</text><text transform="matrix(0.6363 -0.4192 0.8351 0.5501 543.90 1230.10)" font-size="20" text-anchor="middle">Pretreatment pressure [PSI]</text><text transform="matrix(0.0453 0.7687 -0.8797 0.4755 41.70 987.30)" font-size="20" text-anchor="middle">Glucose concentration</text><text transform="matrix(0.0453 0.7687 -0.8797 0.4755 20.30 1005.90)" font-size="20" text-anchor="middle">[mg/g biomass of wheat straw]</text><text x="3" y="712" font-size="62">D</text></g></g><g id="panelE"><path d="M786.6 1113.9L769.1 816.5M812.9 1098.7L797.4 802.3M838.9 1083.7L825.3 788.3M864.6 1068.9L852.8 774.5M889.9 1054.3L880 760.9M915 1039.8L906.8 747.5M939.7 1025.6L933.2 734.2M964 1011.5L959.3 721.2M988.1 997.6L985 708.3M1011.9 983.9L1010.4 695.6M1035.4 970.3L1035.4 683M1284.2 1113.9L1301.7 816.5M1246.7 1092.3L1261.4 796.3M1209.8 1071L1221.9 776.5M1173.7 1050.1L1183.1 757.1M1138.2 1029.6L1145.1 738M1103.3 1009.5L1107.9 719.3M1069 989.7L1071.3 701M1035.4 970.3L1035.4 683M786.6 1113.9L1035.4 970.3M1035.4 970.3L1284.2 1113.9M784.2 1073.9L1035.4 931.5M1035.4 931.5L1286.6 1073.9M781.8 1033L1035.4 891.9M1035.4 891.9L1289 1033M779.4 991.4L1035.4 851.6M1035.4 851.6L1291.4 991.4M776.9 949L1035.4 810.6M1035.4 810.6L1293.9 949M774.3 905.7L1035.4 768.9M1035.4 768.9L1296.5 905.7M771.7 861.6L1035.4 726.3M1035.4 726.3L1299.1 861.6M769.1 816.5L1035.4 683M1035.4 683L1301.7 816.5M1035.4 1277.9L786.6 1113.9M1061.8 1260.4L812.9 1098.7M1087.9 1243.2L838.9 1083.7M1113.6 1226.3L864.6 1068.9M1139 1209.6L889.9 1054.3M1164 1193.1L915 1039.8M1188.7 1176.8L939.7 1025.6M1213.1 1160.8L964 1011.5M1237.1 1145L988.1 997.6M1260.8 1129.4L1011.9 983.9M1284.2 1113.9L1035.4 970.3M1035.4 1277.9L1284.2 1113.9M997.7 1253L1246.7 1092.3M960.8 1228.7L1209.8 1071M924.6 1204.9L1173.7 1050.1M889.1 1181.5L1138.2 1029.6M854.3 1158.5L1103.3 1009.5M820.1 1136L1069 989.7M786.6 1113.9L1035.4 970.3" fill="none" stroke="#d2d2d2" stroke-width="1.5"/><g fill="none" stroke-width="1.3"><path d="M1279.8 1111.4L1268.3 1113.4L1258.3 1116.2L1249.5 1119.8L1244.3 1122.6L1239.6 1125.7L1235.2 1129L1231.3 1132.6L1227.6 1136.4L1222.5 1142.3L1218.5 1147.2L1214.1 1153.5L1207.1 1164.7" stroke="#00572d"/><path d="M1269.1 1105.2L1261.1 1106.3L1250.2 1108.6L1240.4 1111.6L1231.6 1115.2L1223.5 1119.2L1216.1 1123.7L1206.8 1130L1195.5 1138.2L1186.7 1145L1178.3 1152.1L1154.3 1174.5L1145.8 1181.9L1134.5 1190.8L1108.7 1210.1L1101.9 1215.6L1097.6 1219.5L1091.5 1225.5L1084.3 1234.2L1081.1 1238.9L1078.3 1243.8L1075.9 1249L1074.8 1251.9" stroke="#006b27"/><path d="M1259 1099.4L1247 1101L1236 1103.3L1225.9 1106.1L1213.5 1110.4L1202 1115.4L1162.6 1133.5L1126.4 1151.3L1117.5 1155.1L1107.6 1158.4L1103.7 1159.3L1096.2 1160.7L1084.4 1161.9L1073.8 1162.2L1048.8 1162L1038.3 1162.6L1030.4 1164L1026.9 1165L1020.6 1167.5L1015.4 1170.6L1013.1 1172.5L1011.2 1174.5L1009.5 1176.6L1008.2 1179L1007.1 1181.6L1006.6 1184.5L1006.4 1187.7L1006.9 1191.6L1007.7 1195.2L1009.1 1199.4L1015.8 1215.5L1018.8 1223.6L1021.4 1231.9L1026.9 1251.4L1029.8 1260.2L1033.3 1269.4L1036.5 1277.1" stroke="#007e20"/><path d="M866 1166.3L889.8 1178.5L901.5 1183.7L923.3 1192.4L929 1195.3L934.1 1198.5L941 1203.8L947.2 1209.7L956.6 1220.1L967.2 1232.9M1249.4 1093.9L1241 1094.7L1229.3 1096.5L1221.9 1098L1211.4 1100.5L1198.1 1104.3L1165.9 1114.6L1124 1127.2L1108.7 1131.3L1097.5 1133.6L1086.4 1135.1L1075.9 1135.8L1065.9 1135.8L1041.1 1135.2L1029.6 1135.1L1015.5 1135.7L986.8 1137.7L977 1137.5L972.6 1137.2L964.6 1135.9L954 1133.2L931.4 1125.6L921.3 1122.7L910.6 1120.1L899.2 1118L890.5 1116.7L878.7 1115.6L841.7 1113.7L837.5 1113.3L829.8 1112L823 1110.1L817 1107.8L811.7 1105.2L807 1102.2" stroke="#009119"/><path d="M1240.1 1088.5L1231.5 1089.2L1219.2 1090.7L1200.1 1093.9L1185.6 1097L1155.7 1104L1121.2 1111.7L1102.9 1115.3L1094.5 1116.6L1086.1 1117.5L1077.1 1118.1L1068.2 1118.3L1057 1118.1L1024.8 1116.6L987.3 1115.9L978.3 1115.4L969.7 1114.6L959.5 1113.2L950 1111.5L915.6 1104.3L901.5 1101.6L886.3 1099.2L858.1 1095.5L846.6 1093.6L839.4 1092L829.7 1089.1" stroke="#00a412"/><path d="M1230.9 1083.2L1209.2 1084.8L1196.8 1086.2L1180.9 1088.4L1157.7 1092.1L1108.7 1101.2L1097 1103.1L1088.7 1104L1080.2 1104.7L1065.4 1105L1050.9 1104.4L1016.2 1102.1L984.2 1100.7L972.9 1099.9L961.5 1098.6L941.2 1095.5L898.5 1087.2L859.3 1080.5L848.6 1078.2" stroke="#00b80b"/><path d="M1221.9 1078L1194.6 1079.2L1164.3 1081.5L1151.8 1082.9L1139.8 1084.5L1103.3 1090.3L1090.6 1092.1L1079.2 1093.1L1064.1 1093.3L1050.3 1092.6L1016.4 1090.2L983.6 1088.3L970.5 1087.3L960.8 1086.2L948.2 1084.4L934.9 1082.2L865.1 1068.6" stroke="#00cb05"/><path d="M1212.8 1072.7L1174.3 1073.1L1151.2 1073.8L1142.4 1074.4L1129.8 1075.7L1097.8 1080L1085.4 1081.3L1072 1082.1L1058 1081.9L982.2 1077.4L961 1075.4L949.1 1073.8L933.9 1071.2L879.9 1060.1" stroke="#0ed800"/><path d="M1203.6 1067.4L1162.3 1066.1L1142.7 1066L1124.7 1066.9L1092.1 1070L1075.7 1071.1L1059 1071.4L1038.2 1070.6L988.1 1068L970.9 1066.6L958.7 1065.2L947 1063.5L932.1 1060.8L917.9 1057.8L893.6 1052.2" stroke="#3ed800"/><path d="M1194.3 1062L1155.5 1059.3L1134.8 1058.6L1116.2 1059L1082.2 1061.2L1062.7 1061.9L1048 1061.8L1033.2 1061.5L1001.4 1060.1L975.7 1058.1L963.5 1056.7L951.8 1055L940.6 1053L929.9 1050.8L906.3 1044.9" stroke="#6dd800"/><path d="M1184.8 1056.5L1149.4 1052.9L1138.3 1052.1L1127.9 1051.7L1108.7 1051.8L1072.7 1053.4L1049.3 1053.9L1026.9 1053.6L1004.6 1052.4L979.3 1050.2L959.7 1047.5L948.6 1045.5L938 1043.2L927.9 1040.7L918.2 1038" stroke="#9dd800"/><path d="M1175 1050.9L1143.9 1046.9L1132.4 1045.8L1121.7 1045.2L1102.2 1045.1L1061.4 1046.7L1042.7 1047L1024 1046.6L1006.6 1045.5L986 1043.4L974.3 1041.8L963.1 1039.9L945.5 1036.1L929.5 1031.5" stroke="#ccd800"/><path d="M1165 1045.1L1138.9 1041.2L1127.1 1039.9L1113.7 1039.1L1094.5 1039L1058.3 1040.6L1043.3 1040.9L1026.9 1040.5L1011.8 1039.5L991.7 1037.2L973 1034.1L955.8 1030.1L946.2 1027.3L940.2 1025.3" stroke="#d8bb00"/><path d="M1154.5 1039.1L1140.7 1036.7L1128 1034.9L1117.5 1033.9L1108.7 1033.4L1091.7 1033.3L1058.3 1034.8L1043.4 1035.1L1026.8 1034.7L1012.3 1033.6L996.6 1031.5L978.5 1028L971.8 1026.4L962.2 1023.6L950.5 1019.3" stroke="#d89300"/><path d="M1143.5 1032.7L1132.3 1030.7L1123.3 1029.4L1116.5 1028.6L1106.5 1027.9L1098.8 1027.7L1089.1 1027.8L1057.9 1029.3L1043 1029.6L1029.2 1029.2L1016.5 1028.2L1001 1026.1L993.8 1024.7L983.6 1022.3L971.2 1018.4L965.5 1016.1L960.3 1013.6" stroke="#d86b00"/><path d="M1131.9 1026L1125 1024.8L1115.5 1023.5L1101.9 1022.5L1087.6 1022.5L1061 1023.8L1047.3 1024.2L1033.4 1023.9L1020.6 1023L1012.7 1022L1005.3 1020.8L998.3 1019.3L991.6 1017.6L985.4 1015.6L979.7 1013.5L974.4 1011L969.8 1008.2" stroke="#d84200"/><path d="M1119.8 1019L1107.5 1017.5L1097.1 1016.9L1087.7 1017L1061.4 1018.3L1046.9 1018.7L1033.2 1018.4L1021.6 1017.4L1009.6 1015.5L1002.8 1013.9L996.4 1012L990.6 1009.9L985.4 1007.4L980.9 1004.5L978.9 1002.9" stroke="#d81a00"/><path d="M1107.3 1011.8L1097.8 1011.2L1088.2 1011.2L1061.3 1012.7L1046.9 1013.2L1037.7 1013L1025.2 1011.9L1013.8 1009.9L1007.5 1008.3L1001.5 1006.3L996.2 1003.9L993.7 1002.6L989.5 999.5L987.7 997.8" stroke="#d20000"/><path d="M1094.5 1004.4L1084.7 1004.8L1064.8 1006.5L1052.3 1007.1L1042.3 1007.2L1030.1 1006.3L1019.1 1004.4L1009.7 1001.5L1004.4 999.1L1002.1 997.7L998 994.6L996.3 992.9" stroke="#c00000"/><path d="M1081.8 997.1L1066.8 999.3L1054.5 1000.4L1044.4 1000.6L1034.8 1000L1028.6 999.1L1024.7 998.3L1020.5 997.1L1015.6 995.4L1010.6 992.8L1008.4 991.4L1004.6 988.1" stroke="#ad0000"/><path d="M1069.3 989.9L1062.7 991.5L1053 992.8L1043.1 993.1L1036.2 992.5L1027.9 990.9L1022 988.9L1016.9 986.4L1012.6 983.4" stroke="#9a0000"/><path d="M1057.3 982.9L1053.9 983.7L1048.6 984.4L1043.6 984.6L1039.2 984.4L1035.4 983.9L1028.7 982.3L1025.7 981.3L1020.5 978.9" stroke="#880000"/><path d="M1045.9 976.3L1041.4 976.5L1036.1 976.1L1031.4 975.3L1028.1 974.5" stroke="#760000"/></g><g fill-rule="evenodd" stroke="none"><path d="M1035.4 1239.6L1024.7 1230.5L1011.3 1219.6L998.1 1209.1L984.9 1199L971.8 1189.3L956.2 1178.1L943.3 1169.2L928 1158.9L912.8 1149L897.7 1139.5L882.8 1130.4L865.5 1120.1L831.6 1100.6L784.3 1074.3L797.4 1062.5L813 1047.4L828.4 1031.4L843.8 1014.5L859.1 996.7L874.2 978L889.3 958.6L906.8 934.9L921.8 913.7L939.2 888L954 865.2L971.3 837.6L986.1 813.2L1003.4 783.7L1018.2 757.6L1035.4 726.2L1050.2 747.3L1065 767.6L1079.9 787.3L1112.3 829.8L1129.8 853.3L1144.8 874.2L1159.9 896.2L1174.9 919.2L1192.4 947.3L1212.4 980.5L1244.8 1035.8L1257.3 1056.8L1272.4 1081.2L1285 1100.5L1282.6 1103.4L1277.8 1108.6L1275.4 1111L1270.7 1115.2L1263.6 1120.4L1256.5 1124.7L1247.1 1129.4L1225.8 1138.9L1211.4 1145.6L1196.8 1152.9L1182.1 1160.7L1172.2 1166.3L1159.7 1173.7L1119.2 1199.1L1106.4 1206.9L1093.5 1214.5L1080.4 1221.5L1067.3 1227.9L1056.8 1232.5L1046.1 1236.4L1035.4 1239.6Z" fill="#006736"/><path d="M1035.4 1239.6L1011.3 1219.6L998.1 1209.1L984.9 1199L971.8 1189.3L956.2 1178.1L943.3 1169.2L928 1158.9L912.8 1149L897.7 1139.5L865.5 1120.1L831.6 1100.6L784.3 1074.3L797.4 1062.5L813 1047.4L828.4 1031.4L843.8 1014.5L859.1 996.7L874.2 978L889.3 958.6L906.8 934.9L921.8 913.7L939.2 888L954 865.2L971.3 837.6L986.1 813.2L1003.4 783.7L1018.2 757.6L1035.4 726.2L1050.2 747.3L1065 767.6L1112.3 829.8L1129.8 853.3L1144.8 874.2L1159.9 896.2L1177.4 923.2L1194.9 951.4L1212.4 980.5L1254.8 1052.7L1267.4 1073.2L1280.8 1094.2L1272.9 1095.4L1265.7 1097L1262.4 1097.9L1259.2 1099L1253.2 1101.3L1250.4 1102.6L1245.2 1105.4L1240.4 1108.4L1236.1 1111.8L1232.1 1115.3L1226.6 1121L1221.6 1127L1216.9 1133.2L1212.5 1139.6L1207.8 1147.3L1189.5 1156.7L1169.7 1167.7L1152.2 1178.3L1109 1205.4L1096.1 1213L1085.7 1218.8L1072.6 1225.5L1059.4 1231.4L1048.8 1235.5L1038.1 1238.9Z" fill="#007e2e"/><path d="M1035.4 1239.6L1011.3 1219.6L998.1 1209.1L984.9 1199L971.8 1189.3L956.2 1178.1L943.3 1169.2L928 1158.9L912.8 1149L897.7 1139.5L865.5 1120.1L831.6 1100.6L784.3 1074.3L797.4 1062.5L813 1047.4L828.4 1031.4L843.8 1014.5L859.1 996.7L874.2 978L889.3 958.6L906.8 934.9L921.8 913.7L939.2 888L954 865.2L971.3 837.6L986.1 813.2L1003.4 783.7L1018.2 757.6L1035.4 726.2L1050.2 747.3L1065 767.6L1112.3 829.8L1129.8 853.3L1144.8 874.2L1159.9 896.2L1177.4 923.2L1197.4 955.5L1214.9 984.7L1252.3 1048.5L1270.6 1078.3L1262.5 1079.4L1255.1 1080.9L1248.1 1082.6L1238.6 1085.8L1232.8 1088.2L1224.7 1092.2L1217.3 1096.7L1207.9 1103L1194.3 1112.8L1183.4 1121.4L1173.1 1130.4L1155.1 1147.3L1146.5 1154.6L1135.2 1163.4L1109.2 1182.6L1102.4 1188.1L1098 1192L1091.9 1198L1088.2 1202.2L1084.6 1206.7L1081.4 1211.3L1078.6 1216.2L1076.2 1221.4L1075.1 1224.3L1064.7 1229.1L1056.8 1232.5L1046.1 1236.4L1038.1 1238.9Z" fill="#009526"/><path d="M1035.4 1239.6L1011.3 1219.6L998.1 1209.1L984.9 1199L971.8 1189.3L956.2 1178.1L943.3 1169.2L928 1158.9L912.8 1149L897.7 1139.5L865.5 1120.1L831.6 1100.6L784.3 1074.3L797.4 1062.5L813 1047.4L828.4 1031.4L843.8 1014.5L859.1 996.7L874.2 978L889.3 958.6L906.8 934.9L921.8 913.7L939.2 888L954 865.2L971.3 837.6L986.1 813.2L1003.4 783.7L1018.2 757.6L1035.4 726.2L1050.2 747.3L1065 767.6L1112.3 829.8L1129.8 853.3L1144.8 874.2L1157.4 892.4L1167.4 907.6L1177.4 923.2L1197.4 955.5L1212.4 980.5L1244.8 1035.8L1261 1062.8L1248.8 1064.4L1237.7 1066.6L1227.6 1069.4L1221.2 1071.5L1215.1 1073.7L1203.5 1078.6L1163.7 1096.7L1127.2 1114.3L1118.2 1118.1L1113.4 1119.7L1108.2 1121.3L1100.8 1123L1096.8 1123.7L1090.6 1124.4L1084.8 1124.9L1074.2 1125.1L1052.5 1124.8L1043.4 1125.1L1038.4 1125.6L1030.4 1127L1026.8 1127.9L1023.5 1129.1L1020.5 1130.4L1017.7 1131.9L1015.2 1133.5L1012.9 1135.3L1011 1137.3L1009.3 1139.5L1007.9 1141.8L1006.9 1144.4L1006.3 1147.3L1006.2 1150.5L1006.6 1154.4L1007.5 1157.9L1008.9 1162L1015.6 1178.1L1018.6 1186.1L1021.3 1194.4L1026.8 1213.8L1029.7 1222.5L1033.2 1231.7L1036.5 1239.3Z" fill="#00ab1e"/><path d="M966.4 1185.4L943.3 1169.2L917.8 1152.2L892.7 1136.4L864.1 1119.2L879.5 1127.2L888.1 1131.4L900 1136.6L919 1143.9L925 1146.5L930.4 1149.6L933 1151.2L937.7 1154.7L942.1 1158.4L946.2 1162.3L953.8 1170.5L964.8 1183.3ZM814.7 1061.4L809.2 1058.7L804.5 1055.8L818.1 1042.1L831 1028.6L843.8 1014.5L859.1 996.7L871.7 981.2L886.8 961.9L901.8 941.7L916.8 920.8L931.7 899.1L946.6 876.7L961.4 853.5L976.3 829.6L991 804.8L1005.8 779.4L1020.6 753.2L1035.4 726.2L1050.2 747.3L1065 767.6L1112.3 829.8L1129.8 853.3L1144.8 874.2L1157.4 892.4L1174.9 919.2L1194.9 951.4L1214.9 984.7L1251.8 1047.5L1243.3 1048.4L1231.4 1050.1L1224 1051.6L1213.3 1054L1199.8 1057.8L1172.9 1066.3L1153.5 1072.2L1124.9 1080.5L1109.5 1084.6L1102.1 1086.2L1093.2 1087.6L1085.6 1088.5L1076.3 1089L1066.3 1089.1L1039.7 1088.4L1029.6 1088.4L1015.2 1088.9L991.8 1090.7L986.3 1090.9L977.7 1090.8L971.9 1090.4L963.8 1089.2L957.2 1087.6L949.8 1085.4L933.5 1080L923.5 1077L912.9 1074.3L902.1 1072.1L888.9 1070.2L877 1069L866 1068.4L848.6 1067.8L835.3 1066.8L827.5 1065.5L820.6 1063.6L817.5 1062.5Z" fill="#00c216"/><path d="M832.7 1034.8L827 1032.9L841.3 1017.3L856.5 999.7L869.2 984.3L884.3 965.2L899.3 945.2L914.3 924.4L929.2 902.8L944.1 880.5L966.4 845.6L988.6 809L1010.8 770.7L1023.1 748.7L1035.4 726.2L1050.2 747.3L1065 767.6L1112.3 829.8L1127.3 849.9L1142.3 870.7L1154.9 888.7L1172.4 915.3L1192.4 947.3L1212.4 980.5L1242.8 1032.4L1234.1 1033.1L1221.7 1034.5L1213.8 1035.7L1202.3 1037.7L1187.6 1040.8L1157.3 1047.7L1122.3 1055.3L1103.8 1058.9L1095.3 1060.2L1086.8 1061.1L1077.6 1061.7L1068.7 1061.8L1057.3 1061.6L1024.6 1060.2L986.7 1059.5L977.5 1059L968.8 1058.2L958.5 1056.8L948.8 1055.1L914 1048L899.7 1045.3L886.3 1043.2L851.8 1038.7L840.4 1036.6L833.4 1035Z" fill="#00d90e"/><path d="M847.8 1012.8L845.7 1012.3L856.5 999.7L869.2 984.3L881.8 968.4L894.3 951.9L906.8 934.9L919.3 917.3L931.7 899.1L944.1 880.5L966.4 845.6L988.6 809L1010.8 770.7L1023.1 748.7L1035.4 726.2L1050.2 747.3L1065 767.6L1112.3 829.8L1127.3 849.9L1139.8 867.1L1152.4 885.1L1169.9 911.4L1189.9 943.2L1209.9 976.3L1234 1017.3L1224.9 1017.8L1211.9 1018.9L1199.3 1020.3L1183.1 1022.4L1159.6 1026.1L1109.8 1035L1097.9 1036.9L1089.5 1037.8L1080.9 1038.5L1065.9 1038.8L1051.2 1038.2L1015.9 1036L982 1034.5L972 1033.7L960.3 1032.5L952.2 1031.4L939.7 1029.4L896.4 1021.3L860.4 1015.3L849.2 1013.1Z" fill="#00ef06"/><path d="M867.9 994.2L862 993.1L874.2 978L884.3 965.2L904.3 938.3L924.3 910.1L934.2 895.5L946.6 876.7L968.8 841.6L991 804.8L1013.2 766.4L1035.4 726.2L1050.2 747.3L1065 767.6L1112.3 829.8L1127.3 849.9L1139.8 867.1L1152.4 885.1L1167.4 907.6L1184.9 935.1L1204.9 967.9L1225.2 1002.3L1197.4 1003.5L1179.6 1004.7L1166.6 1005.8L1153.9 1007.1L1141.6 1008.6L1104.5 1014.4L1091.6 1016.2L1080 1017.1L1071.6 1017.4L1064.6 1017.3L1050.6 1016.7L1016.1 1014.3L982.6 1012.4L971.6 1011.6L960.9 1010.5L948.6 1008.9L933.1 1006.4L869.5 994.5Z" fill="#11ff00"/><path d="M883.9 976.1L876.8 974.8L894.3 951.9L914.3 924.4L934.2 895.5L954 865.2L973.8 833.6L993.5 800.7L1013.2 766.4L1035.4 726.2L1047.7 743.8L1060.1 760.9L1075 780.8L1122.3 843.1L1137.3 863.6L1149.8 881.4L1164.9 903.8L1179.9 927.1L1197.4 955.5L1216.3 987.2L1177.1 987.5L1153.5 988.3L1144.5 988.9L1131.7 990.1L1099.1 994.3L1086.4 995.6L1072.7 996.4L1058.4 996.2L1017.6 993.8L981.1 991.8L972.3 991.1L959.5 989.8L947.4 988.2L931.9 985.7L917 982.8L884.2 976.2Z" fill="#49ff00"/><path d="M894.8 958.1L890.4 957.1L909.3 931.4L926.8 906.5L944.1 880.5L961.4 853.5L978.7 825.5L998.4 792.2L1015.7 762L1035.4 726.2L1047.7 743.8L1062.6 764.2L1119.8 839.8L1132.3 856.7L1144.8 874.2L1159.9 896.2L1174.9 919.2L1189.9 943.2L1207.4 972L1165.1 970.7L1145.1 970.6L1135.7 971L1126.7 971.5L1093.4 974.6L1078.9 975.6L1064.6 975.9L1054.4 975.8L1043.7 975.4L987 972.6L973.8 971.7L961 970.4L948.9 968.8L933.5 966.3L918.8 963.4L897.5 958.7Z" fill="#81ff00"/><path d="M907.4 941.1L903.1 940L919.3 917.3L936.7 891.7L951.5 869.1L968.8 841.6L983.7 817.3L1000.9 788L1018.2 757.6L1035.4 726.2L1047.7 743.8L1062.6 764.2L1077.4 784L1117.3 836.4L1129.8 853.3L1142.3 870.7L1154.9 888.7L1169.9 911.4L1182.4 931.1L1198.2 956.8L1158.5 954.1L1147.6 953.6L1137.3 953.4L1127.5 953.5L1118.2 953.8L1083.3 956L1063.3 956.6L1053.4 956.6L1037.9 956.4L1005.2 955.1L991.6 954.3L978.5 953.3L965.8 952L953.7 950.5L934.6 947.2L923.8 945L909.9 941.7Z" fill="#b9ff00"/><path d="M921.6 925.1L915.1 923.3L929.2 902.8L944.1 880.5L959 857.4L973.8 833.6L988.6 809L1003.4 783.7L1018.2 757.6L1035.4 726.2L1047.7 743.8L1062.6 764.2L1077.4 784L1117.3 836.4L1139.8 867.1L1152.4 885.1L1162.4 900L1174.9 919.2L1188.8 941.4L1152.5 937.8L1141.1 937.1L1130.4 936.6L1120.3 936.6L1110.6 936.7L1073.7 938.4L1049.7 938.8L1026.7 938.5L1003.8 937.4L982 935.6L969.6 934.2L957.7 932.6L950 931.3L939 929.2L921.6 925.1Z" fill="#f0ff00"/><path d="M927.8 907.4L926.4 907L941.6 884.3L956.5 861.3L971.3 837.6L988.6 809L1010.8 770.7L1023.1 748.7L1035.4 726.2L1047.7 743.8L1062.6 764.2L1077.4 784L1114.8 833.1L1137.3 863.6L1147.3 877.8L1157.4 892.4L1167.4 907.6L1179.1 925.9L1147 921.9L1135.2 920.9L1124.2 920.4L1113.9 920.1L1104.1 920.2L1062.2 921.8L1047.8 922.1L1028.3 921.9L1010.1 920.9L997.1 919.9L984.6 918.6L964.8 915.8L957.3 914.5L946.4 912.2L939.5 910.6L929.6 907.9Z" fill="#ffdc00"/><path d="M945.7 893.5L937.2 890.9L949.1 872.9L961.4 853.5L973.8 833.6L986.1 813.2L998.4 792.2L1010.8 770.7L1023.1 748.7L1035.4 726.2L1050.2 747.3L1065 767.6L1114.8 833.1L1132.3 856.7L1142.3 870.7L1152.4 885.1L1169 910.1L1148.6 907.1L1135.9 905.7L1124.2 904.7L1113.5 904.3L1103.4 904.2L1093.7 904.3L1061.4 905.7L1047.1 906L1029.1 905.8L1015.4 905.1L1006.8 904.4L994.3 903L978.6 900.7L967.4 898.7L960.2 897.2L946.7 893.8Z" fill="#ffad00"/><path d="M955.4 877.9L947.6 875.1L968.8 841.6L991 804.8L1013.2 766.4L1035.4 726.2L1050.2 747.3L1065 767.6L1112.3 829.8L1129.8 853.3L1144.8 874.2L1158.5 894.2L1144.3 891.9L1131.1 890.1L1125.1 889.5L1113.8 888.8L1103.3 888.5L1093.6 888.6L1059.1 890L1043.6 890.3L1029.2 890.1L1015.8 889.3L999.2 887.4L983.9 885L969.7 881.9L956.6 878.3Z" fill="#ff7e00"/><path d="M967.8 863.7L963 861.9L957.6 859.5L976.3 829.6L996 796.4L1015.7 762L1035.4 726.2L1047.7 743.8L1060.1 760.9L1075 780.8L1119.8 839.8L1134.8 860.2L1147.4 877.9L1133.1 875.5L1126.5 874.7L1120.3 874L1109 873.3L1098.7 873.1L1091 873.2L1061.6 874.5L1047.4 874.9L1033.7 874.7L1020.1 874L1007.6 872.7L999.8 871.5L992.3 870.2L981.7 867.9L975.1 866.1L968.9 864.1Z" fill="#ff4e00"/><path d="M983.1 851.1L974.8 848.1L969.6 845.5L967.3 844.1L983.7 817.3L1000.9 788L1018.2 757.6L1035.4 726.2L1047.7 743.8L1062.6 764.2L1077.4 784L1114.8 833.1L1135.6 861.3L1121.8 859.2L1115.6 858.5L1104.4 857.9L1089.6 857.9L1062 859.1L1047.8 859.5L1038 859.4L1028.8 859L1015.9 857.9L1004.1 856.2L993.4 854L983.5 851.3Z" fill="#ff1f00"/><path d="M985.1 833.9L981 831.9L976.6 828.9L991 804.8L1005.8 779.4L1020.6 753.2L1035.4 726.2L1050.2 747.3L1065 767.6L1123.2 844.4L1116.5 843.4L1110.5 842.9L1099.6 842.4L1085.1 842.6L1052.5 844L1038.1 844L1028.6 843.5L1016.2 842.2L1004.9 840.2L994.9 837.6L988.8 835.6L986 834.4Z" fill="#f80000"/><path d="M1003.6 823.1L997.2 820.8L992 818.4L987.6 815.5L985.7 813.8L998.4 792.2L1010.8 770.7L1023.1 748.7L1035.4 726.2L1047.7 743.8L1062.6 764.2L1077.4 784L1110.3 827.2L1104.5 826.8L1094.2 826.5L1085.2 826.8L1057.6 828.3L1047.3 828.5L1038 828.3L1028.9 827.7L1020.7 826.8L1013.2 825.5L1006.3 823.9Z" fill="#e20000"/><path d="M1005.8 806.1L1003 804.8L998.3 802.1L996.3 800.6L994.5 798.9L1015.7 762L1035.4 726.2L1047.7 743.8L1060.1 760.9L1075 780.8L1097.2 809.9L1086.9 810.3L1066.1 811.8L1057.2 812.3L1048 812.6L1042.6 812.5L1034 812L1025.8 811.2L1018.3 809.8L1014.9 809L1008.6 807.1Z" fill="#cc0000"/><path d="M1019.7 792.7L1014.7 791L1009.4 788.6L1007.1 787.2L1003.1 784.1L1018.2 757.6L1035.4 726.2L1045.3 740.3L1057.6 757.5L1084 792.6L1072.3 794.3L1064.1 795.2L1055.4 795.8L1049.8 796L1040.6 795.9L1035.8 795.5L1027.8 794.5L1020.8 793Z" fill="#b60000"/><path d="M1029 776.8L1024.3 775.6L1018.6 773.4L1016 772.2L1011.5 769.4L1035.4 726.2L1052.7 750.7L1071 775.5L1067.6 776.3L1060.2 777.6L1051.8 778.4L1047.2 778.5L1042 778.4L1036.2 778L1031.1 777.2Z" fill="#a00000"/><path d="M1026.8 757.5L1022.4 755.9L1019.7 754.8L1035.4 726.2L1045.3 740.3L1058.4 758.6L1054.8 759.3L1050.9 759.8L1044 760.1L1039.4 759.9L1035.3 759.5L1028.3 758Z" fill="#8b0000"/><path d="M1028.7 740.5L1027.7 740.3L1035.4 726.2L1046.4 742L1039.1 742L1034.9 741.6L1031.2 741Z" fill="#820000"/></g><path d="M1021.3 1227.7L1032.5 1224.3L1039.1 1221.8L1045.8 1219.1L1059 1213.1L1072.1 1206.3L1082.9 1200.3L1095.8 1192.6L1144.6 1162.2L1165.3 1149.7L1189.9 1136L1230 1114.8L1237.9 1110.4L1243.8 1106.7L1247.8 1104L1251.7 1101L1255.7 1097.7L1259.7 1094L1263.7 1089.8L1267.7 1085.2L1271.7 1080.1M1049.5 1235.2L1038.3 1225.7L1025 1214.6L1014 1205.7L1000.8 1195.3L976.9 1177.2L964 1167.9L951.1 1158.8L936.3 1148.8L927.8 1143.5L921.5 1139.8L911.1 1134.1L884.3 1120.1L878.2 1116.6L870.1 1111.6L861.9 1106.3L853.8 1100.7L825.7 1080.3L815.8 1073.3L805.9 1066.7L798.1 1061.8M1007.3 1216.3L1014 1214.3L1020.7 1211.9L1027.4 1209.4L1036.2 1205.7L1042.8 1202.7L1051.6 1198.4L1060.3 1193.9L1069 1189.1L1079.8 1182.8L1092.6 1174.9L1130.7 1150.2L1145.3 1141L1190.3 1114L1214.4 1099.2L1222.4 1094L1228.4 1089.8L1234.4 1085.1L1238.4 1081.6L1244.4 1075.9L1248.4 1071.5L1254.5 1064.2L1258.5 1058.8M1063.4 1229.7L1043.4 1212.6L1021.4 1194.9L997.4 1176.6L965.2 1152.9L950.3 1142.5L937.7 1134.5L927.2 1128.7L906.6 1118.4L898.4 1114.1L892.3 1110.5L884.1 1105.2L876 1099.4L865.8 1091.5L837.6 1068.2L827.6 1060.2L819.6 1054.1L811.7 1048.6M993.3 1205.4L1000.1 1203.2L1009 1200L1017.9 1196.5L1026.7 1192.7L1035.5 1188.7L1044.3 1184.4L1052.9 1179.8L1061.6 1175L1072.3 1168.6L1083 1161.8L1093.7 1154.7L1127.4 1131.5L1168.6 1104.7L1182.8 1095L1199 1083.5L1209 1075.9L1217 1069.2L1225.1 1061.7L1231.1 1055.2L1235.2 1050.5L1239.2 1045.3L1245.4 1036.7M1077.3 1223.2L1068.4 1215.4L1059.5 1207.9L1050.7 1200.7L1039.7 1192L1022.2 1178.8L972.7 1142L964.3 1135.8L953.7 1128.6L945.3 1123.4L937 1118.7L918.4 1108.8L910.2 1104L904.1 1100.1L895.9 1094.3L887.7 1088L879.6 1081.3L869.5 1072.5L843.2 1049.3L833.3 1040.9L825.3 1034.7M979.5 1194.9L995.2 1189.3L1008.5 1184L1021.7 1178.3L1032.7 1173.1L1045.7 1166.3L1056.4 1160.1L1067.1 1153.2L1077.8 1145.9L1111.6 1120.9L1142.7 1099.1L1155 1090.3L1171.3 1077.7L1189.6 1062.8L1197.7 1055.7L1203.7 1049.9L1209.8 1043.7L1213.8 1039.1L1219.9 1031.7L1224 1026.4L1228.1 1020.6L1232.2 1014.3M1091 1215.9L1084.3 1209.9L1075.5 1202.4L1060 1190.1L1044.7 1178.5L1007.9 1151.6L971.7 1123.8L963.3 1117.8L957 1113.6L932.2 1098.3L923.9 1093L917.8 1088.7L909.6 1082.6L901.4 1076L891.2 1067.2L881.1 1058.1L852.8 1032.2L838.8 1020M965.8 1184.9L988.2 1176.3L1001.4 1171L1014.6 1165.2L1025.5 1159.9L1036.3 1154.1L1047.1 1147.6L1055.6 1141.9L1066.3 1134.1L1097.9 1108.9L1129.1 1085.2L1141.5 1075.5L1157.9 1061.7L1174.2 1047L1182.3 1039.2L1188.4 1032.9L1194.5 1026.2L1198.6 1021.3L1204.7 1013.5L1208.8 1007.8L1215 998.6L1219.1 991.8M1104.6 1208L1098 1202L1091.3 1196.3L1084.7 1190.9L1075.9 1184L1062.7 1174.2L1034.5 1154L1023.7 1146.1L1010.9 1136.1L987.5 1117.1L977 1108.8L966.5 1101L939.6 1081.9L931.3 1075.7L925.2 1070.8L912.9 1060.5L900.7 1049.7L852.2 1004.7M952.2 1175.2L981.2 1163.6L992.2 1159L1003.2 1154.2L1014.1 1148.8L1024.9 1142.9L1035.6 1136.2L1044.2 1130.2L1054.8 1121.9L1063.3 1114.9L1086.5 1095.2L1113.6 1072.6L1126 1062L1136.2 1052.9L1144.5 1045.4L1152.6 1037.6L1160.8 1029.6L1166.9 1023.3L1173.1 1016.6L1179.2 1009.5L1185.3 1001.7L1191.5 993.2L1195.6 987L1201.8 977L1206 969.7M1118.2 1199.7L1111.5 1193.7L1104.9 1188.1L1098.2 1182.6L1089.4 1175.8L1076.3 1166L1043.8 1142.6L1028.8 1131.1L1016 1120.6L986.4 1095.5L946.9 1063.4L930.4 1049.3L912.1 1032.7L891.8 1013.8L865.6 988.8M938.6 1166L967.7 1153.7L980.9 1148L994 1141.7L1004.9 1136L1015.7 1129.6L1026.4 1122.4L1037.1 1114.4L1047.7 1105.6L1058.3 1096.3L1070.9 1084.9L1120.8 1038.6L1137.3 1022.8L1145.4 1014.5L1151.6 1008L1157.7 1001.1L1163.9 993.7L1170 985.6L1174.1 979.8L1180.3 970.3L1184.5 963.4L1188.6 955.9L1192.8 947.9M1131.6 1191.3L1120.5 1181.5L1107.3 1170.6L1091.9 1158.8L1063.7 1137.9L1050.8 1128.1L1038 1117.8L1023.1 1105.2L976.9 1064.2L950 1039.8L919.3 1011L878.9 972.1M925.2 1157L949.8 1146.3L965.3 1139.1L978.4 1132.4L991.5 1125.2L998 1121.2L1004.4 1117L1015.1 1109.5L1021.5 1104.6L1027.9 1099.4L1040.6 1088.4L1049.1 1080.6L1059.6 1070.4L1095.1 1034.4L1121.9 1008L1134.2 995.2L1142.4 986.1L1148.5 978.5L1152.7 973.1L1158.8 964.3L1163 957.9L1167.1 951L1171.3 943.5L1175.4 935.4L1179.6 926.7M1144.9 1182.9L1131.7 1171.2L1116.3 1158.4L1101 1146.2L1068.5 1120.7L1055.7 1110.4L1040.8 1097.8L1025.9 1084.6L1009.1 1069.1L990.3 1051.1L971.6 1032.8L920.4 982.1L892.1 954.9M911.9 1148.4L920.9 1144.7L929.8 1140.8L945.4 1133.4L954.2 1128.8L960.7 1125.1L969.5 1120L976 1116L984.6 1110.3L991.1 1105.8L1003.9 1096.2L1012.5 1089.4L1018.8 1084L1031.5 1072.4L1039.9 1064.1L1048.3 1055.4L1083.8 1016.6L1108.6 991.2L1116.8 982.6L1125.1 973.5L1131.2 966.1L1137.4 958L1141.5 952.2L1145.6 945.9L1149.7 939.2L1153.9 931.9L1158.1 924L1162.2 915.4L1166.5 906.2M1158.2 1174.6L1144.9 1163L1129.5 1149.8L1081.8 1109.7L1066.9 1096.9L1049.9 1081.9L1035.1 1068.3L1018.3 1052.1L1001.6 1035.2L984.9 1018L949.9 981.1L933.6 964.3L919.4 950.2L905.3 937M898.6 1140.1L905.4 1137.8L912.2 1135.3L918.9 1132.4L925.5 1129.2L932.2 1125.8L938.8 1122.1L945.3 1118.1L954.1 1112.4L962.7 1106.4L971.4 1100L980 1093.4L988.5 1086.4L997.1 1079.2L1005.6 1071.7L1014 1063.9L1020.4 1057.7L1028.8 1049L1037.2 1039.8L1064.3 1008.4L1072.6 999.1L1101.6 967.8L1109.8 958.4L1118 948.2L1124.2 939.8L1128.3 933.7L1132.4 927.2L1136.6 920.2L1140.7 912.7L1144.9 904.6L1149.1 895.9L1153.3 886.4M1171.3 1166.8L1116.6 1118.2L1090.8 1094.9L1069.5 1075.1L1050.5 1056.7L1029.4 1035.7L1008.6 1013.9L994.1 998.1L961.1 961.4L946.7 946L932.5 931.6L924.4 924L918.4 918.6M885.5 1132L890.1 1131.1L896.8 1129.2L901.3 1127.6L908 1124.9L914.7 1121.6L921.3 1117.8L927.9 1113.7L934.4 1109.2L940.9 1104.4L949.6 1097.6L958.2 1090.4L966.8 1082.9L979.6 1071.3L990.2 1061.4L998.7 1053.1L1007.1 1044.6L1015.6 1035.6L1026 1023.8L1057.3 986.8L1082.2 958L1094.6 943L1102.8 932.4L1109 923.8L1113.1 917.7L1119.3 907.8L1123.4 900.8L1127.6 893.3L1131.7 885.3L1135.9 876.7L1140.1 867.5M1184.3 1159.5L1153.6 1131.4L1129.8 1109L1108.3 1088.3L1089.1 1069L1034.3 1011.6L1019.7 996L1005.2 979.7L972.2 941.1L957.8 925.1L949.7 916.5L943.6 910.5L937.5 904.8L931.5 899.5M872.5 1124.2L877.1 1123.7L883.9 1122.3L888.4 1120.9L895 1118.3L899.5 1116.1L906.1 1112.4L912.7 1108.2L919.2 1103.4L925.7 1098.2L932.2 1092.7L938.7 1086.9L947.3 1078.8L972.8 1053.3L983.4 1042.4L994 1031.2L1002.4 1021.9L1012.9 1009.9L1033.8 984.8L1062.8 948.7L1073.2 935.3L1083.5 921.5L1089.7 912.9L1095.9 903.9L1102 894.4L1106.2 887.7L1112.4 877.1L1116.5 869.7L1122.7 857.8L1126.9 849.3M1197.2 1152.7L1173.1 1129.8L1151.4 1108.6L1132.1 1089L1115 1071L1102.2 1056.9L1070.5 1020.9L1039.1 986.9L1028.7 975.2L1016.3 960.4L985.3 922L977.1 912.2L970.9 905.2L962.8 896.4L956.7 890.4L950.6 884.8L944.5 879.9M859.6 1116.6L864.2 1116.2L868.7 1115.4L873.2 1114.3L879.9 1111.8L884.4 1109.7L891 1106L897.6 1101.7L904.1 1096.8L910.6 1091.4L917.1 1085.6L923.5 1079.4L930 1073L938.5 1064.1L951.3 1050.4L974.6 1024.8L993.5 1003L1012.3 980.3L1029 959L1045.6 936.6L1055.9 922L1066.2 907.1L1076.6 891.9L1084.8 879.4L1099.3 856.5L1107.5 842.6L1113.8 831.7M1210 1146.3L1188.2 1124.5L1168.7 1104.4L1151.5 1086.1L1134.4 1067.1L1119.5 1049.8L1083.7 1006.6L1054.3 973.3L1041.8 958.5L1029.4 942.6L1000.4 903.8L992.2 893.4L986 886L977.8 876.9L971.7 870.8L967.7 867.2L963.6 863.9L957.5 859.7M846.8 1109.2L851.4 1108.5L855.9 1107.4L860.4 1105.9L867.1 1103.1L871.5 1100.8L878.1 1096.8L882.5 1093.8L889 1088.9L893.4 1085.3L899.9 1079.5L906.3 1073.3L912.8 1066.8L919.2 1060.1L927.7 1050.7L946.8 1028.9L967.8 1003.9L986.7 980.9L1001.3 962.2L1013.8 945.3L1022.1 933.4L1032.5 917.9L1063.5 869.7L1078 847.6L1090.3 829.2L1100.6 814.4M1222.6 1140.3L1207.4 1124.3L1192.3 1107.7L1177.2 1090.8L1160.1 1071L1136.8 1042.9L1098.8 995.7L1069.5 960.1L1061.2 949.6L1052.9 938.6L1042.5 923.8L1023.8 896.3L1015.6 884.4L1007.3 873.2L999.1 862.9L995 858.2L990.9 853.9L984.7 848.1L980.7 844.8L976.6 842.1L972.6 839.8L970.5 838.9M834.1 1102L838.6 1100.6L843.1 1099L847.6 1097L854.3 1093.6L858.7 1091L865.3 1086.6L869.7 1083.4L876.2 1078.2L880.5 1074.4L887 1068.5L893.4 1062.2L899.9 1055.6L912.6 1041.6L929.6 1021.7L946.4 1000.9L967.4 974.2L982 955L992.4 940.7L1002.8 925.5L1011.1 912.5L1019.4 899L1044.2 857.7L1052.5 844.4L1058.7 834.9L1067 822.9L1073.1 814.4L1081.4 804.2L1087.5 797.3M1235.2 1134.7L1224.3 1122.5L1213.6 1110L1200.7 1094.5L1187.9 1078.7L1139.1 1017.1L1099.3 966.1L1086.7 949.8L1076.3 935.7L1068 923.7L1059.7 911L1039 877.9L1030.7 865L1022.4 852.9L1014.2 841.9L1010.1 837L1006 832.5L1001.8 828.5L997.8 825L993.7 822.1L989.6 819.7L985.5 818.1L983.5 817.5M821.5 1094.9L826 1092.8L832.7 1089.2L837.1 1086.6L843.7 1082.2L848.1 1079.1L854.7 1074.1L865.5 1065L876.3 1054.9L882.8 1048.4L889.2 1041.6L901.9 1027.3L916.7 1009.5L933.5 988L954.4 960.1L969 940L981.5 921.8L989.8 908.9L998.1 895.3L1024.9 848.2L1033.2 834.1L1041.5 820.8L1047.7 811.4L1055.9 800L1062.1 792.4L1068.3 785.7L1074.4 780.1M1247.6 1129.2L1232.6 1110.8L1217.6 1091.4L1171 1028.5L1124.8 967.7L1114.3 953.7L1103.9 939.3L1093.5 924.4L1083.1 908.6L1072.8 891.8L1054.1 860.2L1045.9 846.6L1037.6 833.7L1033.4 827.7L1029.3 822.1L1025.2 816.9L1021.1 812.1L1016.9 807.8L1012.8 804L1008.7 800.9L1004.6 798.4L1000.6 796.6L996.5 795.6M809 1088L820.1 1080.5L826.7 1075.6L833.3 1070.5L839.8 1065.1L846.3 1059.4L852.8 1053.5L859.3 1047.4L870 1036.5L882.8 1022.6L895.5 1007.7L908.1 991.9L924.9 969.6L943.6 943.6L956.1 925.7L968.5 906.9L976.8 893.6L985.1 879.6L1009.9 835.2L1018.1 820.7L1026.4 806.9L1034.6 794.1L1038.8 788.1L1042.9 782.5L1049.1 774.9L1055.2 768.2L1061.4 762.6M1260 1122.7L1247.2 1105.8L1234.5 1088L1221.8 1069.7L1194.4 1029.4L1179.7 1008.2L1167.1 990.7L1135.7 947.9L1125.2 933.1L1116.9 921.1L1104.5 902.2L1094.1 885.7L1085.8 871.9L1067.2 840.1L1058.9 826.4L1050.6 813.5L1044.4 804.6L1038.2 796.4L1034.1 791.5L1030 787L1025.9 783L1021.7 779.6L1017.6 776.8L1013.5 774.5L1009.5 773M796.6 1081.1L811.9 1068.4L825 1056.8L838 1044.6L850.9 1031.6L863.7 1017.8L876.4 1003.2L889 987.7L901.6 971.3L914.1 954.2L928.7 933.7L941.2 915.6L951.5 900L961.9 883.6L970.1 869.9L978.4 855.7L1005.1 808.6L1013.4 794.6L1019.6 784.6L1027.8 771.8L1034 762.9L1042.2 752L1048.4 744.7M1272.4 1113.7L1259.7 1095.5L1247.1 1076.5L1234.5 1056.8L1205.2 1010.2L1188.5 984.5L1173.8 962.8L1138.3 911.4L1117.5 880.3L1105.1 861L1078.1 818.2L1069.9 805.4L1063.7 796.3L1057.5 787.5L1051.3 779.2L1045.1 771.5L1040.9 766.8L1034.7 760.3L1030.6 756.4L1026.5 752.9L1022.4 749.9" fill="none" stroke="#000" stroke-width="1.5"/><path d="M1035.4 1239.6L1024.7 1230.5L1011.3 1219.6L998.1 1209.1L984.9 1199L971.8 1189.3L956.2 1178.1L943.3 1169.2L928 1158.9L912.8 1149L897.7 1139.5L882.8 1130.4L865.5 1120.1L831.6 1100.6L784.3 1074.3L797.4 1062.5L813 1047.4L828.4 1031.4L843.8 1014.5L859.1 996.7L874.2 978L889.3 958.6L906.8 934.9L921.8 913.7L939.2 888L954 865.2L971.3 837.6L986.1 813.2L1003.4 783.7L1018.2 757.6L1035.4 726.2L1050.2 747.3L1065 767.6L1079.9 787.3L1112.3 829.8L1129.8 853.3L1144.8 874.2L1159.9 896.2L1174.9 919.2L1192.4 947.3L1212.4 980.5L1244.8 1035.8L1257.3 1056.8L1272.4 1081.2L1285 1100.5L1282.6 1103.4L1277.8 1108.6L1275.4 1111L1270.7 1115.2L1263.6 1120.4L1256.5 1124.7L1247.1 1129.4L1225.8 1138.9L1211.4 1145.6L1196.8 1152.9L1182.1 1160.7L1172.2 1166.3L1159.7 1173.7L1119.2 1199.1L1106.4 1206.9L1093.5 1214.5L1080.4 1221.5L1067.3 1227.9L1056.8 1232.5L1046.1 1236.4L1035.4 1239.6Z" fill="none" stroke="#000" stroke-width="1.8" stroke-linejoin="round"/><path d="M786.6 1113.9L769.1 816.5M786.6 1113.9L1035.4 1277.9M1035.4 1277.9L1284.2 1113.9M784.2 1073.9L789 1071.1M781.8 1033L786.7 1030.3M779.4 991.4L784.3 988.7M776.9 949L781.8 946.3M774.3 905.7L779.3 903.1M771.7 861.6L776.8 859M769.1 816.5L774.2 814M1035.4 1277.9L1040.2 1274.7M997.7 1253L1002.5 1249.9M960.8 1228.7L965.6 1225.7M924.6 1204.9L929.4 1201.9M889.1 1181.5L893.9 1178.6M854.3 1158.5L859.1 1155.7M820.1 1136L824.9 1133.2M786.6 1113.9L791.4 1111.2M1035.4 1277.9L1030.6 1274.7M1061.8 1260.4L1057.1 1257.3M1087.9 1243.2L1083.1 1240.2M1113.6 1226.3L1108.9 1223.3M1139 1209.6L1134.2 1206.6M1164 1193.1L1159.3 1190.2M1188.7 1176.8L1183.9 1173.9M1213.1 1160.8L1208.3 1157.9M1237.1 1145L1232.3 1142.2M1260.8 1129.4L1256 1126.6M1284.2 1113.9L1279.4 1111.2" fill="none" stroke="#000" stroke-width="1.7" stroke-linecap="square"/><g><text transform="matrix(0.8093 -0.4375 0.0589 0.9983 772.53 1087.88)" font-size="13.5" text-anchor="end">100</text><text transform="matrix(0.8093 -0.4375 0.0589 0.9983 770.12 1047.04)" font-size="13.5" text-anchor="end">200</text><text transform="matrix(0.8093 -0.4375 0.0589 0.9983 767.67 1005.42)" font-size="13.5" text-anchor="end">300</text><text transform="matrix(0.8093 -0.4375 0.0589 0.9983 765.16 962.98)" font-size="13.5" text-anchor="end">400</text><text transform="matrix(0.8093 -0.4375 0.0589 0.9983 762.61 919.70)" font-size="13.5" text-anchor="end">500</text><text transform="matrix(0.8093 -0.4375 0.0589 0.9983 760.01 875.55)" font-size="13.5" text-anchor="end">600</text><text transform="matrix(0.8093 -0.4375 0.0589 0.9983 757.35 830.52)" font-size="13.5" text-anchor="end">700</text><text transform="matrix(0.7683 0.5061 -0.8351 0.5501 1010.40 1293.55)" font-size="13.5" text-anchor="middle">0</text><text transform="matrix(0.7683 0.5061 -0.8351 0.5501 972.73 1268.74)" font-size="13.5" text-anchor="middle">10</text><text transform="matrix(0.7683 0.5061 -0.8351 0.5501 935.80 1244.41)" font-size="13.5" text-anchor="middle">20</text><text transform="matrix(0.7683 0.5061 -0.8351 0.5501 899.60 1220.56)" font-size="13.5" text-anchor="middle">30</text><text transform="matrix(0.7683 0.5061 -0.8351 0.5501 864.10 1197.17)" font-size="13.5" text-anchor="middle">40</text><text transform="matrix(0.7683 0.5061 -0.8351 0.5501 829.27 1174.23)" font-size="13.5" text-anchor="middle">50</text><text transform="matrix(0.7683 0.5061 -0.8351 0.5501 795.11 1151.73)" font-size="13.5" text-anchor="middle">60</text><text transform="matrix(0.7683 0.5061 -0.8351 0.5501 761.60 1129.65)" font-size="13.5" text-anchor="middle">70</text><text transform="matrix(0.7683 0.5061 -0.8351 0.5501 1039.00 1289.85)" font-size="13.5" text-anchor="start">30</text><text transform="matrix(0.7683 0.5061 -0.8351 0.5501 1065.45 1272.43)" font-size="13.5" text-anchor="start">40</text><text transform="matrix(0.7683 0.5061 -0.8351 0.5501 1091.53 1255.25)" font-size="13.5" text-anchor="start">50</text><text transform="matrix(0.7683 0.5061 -0.8351 0.5501 1117.25 1238.30)" font-size="13.5" text-anchor="start">60</text><text transform="matrix(0.7683 0.5061 -0.8351 0.5501 1142.62 1221.59)" font-size="13.5" text-anchor="start">70</text><text transform="matrix(0.7683 0.5061 -0.8351 0.5501 1167.64 1205.11)" font-size="13.5" text-anchor="start">80</text><text transform="matrix(0.7683 0.5061 -0.8351 0.5501 1192.32 1188.85)" font-size="13.5" text-anchor="start">90</text><text transform="matrix(0.7683 0.5061 -0.8351 0.5501 1216.67 1172.81)" font-size="13.5" text-anchor="start">100</text><text transform="matrix(0.7683 0.5061 -0.8351 0.5501 1240.70 1156.98)" font-size="13.5" text-anchor="start">110</text><text transform="matrix(0.7683 0.5061 -0.8351 0.5501 1264.41 1141.36)" font-size="13.5" text-anchor="start">120</text><text transform="matrix(0.7683 0.5061 -0.8351 0.5501 1287.80 1125.95)" font-size="13.5" text-anchor="start">130</text></g><g font-weight="bold"><text transform="matrix(0.6347 0.4181 -0.8351 0.5501 850.80 1227.50)" font-size="20" text-anchor="middle">Pretreatment time [min]</text><text transform="matrix(0.6363 -0.4192 0.8351 0.5501 1221.50 1235.50)" font-size="20" text-anchor="middle">Pretreatment pressure [PSI]</text><text transform="matrix(0.0453 0.7687 -0.8797 0.4755 719.30 992.70)" font-size="20" text-anchor="middle">Glucose concentration</text><text transform="matrix(0.0453 0.7687 -0.8797 0.4755 697.90 1011.30)" font-size="20" text-anchor="middle">[mg/g biomass of wheat straw]</text><text x="694" y="712" font-size="62">E</text></g></g><g id="panelF"><path d="M1454.8 1117.4L1437.3 820M1481.1 1102.2L1465.6 805.8M1507.1 1087.2L1493.5 791.8M1532.8 1072.4L1521 778M1558.1 1057.8L1548.2 764.4M1583.2 1043.3L1575 751M1607.9 1029.1L1601.4 737.7M1632.2 1015L1627.5 724.7M1656.3 1001.1L1653.2 711.8M1680.1 987.4L1678.6 699.1M1703.6 973.8L1703.6 686.5M1952.4 1117.4L1969.9 820M1914.9 1095.8L1929.6 799.8M1878 1074.5L1890.1 780M1841.9 1053.6L1851.3 760.6M1806.4 1033.1L1813.3 741.5M1771.5 1013L1776.1 722.8M1737.2 993.2L1739.5 704.5M1703.6 973.8L1703.6 686.5M1454.8 1117.4L1703.6 973.8M1703.6 973.8L1952.4 1117.4M1452.4 1077.4L1703.6 935M1703.6 935L1954.8 1077.4M1450 1036.5L1703.6 895.4M1703.6 895.4L1957.2 1036.5M1447.6 994.9L1703.6 855.1M1703.6 855.1L1959.6 994.9M1445.1 952.5L1703.6 814.1M1703.6 814.1L1962.1 952.5M1442.5 909.2L1703.6 772.4M1703.6 772.4L1964.7 909.2M1439.9 865.1L1703.6 729.8M1703.6 729.8L1967.3 865.1M1437.3 820L1703.6 686.5M1703.6 686.5L1969.9 820M1703.6 1281.4L1454.8 1117.4M1730 1263.9L1481.1 1102.2M1756.1 1246.7L1507.1 1087.2M1781.8 1229.8L1532.8 1072.4M1807.2 1213.1L1558.1 1057.8M1832.2 1196.6L1583.2 1043.3M1856.9 1180.3L1607.9 1029.1M1881.3 1164.3L1632.2 1015M1905.3 1148.5L1656.3 1001.1M1929 1132.9L1680.1 987.4M1952.4 1117.4L1703.6 973.8M1703.6 1281.4L1952.4 1117.4M1665.9 1256.5L1914.9 1095.8M1629 1232.2L1878 1074.5M1592.8 1208.4L1841.9 1053.6M1557.3 1185L1806.4 1033.1M1522.5 1162L1771.5 1013M1488.3 1139.5L1737.2 993.2M1454.8 1117.4L1703.6 973.8" fill="none" stroke="#d2d2d2" stroke-width="1.5"/><g fill="none" stroke-width="1.3"><path d="M1935.6 1107.7L1934.1 1109.7L1932.2 1111.5L1927.6 1114.6L1925.1 1116L1916.5 1119.7L1908.8 1124L1901.7 1128.6L1890.8 1136.9L1881.6 1143.4L1866 1155.2L1863.9 1156.9L1856.1 1164.4L1854.4 1166.5L1849.9 1173L1848.6 1175.3L1847.5 1177.7L1845.9 1183L1844.6 1188.5" stroke="#007a21"/><path d="M1931.8 1105.5L1930.3 1107.6L1928.5 1109.4L1923.9 1112.5L1921.4 1113.9L1912.8 1117.6L1905.2 1121.8L1898.1 1126.4L1887.1 1134.8L1880.1 1139.5L1861.7 1152.6L1848.4 1162.8L1840.6 1170.4L1837.5 1174.7L1834.7 1179.3L1833.2 1182.5L1831.7 1186.8L1828.3 1199.2" stroke="#008c1b"/><path d="M1927.8 1103.3L1926.5 1105.4L1924.8 1107.2L1922.6 1108.8L1917.7 1111.8L1909.2 1115.4L1901.5 1119.7L1892.1 1125.9L1883.4 1132.6L1864.6 1145.3L1851.8 1152.7L1841.2 1158.5L1836.1 1161.6L1831.3 1164.8L1824.8 1170.1L1819.1 1176L1814.6 1182.6L1812.1 1187.4L1806.1 1202.7L1803.1 1209L1799.5 1214.8L1793.6 1222.1" stroke="#009e15"/><path d="M1455.7 1118L1455 1117.3M1923.8 1101L1922.7 1103.1L1921 1105L1918.9 1106.7L1914.1 1109.6L1905.5 1113.3L1897.8 1117.5L1888.4 1123.7L1879.7 1130.3L1862.8 1141.2L1854.7 1145.3L1836.3 1152.5L1827.4 1156.3L1819 1160.4L1811.2 1164.9L1801.4 1171.4L1780.6 1186.9L1771 1193.7L1763.3 1198.6L1757.6 1201.4L1754.3 1202.6L1750.2 1203.3L1744.2 1202.8L1741.5 1202L1738.4 1200.7L1725.5 1194.2L1717.6 1190.9L1710.8 1188.8L1704.9 1187.7L1697.7 1187.3L1694.5 1187.6L1690.6 1188.3L1687.3 1189.5L1684.6 1191L1682.3 1192.9L1680.7 1195.1L1679.8 1198.6L1680.2 1201.7L1681.2 1204.3L1682.6 1206.7L1686.2 1211L1690.3 1214.9L1697.4 1220.4L1709.9 1229.1L1714.4 1232.9L1716.4 1235L1718.2 1237.3L1719.6 1239.7L1726.2 1254.6L1729.1 1259.9L1731.2 1263.2" stroke="#00af0e"/><path d="M1695.1 1275.8L1704.8 1280.5M1919.8 1098.6L1918.7 1100.8L1917.2 1102.8L1912.8 1106L1910.3 1107.5L1901.8 1111.2L1894.1 1115.4L1884.7 1121.5L1875.9 1128.1L1863.6 1135.7L1858.2 1138.4L1850.5 1141.5L1828.6 1147.8L1818.8 1151.1L1809.5 1154.6L1785.4 1164.7L1779 1167L1772.7 1168.8L1765.3 1170.3L1760 1170.9L1753.7 1171.2L1748.7 1171.1L1738.4 1170.2L1715.3 1166.5L1705 1165.2L1693.9 1164.6L1684.1 1164.8L1675.3 1165.7L1663.2 1167.7L1651.9 1170.2L1630.4 1176L1623 1177.8L1614.8 1179.1L1610.1 1179.3L1604.4 1179L1599.9 1178.1L1593.4 1175.9L1584.9 1171.7L1566.5 1161.2L1558.1 1157.1L1549.2 1153.4L1524.7 1143.9L1518.8 1141.4L1510.5 1137.5L1500.1 1131.7L1492.9 1127.2L1488.4 1124L1482 1119L1478 1115.5L1474.2 1111.9L1470.8 1108.2" stroke="#00c108"/><path d="M1915.7 1096.3L1914.7 1098.5L1913.2 1100.5L1909 1103.8L1906.6 1105.3L1898.1 1109L1890.4 1113.2L1880.9 1119.3L1872 1125.8L1861.9 1131.7L1856.3 1134.3L1849.9 1136.5L1846.5 1137.4L1828 1141.4L1817.2 1144L1806.9 1146.9L1786.7 1153.1L1776.2 1155.9L1771 1157L1764.4 1158L1758.4 1158.5L1753.1 1158.7L1745 1158.5L1739.2 1158.1L1707.9 1154.3L1690.5 1152.9L1675 1152.7L1644.2 1154L1634 1154.1L1629.2 1153.9L1620.5 1153.1L1608.7 1151L1594.8 1147.2L1542.5 1130.3L1529.8 1126L1520.7 1122.6L1509.4 1117.5L1499.2 1111.9L1492.3 1107.2L1484.2 1100.5" stroke="#00d301"/><path d="M1911.5 1093.8L1910.6 1096.2L1909.2 1098.2L1907.3 1100L1905.2 1101.6L1902.8 1103.1L1894.4 1106.8L1886.7 1111L1877.2 1117.1L1870.5 1122L1865.5 1124.9L1860.1 1127.6L1854.3 1130.1L1851 1131.2L1843.9 1132.9L1812.8 1138.3L1785.5 1144.5L1775.9 1146.4L1763.6 1148.2L1754.5 1148.8L1749.6 1148.8L1743.6 1148.7L1732.8 1147.9L1701.9 1144.3L1690 1143.1L1673.2 1142L1650.2 1141L1636.8 1140L1624.4 1138.4L1612.9 1136.2L1598.8 1132.6L1581.9 1127.8L1552.4 1118.6L1533.5 1112.1L1521.7 1107.4L1513.4 1103.6L1505.7 1099.5L1496.3 1093.5" stroke="#1ed800"/><path d="M1907.3 1091.4L1906.4 1093.7L1905.1 1095.9L1903.4 1097.7L1898.9 1100.8L1890.6 1104.6L1882.9 1108.8L1863.9 1121L1858.4 1123.7L1852.2 1125.9L1847.9 1127L1840.9 1128.3L1812.5 1132.1L1775.2 1138.2L1760 1139.8L1747.3 1140L1738 1139.6L1728 1138.7L1690.3 1133.9L1644.9 1129L1628.7 1126.6L1613.9 1123.7L1599.6 1120.1L1586.1 1116.3L1566.5 1110.2L1550.7 1105L1538.3 1100.6L1526.5 1096L1515.4 1091L1507.6 1087" stroke="#4ad800"/><path d="M1903 1088.9L1902.1 1091.3L1900.9 1093.4L1899.2 1095.3L1895 1098.5L1886.8 1102.4L1879.1 1106.6L1862.2 1117.1L1856.5 1119.6L1852.4 1120.9L1846.3 1122.4L1838.1 1123.7L1808.5 1126.7L1777.6 1130.4L1761.7 1131.6L1750.4 1131.8L1735.6 1131L1715.4 1128.6L1639.6 1117L1628 1115L1616.4 1112.7L1606.1 1110.3L1595.8 1107.5L1569.7 1099.5L1541.8 1089.9L1529.9 1085.4L1518.4 1080.7" stroke="#76d800"/><path d="M1898.6 1086.4L1897.7 1088.7L1896.5 1090.9L1894.9 1092.8L1890.9 1096.2L1882.9 1100.1L1875.2 1104.3L1860.2 1113L1854.4 1115.4L1851 1116.4L1841.8 1118.1L1829.9 1119.4L1773.2 1123.7L1762.7 1124.1L1752.8 1124L1743.6 1123.5L1734.8 1122.8L1722.3 1121.3L1710.4 1119.4L1630.2 1104.7L1615.5 1101.7L1598 1097.4L1581.6 1092.6L1556.4 1084.3L1529.1 1074.5" stroke="#a2d800"/><path d="M1894 1083.7L1891.9 1088.2L1890.2 1090.4L1886.6 1093.6L1866 1104.7L1858 1108.7L1854.1 1110.3L1848.4 1111.9L1840.7 1113.2L1833.5 1114L1811.4 1115.4L1773.9 1117.1L1763.9 1117.1L1754.4 1116.8L1736.9 1115.3L1724.6 1113.7L1712.9 1111.7L1697.8 1108.8L1655.1 1099.8L1616.7 1092.2L1599.4 1087.9L1585 1083.7L1567.3 1077.9L1539.9 1068.3" stroke="#ced800"/><path d="M1889.3 1081L1887.1 1085.4L1885.6 1087.4L1881.9 1090.9L1879.5 1092.4L1861.3 1101.9L1855.5 1104.3L1849 1106.4L1843.6 1107.5L1837.3 1108.4L1828.9 1109.1L1815.1 1109.9L1783.7 1110.9L1769 1110.8L1759.7 1110.4L1750.8 1109.8L1738.2 1108.3L1726.2 1106.6L1714.7 1104.5L1692.6 1099.9L1656.5 1091.5L1617.2 1083.1L1602.8 1079.5L1587.1 1074.9L1571.7 1069.6L1551.1 1061.8" stroke="#d8bc00"/><path d="M1884.4 1078.2L1882 1082.5L1880.5 1084.4L1876.8 1088L1874.5 1089.5L1866.9 1093.7L1858.7 1097.5L1852.6 1099.7L1845.8 1101.6L1838.2 1102.9L1829.8 1103.8L1807.2 1105.1L1793 1105.4L1782.5 1105.4L1764 1104.7L1751.1 1103.5L1738.8 1101.9L1727.1 1100L1712 1097.1L1694 1093.1L1659.9 1084.5L1620.8 1075.2L1604 1070.7L1588.4 1065.6L1573.9 1059.9L1563.2 1054.9" stroke="#d89700"/><path d="M1879.3 1075.2L1876.7 1079.4L1873.2 1083.1L1871.3 1084.8L1866.5 1087.7L1861.3 1090.4L1855.6 1092.8L1849.3 1094.9L1842.3 1096.6L1834.6 1097.9L1826.3 1098.8L1813.1 1099.8L1800.6 1100.3L1790.5 1100.4L1781 1100.2L1763.1 1099L1750.7 1097.6L1738.9 1095.7L1723.7 1093L1709 1089.9L1684.6 1083.9L1631 1069.1L1611.7 1063.4L1602.5 1060.2L1596.7 1057.9L1591.2 1055.4L1586.1 1052.8L1581.4 1049.9L1577.2 1046.8" stroke="#d87200"/><path d="M1873.9 1072.1L1871 1076.1L1869.3 1077.9L1865.3 1081.3L1861.9 1083.4L1857.8 1085.5L1852.1 1087.9L1845.7 1089.9L1838.7 1091.6L1831.1 1092.9L1823 1093.9L1810.1 1095L1801 1095.5L1791.3 1095.6L1781 1095.3L1770.4 1094.6L1762 1093.6L1750 1091.9L1734.8 1089.2L1716.6 1085.3L1702.5 1081.9L1689 1078.3L1672.6 1073.4L1653.5 1067.4L1638 1062.2L1628.9 1058.9L1620.2 1055.5L1612.1 1051.7L1607.2 1049L1602.8 1045.9L1599.1 1042.5L1597.5 1040.3L1596.5 1038.4L1595.7 1036.1" stroke="#d84d00"/><path d="M1868.1 1068.8L1865.1 1072.7L1861.2 1076.1L1859.1 1077.7L1854.1 1080.5L1848.4 1082.9L1842.2 1085L1835.3 1086.7L1824.1 1088.7L1815.9 1089.8L1806.4 1090.5L1795.9 1090.9L1786.3 1090.8L1777.2 1090.3L1768.7 1089.5L1760.7 1088.4L1749.2 1086.4L1734.5 1083.3L1716.9 1079.1L1703.3 1075.5L1690.2 1071.6L1674.6 1066.4L1662.6 1062L1651.1 1057.3L1640.3 1052.2L1632.9 1048L1628.5 1045L1624.7 1041.6L1621.6 1037.8L1620.5 1035.6L1619.7 1033.4L1619.3 1030.2L1619.5 1027.9L1620.1 1024.9L1621.4 1021.3" stroke="#d82800"/><path d="M1862 1065.3L1858.9 1069.1L1855 1072.5L1850.2 1075.4L1841.9 1079.1L1832.1 1082L1825 1083.5L1815.2 1085L1804.6 1086L1795.3 1086.3L1785.2 1086.1L1775.4 1085.4L1767.2 1084.4L1759.5 1083.1L1748.5 1080.8L1734.5 1077.4L1721 1073.7L1707.8 1069.8L1695.3 1065.7L1686.3 1062.3L1674.9 1057.6L1666.8 1053.7L1659.4 1049.5L1652.7 1044.9L1648.8 1041.6L1645.6 1037.8L1643.2 1033.6L1642 1029.4L1641.7 1026.1L1642.3 1021L1643.5 1016.7L1645.6 1011.6L1648.5 1005.6" stroke="#d80300"/><path d="M1855.4 1061.4L1854.1 1063.5L1852.5 1065.4L1848.6 1068.8L1843.9 1071.7L1835.4 1075.3L1826.5 1077.9L1818.3 1079.6L1806.8 1081.1L1797.2 1081.6L1787.2 1081.5L1777.8 1080.8L1769.7 1079.8L1762.2 1078.4L1751.6 1075.9L1741.5 1073.1L1728.6 1069.1L1716.1 1064.8L1707.1 1061.5L1698.5 1057.9L1690.3 1054.1L1685.2 1051.4L1678.1 1047L1673.9 1043.8L1670.1 1040.3L1667 1036.5L1664.5 1032.4L1662.8 1027.7L1662.3 1024.4L1662.1 1019.8L1662.5 1016L1663.4 1010.7L1665.1 1004.2L1668.3 994.2" stroke="#c90000"/><path d="M1848.2 1057.3L1847.1 1059.5L1845.7 1061.5L1842 1065L1837.4 1067.9L1832 1070.4L1825 1072.8L1815.4 1075L1807.5 1076.1L1798.8 1076.7L1789.3 1076.8L1780.5 1076.1L1772.5 1075L1765.2 1073.5L1758.3 1071.8L1748.5 1068.8L1739.3 1065.5L1727.7 1060.8L1719.4 1057L1711.4 1053.1L1704 1048.8L1699.4 1045.8L1695.2 1042.6L1691.4 1039.1L1688.2 1035.4L1685.4 1031.3L1684.2 1028.9L1682.5 1024.6L1681.4 1019.7L1680.8 1014.4L1680.6 1009L1680.9 1003.3L1682.5 986" stroke="#b80000"/><path d="M1840.1 1052.6L1839.5 1055L1838.3 1057.2L1836.9 1059.1L1835 1060.9L1833 1062.5L1828 1065.3L1822.2 1067.6L1815.6 1069.4L1808.9 1070.7L1802.9 1071.4L1795.1 1071.7L1788 1071.5L1783.7 1071.2L1775.8 1070L1768.7 1068.4L1761.8 1066.4L1753 1063.1L1744.6 1059.4L1739.3 1056.7L1731.9 1052.4L1724.9 1047.9L1720.6 1044.7L1716.5 1041.4L1711.5 1036.6L1707.8 1032.2L1705.1 1028.2L1702.7 1023.9L1700.8 1019.5L1699.2 1014.8L1697.9 1010L1696 1000L1693.5 979.6" stroke="#a60000"/><path d="M1830.8 1047.2L1830.7 1050L1830 1052.4L1828.8 1054.5L1827.6 1056.1L1825.3 1058.1L1823.1 1059.6L1817.8 1062.1L1811.4 1064.1L1803.9 1065.4L1797.1 1065.9L1792.2 1065.9L1787.8 1065.6L1780 1064.5L1773.1 1062.7L1766.8 1060.6L1761.2 1058.1L1756 1055.4L1751.2 1052.5L1746.8 1049.3L1742.7 1045.9L1737 1040.6L1730.1 1033.2L1726.3 1028.3L1722.8 1023.3L1716.8 1012.8L1712.7 1004.1L1709.2 995L1704.3 979.6L1702.5 974.5" stroke="#950000"/><path d="M1819.4 1040.7L1819.9 1043.7L1819.7 1046.4L1819 1048.8L1817.8 1050.9L1816.1 1052.7L1813.9 1054.3L1811.4 1055.6L1808.5 1056.8L1805.2 1057.7L1801.5 1058.3L1797.2 1058.6L1792.2 1058.5L1786 1057.8L1779.3 1056L1776 1054.7L1770.9 1052.2L1768.4 1050.8L1764 1047.6L1758.3 1042.3L1752.4 1035.2L1738.1 1017.1L1730.9 1007.3L1725.6 999.3L1720.9 991L1715.9 980.9" stroke="#840000"/><path d="M1804 1031.8L1803.6 1037.1L1803 1039.5L1801.9 1041.7L1801 1042.7L1800.2 1043.5L1797.9 1044.6L1793.5 1045.2L1792.2 1045.1L1788.6 1044.4L1785.6 1043.3L1783 1041.9L1780.8 1040.3L1777 1036.8L1766.7 1025.7L1746.7 1006.4L1740.1 999.1L1734.1 991.4" stroke="#730000"/></g><g fill-rule="evenodd" stroke="none"><path d="M1703.6 1237.4L1676.9 1221.9L1647.9 1204.2L1619.4 1186.3L1551.3 1142.9L1517 1121.6L1500.1 1111.5L1483.4 1101.9L1466.9 1092.7L1452.9 1085.3L1460.6 1076.1L1468.3 1066.5L1476 1056.3L1483.6 1045.8L1491.2 1035L1501.3 1020.1L1534.1 970.5L1546.6 951.9L1559.2 934.4L1566.8 924.5L1571.8 918.3L1581.9 906.7L1587 901.3L1594.6 893.6L1607.2 881.7L1634.7 857.2L1644.7 848.1L1654.6 838.4L1664.4 828.1L1674.3 816.7L1679.2 810.5L1684.1 804L1688.9 797.1L1693.8 789.8L1698.7 782.1L1703.6 773.8L1713.4 772.1L1718.3 771.6L1723.3 771.2L1730.7 771.1L1735.7 771.4L1740.8 771.9L1748.3 773.1L1755.9 775L1763.5 777.6L1771.1 780.9L1778.8 784.9L1786.4 789.8L1794.1 795.6L1801.8 802.2L1806.9 807.2L1814.6 815.4L1822.2 824.7L1829.9 834.9L1835 842.4L1842.6 854.5L1847.6 863.2L1852.7 872.4L1860.2 887.2L1867.7 903.1L1872.6 914.3L1880 932.1L1884.9 944.6L1889.7 957.6L1897 978L1901.7 992.1L1908.8 1014.1L1915.9 1036.7L1922.9 1059.8L1929.8 1083.4L1936.8 1108.5L1935.3 1110.4L1933.4 1112.2L1928.7 1115.2L1926.2 1116.7L1917.6 1120.4L1910 1124.7L1902.9 1129.3L1900.6 1130.9L1892 1137.6L1882.8 1144.1L1867.3 1155.9L1865.3 1157.8L1857.7 1165.3L1854.7 1169.7L1850.7 1176.5L1849.8 1179.1L1848.2 1186.1L1844.7 1185.3L1842.3 1185L1839.9 1184.9L1835 1185.2L1830.1 1185.9L1825.2 1187L1820.2 1188.4L1815.2 1190L1805.2 1194L1795.1 1198.7L1784.9 1203.8L1756.5 1218.7L1746 1223.8L1738.2 1227.3L1730.3 1230.5L1722.3 1233.3L1714.3 1235.5L1706.3 1237Z" fill="#009027"/><path d="M1703.6 1237.4L1676.9 1221.9L1647.9 1204.2L1619.4 1186.3L1551.3 1142.9L1517 1121.6L1500.1 1111.5L1483.4 1101.9L1466.9 1092.7L1452.9 1085.3L1460.6 1076.1L1468.3 1066.5L1476 1056.3L1483.6 1045.8L1501.3 1020.1L1534.1 970.5L1546.6 951.9L1559.2 934.4L1566.8 924.5L1571.8 918.3L1581.9 906.7L1594.6 893.6L1607.2 881.7L1634.7 857.2L1644.7 848.1L1654.6 838.4L1664.4 828.1L1674.3 816.7L1684.1 804L1693.8 789.8L1698.7 782.1L1703.6 773.8L1713.4 772.1L1723.3 771.2L1730.7 771.1L1735.7 771.4L1740.8 771.9L1748.3 773.1L1755.9 775L1763.5 777.6L1771.1 780.9L1778.8 784.9L1786.4 789.8L1794.1 795.6L1801.8 802.2L1806.9 807.2L1814.6 815.4L1822.2 824.7L1829.9 834.9L1835 842.4L1842.6 854.5L1847.6 863.2L1852.7 872.4L1860.2 887.2L1867.7 903.1L1872.6 914.3L1880 932.1L1884.9 944.6L1889.7 957.6L1897 978L1908.8 1014.1L1922.9 1059.8L1935.8 1104.6L1934.3 1106.6L1932.4 1108.4L1927.7 1111.5L1925.2 1112.9L1916.6 1116.6L1909 1120.9L1901.9 1125.5L1899.6 1127.1L1891 1133.8L1881.7 1140.2L1866.1 1152L1864.1 1153.8L1856.2 1161.3L1854.5 1163.3L1850 1169.8L1848.7 1172.1L1847.6 1174.6L1846 1179.8L1844.7 1185.3L1842.3 1185L1837.5 1185L1830.1 1185.9L1822.7 1187.7L1812.7 1190.9L1805.2 1194L1795.1 1198.7L1784.9 1203.8L1756.5 1218.7L1746 1223.8L1738.2 1227.3L1730.3 1230.5L1722.3 1233.3L1714.3 1235.5L1706.3 1237Z" fill="#00a520"/><path d="M1703.6 1237.4L1676.9 1221.9L1647.9 1204.2L1619.4 1186.3L1551.3 1142.9L1517 1121.6L1500.1 1111.5L1483.4 1101.9L1466.9 1092.7L1452.9 1085.3L1460.6 1076.1L1468.3 1066.5L1476 1056.3L1483.6 1045.8L1501.3 1020.1L1534.1 970.5L1546.6 951.9L1559.2 934.4L1566.8 924.5L1571.8 918.3L1581.9 906.7L1594.6 893.6L1607.2 881.7L1634.7 857.2L1644.7 848.1L1654.6 838.4L1664.4 828.1L1674.3 816.7L1684.1 804L1693.8 789.8L1698.7 782.1L1703.6 773.8L1713.4 772.1L1723.3 771.2L1730.7 771.1L1738.2 771.6L1745.8 772.6L1753.3 774.3L1760.9 776.6L1768.6 779.7L1776.2 783.5L1783.9 788.1L1791.5 793.6L1799.2 799.9L1804.3 804.7L1812 812.6L1819.7 821.5L1827.3 831.4L1832.4 838.6L1840.1 850.3L1845.1 858.8L1850.2 867.7L1857.7 882.1L1865.2 897.6L1870.2 908.6L1877.6 926L1882.5 938.3L1892.2 964.2L1897 978L1904.1 999.3L1911.2 1021.5L1918.2 1044.4L1932.4 1092.8L1931 1094.8L1929.2 1096.6L1924.6 1099.7L1922.1 1101.1L1913.5 1104.8L1905.8 1109L1898.6 1113.7L1896.3 1115.2L1887.7 1121.9L1880.6 1126.7L1869.2 1134.8L1862.2 1139.7L1850.9 1148.2L1848.8 1149.9L1844.8 1153.7L1841 1157.5L1837.9 1161.8L1835.2 1166.4L1833.6 1169.5L1832.1 1173.9L1828.7 1186.2L1822.7 1187.7L1817.7 1189.2L1810.2 1191.9L1802.7 1195.1L1787.4 1202.5L1753.9 1220L1743.4 1225L1735.5 1228.4L1727.6 1231.5L1719.7 1234L1711.7 1236.1L1706.3 1237Z" fill="#00ba19"/><path d="M1703.6 1237.4L1676.9 1221.9L1647.9 1204.2L1619.4 1186.3L1551.3 1142.9L1517 1121.6L1500.1 1111.5L1483.4 1101.9L1466.9 1092.7L1452.9 1085.3L1460.6 1076.1L1468.3 1066.5L1476 1056.3L1483.6 1045.8L1501.3 1020.1L1534.1 970.5L1546.6 951.9L1559.2 934.4L1566.8 924.5L1571.8 918.3L1581.9 906.7L1594.6 893.6L1607.2 881.7L1634.7 857.2L1644.7 848.1L1654.6 838.4L1664.4 828.1L1674.3 816.7L1684.1 804L1693.8 789.8L1698.7 782.1L1703.6 773.8L1713.4 772.1L1723.3 771.2L1730.7 771.1L1738.2 771.6L1745.8 772.6L1753.3 774.3L1760.9 776.6L1768.6 779.7L1776.2 783.5L1783.9 788.1L1791.5 793.6L1799.2 799.9L1804.3 804.7L1812 812.6L1817.1 818.4L1824.8 828L1829.9 834.9L1837.5 846.3L1842.6 854.5L1850.2 867.7L1855.2 877.2L1862.7 892.3L1867.7 903.1L1875.1 920.1L1880 932.1L1889.7 957.6L1894.6 971L1901.7 992.1L1913.5 1029.1L1929 1080.8L1927.7 1082.9L1926 1084.8L1923.8 1086.4L1918.9 1089.3L1910.3 1093L1902.5 1097.2L1893.1 1103.3L1884.4 1110L1865.5 1122.6L1852.6 1130.1L1844.5 1134.3L1836.8 1138.9L1832 1142.1L1825.4 1147.4L1821.7 1151L1819.8 1153.3L1816.6 1157.5L1815.2 1159.8L1812.7 1164.6L1806.6 1179.9L1803.6 1186.1L1800 1191.9L1794.1 1199.1L1784.9 1203.8L1756.5 1218.7L1746 1223.8L1738.2 1227.3L1730.3 1230.5L1722.3 1233.3L1714.3 1235.5L1706.3 1237Z" fill="#00cf11"/><path d="M1703.6 1237.4L1676.9 1221.9L1647.9 1204.2L1619.4 1186.3L1551.3 1142.9L1519.4 1123.1L1488.2 1104.6L1471.6 1095.3L1453.8 1085.8L1453.1 1085.1L1460.6 1076.1L1468.3 1066.5L1476 1056.3L1483.6 1045.8L1501.3 1020.1L1534.1 970.5L1546.6 951.9L1559.2 934.4L1566.8 924.5L1571.8 918.3L1581.9 906.7L1594.6 893.6L1607.2 881.7L1634.7 857.2L1644.7 848.1L1654.6 838.4L1664.4 828.1L1674.3 816.7L1684.1 804L1693.8 789.8L1698.7 782.1L1703.6 773.8L1713.4 772.1L1723.3 771.2L1730.7 771.1L1738.2 771.6L1745.8 772.6L1753.3 774.3L1760.9 776.6L1768.6 779.7L1776.2 783.5L1783.9 788.1L1791.5 793.6L1799.2 799.9L1804.3 804.7L1812 812.6L1817.1 818.4L1824.8 828L1829.9 834.9L1837.5 846.3L1842.6 854.5L1850.2 867.7L1855.2 877.2L1862.7 892.3L1867.7 903.1L1877.6 926L1887.3 951L1892.2 964.2L1899.4 985L1911.2 1021.5L1925.5 1068.8L1924.3 1071L1922.7 1072.9L1920.5 1074.5L1915.7 1077.4L1907 1081.1L1899.3 1085.3L1889.8 1091.4L1881 1098L1864 1108.7L1855.8 1112.9L1846.7 1116.5L1837.3 1120L1828.4 1123.8L1819.9 1127.9L1812 1132.4L1802.2 1138.8L1781.2 1154.2L1771.5 1161L1763.8 1165.8L1758 1168.7L1754.7 1169.8L1750.6 1170.5L1745.5 1170.2L1744.6 1170L1741.8 1169.2L1738.7 1168L1727.1 1162.2L1721 1159.5L1712.6 1156.6L1704.9 1155L1699.1 1154.6L1694.5 1154.9L1690.5 1155.7L1687.2 1156.8L1684.4 1158.4L1682.2 1160.2L1680.8 1161.9L1680.5 1162.4L1679.7 1165.2L1680 1168.9L1681 1171.5L1682.4 1173.9L1686 1178.2L1690.2 1182.1L1697.3 1187.5L1710 1196.2L1714.5 1200L1716.5 1202.1L1718.3 1204.3L1719.8 1206.8L1721.1 1209.3L1724.1 1216.7L1726.4 1221.5L1729.3 1226.8L1731.4 1230.1L1725 1232.4L1719.7 1234L1711.7 1236.1L1706.3 1237Z" fill="#00e40a"/><path d="M1703.6 1237.4L1695 1232.5L1704.9 1237.3ZM1507.5 1094.7L1500.6 1091L1495.6 1088.1L1488.5 1083.5L1484 1080.3L1475.7 1073.5L1472 1070L1468.5 1066.2L1481.1 1049.4L1493.8 1031.3L1506.4 1012.6L1534.1 970.5L1549.2 948.3L1561.7 931L1569.3 921.4L1574.4 915.3L1584.5 904L1597.1 891.2L1609.7 879.4L1634.7 857.2L1644.7 848.1L1654.6 838.4L1664.4 828.1L1674.3 816.7L1684.1 804L1693.8 789.8L1698.7 782.1L1703.6 773.8L1713.4 772.1L1723.3 771.2L1733.2 771.2L1740.8 771.9L1745.8 772.6L1750.8 773.7L1758.4 775.8L1766 778.6L1773.7 782.1L1781.3 786.5L1786.4 789.8L1791.5 793.6L1796.6 797.7L1801.8 802.2L1806.9 807.2L1812 812.6L1817.1 818.4L1822.2 824.7L1827.3 831.4L1832.4 838.6L1837.5 846.3L1842.6 854.5L1847.6 863.2L1855.2 877.2L1860.2 887.2L1865.2 897.6L1875.1 920.1L1884.9 944.6L1894.6 971L1899.4 985L1906.5 1006.7L1913.5 1029.1L1921.9 1056.7L1920.8 1058.9L1919.3 1060.9L1917.2 1062.5L1912.4 1065.5L1903.8 1069.2L1896 1073.3L1886.5 1079.4L1879.9 1084.4L1875.2 1087.5L1865.2 1093.4L1862.6 1094.9L1856.9 1097.5L1850.5 1099.7L1829.8 1105.5L1820 1108.7L1810.5 1112.2L1789.3 1121L1779.8 1124.5L1773.4 1126.4L1769 1127.3L1760.6 1128.5L1754.2 1128.8L1744.6 1128.3L1735.9 1127.3L1715.5 1124.1L1705.1 1122.8L1693.8 1122.2L1683.9 1122.4L1679.4 1122.8L1670.8 1123.8L1658.9 1126L1647.7 1128.7L1626.9 1134.2L1619 1135.9L1612.5 1136.7L1607.2 1136.8L1602.7 1136.4L1598.9 1135.6L1592.3 1133.3L1583.7 1129.2L1565.1 1118.8L1556.7 1114.8L1547.7 1111L1522.9 1101.7L1517 1099.2L1508.5 1095.2Z" fill="#00f902"/><path d="M1508 1066.1L1501.7 1062.9L1494.3 1058.5L1487.6 1053.8L1481.5 1048.8L1491.2 1035L1501.3 1020.1L1531.5 974.3L1544.1 955.6L1556.7 937.8L1569.3 921.4L1574.4 915.3L1581.9 906.7L1594.6 893.6L1607.2 881.7L1634.7 857.2L1644.7 848.1L1654.6 838.4L1664.4 828.1L1674.3 816.7L1684.1 804L1693.8 789.8L1698.7 782.1L1703.6 773.8L1713.4 772.1L1720.8 771.4L1730.7 771.1L1738.2 771.6L1743.3 772.2L1748.3 773.1L1755.9 775L1763.5 777.6L1771.1 780.9L1776.2 783.5L1781.3 786.5L1786.4 789.8L1791.5 793.6L1796.6 797.7L1801.8 802.2L1806.9 807.2L1812 812.6L1817.1 818.4L1822.2 824.7L1827.3 831.4L1832.4 838.6L1837.5 846.3L1842.6 854.5L1850.2 867.7L1855.2 877.2L1860.2 887.2L1870.2 908.6L1880 932.1L1889.7 957.6L1897 978L1904.1 999.3L1911.2 1021.5L1918.3 1044.6L1917.3 1046.8L1915.8 1048.8L1913.8 1050.5L1909.1 1053.5L1900.5 1057.2L1892.7 1061.4L1883.1 1067.4L1876.5 1072.3L1871.6 1075.3L1863.8 1079.6L1858.2 1082.2L1848.8 1085.2L1829.5 1089.3L1818.6 1091.8L1808.2 1094.7L1788.6 1100.6L1779.6 1103L1769.3 1105.1L1760.7 1106.1L1756 1106.3L1748.7 1106.3L1739.7 1105.8L1707.9 1102L1696 1101L1690.4 1100.7L1674.6 1100.4L1648.9 1101.6L1638.1 1101.9L1628.3 1101.6L1623.8 1101.3L1615.3 1100.2L1607.6 1098.7L1596.9 1096L1564.1 1085.6L1540.5 1078.3L1524.5 1073L1515.5 1069.4L1509.8 1066.9Z" fill="#24ff00"/><path d="M1508.5 1040.9L1500.3 1036.5L1493.3 1032L1506.4 1012.6L1539.1 963L1549.2 948.3L1556.7 937.8L1564.3 927.7L1571.8 918.3L1579.4 909.5L1589.5 898.7L1597.1 891.2L1604.6 884L1634.7 857.2L1647.1 845.7L1657 835.9L1666.9 825.3L1676.7 813.6L1686.5 800.6L1691.4 793.5L1696.3 786L1703.6 773.8L1713.4 772.1L1720.8 771.4L1730.7 771.1L1738.2 771.6L1743.3 772.2L1748.3 773.1L1755.9 775L1763.5 777.6L1771.1 780.9L1776.2 783.5L1781.3 786.5L1786.4 789.8L1791.5 793.6L1796.6 797.7L1801.8 802.2L1806.9 807.2L1812 812.6L1817.1 818.4L1822.2 824.7L1827.3 831.4L1832.4 838.6L1837.5 846.3L1842.6 854.5L1850.2 867.7L1855.2 877.2L1860.2 887.2L1870.2 908.6L1880 932.1L1889.7 957.6L1894.6 971L1901.7 992.1L1914.5 1032.3L1913.6 1034.6L1912.2 1036.7L1910.3 1038.4L1905.7 1041.5L1897.2 1045.2L1889.4 1049.3L1879.7 1055.3L1872.9 1060.1L1870.5 1061.6L1862.4 1065.7L1856.5 1068.2L1854.1 1068.9L1845.9 1070.9L1822.1 1074.8L1814.4 1076.2L1786.7 1082.4L1777 1084.3L1765.6 1085.9L1760 1086.4L1754.2 1086.7L1744.9 1086.5L1735 1085.9L1701.9 1082.2L1684 1080.6L1649.4 1079L1640.2 1078.3L1631.5 1077.5L1619.2 1075.7L1607.9 1073.4L1593.7 1069.7L1573.4 1063.9L1553.5 1057.8L1540.5 1053.7L1527.9 1049.3L1519 1045.8L1510.6 1042Z" fill="#58ff00"/><path d="M1521 1023.5L1512.3 1019.6L1504.3 1015.7L1539.1 963L1549.2 948.3L1556.7 937.8L1564.3 927.7L1571.8 918.3L1579.4 909.5L1589.5 898.7L1597.1 891.2L1604.6 884L1634.7 857.2L1647.1 845.7L1657 835.9L1666.9 825.3L1676.7 813.6L1686.5 800.6L1691.4 793.5L1696.3 786L1703.6 773.8L1713.4 772.1L1720.8 771.4L1728.3 771.1L1735.7 771.4L1743.3 772.2L1750.8 773.7L1758.4 775.8L1766 778.6L1771.1 780.9L1776.2 783.5L1781.3 786.5L1786.4 789.8L1791.5 793.6L1796.6 797.7L1801.8 802.2L1806.9 807.2L1812 812.6L1817.1 818.4L1822.2 824.7L1827.3 831.4L1832.4 838.6L1837.5 846.3L1845.1 858.8L1850.2 867.7L1855.2 877.2L1860.2 887.2L1865.2 897.6L1875.1 920.1L1884.9 944.6L1889.7 957.6L1897 978L1904.1 999.3L1910.7 1020.1L1909.8 1022.4L1908.5 1024.4L1906.7 1026.2L1902.2 1029.4L1893.8 1033.1L1886 1037.2L1876.2 1043.1L1871.6 1046.3L1866.7 1049.2L1861 1051.8L1854.7 1054L1850.4 1055.1L1843.2 1056.5L1814.4 1060.1L1776.5 1066.2L1764.1 1067.5L1758.5 1067.8L1751.2 1068L1738.6 1067.5L1725.3 1066.3L1690.1 1062L1643.9 1057.1L1631.5 1055.4L1619.7 1053.4L1608.5 1051L1597.8 1048.4L1574.1 1041.6L1560.9 1037.6L1544.9 1032.4L1532.5 1028L1523.6 1024.5Z" fill="#8bff00"/><path d="M1523.8 1003.2L1514.9 999.6L1534.1 970.5L1546.6 951.9L1556.7 937.8L1566.8 924.5L1574.4 915.3L1579.4 909.5L1587 901.3L1594.6 893.6L1607.2 881.7L1634.7 857.2L1644.7 848.1L1654.6 838.4L1664.4 828.1L1674.3 816.7L1684.1 804L1693.8 789.8L1698.7 782.1L1703.6 773.8L1713.4 772.1L1720.8 771.4L1728.3 771.1L1735.7 771.4L1743.3 772.2L1750.8 773.7L1758.4 775.8L1763.5 777.6L1771.1 780.9L1776.2 783.5L1781.3 786.5L1786.4 789.8L1791.5 793.6L1796.6 797.7L1801.8 802.2L1806.9 807.2L1812 812.6L1817.1 818.4L1822.2 824.7L1827.3 831.4L1832.4 838.6L1837.5 846.3L1845.1 858.8L1850.2 867.7L1857.7 882.1L1867.7 903.1L1877.6 926L1887.3 951L1897 978L1906.8 1007.7L1905.9 1010L1904.7 1012.1L1903 1013.9L1898.7 1017.1L1890.3 1020.9L1882.5 1025.1L1865.2 1035.3L1859.5 1037.8L1856.2 1038.9L1852.7 1039.8L1847.4 1040.9L1840.8 1041.9L1810.6 1044.8L1779 1048.5L1767.2 1049.5L1761.7 1049.7L1751.4 1049.8L1736.2 1049L1728.3 1048.3L1715.6 1046.7L1642.4 1035.9L1630.5 1034L1618.9 1031.9L1600.7 1027.8L1590.3 1025L1577 1021.2L1551.2 1013L1538.7 1008.7L1526.6 1004.3Z" fill="#bfff00"/><path d="M1530.7 985.5L1525.4 983.6L1539.1 963L1549.2 948.3L1559.2 934.4L1569.3 921.4L1574.4 915.3L1581.9 906.7L1594.6 893.6L1607.2 881.7L1634.7 857.2L1644.7 848.1L1654.6 838.4L1664.4 828.1L1674.3 816.7L1684.1 804L1693.8 789.8L1698.7 782.1L1703.6 773.8L1710.9 772.5L1718.3 771.6L1725.8 771.1L1733.2 771.2L1740.8 771.9L1748.3 773.1L1755.9 775L1760.9 776.6L1766 778.6L1771.1 780.9L1776.2 783.5L1781.3 786.5L1786.4 789.8L1791.5 793.6L1796.6 797.7L1801.8 802.2L1806.9 807.2L1812 812.6L1817.1 818.4L1822.2 824.7L1827.3 831.4L1832.4 838.6L1840.1 850.3L1847.6 863.2L1852.7 872.4L1857.7 882.1L1862.7 892.3L1872.6 914.3L1882.5 938.3L1892.2 964.2L1902.8 995.2L1901.9 997.5L1900.7 999.6L1899.1 1001.5L1897.1 1003.2L1894.9 1004.8L1886.7 1008.7L1878.9 1012.8L1863.6 1021.3L1860.8 1022.6L1857.7 1023.6L1850.6 1025.4L1842.6 1026.7L1832.6 1027.7L1780.4 1031.5L1764 1032.2L1749.1 1032L1739.9 1031.3L1731.2 1030.5L1710.5 1027.6L1628.7 1013.2L1613.6 1010.3L1595.8 1006L1578.9 1001.3L1556.4 994.2L1531.5 985.8Z" fill="#f3ff00"/><path d="M1538.5 968.4L1536 967.5L1539.1 963L1549.2 948.3L1559.2 934.4L1566.8 924.5L1574.4 915.3L1584.5 904L1597.1 891.2L1609.7 879.4L1634.7 857.2L1644.7 848.1L1654.6 838.4L1664.4 828.1L1674.3 816.7L1684.1 804L1693.8 789.8L1698.7 782.1L1703.6 773.8L1710.9 772.5L1718.3 771.6L1725.8 771.1L1733.2 771.2L1740.8 771.9L1745.8 772.6L1753.3 774.3L1758.4 775.8L1766 778.6L1771.1 780.9L1776.2 783.5L1781.3 786.5L1786.4 789.8L1791.5 793.6L1796.6 797.7L1801.8 802.2L1806.9 807.2L1812 812.6L1817.1 818.4L1822.2 824.7L1827.3 831.4L1832.4 838.6L1840.1 850.3L1847.6 863.2L1852.7 872.4L1860.2 887.2L1865.2 897.6L1872.6 914.3L1877.6 926L1887.3 951L1892.2 964.2L1898.6 982.6L1897.6 984.9L1896.4 987L1894.9 988.9L1893 990.7L1890.9 992.3L1888.4 993.7L1883 996.3L1869.9 1003.1L1861.7 1007L1858.7 1008.3L1855.5 1009.3L1848.1 1010.9L1839.8 1011.9L1830.8 1012.6L1786.3 1014.9L1775.6 1015.3L1765.3 1015.3L1751 1014.7L1742 1014L1733.4 1013L1721.1 1011.3L1709.2 1009.3L1693.9 1006.4L1661.5 999.8L1625.8 993.1L1611 990.1L1596.9 986.7L1580.1 982L1564.1 976.9L1539.1 968.6Z" fill="#ffde00"/><path d="M1557.4 955L1547.1 951.2L1559.2 934.4L1569.3 921.4L1574.4 915.3L1581.9 906.7L1594.6 893.6L1607.2 881.7L1634.7 857.2L1644.7 848.1L1654.6 838.4L1664.4 828.1L1674.3 816.7L1684.1 804L1693.8 789.8L1698.7 782.1L1703.6 773.8L1710.9 772.5L1718.3 771.6L1725.8 771.1L1733.2 771.2L1740.8 771.9L1748.3 773.1L1755.9 775L1760.9 776.6L1766 778.6L1771.1 780.9L1776.2 783.5L1781.3 786.5L1786.4 789.8L1791.5 793.6L1796.6 797.7L1801.8 802.2L1806.9 807.2L1812 812.6L1819.7 821.5L1824.8 828L1829.9 834.9L1837.5 846.3L1845.1 858.8L1850.2 867.7L1855.2 877.2L1860.2 887.2L1867.7 903.1L1872.6 914.3L1882.5 938.3L1887.3 951L1894.2 969.9L1891.9 974.2L1890.4 976.1L1888.6 977.9L1886.6 979.6L1884.2 981L1873.6 986.4L1865.4 990.3L1856.3 993.7L1849.2 995.4L1845.2 996.1L1836.7 997L1827.6 997.6L1796.4 998.9L1775.6 999.1L1765.9 998.9L1756.6 998.3L1747.7 997.6L1735 996.1L1715 992.9L1692.3 988.4L1655.3 980.2L1618.5 972.8L1604.3 969.5L1590.7 965.9L1574.5 960.9L1559.1 955.6Z" fill="#ffb200"/><path d="M1577 941.9L1567.4 938.1L1559.2 934.4L1561.7 931L1569.3 921.4L1576.9 912.3L1584.5 904L1592 896.1L1599.6 888.8L1607.2 881.7L1634.7 857.2L1644.7 848.1L1654.6 838.4L1664.4 828.1L1674.3 816.7L1684.1 804L1693.8 789.8L1698.7 782.1L1703.6 773.8L1713.4 772.1L1720.8 771.4L1728.3 771.1L1735.7 771.4L1743.3 772.2L1750.8 773.7L1758.4 775.8L1763.5 777.6L1768.6 779.7L1773.7 782.1L1778.8 784.9L1783.9 788.1L1789 791.7L1794.1 795.6L1801.8 802.2L1806.9 807.2L1812 812.6L1819.7 821.5L1824.8 828L1829.9 834.9L1837.5 846.3L1845.1 858.8L1850.2 867.7L1855.2 877.2L1860.2 887.2L1867.7 903.1L1872.6 914.3L1882.5 938.3L1889.6 957.1L1887.1 961.2L1885.5 963.1L1883.8 964.9L1881.8 966.6L1876.9 969.5L1868.9 973.4L1863.1 975.9L1853.6 979L1846.1 980.5L1837.8 981.6L1828.9 982.3L1805.4 983.4L1784.8 983.6L1775 983.4L1765.7 982.9L1752.4 981.7L1735.8 979.5L1716.1 976.2L1697.3 972.4L1658.6 963.2L1622 955L1611.4 952.5L1594.6 947.9L1579 942.7Z" fill="#ff8700"/><path d="M1594.6 927.7L1587.8 924.8L1582.5 922.3L1577.7 919.5L1573.4 916.4L1584.5 904L1597.1 891.2L1609.7 879.4L1634.7 857.2L1644.7 848.1L1654.6 838.4L1664.4 828.1L1674.3 816.7L1684.1 804L1693.8 789.8L1698.7 782.1L1703.6 773.8L1713.4 772.1L1720.8 771.4L1728.3 771.1L1735.7 771.4L1743.3 772.2L1750.8 773.7L1758.4 775.8L1763.5 777.6L1768.6 779.7L1773.7 782.1L1778.8 784.9L1783.9 788.1L1789 791.7L1794.1 795.6L1801.8 802.2L1806.9 807.2L1812 812.6L1819.7 821.5L1827.3 831.4L1835 842.4L1842.6 854.5L1847.6 863.2L1852.7 872.4L1857.7 882.1L1865.2 897.6L1870.2 908.6L1880 932.1L1884.7 944.1L1882 948.1L1880.3 949.9L1878.5 951.7L1876.4 953.3L1874.1 954.8L1868.9 957.5L1863.3 960L1853.8 963.2L1850.3 964L1842.7 965.5L1834.5 966.5L1825.7 967.3L1816.5 967.9L1803.6 968.4L1788.2 968.5L1778.6 968.2L1769.4 967.6L1756.4 966.3L1740 964L1720.5 960.6L1701.8 956.7L1680.5 951.6L1625.4 937.2L1608.8 932.5L1596.4 928.3Z" fill="#ff5b00"/><path d="M1623.7 917.1L1611.8 912.4L1606.5 909.8L1601.7 907L1597.5 903.9L1595.7 902.1L1594 900L1593 898.2L1592.2 896L1607.2 881.7L1634.7 857.2L1644.7 848.1L1654.6 838.4L1664.4 828.1L1674.3 816.7L1684.1 804L1693.8 789.8L1698.7 782.1L1703.6 773.8L1710.9 772.5L1718.3 771.6L1725.8 771.1L1733.2 771.2L1740.8 771.9L1748.3 773.1L1755.9 775L1760.9 776.6L1766 778.6L1771.1 780.9L1778.8 784.9L1786.4 789.8L1794.1 795.6L1799.2 799.9L1804.3 804.7L1812 812.6L1819.7 821.5L1827.3 831.4L1832.4 838.6L1837.5 846.3L1845.1 858.8L1850.2 867.7L1855.2 877.2L1862.7 892.3L1870.2 908.6L1879.5 930.8L1876.6 934.7L1872.8 938.2L1870.7 939.8L1868.3 941.2L1862.9 943.8L1860.1 945L1853.8 947.2L1850.5 948.1L1843.2 949.7L1835.4 951L1827 952L1818.2 952.8L1809 953.3L1799.3 953.6L1791.3 953.6L1777.1 953L1763.9 951.7L1747.6 949.4L1728.2 946L1706.1 941.2L1688.5 936.8L1668.3 931.2L1645.4 924.3L1626.5 918.1Z" fill="#ff3000"/><path d="M1642.4 903.4L1635.5 900.1L1628.1 895.9L1623.8 892.9L1621.9 891.2L1620.2 889.4L1618.8 887.5L1617.6 885.4L1616.8 883.2L1616.4 880.2L1616.5 877.9L1617.2 875L1618.5 871.5L1637.2 855L1649.6 843.3L1659.5 833.4L1669.3 822.5L1679.2 810.5L1686.5 800.6L1691.4 793.5L1696.3 786L1703.6 773.8L1713.4 772.1L1720.8 771.4L1730.7 771.1L1738.2 771.6L1745.8 772.6L1753.3 774.3L1760.9 776.6L1768.6 779.7L1776.2 783.5L1783.9 788.1L1791.5 793.6L1799.2 799.9L1806.9 807.2L1814.6 815.4L1822.2 824.7L1827.3 831.4L1832.4 838.6L1837.5 846.3L1845.1 858.8L1852.7 872.4L1860.2 887.2L1867.7 903.1L1874 917.4L1870.8 921.2L1866.9 924.5L1864.6 926L1862.1 927.4L1856.6 929.9L1853.6 931.1L1847.1 933.1L1836.3 935.5L1828.4 936.7L1820 937.7L1806.4 938.6L1794.1 938.8L1779.9 938.2L1766.9 936.9L1750.8 934.5L1728.3 929.9L1706.8 924.8L1689.8 920.2L1673.6 915.1L1658.1 909.7L1643.6 903.9Z" fill="#ff0400"/><path d="M1670.8 895.1L1662.8 891.3L1655.3 887.2L1648.7 882.6L1645 879.2L1643.4 877.3L1642.1 875.4L1640.9 873.3L1640.1 871L1639.6 868.6L1639.4 866L1639.7 863.2L1640.3 860.2L1641.3 857L1642.7 853.6L1646.5 846.3L1654.6 838.4L1662 830.7L1669.3 822.5L1676.7 813.6L1684.1 804L1691.4 793.5L1698.7 782.1L1703.6 773.8L1713.4 772.1L1720.8 771.4L1730.7 771.1L1738.2 771.6L1745.8 772.6L1753.3 774.3L1760.9 776.6L1768.6 779.7L1776.2 783.5L1783.9 788.1L1791.5 793.6L1796.6 797.7L1804.3 804.7L1809.4 809.8L1817.1 818.4L1822.2 824.7L1829.9 834.9L1837.5 846.3L1845.1 858.8L1850.2 867.7L1855.2 877.2L1860.2 887.2L1868 903.8L1866.5 905.7L1864.8 907.5L1862.9 909.2L1858.4 912.2L1855.8 913.6L1853.1 914.8L1847.1 917.1L1837 919.9L1825.7 922L1813 923.4L1798.8 924L1787.2 923.8L1773.8 922.7L1761.6 921L1750.2 918.8L1732.1 914.6L1711.4 909.2L1698.2 905.2L1685.6 901L1670.9 895.2Z" fill="#ed0000"/><path d="M1700.2 887.2L1692.6 884L1687.1 881.5L1679.5 877.4L1674.9 874.4L1670.7 871.2L1667.1 867.8L1664.7 864.7L1662.9 861.9L1662 859.7L1661.2 857.4L1660.7 855L1660.5 851.4L1660.7 847L1661.2 844.1L1662.7 838L1667 825.2L1676.7 813.6L1686.5 800.6L1691.4 793.5L1696.3 786L1703.6 773.8L1713.4 772.1L1720.8 771.4L1728.3 771.1L1735.7 771.4L1743.3 772.2L1750.8 773.7L1758.4 775.8L1766 778.6L1773.7 782.1L1778.8 784.9L1786.4 789.8L1791.5 793.6L1799.2 799.9L1804.3 804.7L1812 812.6L1817.1 818.4L1824.8 828L1829.9 834.9L1835 842.4L1840.1 850.3L1845.1 858.8L1850.2 867.7L1855.2 877.2L1861.5 889.8L1860.1 891.8L1858.5 893.6L1856.6 895.3L1852.1 898.3L1846.8 900.9L1840.8 903.2L1837.5 904.1L1830.6 905.9L1819 907.9L1810.4 908.8L1805.8 909L1794.8 909.2L1785.3 908.8L1776.6 908L1768.4 906.8L1757.1 904.6L1743 901L1729.6 897.2L1713.5 892L1701.2 887.6Z" fill="#d90000"/><path d="M1730 879.4L1720.1 875.3L1711.8 871.5L1704 867.4L1699.3 864.5L1694.9 861.4L1690.9 858.1L1687.5 854.5L1684.7 850.6L1683.4 848.3L1681.6 844.2L1680.4 839.5L1679.8 834.5L1679.7 829.2L1679.9 823.8L1681.7 807.2L1688.9 797.1L1693.8 789.8L1698.7 782.1L1703.6 773.8L1713.4 772.1L1720.8 771.4L1728.3 771.1L1735.7 771.4L1743.3 772.2L1750.8 773.7L1758.4 775.8L1763.5 777.6L1771.1 780.9L1776.2 783.5L1783.9 788.1L1789 791.7L1796.6 797.7L1801.8 802.2L1806.9 807.2L1812 812.6L1817.1 818.4L1822.2 824.7L1827.3 831.4L1832.4 838.6L1837.5 846.3L1842.6 854.5L1847.6 863.2L1854.3 875.5L1853.2 877.6L1851.8 879.5L1850 881.2L1847.9 882.9L1843.1 885.7L1837.4 888.1L1831.1 890.1L1824 891.8L1820.2 892.5L1812 893.5L1802.9 894.2L1793 894.2L1783.8 893.6L1775.5 892.5L1767.8 891.1L1757.1 888.5L1750.4 886.6L1740.9 883.4L1731.7 880Z" fill="#c40000"/><path d="M1749.3 868.4L1743.6 865.9L1735.7 861.9L1728.2 857.6L1723.6 854.7L1717.1 849.9L1713.1 846.6L1709.6 843.1L1706.5 839.3L1703.9 835.3L1701.6 831.2L1699.8 826.8L1698.3 822.3L1697.1 817.6L1695.7 810.4L1693 791L1698.7 782.1L1703.6 773.8L1708.5 772.9L1715.9 771.8L1723.3 771.2L1730.7 771.1L1738.2 771.6L1745.8 772.6L1753.3 774.3L1760.9 776.6L1766 778.6L1771.1 780.9L1776.2 783.5L1781.3 786.5L1786.4 789.8L1791.5 793.6L1796.6 797.7L1801.8 802.2L1806.9 807.2L1812 812.6L1817.1 818.4L1822.2 824.7L1827.3 831.4L1832.4 838.6L1837.5 846.3L1846.2 860.6L1845.6 863L1844.4 865L1842.9 866.9L1841 868.6L1838.8 870.1L1836.3 871.5L1830.7 873.9L1824.2 875.9L1816.9 877.4L1808.7 878.5L1801.8 878.9L1794 878.8L1787.3 878.4L1779.1 877.3L1771.6 875.8L1764.7 873.9L1758.3 871.8L1752.2 869.6Z" fill="#b00000"/><path d="M1768.9 857.5L1763.9 855.5L1758.4 852.9L1753.4 850.1L1748.8 847.1L1742.5 842.2L1737.6 838L1733.1 833.6L1728.1 828.1L1723.7 822.4L1719.8 816.4L1717.4 812.4L1714.1 806.2L1712.1 801.9L1709.5 795.5L1704.3 780.8L1702.4 775.9L1703.6 773.8L1708.5 772.9L1715.9 771.8L1720.8 771.4L1730.7 771.1L1735.7 771.4L1740.8 771.9L1748.3 773.1L1755.9 775L1763.5 777.6L1768.6 779.7L1773.7 782.1L1778.8 784.9L1783.9 788.1L1789 791.7L1794.1 795.6L1801.8 802.2L1806.9 807.2L1812 812.6L1819.7 821.5L1827.3 831.4L1832.4 838.6L1836.8 845.1L1836.7 847.7L1836 850L1834.8 852L1833.1 853.9L1831.1 855.5L1828.8 856.9L1823.2 859.4L1816.5 861.2L1812.7 861.9L1807.2 862.6L1801.5 862.9L1796.4 862.9L1791.8 862.7L1787.6 862.2L1779.9 860.8L1769.8 857.9Z" fill="#9c0000"/><path d="M1779.6 841.8L1774.2 839.5L1771.6 838.1L1767 835.1L1761 830L1754.8 823.3L1739.8 806.1L1735.2 800.5L1729.4 793L1726.7 789.2L1722.9 783.3L1716.5 771.8L1723.3 771.2L1730.7 771.1L1738.2 771.6L1743.3 772.2L1750.8 773.7L1755.9 775L1760.9 776.6L1766 778.6L1773.7 782.1L1781.3 786.5L1789 791.7L1796.6 797.7L1804.3 804.7L1812 812.6L1819.7 821.5L1825.2 828.5L1825.6 831.3L1825.5 833.9L1824.8 836.2L1823.5 838.2L1821.7 839.9L1819.4 841.4L1816.8 842.6L1813.7 843.7L1810.3 844.6L1806.3 845.2L1801.9 845.5L1796.6 845.4L1790.2 844.7L1783.1 843L1779.9 841.9Z" fill="#880000"/><path d="M1787.4 819.3L1784.8 817.7L1780.8 814.3L1769.9 803.8L1754.4 790.6L1748.9 785.5L1741.9 778.6L1735.6 771.4L1740.8 771.9L1745.8 772.6L1753.3 774.3L1758.4 775.8L1763.5 777.6L1771.1 780.9L1776.2 783.5L1781.3 786.5L1786.4 789.8L1791.5 793.6L1799.2 799.9L1804.3 804.7L1809.2 809.6L1808.7 814.6L1808.2 816.9L1807 819L1805.2 820.6L1802.4 821.9L1798.2 822.3L1793 821.5L1789.8 820.5Z" fill="#820000"/></g><path d="M1689.5 1229.3L1696.2 1227.9L1700.7 1226.6L1705.1 1225.1L1711.8 1222.5L1720.6 1218.5L1727.2 1215.1L1735.9 1210.2L1766.2 1191.9L1776.9 1185.8L1783.3 1182.5L1789.6 1179.4L1800.1 1174.7L1806.4 1172.3L1812.6 1170.1L1825 1166.4L1837.2 1163.1L1847.4 1160.5L1851.4 1159.7L1855.4 1159.1L1859.4 1157.9L1865.3 1156.5L1867.5 1155.9M1717.7 1234.6L1691 1217.6L1671.2 1204.5L1647.3 1188.2L1608.8 1161.3L1594.1 1151.3L1581.5 1143.2L1556.7 1127.7L1546.4 1121L1534.2 1112.6L1507.9 1093.8L1495.9 1085.6L1488 1080.5L1480.1 1075.8L1472.3 1071.6L1466.5 1068.9M1675.5 1221L1682.2 1219.2L1691.1 1216.1L1700 1212.3L1708.8 1207.9L1717.6 1203L1726.3 1197.8L1760.8 1175.9L1775.7 1167L1790.5 1158.9L1798.9 1154.6L1817.5 1145.6L1827.8 1139.9L1834 1135.8L1842.2 1129.6L1860.7 1112.7L1866.8 1108L1872.8 1104.3L1880.9 1099.1L1882.8 1098L1890.7 1094.8L1892.7 1093.7L1900.7 1088.5L1906.7 1083.3L1908.7 1081.3L1914.7 1074.1L1916.7 1072.5L1918.7 1071.2L1920.6 1070.2L1922.6 1069.7L1924.4 1070.2L1926.3 1071.3M1731.7 1230L1718.3 1220.4L1678.7 1193.9L1654.9 1177.3L1642 1167.8L1614.4 1146.5L1603.8 1138.6L1593.4 1131.2L1568.5 1114.5L1556.2 1105.7L1546 1097.9L1519.6 1077.1L1505.5 1066.7L1497.6 1061.2L1491.6 1057.5L1485.7 1054.1L1479.9 1051M1661.6 1212.6L1668.3 1210.3L1675 1207.8L1681.7 1205L1688.3 1202L1701.5 1195.2L1708.1 1191.6L1716.8 1186.4L1729.8 1178.2L1742.7 1169.4L1781 1141.8L1804 1125.7L1810.2 1121L1816.4 1115.9L1822.7 1110.2L1828.9 1103.7L1833.1 1098.9L1837.2 1093.7L1841.4 1088.2L1851.9 1073.8L1856 1068.5L1858.1 1066.1L1862.2 1061.8L1866.3 1057.9L1870.4 1054.7L1874.4 1052.5L1878.4 1050.6L1888.4 1044L1894.4 1039L1896.5 1037L1900.5 1032.5L1902.6 1030.4L1904.5 1029.2L1906.5 1028.3L1908.4 1027.9L1910.3 1028L1912.2 1029.1L1914 1030.7M1745.5 1224.1L1736.6 1216.6L1725.5 1208.5L1716.7 1202.5L1681.7 1179.9L1670.9 1172.4L1662.3 1166.1L1655.9 1161.1L1649.5 1155.8L1624 1133.6L1613.5 1124.8L1603 1116.5L1580.2 1099.3L1569.9 1091.3L1525.1 1054.6L1515 1046.8L1507.1 1041L1499.1 1035.7L1493.2 1032.1M1647.8 1204.1L1663.5 1197.5L1676.8 1191.6L1687.8 1186.3L1698.7 1180.5L1709.5 1174L1718.2 1168.4L1728.9 1160.6L1737.5 1153.6L1750.3 1142.3L1771.5 1122.3L1792.5 1103L1800.9 1094.8L1809.3 1085.9L1813.5 1081L1817.6 1075.8L1823.9 1067.2L1830.3 1057.9L1845 1034.8L1851.3 1025.5L1855.5 1019.8L1857.6 1017.3L1861.7 1012.9L1869.9 1006.1L1875.9 1001.4L1882 996.4L1888.1 991.1L1890.1 989.8L1892.1 989.1L1894 988.7L1896 988.8L1897.9 989.3L1899.8 990.3L1901.6 991.7M1759.2 1217.3L1754.8 1212.9L1750.3 1208.9L1745.9 1205.2L1739.3 1200.2L1728.2 1192.8L1702 1176.6L1693.3 1171.1L1682.6 1163.7L1674 1157.2L1667.6 1151.8L1661.2 1146L1629.3 1115L1620.9 1107.2L1612.5 1099.9L1583.5 1075.4L1552.7 1049.2L1538.5 1037.3L1522.5 1024.3L1514.5 1018.2L1506.5 1012.4M1634.1 1195.6L1645.3 1190.1L1674.1 1177.1L1682.8 1172.7L1689.4 1169.2L1698 1164L1706.7 1158.1L1715.3 1151.3L1721.7 1145.6L1730.2 1137L1738.8 1127.7L1762.1 1100.8L1785.4 1074.7L1791.7 1067.3L1798 1059.5L1806.4 1048.2L1812.7 1038.9L1819 1029L1836 1001.5L1844.4 988.6L1850.7 980L1856.9 972.5L1861 968.1L1867.2 962.4L1873.3 957.6L1875.3 956.4L1877.3 955.3L1879.3 954.6L1881.2 954.2L1883.2 954.1L1885.1 954.2L1887.1 954.7L1889 955.5M1772.8 1210.1L1768.4 1205.3L1761.8 1198.9L1757.3 1195.1L1750.7 1190.1L1739.7 1182.7L1715.7 1168L1704.8 1161.1L1698.4 1156.6L1694.1 1153.4L1685.5 1146.4L1679.1 1140.5L1670.6 1131.9L1645.1 1104.4L1636.7 1095.7L1628.3 1087.3L1617.8 1077.4L1597 1058.5L1570.3 1035L1545.9 1014L1519.8 992.2M1620.5 1187L1627.2 1183.2L1636.2 1178.6L1658.3 1168.3L1667.1 1164.1L1673.6 1160.6L1680.1 1156.8L1688.8 1151.1L1695.2 1146.2L1701.7 1140.7L1708.1 1134.5L1712.4 1129.9L1716.7 1125L1725.2 1114.5L1750.7 1080.7L1776.1 1048.1L1786.6 1033.8L1793 1024.6L1801.4 1011.5L1822.6 976.4L1831.1 962.9L1837.4 953.5L1843.7 945L1847.8 939.9L1854 933.3L1858.1 929.6L1862.2 926.5L1864.2 925.2L1866.2 924.2L1868.2 923.4L1870.2 922.8L1872.2 922.5L1874.2 922.4L1876.1 922.6M1786.4 1203L1781.9 1197.9L1775.3 1191L1770.9 1187L1764.3 1181.6L1759.9 1178.4L1753.3 1173.8L1729.3 1158L1718.4 1150.6L1709.8 1144.1L1701.2 1136.8L1692.7 1128.6L1684.1 1119.5L1658.7 1090.2L1648.1 1078.6L1637.6 1067.5L1625.1 1055L1606.3 1037.1L1585.7 1018.3L1563.3 998.4L1533 972.1M1607 1178.4L1613.7 1174.2L1620.4 1170.3L1629.3 1165.5L1651.4 1154.2L1660.1 1149.2L1666.6 1145.1L1675.3 1139L1681.7 1133.7L1688.2 1127.8L1694.6 1121.2L1698.9 1116.3L1703.2 1111.1L1707.4 1105.6L1713.8 1097L1737.2 1063.8L1758.4 1034L1771.1 1015.5L1779.6 1002.3L1785.9 991.8L1809.3 950.7L1815.6 939.8L1824.1 926.3L1830.4 917.2L1836.7 909.2L1840.8 904.6L1845 900.7L1849.1 897.4L1853.1 895L1855.1 894.2L1857.1 893.5L1859.1 893.2L1861.1 893L1863.1 893.2M1799.8 1196.4L1795.4 1191.1L1790.9 1186.3L1786.5 1181.9L1779.9 1175.8L1771.1 1168.5L1747.1 1149.8L1736.3 1141.2L1725.5 1132.1L1716.9 1124.2L1708.3 1115.6L1699.8 1106.3L1672.2 1074.1L1661.6 1062.3L1649 1048.8L1634.3 1033.8L1609.4 1009.2L1586.8 987.8L1566.4 969.5L1556.3 960.8L1546.2 952.5M1593.6 1169.9L1600.3 1165.3L1607 1161L1637.9 1142.3L1646.6 1136.5L1653.2 1131.9L1661.8 1125L1668.3 1119.3L1672.6 1115.2L1676.9 1110.8L1683.3 1103.6L1687.6 1098.4L1694 1090.2L1700.4 1081.5L1706.7 1072.4L1736.5 1028.8L1744.9 1016L1753.4 1002.7L1761.9 988.6L1770.4 973.6L1776.7 961.7L1793.8 929L1802.3 913.2L1810.8 898.8L1817.1 889.2L1823.4 880.9L1827.6 876.3L1831.7 872.5L1835.8 869.5L1837.9 868.3L1839.9 867.5L1841.9 866.9L1843.9 866.5L1845.9 866.5L1847.9 866.7L1849.9 867.2M1813 1190.8L1806.4 1183L1797.6 1173.6L1791.1 1167.1L1773.6 1150.6L1760.5 1137.9L1745.4 1122.9L1734.6 1111.8L1726.1 1102.6L1719.6 1095.4L1689.9 1061L1677.2 1046.9L1660.3 1029.1L1616.6 984L1600.1 967.7L1591.9 960L1585.8 954.5L1577.6 947.6L1571.5 942.7L1565.5 938.2L1559.5 934M1580.3 1161.4L1618 1135.2L1628.9 1127L1637.6 1120L1648.4 1110.5L1657 1102.1L1665.6 1092.8L1674.2 1082.7L1680.6 1074.5L1686.9 1065.9L1695.4 1054L1703.9 1041.6L1712.4 1029L1720.9 1016L1729.4 1002.6L1735.7 992.1L1746.3 973.6L1754.8 957.7L1763.3 940.8L1780.4 906L1788.9 889.5L1793.2 881.7L1797.4 874.4L1803.8 864.6L1808 858.8L1812.2 853.8L1816.3 849.7L1820.5 846.5L1822.5 845.3L1824.5 844.3L1826.6 843.6L1828.6 843.2L1830.6 843.2L1832.6 843.4L1834.6 843.9L1836.6 844.8M1826.1 1186.8L1821.7 1181.3L1815.2 1173.5L1793.4 1149L1784.7 1138.9L1739.5 1084.1L1720.3 1061.2L1703.3 1041.7L1688.4 1025.6L1656.9 992.6L1629.9 964L1619.5 953.5L1611.3 945.6L1601 936.4L1594.9 931.4L1590.9 928.3L1584.8 924L1580.8 921.5L1576.8 919.2L1572.8 917.2M1567.1 1152.9L1582.7 1141.9L1595.9 1131.8L1609.1 1121L1620 1111.4L1626.5 1105.2L1632.9 1098.8L1643.7 1087.5L1654.4 1075.2L1665.1 1062.1L1677.8 1045.1L1684.2 1036.2L1692.7 1023.9L1699 1014.2L1705.4 1004.2L1716 986.6L1726.5 967.9L1737.1 947.9L1745.6 931.1L1764.8 892L1773.3 875.4L1781.8 860.2L1788.1 850L1794.4 841.2L1798.6 836.2L1802.8 832L1806.9 828.7L1809 827.4L1811.1 826.3L1813.1 825.6L1815.1 825L1817.2 824.8L1819.2 824.9L1821.2 825.2L1823.2 825.9M1839 1185L1830.3 1172.9L1810.9 1147.4L1802.2 1135.7L1767.9 1086.6L1752.9 1066L1744.4 1054.9L1733.7 1041.7L1723 1029L1710.3 1014.5L1689.2 991.3L1657.7 957.8L1643.1 942.9L1630.7 931.1L1624.5 925.6L1618.4 920.6L1612.3 916L1606.2 911.8L1600.1 908.2L1596.1 906.2L1590 903.6L1586.1 902.3M1554 1144.6L1565.2 1137L1571.8 1131.9L1578.4 1126.6L1589.4 1117L1595.9 1110.9L1602.4 1104.5L1615.4 1090.9L1628.3 1076.4L1643.2 1058.5L1658.2 1039.6L1668.8 1025.2L1679.4 1009.8L1687.8 996.5L1696.3 982.3L1704.7 967.3L1715.3 947.7L1744.9 890.6L1753.4 874.7L1759.7 863.3L1764 856.1L1768.2 849.1L1772.4 842.6L1778.7 833.7L1782.9 828.4L1787.1 823.7L1789.2 821.5L1793.3 817.7L1797.5 814.6L1801.6 812.3L1805.7 810.8L1807.7 810.3L1809.7 810.1M1849.1 1182.1L1845.3 1174.8L1838.9 1163.9L1815.3 1126.9L1783.3 1074.5L1774.8 1061.2L1768.4 1051.5L1757.7 1036.2L1744.9 1019.1L1730 1000.5L1713.1 980.3L1702.5 968.1L1694.1 958.6L1685.6 949.5L1677.2 940.7L1668.9 932.4L1662.6 926.4L1654.3 919L1648.1 913.9L1641.9 909.1L1635.7 904.8L1629.6 900.8L1623.5 897.4L1617.4 894.5L1611.3 892.1L1605.3 890.3L1599.3 889M1541 1136.5L1545.5 1133.6L1552.2 1128.9L1556.6 1125.4L1563.2 1119.9L1567.6 1116L1574.1 1109.9L1585 1098.8L1597.9 1084.4L1610.8 1069L1632.2 1042.3L1647 1023.1L1655.5 1011.5L1661.9 1002.3L1668.2 992.7L1674.5 982.4L1680.9 971.5L1687.2 960.2L1712.5 913.1L1725.1 890.4L1737.8 868.8L1744.1 858.5L1750.4 848.8L1756.7 839.5L1763 830.9L1769.3 822.9L1775.6 815.6L1781.8 809.1L1786 805.2L1792.1 800.2L1796.2 797.4M1854.9 1169.4L1851.6 1161.3L1847.4 1152.1L1839 1135.7L1805.1 1073.5L1794.5 1054.8L1786 1040.4L1779.6 1030.1L1771.1 1016.8L1764.7 1007.3L1756.2 995.1L1747.7 983.4L1739.2 972.2L1730.7 961.3L1722.2 950.8L1713.7 940.8L1707.4 933.7L1698.9 924.7L1692.6 918.5L1684.2 910.8L1678 905.5L1671.7 900.6L1665.5 896.2L1657.2 891L1651 887.6L1644.9 884.7L1638.7 882.2L1630.6 879.6L1624.6 878.2L1618.6 877.3L1612.6 876.8M1528.1 1128.4L1532.6 1125.4L1537 1122.2L1541.4 1118.7L1548 1113L1552.4 1109L1559 1102.5L1569.8 1091L1580.6 1078.5L1593.4 1062.6L1608.4 1043.3L1629.6 1015.3L1638.1 1003.7L1644.4 994.7L1650.8 985.3L1657.1 975.3L1667.6 957.4L1690.8 915.5L1699.2 900.7L1709.7 883.4L1720.2 867.3L1726.5 858.1L1734.9 846.3L1741.2 837.8L1749.5 827L1757.9 816.6L1766.2 806.5L1782.8 787.4M1864.2 1158.9L1860.2 1146.6L1856.1 1135.4L1852 1125.1L1845.7 1110.9L1837.3 1093.2L1828.9 1076.2L1820.5 1059.8L1812 1044L1801.4 1024.9L1790.8 1006.5L1780.2 988.6L1771.7 975L1763.2 961.9L1754.7 949.6L1746.2 938.1L1739.8 930.1L1733.4 922.5L1727.1 915.4L1720.7 908.8L1712.3 900.7L1705.9 895.2L1697.5 888.6L1691.2 884.2L1682.9 879.1L1676.6 875.8L1668.4 872.1L1662.2 869.9L1654 867.5L1647.9 866.3L1639.8 865.2L1633.8 864.9L1625.8 865.2M1515.3 1120.6L1522 1115.4L1530.8 1107.7L1539.5 1099.3L1548.2 1090.2L1556.8 1080.4L1567.6 1067.6L1578.3 1054L1588.9 1039.9L1605.9 1016.8L1618.6 999.2L1629.2 984L1637.6 971.3L1643.9 961.4L1650.2 951L1671.2 914.7L1679.6 900.6L1688 887.2L1696.4 874.8L1704.8 863.1L1713.2 852L1723.6 838.8L1750.7 805L1761.1 791.5L1769.4 780M1875.4 1149.7L1868.9 1127.3L1864.9 1114.3L1860.8 1102.1L1856.7 1090.7L1852.6 1080.2L1848.5 1070.3L1844.3 1061L1838 1047.7L1829.6 1031L1821.2 1015.1L1795.8 968.6L1785.2 949.7L1778.8 938.9L1772.4 928.6L1766 919.2L1759.6 910.6L1753.2 902.9L1746.8 896.1L1740.4 890L1734.1 884.5L1725.6 878.1L1717.1 872.4L1708.7 867.4L1700.3 863.1L1691.9 859.5L1683.6 856.6L1675.4 854.4L1669.2 853.3L1661.1 852.3L1652.9 852.1L1644.9 852.6L1638.9 853.4M1502.6 1113L1509.2 1106.9L1518 1098.4L1524.5 1091.6L1533.2 1082.2L1541.8 1072.3L1550.4 1061.9L1558.9 1051.1L1567.5 1039.9L1578.1 1025.5L1590.8 1007.6L1603.5 989.3L1614 973.7L1630.8 947.9L1660.2 901L1666.5 891.4L1672.8 882.2L1681.2 870.8L1691.6 857.4L1720.8 822.5L1733.2 807.1L1739.4 798.9L1745.7 790.4L1751.9 781.3L1756 775M1887.2 1140.9L1873.6 1092.6L1865.6 1066.2L1859.6 1048.2L1855.5 1037.4L1851.3 1027.5L1847.1 1018.4L1840.8 1005.5L1819.7 965.4L1802.8 932.3L1796.5 920.2L1790.1 908.7L1785.9 901.6L1779.5 891.8L1775.2 886.1L1770.9 880.9L1764.5 874.3L1758.1 868.8L1751.7 864.2L1745.3 860.3L1736.7 855.9L1726.1 851.1L1715.6 846.9L1707.2 844L1698.9 841.7L1690.6 839.9L1682.4 838.8L1674.2 838.4L1666 838.6L1662 839.1L1658 839.7L1652 841M1490 1105.7L1505.3 1089.3L1520.4 1072.1L1535.4 1053.9L1548.2 1037.4L1561 1020.1L1573.6 1002L1586.3 983.3L1611.5 945L1628.3 919.8L1638.8 904.5L1649.3 889.8L1657.6 878.7L1668.1 865.7L1678.5 853.5L1703.5 825L1715.9 810L1724.2 799.3L1730.4 790.8L1736.5 781.8L1742.7 772.1M1898.9 1132.2L1884.3 1078.9L1874.4 1044.3L1870.4 1031.1L1866.4 1018.5L1862.3 1006.9L1860.3 1001.5L1856.1 991.5L1849.9 978L1833.1 944.5L1816.2 909.4L1809.9 896.6L1803.6 884.6L1799.3 877.2L1795.1 870.4L1790.8 864.4L1786.5 859.1L1784.3 856.8L1780 852.7L1775.7 849.2L1773.6 847.7L1769.3 845L1762.8 841.8L1756.4 839.2L1743.6 835L1730.9 831.1L1720.4 828.2L1709.9 825.9L1701.6 824.6L1693.4 823.9L1685.2 823.9L1679.1 824.4L1675 825L1671 825.8L1664.9 827.5M1477.6 1098.6L1494.8 1078.2L1509.9 1059.9L1524.8 1040.9L1537.6 1023.9L1548.1 1009.1L1558.7 993.8L1567.1 981.2L1588.1 949.1L1598.6 933.5L1609.1 918.7L1619.6 904.7L1630.1 891.5L1642.6 876.6L1653.1 864.8L1682.2 833.3L1690.5 823.9L1698.7 814.2L1707 803.8L1715.2 792.7L1723.4 780.8L1729.6 771.1M1911.2 1124L1894.9 1064.1L1883.2 1022.3L1879.2 1008.9L1875.2 996.1L1869.1 978.6L1865 968.2L1858.8 954.1L1846.2 927.4L1831.6 895.6L1825.3 882.3L1819 869.7L1814.7 861.9L1808.4 851.5L1804.1 845.4L1799.8 840.3L1797.7 838L1793.3 834L1789 830.8L1786.9 829.3L1782.6 826.9L1778.2 824.9L1771.8 822.5L1765.3 820.6L1744 814.8L1733.5 812.2L1723 810L1714.7 808.8L1706.4 808.2L1698.2 808.2L1692.1 808.8L1688 809.5L1683.9 810.3L1677.9 812.1M1465.2 1091.8L1478.1 1075.9L1490.9 1059.6L1503.7 1042.8L1516.4 1025.4L1527 1010.5L1537.5 995.2L1566.9 951.1L1575.3 938.7L1583.7 926.8L1592.1 915.7L1602.6 902.9L1608.9 895.7L1615.2 888.8L1627.7 875.8L1661.1 842.5L1671.4 831.6L1679.6 822.3L1689.9 810L1698.1 799.2L1704.2 790.7L1708.3 784.6L1716.5 771.8M1925.5 1117L1909.6 1058.2L1897.9 1017.3L1894 1004.2L1890 991.8L1886 980L1881.9 969L1875.8 953.5L1869.6 939.1L1853 902.1L1842.5 879.5L1836.2 866.7L1829.9 854.8L1823.6 844L1819.3 837.7L1815 832L1812.9 829.4L1808.6 824.8L1806.5 822.7L1802.2 819L1795.7 814.3L1789.2 810.6L1782.8 807.5L1772.1 803.3L1761.4 799.5L1750.8 796.2L1740.3 793.6L1731.9 792L1723.6 791.1L1715.3 790.8L1707.1 791.2L1703 791.7L1698.9 792.4L1694.8 793.3L1690.7 794.5" fill="none" stroke="#000" stroke-width="1.5"/><path d="M1703.6 1237.4L1676.9 1221.9L1647.9 1204.2L1619.4 1186.3L1551.3 1142.9L1517 1121.6L1500.1 1111.5L1483.4 1101.9L1466.9 1092.7L1452.9 1085.3L1460.6 1076.1L1468.3 1066.5L1476 1056.3L1483.6 1045.8L1491.2 1035L1501.3 1020.1L1534.1 970.5L1546.6 951.9L1559.2 934.4L1566.8 924.5L1571.8 918.3L1581.9 906.7L1587 901.3L1594.6 893.6L1607.2 881.7L1634.7 857.2L1644.7 848.1L1654.6 838.4L1664.4 828.1L1674.3 816.7L1679.2 810.5L1684.1 804L1688.9 797.1L1693.8 789.8L1698.7 782.1L1703.6 773.8L1713.4 772.1L1718.3 771.6L1723.3 771.2L1730.7 771.1L1735.7 771.4L1740.8 771.9L1748.3 773.1L1755.9 775L1763.5 777.6L1771.1 780.9L1778.8 784.9L1786.4 789.8L1794.1 795.6L1801.8 802.2L1806.9 807.2L1814.6 815.4L1822.2 824.7L1829.9 834.9L1835 842.4L1842.6 854.5L1847.6 863.2L1852.7 872.4L1860.2 887.2L1867.7 903.1L1872.6 914.3L1880 932.1L1884.9 944.6L1889.7 957.6L1897 978L1901.7 992.1L1908.8 1014.1L1915.9 1036.7L1922.9 1059.8L1929.8 1083.4L1936.8 1108.5L1935.3 1110.4L1933.4 1112.2L1928.7 1115.2L1926.2 1116.7L1917.6 1120.4L1910 1124.7L1902.9 1129.3L1900.6 1130.9L1892 1137.6L1882.8 1144.1L1867.3 1155.9L1865.3 1157.8L1857.7 1165.3L1854.7 1169.7L1850.7 1176.5L1849.8 1179.1L1848.2 1186.1L1844.7 1185.3L1842.3 1185L1839.9 1184.9L1835 1185.2L1830.1 1185.9L1825.2 1187L1820.2 1188.4L1815.2 1190L1805.2 1194L1795.1 1198.7L1784.9 1203.8L1756.5 1218.7L1746 1223.8L1738.2 1227.3L1730.3 1230.5L1722.3 1233.3L1714.3 1235.5L1706.3 1237Z" fill="none" stroke="#000" stroke-width="1.8" stroke-linejoin="round"/><path d="M1454.8 1117.4L1437.3 820M1454.8 1117.4L1703.6 1281.4M1703.6 1281.4L1952.4 1117.4M1452.4 1077.4L1457.2 1074.6M1450 1036.5L1454.9 1033.8M1447.6 994.9L1452.5 992.2M1445.1 952.5L1450 949.8M1442.5 909.2L1447.5 906.6M1439.9 865.1L1445 862.5M1437.3 820L1442.4 817.5M1703.6 1281.4L1708.4 1278.2M1665.9 1256.5L1670.7 1253.4M1629 1232.2L1633.8 1229.2M1592.8 1208.4L1597.6 1205.4M1557.3 1185L1562.1 1182.1M1522.5 1162L1527.3 1159.2M1488.3 1139.5L1493.1 1136.7M1454.8 1117.4L1459.6 1114.7M1703.6 1281.4L1698.8 1278.2M1730 1263.9L1725.3 1260.8M1756.1 1246.7L1751.3 1243.7M1781.8 1229.8L1777.1 1226.8M1807.2 1213.1L1802.4 1210.1M1832.2 1196.6L1827.5 1193.7M1856.9 1180.3L1852.1 1177.4M1881.3 1164.3L1876.5 1161.4M1905.3 1148.5L1900.5 1145.7M1929 1132.9L1924.2 1130.1M1952.4 1117.4L1947.6 1114.7" fill="none" stroke="#000" stroke-width="1.7" stroke-linecap="square"/><g><text transform="matrix(0.8093 -0.4375 0.0589 0.9983 1440.73 1091.38)" font-size="13.5" text-anchor="end">100</text><text transform="matrix(0.8093 -0.4375 0.0589 0.9983 1438.32 1050.54)" font-size="13.5" text-anchor="end">200</text><text transform="matrix(0.8093 -0.4375 0.0589 0.9983 1435.87 1008.92)" font-size="13.5" text-anchor="end">300</text><text transform="matrix(0.8093 -0.4375 0.0589 0.9983 1433.36 966.48)" font-size="13.5" text-anchor="end">400</text><text transform="matrix(0.8093 -0.4375 0.0589 0.9983 1430.81 923.20)" font-size="13.5" text-anchor="end">500</text><text transform="matrix(0.8093 -0.4375 0.0589 0.9983 1428.21 879.05)" font-size="13.5" text-anchor="end">600</text><text transform="matrix(0.8093 -0.4375 0.0589 0.9983 1425.55 834.02)" font-size="13.5" text-anchor="end">700</text><text transform="matrix(0.7683 0.5061 -0.8351 0.5501 1678.60 1297.05)" font-size="13.5" text-anchor="middle">0</text><text transform="matrix(0.7683 0.5061 -0.8351 0.5501 1640.93 1272.24)" font-size="13.5" text-anchor="middle">10</text><text transform="matrix(0.7683 0.5061 -0.8351 0.5501 1604.00 1247.91)" font-size="13.5" text-anchor="middle">20</text><text transform="matrix(0.7683 0.5061 -0.8351 0.5501 1567.80 1224.06)" font-size="13.5" text-anchor="middle">30</text><text transform="matrix(0.7683 0.5061 -0.8351 0.5501 1532.30 1200.67)" font-size="13.5" text-anchor="middle">40</text><text transform="matrix(0.7683 0.5061 -0.8351 0.5501 1497.47 1177.73)" font-size="13.5" text-anchor="middle">50</text><text transform="matrix(0.7683 0.5061 -0.8351 0.5501 1463.31 1155.23)" font-size="13.5" text-anchor="middle">60</text><text transform="matrix(0.7683 0.5061 -0.8351 0.5501 1429.80 1133.15)" font-size="13.5" text-anchor="middle">70</text><text transform="matrix(0.7683 0.5061 -0.8351 0.5501 1707.20 1293.35)" font-size="13.5" text-anchor="start">30</text><text transform="matrix(0.7683 0.5061 -0.8351 0.5501 1733.65 1275.93)" font-size="13.5" text-anchor="start">40</text><text transform="matrix(0.7683 0.5061 -0.8351 0.5501 1759.73 1258.75)" font-size="13.5" text-anchor="start">50</text><text transform="matrix(0.7683 0.5061 -0.8351 0.5501 1785.45 1241.80)" font-size="13.5" text-anchor="start">60</text><text transform="matrix(0.7683 0.5061 -0.8351 0.5501 1810.82 1225.09)" font-size="13.5" text-anchor="start">70</text><text transform="matrix(0.7683 0.5061 -0.8351 0.5501 1835.84 1208.61)" font-size="13.5" text-anchor="start">80</text><text transform="matrix(0.7683 0.5061 -0.8351 0.5501 1860.52 1192.35)" font-size="13.5" text-anchor="start">90</text><text transform="matrix(0.7683 0.5061 -0.8351 0.5501 1884.87 1176.31)" font-size="13.5" text-anchor="start">100</text><text transform="matrix(0.7683 0.5061 -0.8351 0.5501 1908.90 1160.48)" font-size="13.5" text-anchor="start">110</text><text transform="matrix(0.7683 0.5061 -0.8351 0.5501 1932.61 1144.86)" font-size="13.5" text-anchor="start">120</text><text transform="matrix(0.7683 0.5061 -0.8351 0.5501 1956.00 1129.45)" font-size="13.5" text-anchor="start">130</text></g><g font-weight="bold"><text transform="matrix(0.6347 0.4181 -0.8351 0.5501 1519.00 1231.00)" font-size="20" text-anchor="middle">Pretreatment time [min]</text><text transform="matrix(0.6363 -0.4192 0.8351 0.5501 1889.70 1239.00)" font-size="20" text-anchor="middle">Pretreatment pressure [PSI]</text><text transform="matrix(0.0453 0.7687 -0.8797 0.4755 1387.50 996.20)" font-size="20" text-anchor="middle">Glucose concentration</text><text transform="matrix(0.0453 0.7687 -0.8797 0.4755 1366.10 1014.80)" font-size="20" text-anchor="middle">[mg/g biomass of wheat straw]</text><text x="1366" y="712" font-size="62">F</text></g></g></svg></body></html>
